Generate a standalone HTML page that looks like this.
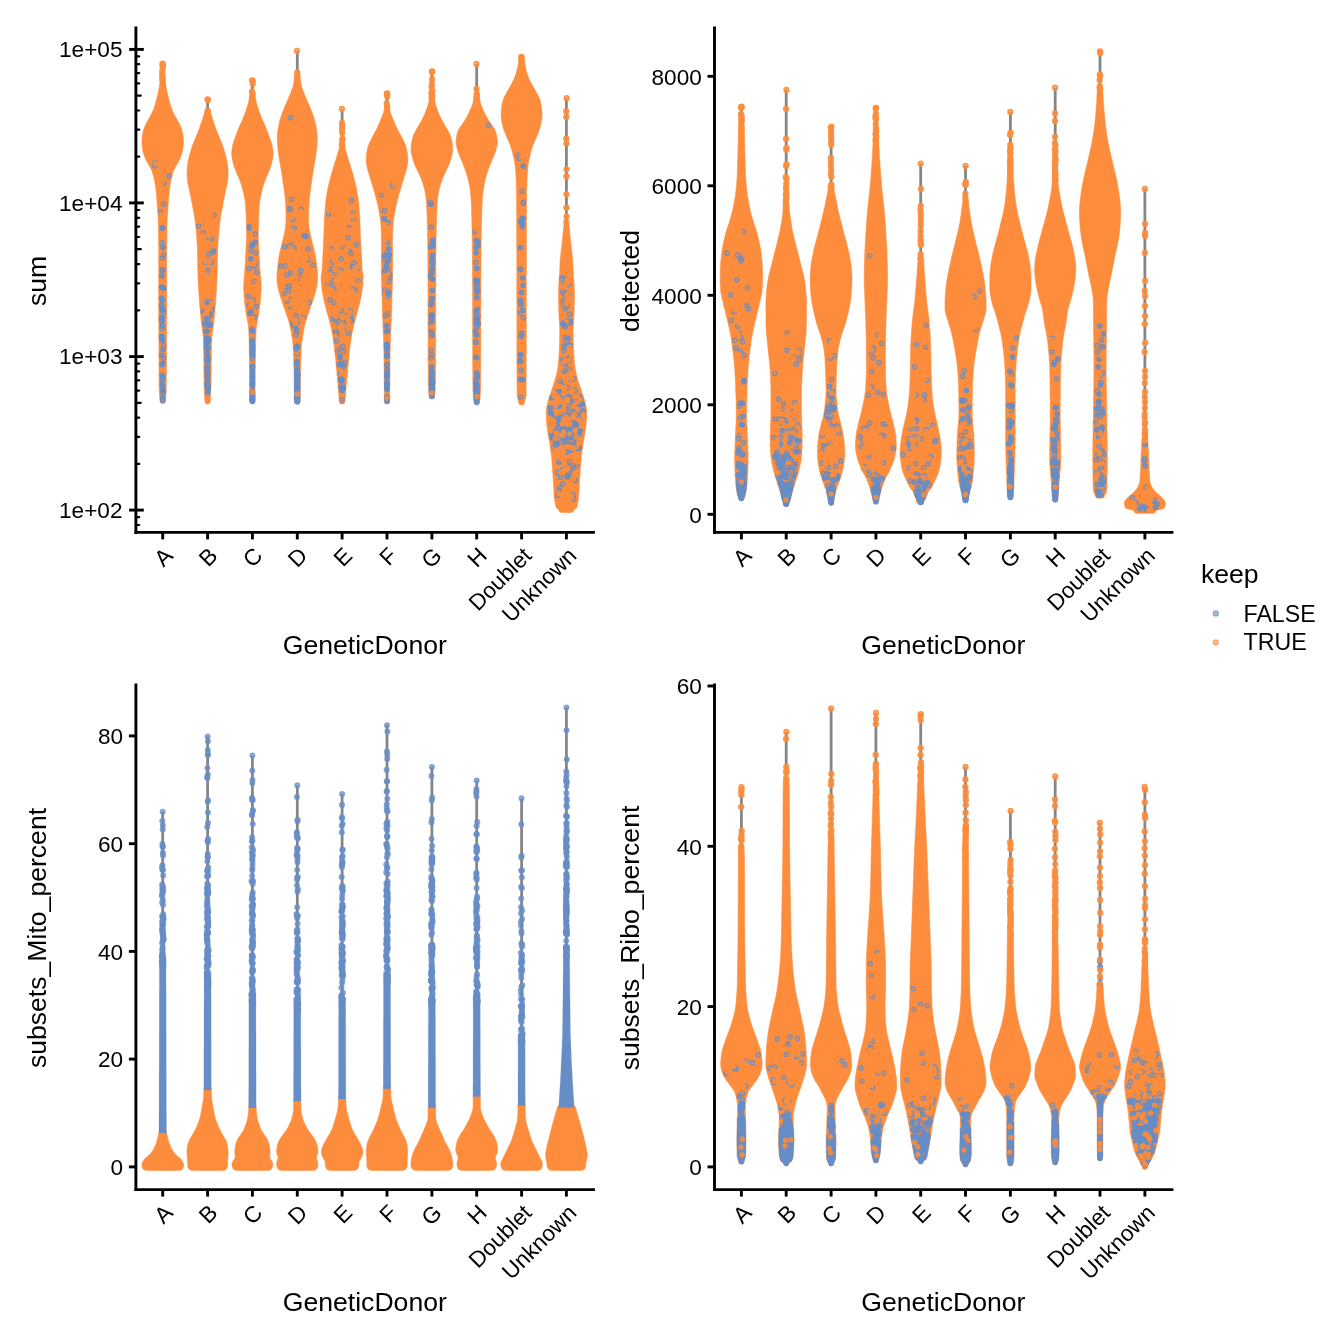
<!DOCTYPE html>
<html><head><meta charset="utf-8"><title>QC violin plots</title>
<style>html,body{margin:0;padding:0;background:#fff;width:1344px;height:1344px;overflow:hidden;font-family:"Liberation Sans",sans-serif}</style>
</head><body>
<svg width="1344" height="1344" viewBox="0 0 1344 1344" style="position:absolute;left:0;top:0;will-change:transform;transform:translateZ(0)">
<rect width="1344" height="1344" fill="#fff"/>
<path d="M162.7 63.9V400.9M207.6 99.3V401.2M252.4 80.5V401.2M297.3 51V401.2M342.1 109V401.2M387 93.4V401.2M431.9 71.4V396.2M476.7 64V402.2M521.6 56.8V402.2M566.4 98.2V509.8M741.4 106.7V498.2M786.2 90V503.9M831.1 126.7V502.6M875.9 108V501.2M920.7 163.6V502.2M965.5 165.8V500.2M1010.4 112V497.2M1055.2 87.7V499.2M1100 51.3V495.6M1144.9 189V510.5M741.4 787.2V1161.5M786.2 732V1163.2M831.1 708.4V1163.2M875.9 712.9V1160.2M920.7 714.2V1161.2M965.5 767V1164.2M1010.4 811V1163.2M1055.2 776.5V1162.2M1100 823V1158.2M1144.9 787V1166.8M162.7 811.8V1131.5M207.6 736.6V1088.4M252.4 755.5V1106.3M297.3 785.4V1099.6M342.1 794V1097.4M387 725.2V1087.3M431.9 767V1106.3M476.7 780.5V1095M521.6 798.4V1104M566.4 707.5V1106" fill="none" stroke="#868686" stroke-width="2.8"/>
<g fill="#FD8D3C" stroke="#FD8D3C" stroke-opacity=".55" stroke-width="1">
<path d="M159.7 83L165.7 83L165.9 85L166.1 87L166.5 89L166.9 91L167.3 93L167.7 95L168.2 97L168.7 99L169.2 101L169.8 103L170.4 105L171 107L171.7 109L172.5 111L173.5 113L174.5 115L175.6 117L176.7 119L177.8 121L178.9 123L179.9 125L180.8 127L181.5 129L182.1 131L182.6 133L182.9 135L183.1 137L183.3 139L183.4 141L183.4 143L183.3 145L183.1 147L182.8 149L182.5 151L182 153L181.4 155L180.6 157L179.7 159L178.7 161L177.7 163L176.5 165L175.3 167L174.3 169L173.5 171L172.8 173L172.2 175L171.7 177L171.2 179L170.8 181L170.4 183L170.1 185L169.8 187L169.5 189L169.3 191L169.1 193L168.9 195L168.7 197L168.6 199L168.4 201L168.3 203L168.2 205L168 207L167.9 209L167.7 211L167.6 213L167.5 215L167.3 217L167.2 219L167.1 221L167.1 223L167 225L167 227L167 229L166.9 231L166.9 233L166.9 235L166.9 237L166.8 239L166.8 241L166.8 243L166.8 245L166.8 247L166.7 249L166.7 251L166.7 253L166.7 255L166.7 257L166.7 259L166.7 261L166.7 263L166.7 265L166.7 267L166.7 269L166.7 271L166.7 273L166.7 275L166.7 277L166.7 279L166.7 281L166.7 283L166.7 285L166.7 287L166.7 289L166.7 291L166.7 293L166.7 295L166.7 297L166.7 299L166.7 301L166.7 303L166.7 305L166.7 307L166.7 309L166.7 311L166.7 313L166.7 315L166.7 317L166.7 319L166.7 321L166.6 323L166.6 325L166.6 327L166.6 329L166.6 331L166.6 333L166.6 335L166.6 337L166.6 339L166.5 341L166.5 343L166.5 345L166.5 347L166.5 349L166.5 351L166.5 353L166.5 355L166.5 357L166.5 359L166.4 361L166.4 363L166.4 365L166.4 367L166.4 369L166.4 371L166.4 373L166.4 375L166.4 377L166.3 379L166.3 381L166.3 383L166.3 385L166.2 387L166.2 389L166.2 391L166.1 393L165.9 395L165.8 397L165.6 399L165.4 401Q165.4 403.7 162.7 403.7L162.7 403.7Q160 403.7 160 401L159.8 399L159.6 397L159.5 395L159.3 393L159.2 391L159.2 389L159.2 387L159.1 385L159.1 383L159.1 381L159.1 379L159 377L159 375L159 373L159 371L159 369L159 367L159 365L159 363L159 361L158.9 359L158.9 357L158.9 355L158.9 353L158.9 351L158.9 349L158.9 347L158.9 345L158.9 343L158.9 341L158.8 339L158.8 337L158.8 335L158.8 333L158.8 331L158.8 329L158.8 327L158.8 325L158.8 323L158.7 321L158.7 319L158.7 317L158.7 315L158.7 313L158.7 311L158.7 309L158.7 307L158.7 305L158.7 303L158.7 301L158.7 299L158.7 297L158.7 295L158.7 293L158.7 291L158.7 289L158.7 287L158.7 285L158.7 283L158.7 281L158.7 279L158.7 277L158.7 275L158.7 273L158.7 271L158.7 269L158.7 267L158.7 265L158.7 263L158.7 261L158.7 259L158.7 257L158.7 255L158.7 253L158.7 251L158.7 249L158.6 247L158.6 245L158.6 243L158.6 241L158.6 239L158.5 237L158.5 235L158.5 233L158.5 231L158.4 229L158.4 227L158.4 225L158.3 223L158.3 221L158.2 219L158.1 217L157.9 215L157.8 213L157.7 211L157.5 209L157.4 207L157.2 205L157.1 203L157 201L156.8 199L156.7 197L156.5 195L156.3 193L156.1 191L155.9 189L155.6 187L155.3 185L155 183L154.6 181L154.2 179L153.7 177L153.2 175L152.6 173L151.9 171L151.1 169L150.1 167L148.9 165L147.7 163L146.7 161L145.7 159L144.8 157L144 155L143.4 153L142.9 151L142.6 149L142.3 147L142.1 145L142 143L142 141L142.1 139L142.3 137L142.5 135L142.8 133L143.3 131L143.9 129L144.6 127L145.5 125L146.5 123L147.6 121L148.7 119L149.8 117L150.9 115L151.9 113L152.9 111L153.7 109L154.4 107L155 105L155.6 103L156.2 101L156.7 99L157.2 97L157.7 95L158.1 93L158.5 91L158.9 89L159.3 87L159.5 85L159.7 83Z"/>
<path d="M204.6 111L210.5 111L210.8 113L211.3 115L212 117L212.6 119L213.2 121L213.8 123L214.5 125L215.2 127L215.9 129L216.7 131L217.5 133L218.4 135L219.2 137L220 139L220.8 141L221.6 143L222.4 145L223.1 147L223.8 149L224.4 151L224.9 153L225.5 155L226 157L226.5 159L227 161.1L227.3 163.1L227.6 165.1L227.8 167.1L227.9 169.1L228 171.1L228.1 173.1L228 175.1L227.9 177.1L227.7 179.1L227.6 181.1L227.3 183.1L226.9 185.1L226.4 187.1L225.9 189.1L225.5 191.1L225.1 193.1L224.7 195.1L224.3 197.1L223.9 199.1L223.5 201.1L223.1 203.1L222.8 205.1L222.4 207.1L222 209.1L221.6 211.1L221.3 213.1L220.9 215.1L220.6 217.1L220.3 219.1L220.1 221.1L219.8 223.1L219.6 225.1L219.3 227.1L219.1 229.1L218.9 231.1L218.7 233.1L218.6 235.1L218.4 237.1L218.3 239.1L218.1 241.1L218 243.1L217.9 245.1L217.8 247.1L217.7 249.1L217.6 251.1L217.6 253.1L217.5 255.1L217.5 257.2L217.5 259.2L217.5 261.2L217.4 263.2L217.4 265.2L217.4 267.2L217.4 269.2L217.3 271.2L217.3 273.2L217.2 275.2L217.1 277.2L217 279.2L216.9 281.2L216.8 283.2L216.7 285.2L216.6 287.2L216.5 289.2L216.4 291.2L216.2 293.2L216.1 295.2L216 297.2L215.8 299.2L215.7 301.2L215.6 303.2L215.4 305.2L215.2 307.2L215 309.2L214.9 311.2L214.7 313.2L214.5 315.2L214.3 317.2L214.1 319.2L213.9 321.2L213.7 323.2L213.4 325.2L213.2 327.2L212.9 329.2L212.6 331.2L212.3 333.2L212 335.2L211.8 337.2L211.7 339.2L211.6 341.2L211.6 343.2L211.5 345.2L211.5 347.2L211.5 349.2L211.4 351.2L211.4 353.3L211.4 355.3L211.4 357.3L211.4 359.3L211.3 361.3L211.3 363.3L211.3 365.3L211.3 367.3L211.3 369.3L211.3 371.3L211.2 373.3L211.2 375.3L211.2 377.3L211.2 379.3L211.1 381.3L211.1 383.3L211.1 385.3L211 387.3L210.9 389.3L210.8 391.3L210.7 393.3L210.6 395.3L210.5 397.3L210.4 399.3L210.3 401.3Q210.3 404 207.6 404L207.6 404Q204.9 404 204.9 401.3L204.7 399.3L204.6 397.3L204.5 395.3L204.4 393.3L204.3 391.3L204.2 389.3L204.1 387.3L204.1 385.3L204 383.3L204 381.3L204 379.3L203.9 377.3L203.9 375.3L203.9 373.3L203.9 371.3L203.8 369.3L203.8 367.3L203.8 365.3L203.8 363.3L203.8 361.3L203.8 359.3L203.7 357.3L203.7 355.3L203.7 353.3L203.7 351.2L203.6 349.2L203.6 347.2L203.6 345.2L203.5 343.2L203.5 341.2L203.4 339.2L203.3 337.2L203.1 335.2L202.9 333.2L202.6 331.2L202.3 329.2L202 327.2L201.7 325.2L201.4 323.2L201.2 321.2L201 319.2L200.8 317.2L200.6 315.2L200.4 313.2L200.3 311.2L200.1 309.2L199.9 307.2L199.7 305.2L199.6 303.2L199.4 301.2L199.3 299.2L199.1 297.2L199 295.2L198.9 293.2L198.8 291.2L198.6 289.2L198.5 287.2L198.4 285.2L198.3 283.2L198.2 281.2L198.1 279.2L198 277.2L197.9 275.2L197.9 273.2L197.8 271.2L197.8 269.2L197.7 267.2L197.7 265.2L197.7 263.2L197.7 261.2L197.6 259.2L197.6 257.2L197.6 255.1L197.6 253.1L197.5 251.1L197.4 249.1L197.4 247.1L197.2 245.1L197.1 243.1L197 241.1L196.9 239.1L196.7 237.1L196.6 235.1L196.4 233.1L196.2 231.1L196 229.1L195.8 227.1L195.6 225.1L195.3 223.1L195.1 221.1L194.8 219.1L194.5 217.1L194.2 215.1L193.9 213.1L193.5 211.1L193.1 209.1L192.7 207.1L192.4 205.1L192 203.1L191.6 201.1L191.2 199.1L190.8 197.1L190.4 195.1L190 193.1L189.6 191.1L189.2 189.1L188.7 187.1L188.2 185.1L187.8 183.1L187.6 181.1L187.4 179.1L187.2 177.1L187.1 175.1L187.1 173.1L187.1 171.1L187.2 169.1L187.4 167.1L187.6 165.1L187.8 163.1L188.1 161.1L188.6 159L189.1 157L189.6 155L190.2 153L190.8 151L191.4 149L192 147L192.7 145L193.5 143L194.3 141L195.1 139L195.9 137L196.8 135L197.6 133L198.4 131L199.2 129L199.9 127L200.6 125L201.3 123L202 121L202.6 119L203.2 117L203.8 115L204.3 113L204.6 111Z"/>
<path d="M249.4 97L255.4 97L255.7 99L256 101L256.4 103L257 105L257.7 107L258.3 109L259 111L259.7 113L260.5 115L261.2 117L262 119L262.9 121L263.8 123L264.7 125L265.6 127L266.4 129L267.2 131L268 133L268.7 135L269.4 137L270.1 139L270.8 141L271.5 143L272 145L272.4 147L272.8 149.1L273 151.1L273.1 153.1L273 155.1L272.8 157.1L272.5 159.1L272.1 161.1L271.6 163.1L271.2 165.1L270.5 167.1L269.8 169.1L269 171.1L268.2 173.1L267.4 175.1L266.5 177.1L265.6 179.1L264.8 181.1L264.1 183.1L263.4 185.1L262.8 187.1L262.3 189.1L261.8 191.1L261.4 193.1L260.9 195.1L260.4 197.1L260.1 199.1L259.7 201.1L259.5 203.1L259.3 205.1L259.2 207.1L259.1 209.1L258.9 211.1L258.8 213.1L258.8 215.1L258.7 217.1L258.6 219.1L258.6 221.1L258.5 223.1L258.5 225.1L258.4 227.1L258.4 229.1L258.3 231.1L258.3 233.1L258.3 235.1L258.3 237.1L258.4 239.1L258.4 241.1L258.5 243.1L258.6 245.1L258.7 247.1L258.8 249.2L258.9 251.2L259 253.2L259.1 255.2L259.2 257.2L259.3 259.2L259.5 261.2L259.6 263.2L259.7 265.2L259.8 267.2L260 269.2L260.1 271.2L260.3 273.2L260.4 275.2L260.6 277.2L260.8 279.2L260.9 281.2L261.1 283.2L261.1 285.2L261.2 287.2L261.1 289.2L261.1 291.2L260.9 293.2L260.8 295.2L260.6 297.2L260.5 299.2L260.3 301.2L260.1 303.2L259.8 305.2L259.6 307.2L259.3 309.2L259 311.2L258.7 313.2L258.4 315.2L258 317.2L257.7 319.2L257.3 321.2L256.9 323.2L256.6 325.2L256.3 327.2L256.1 329.2L256 331.2L256 333.2L255.9 335.2L255.9 337.2L255.8 339.2L255.8 341.2L255.7 343.2L255.7 345.2L255.6 347.2L255.6 349.2L255.5 351.3L255.5 353.3L255.5 355.3L255.4 357.3L255.4 359.3L255.4 361.3L255.4 363.3L255.3 365.3L255.3 367.3L255.3 369.3L255.3 371.3L255.2 373.3L255.2 375.3L255.2 377.3L255.2 379.3L255.2 381.3L255.2 383.3L255.2 385.3L255.1 387.3L255.1 389.3L255.1 391.3L255.1 393.3L255.1 395.3L255.1 397.3L255.1 399.3L255.1 401.3Q255.1 404 252.4 404L252.4 404Q249.7 404 249.7 401.3L249.7 399.3L249.7 397.3L249.7 395.3L249.7 393.3L249.7 391.3L249.7 389.3L249.7 387.3L249.7 385.3L249.7 383.3L249.7 381.3L249.6 379.3L249.6 377.3L249.6 375.3L249.6 373.3L249.6 371.3L249.6 369.3L249.5 367.3L249.5 365.3L249.5 363.3L249.5 361.3L249.4 359.3L249.4 357.3L249.4 355.3L249.3 353.3L249.3 351.3L249.3 349.2L249.2 347.2L249.2 345.2L249.1 343.2L249.1 341.2L249 339.2L249 337.2L248.9 335.2L248.9 333.2L248.8 331.2L248.7 329.2L248.5 327.2L248.3 325.2L247.9 323.2L247.6 321.2L247.2 319.2L246.8 317.2L246.5 315.2L246.2 313.2L245.9 311.2L245.6 309.2L245.3 307.2L245 305.2L244.7 303.2L244.5 301.2L244.4 299.2L244.2 297.2L244 295.2L243.9 293.2L243.8 291.2L243.7 289.2L243.7 287.2L243.7 285.2L243.8 283.2L243.9 281.2L244.1 279.2L244.2 277.2L244.4 275.2L244.6 273.2L244.7 271.2L244.9 269.2L245 267.2L245.1 265.2L245.3 263.2L245.4 261.2L245.5 259.2L245.6 257.2L245.7 255.2L245.8 253.2L245.9 251.2L246 249.2L246.1 247.1L246.2 245.1L246.3 243.1L246.4 241.1L246.5 239.1L246.5 237.1L246.5 235.1L246.5 233.1L246.5 231.1L246.5 229.1L246.4 227.1L246.4 225.1L246.3 223.1L246.3 221.1L246.2 219.1L246.2 217.1L246.1 215.1L246 213.1L245.9 211.1L245.8 209.1L245.7 207.1L245.5 205.1L245.3 203.1L245.1 201.1L244.8 199.1L244.4 197.1L244 195.1L243.5 193.1L243 191.1L242.5 189.1L242 187.1L241.4 185.1L240.8 183.1L240.1 181.1L239.3 179.1L238.4 177.1L237.5 175.1L236.6 173.1L235.9 171.1L235.1 169.1L234.3 167.1L233.7 165.1L233.2 163.1L232.8 161.1L232.4 159.1L232 157.1L231.8 155.1L231.7 153.1L231.8 151.1L232.1 149.1L232.4 147L232.8 145L233.3 143L234 141L234.7 139L235.4 137L236.1 135L236.8 133L237.6 131L238.4 129L239.2 127L240.1 125L241 123L242 121L242.8 119L243.6 117L244.4 115L245.1 113L245.8 111L246.5 109L247.2 107L247.8 105L248.4 103L248.8 101L249.1 99L249.4 97Z"/>
<path d="M294.6 72A2.7 2.7 0 0 1 300 72L300 74L300.1 76L300.3 78L300.5 80L300.7 82L300.9 84L301.4 86.1L302 88.1L302.8 90.1L303.5 92.1L304.3 94.1L305.1 96.1L306 98.1L306.9 100.1L307.8 102.1L308.6 104.1L309.5 106.1L310.3 108.1L311.1 110.1L311.9 112.2L312.7 114.2L313.4 116.2L314 118.2L314.6 120.2L315.1 122.2L315.6 124.2L316 126.2L316.3 128.2L316.6 130.2L316.9 132.2L317.1 134.2L317.3 136.2L317.3 138.3L317.2 140.3L317.1 142.3L317 144.3L316.9 146.3L316.7 148.3L316.5 150.3L316.2 152.3L316 154.3L315.7 156.3L315.4 158.3L315 160.3L314.7 162.3L314.3 164.4L314 166.4L313.6 168.4L313.2 170.4L312.9 172.4L312.6 174.4L312.3 176.4L312.1 178.4L311.8 180.4L311.5 182.4L311.2 184.4L310.9 186.4L310.6 188.4L310.3 190.4L310.1 192.5L309.8 194.5L309.6 196.5L309.4 198.5L309.2 200.5L309.1 202.5L309 204.5L308.9 206.5L308.8 208.5L308.7 210.5L308.6 212.5L308.6 214.5L308.5 216.5L308.5 218.6L308.6 220.6L308.7 222.6L308.8 224.6L308.9 226.6L309.2 228.6L309.5 230.6L310 232.6L310.4 234.6L310.8 236.6L311.3 238.6L311.8 240.6L312.3 242.6L312.8 244.7L313.4 246.7L313.9 248.7L314.4 250.7L314.8 252.7L315.2 254.7L315.5 256.7L315.9 258.7L316.2 260.7L316.4 262.7L316.7 264.7L316.9 266.7L317.1 268.7L317.3 270.8L317.5 272.8L317.6 274.8L317.7 276.8L317.7 278.8L317.5 280.8L317.3 282.8L317 284.8L316.7 286.8L316.3 288.8L315.8 290.8L315.2 292.8L314.6 294.8L314 296.9L313.4 298.9L312.7 300.9L312 302.9L311.3 304.9L310.6 306.9L309.9 308.9L309.2 310.9L308.5 312.9L307.8 314.9L307.2 316.9L306.5 318.9L305.9 320.9L305.3 323L304.8 325L304.3 327L303.9 329L303.5 331L303.2 333L302.9 335L302.6 337L302.3 339L302 341L301.7 343L301.5 345L301.4 347L301.3 349.1L301.2 351.1L301.1 353.1L301 355.1L301 357.1L300.9 359.1L300.8 361.1L300.8 363.1L300.7 365.1L300.7 367.1L300.6 369.1L300.6 371.1L300.5 373.1L300.5 375.2L300.4 377.2L300.4 379.2L300.3 381.2L300.3 383.2L300.3 385.2L300.3 387.2L300.2 389.2L300.2 391.2L300.2 393.2L300.2 395.2L300.2 397.2L300.2 399.2L300.2 401.2Q300.2 404 297.4 404L297.1 404Q294.4 404 294.4 401.2L294.4 399.2L294.4 397.2L294.4 395.2L294.4 393.2L294.3 391.2L294.3 389.2L294.3 387.2L294.3 385.2L294.2 383.2L294.2 381.2L294.2 379.2L294.1 377.2L294.1 375.2L294.1 373.1L294 371.1L294 369.1L293.9 367.1L293.8 365.1L293.8 363.1L293.7 361.1L293.7 359.1L293.6 357.1L293.5 355.1L293.4 353.1L293.4 351.1L293.3 349.1L293.2 347L293 345L292.8 343L292.6 341L292.3 339L292 337L291.7 335L291.4 333L291 331L290.7 329L290.2 327L289.7 325L289.2 323L288.7 320.9L288.1 318.9L287.4 316.9L286.7 314.9L286 312.9L285.4 310.9L284.6 308.9L283.9 306.9L283.2 304.9L282.5 302.9L281.9 300.9L281.2 298.9L280.5 296.9L279.9 294.8L279.3 292.8L278.7 290.8L278.2 288.8L277.9 286.8L277.5 284.8L277.2 282.8L277 280.8L276.9 278.8L276.9 276.8L277 274.8L277.1 272.8L277.3 270.8L277.5 268.7L277.7 266.7L277.9 264.7L278.1 262.7L278.4 260.7L278.7 258.7L279 256.7L279.4 254.7L279.7 252.7L280.2 250.7L280.7 248.7L281.2 246.7L281.7 244.7L282.2 242.6L282.7 240.6L283.2 238.6L283.7 236.6L284.2 234.6L284.6 232.6L285 230.6L285.4 228.6L285.6 226.6L285.8 224.6L285.9 222.6L286 220.6L286 218.6L286 216.5L286 214.5L285.9 212.5L285.9 210.5L285.8 208.5L285.7 206.5L285.6 204.5L285.5 202.5L285.3 200.5L285.1 198.5L284.9 196.5L284.7 194.5L284.5 192.5L284.2 190.4L284 188.4L283.7 186.4L283.3 184.4L283 182.4L282.8 180.4L282.5 178.4L282.3 176.4L282 174.4L281.7 172.4L281.3 170.4L281 168.4L280.6 166.4L280.2 164.4L279.9 162.3L279.5 160.3L279.2 158.3L278.9 156.3L278.6 154.3L278.3 152.3L278.1 150.3L277.9 148.3L277.7 146.3L277.6 144.3L277.4 142.3L277.4 140.3L277.3 138.3L277.3 136.2L277.4 134.2L277.6 132.2L277.9 130.2L278.2 128.2L278.6 126.2L279 124.2L279.4 122.2L280 120.2L280.5 118.2L281.2 116.2L281.9 114.2L282.7 112.2L283.5 110.1L284.3 108.1L285.1 106.1L286 104.1L286.8 102.1L287.7 100.1L288.5 98.1L289.4 96.1L290.3 94.1L291 92.1L291.8 90.1L292.5 88.1L293.2 86.1L293.6 84L293.9 82L294.1 80L294.3 78L294.4 76L294.5 74L294.6 72Z"/>
<path d="M339.3 148L345 148L345.5 150L346.1 152L346.8 154L347.3 156L347.9 158L348.5 160.1L349.2 162.1L349.8 164.1L350.4 166.1L351 168.1L351.6 170.1L352.2 172.1L352.8 174.1L353.3 176.1L353.9 178.1L354.5 180.2L355 182.2L355.5 184.2L355.9 186.2L356.4 188.2L356.8 190.2L357.1 192.2L357.4 194.2L357.8 196.2L358.1 198.2L358.3 200.3L358.6 202.3L358.8 204.3L359 206.3L359.1 208.3L359.3 210.3L359.4 212.3L359.6 214.3L359.7 216.3L359.8 218.3L359.9 220.4L360 222.4L360 224.4L360.1 226.4L360.2 228.4L360.3 230.4L360.3 232.4L360.4 234.4L360.5 236.4L360.6 238.4L360.7 240.5L360.8 242.5L360.9 244.5L361 246.5L361.1 248.5L361.2 250.5L361.3 252.5L361.4 254.5L361.5 256.5L361.6 258.5L361.7 260.6L361.8 262.6L361.9 264.6L362 266.6L362.1 268.6L362.3 270.6L362.6 272.6L362.9 274.6L363.1 276.6L363.1 278.6L363.1 280.7L362.9 282.7L362.8 284.7L362.6 286.7L362.4 288.7L362.1 290.7L361.7 292.7L361.4 294.7L361 296.7L360.6 298.7L360.1 300.8L359.7 302.8L359.2 304.8L358.7 306.8L358.1 308.8L357.6 310.8L357 312.8L356.5 314.8L356 316.8L355.4 318.8L354.9 320.9L354.3 322.9L353.8 324.9L353.3 326.9L352.9 328.9L352.5 330.9L352.1 332.9L351.7 334.9L351.4 336.9L351.1 338.9L350.8 341L350.5 343L350.2 345L350 347L349.7 349L349.5 351L349.3 353L349.1 355L348.9 357L348.7 359L348.5 361.1L348.3 363.1L348.1 365.1L347.9 367.1L347.7 369.1L347.6 371.1L347.4 373.1L347.2 375.1L347 377.1L346.8 379.1L346.7 381.2L346.5 383.2L346.3 385.2L346.2 387.2L346 389.2L345.8 391.2L345.7 393.2L345.5 395.2L345.3 397.2L345.2 399.2L345 401.2Q345 404 342.3 404L342 404Q339.2 404 339.2 401.2L339.1 399.2L338.9 397.2L338.8 395.2L338.6 393.2L338.5 391.2L338.3 389.2L338.1 387.2L338 385.2L337.8 383.2L337.6 381.2L337.4 379.1L337.3 377.1L337.1 375.1L336.9 373.1L336.7 371.1L336.5 369.1L336.3 367.1L336.2 365.1L336 363.1L335.8 361.1L335.6 359L335.4 357L335.2 355L335 353L334.8 351L334.5 349L334.3 347L334 345L333.8 343L333.5 341L333.2 338.9L332.9 336.9L332.5 334.9L332.2 332.9L331.8 330.9L331.4 328.9L331 326.9L330.5 324.9L329.9 322.9L329.4 320.9L328.9 318.8L328.3 316.8L327.8 314.8L327.2 312.8L326.7 310.8L326.1 308.8L325.6 306.8L325.1 304.8L324.6 302.8L324.1 300.8L323.7 298.7L323.3 296.7L322.9 294.7L322.5 292.7L322.2 290.7L321.9 288.7L321.7 286.7L321.5 284.7L321.3 282.7L321.2 280.7L321.1 278.6L321.2 276.6L321.4 274.6L321.7 272.6L322 270.6L322.2 268.6L322.3 266.6L322.4 264.6L322.5 262.6L322.6 260.6L322.7 258.5L322.8 256.5L322.9 254.5L323 252.5L323.1 250.5L323.2 248.5L323.3 246.5L323.4 244.5L323.5 242.5L323.6 240.5L323.7 238.4L323.8 236.4L323.9 234.4L323.9 232.4L324 230.4L324.1 228.4L324.2 226.4L324.2 224.4L324.3 222.4L324.4 220.4L324.5 218.3L324.6 216.3L324.7 214.3L324.9 212.3L325 210.3L325.2 208.3L325.3 206.3L325.5 204.3L325.7 202.3L326 200.3L326.2 198.2L326.5 196.2L326.8 194.2L327.2 192.2L327.5 190.2L327.9 188.2L328.4 186.2L328.8 184.2L329.3 182.2L329.8 180.2L330.4 178.1L330.9 176.1L331.5 174.1L332.1 172.1L332.7 170.1L333.3 168.1L333.9 166.1L334.5 164.1L335.1 162.1L335.8 160.1L336.4 158L337 156L337.5 154L338.2 152L338.8 150L339.3 148Z"/>
<path d="M384 110L390 110L390.2 112L390.9 114L391.7 116L392.6 118L393.4 120L394.2 122.1L395 124.1L395.9 126.1L396.8 128.1L397.8 130.1L398.9 132.1L400 134.1L401.1 136.1L402.1 138.1L403.1 140.1L404.2 142.1L405.1 144.2L405.8 146.2L406.4 148.2L406.8 150.2L407.2 152.2L407.4 154.2L407.6 156.2L407.8 158.2L407.8 160.2L407.7 162.2L407.4 164.2L407.1 166.3L406.7 168.3L406.2 170.3L405.5 172.3L404.9 174.3L404.3 176.3L403.7 178.3L403.1 180.3L402.5 182.3L401.9 184.3L401.3 186.3L400.7 188.3L400.1 190.4L399.5 192.4L398.9 194.4L398.4 196.4L397.8 198.4L397.3 200.4L396.8 202.4L396.4 204.4L395.9 206.4L395.5 208.4L395.1 210.4L394.8 212.5L394.4 214.5L394.1 216.5L393.8 218.5L393.5 220.5L393.3 222.5L393.1 224.5L393 226.5L392.9 228.5L392.8 230.5L392.7 232.5L392.7 234.6L392.6 236.6L392.6 238.6L392.5 240.6L392.5 242.6L392.5 244.6L392.5 246.6L392.5 248.6L392.6 250.6L392.6 252.6L392.6 254.6L392.7 256.7L392.7 258.7L392.7 260.7L392.7 262.7L392.7 264.7L392.7 266.7L392.6 268.7L392.6 270.7L392.6 272.7L392.6 274.7L392.5 276.7L392.5 278.8L392.4 280.8L392.4 282.8L392.3 284.8L392.3 286.8L392.2 288.8L392.2 290.8L392.1 292.8L392.1 294.8L392 296.8L391.9 298.8L391.9 300.9L391.8 302.9L391.8 304.9L391.7 306.9L391.6 308.9L391.6 310.9L391.5 312.9L391.5 314.9L391.4 316.9L391.3 318.9L391.2 320.9L391.2 323L391.1 325L391 327L390.9 329L390.8 331L390.7 333L390.6 335L390.6 337L390.5 339L390.4 341L390.3 343L390.3 345L390.2 347.1L390.2 349.1L390.2 351.1L390.1 353.1L390.1 355.1L390.1 357.1L390 359.1L390 361.1L390 363.1L390 365.1L389.9 367.1L389.9 369.2L389.9 371.2L389.9 373.2L389.8 375.2L389.8 377.2L389.8 379.2L389.8 381.2L389.8 383.2L389.8 385.2L389.7 387.2L389.7 389.2L389.7 391.3L389.7 393.3L389.7 395.3L389.7 397.3L389.7 399.3L389.7 401.3Q389.7 404 387 404L387 404Q384.3 404 384.3 401.3L384.3 399.3L384.3 397.3L384.3 395.3L384.3 393.3L384.3 391.3L384.3 389.2L384.3 387.2L384.2 385.2L384.2 383.2L384.2 381.2L384.2 379.2L384.2 377.2L384.2 375.2L384.1 373.2L384.1 371.2L384.1 369.2L384.1 367.1L384 365.1L384 363.1L384 361.1L384 359.1L383.9 357.1L383.9 355.1L383.9 353.1L383.8 351.1L383.8 349.1L383.8 347.1L383.7 345L383.7 343L383.6 341L383.5 339L383.4 337L383.4 335L383.3 333L383.2 331L383.1 329L383 327L382.9 325L382.8 323L382.8 320.9L382.7 318.9L382.6 316.9L382.5 314.9L382.5 312.9L382.4 310.9L382.4 308.9L382.3 306.9L382.2 304.9L382.2 302.9L382.1 300.9L382.1 298.8L382 296.8L381.9 294.8L381.9 292.8L381.8 290.8L381.8 288.8L381.7 286.8L381.7 284.8L381.6 282.8L381.6 280.8L381.5 278.8L381.5 276.7L381.4 274.7L381.4 272.7L381.4 270.7L381.4 268.7L381.3 266.7L381.3 264.7L381.3 262.7L381.3 260.7L381.3 258.7L381.3 256.7L381.4 254.6L381.4 252.6L381.4 250.6L381.5 248.6L381.5 246.6L381.5 244.6L381.5 242.6L381.5 240.6L381.4 238.6L381.4 236.6L381.3 234.6L381.3 232.5L381.2 230.5L381.1 228.5L381 226.5L380.9 224.5L380.7 222.5L380.5 220.5L380.2 218.5L379.9 216.5L379.6 214.5L379.2 212.5L378.9 210.4L378.5 208.4L378.1 206.4L377.6 204.4L377.2 202.4L376.7 200.4L376.2 198.4L375.6 196.4L375.1 194.4L374.5 192.4L373.9 190.4L373.3 188.3L372.7 186.3L372.1 184.3L371.5 182.3L370.9 180.3L370.3 178.3L369.7 176.3L369.1 174.3L368.5 172.3L367.8 170.3L367.3 168.3L366.9 166.3L366.6 164.2L366.3 162.2L366.2 160.2L366.2 158.2L366.4 156.2L366.6 154.2L366.8 152.2L367.2 150.2L367.6 148.2L368.2 146.2L368.9 144.2L369.8 142.1L370.9 140.1L371.9 138.1L372.9 136.1L374 134.1L375.1 132.1L376.2 130.1L377.2 128.1L378.1 126.1L379 124.1L379.8 122.1L380.6 120L381.4 118L382.3 116L383.1 114L383.8 112L384 110Z"/>
<path d="M428.9 101L434.9 101L435.2 103L435.7 105L436.3 107L437 109L437.7 111L438.5 113.1L439.4 115.1L440.3 117.1L441.3 119.1L442.4 121.1L443.5 123.1L444.7 125.1L445.9 127.1L447 129.1L448.1 131.1L449.2 133.1L450.2 135.2L450.9 137.2L451.5 139.2L451.9 141.2L452.2 143.2L452.4 145.2L452.6 147.2L452.7 149.2L452.6 151.2L452.3 153.2L451.9 155.2L451.4 157.2L450.9 159.3L450.2 161.3L449.5 163.3L448.7 165.3L447.8 167.3L446.8 169.3L445.8 171.3L444.9 173.3L444 175.3L443.1 177.3L442.3 179.3L441.5 181.4L440.8 183.4L440.2 185.4L439.6 187.4L439.1 189.4L438.7 191.4L438.3 193.4L438 195.4L437.7 197.4L437.5 199.4L437.3 201.4L437.2 203.5L437.1 205.5L437 207.5L436.9 209.5L436.8 211.5L436.7 213.5L436.6 215.5L436.6 217.5L436.5 219.5L436.5 221.5L436.4 223.5L436.4 225.5L436.3 227.6L436.3 229.6L436.2 231.6L436.2 233.6L436.2 235.6L436.1 237.6L436.1 239.6L436.1 241.6L436 243.6L436 245.6L436 247.6L436 249.7L435.9 251.7L435.9 253.7L435.9 255.7L435.9 257.7L435.9 259.7L435.8 261.7L435.8 263.7L435.8 265.7L435.8 267.7L435.8 269.7L435.8 271.8L435.8 273.8L435.8 275.8L435.8 277.8L435.8 279.8L435.8 281.8L435.8 283.8L435.7 285.8L435.7 287.8L435.7 289.8L435.7 291.8L435.7 293.8L435.7 295.9L435.7 297.9L435.7 299.9L435.7 301.9L435.7 303.9L435.7 305.9L435.7 307.9L435.7 309.9L435.7 311.9L435.7 313.9L435.7 315.9L435.7 318L435.7 320L435.7 322L435.7 324L435.7 326L435.7 328L435.7 330L435.7 332L435.7 334L435.7 336L435.7 338L435.7 340.1L435.6 342.1L435.6 344.1L435.6 346.1L435.6 348.1L435.6 350.1L435.6 352.1L435.6 354.1L435.6 356.1L435.6 358.1L435.6 360.1L435.6 362.1L435.6 364.2L435.6 366.2L435.5 368.2L435.5 370.2L435.5 372.2L435.5 374.2L435.5 376.2L435.5 378.2L435.5 380.2L435.4 382.2L435.3 384.2L435.2 386.3L435.1 388.3L435 390.3L434.8 392.3L434.7 394.3L434.6 396.3Q434.6 399 431.9 399L431.9 399Q429.2 399 429.2 396.3L429 394.3L428.9 392.3L428.7 390.3L428.6 388.3L428.5 386.3L428.4 384.2L428.3 382.2L428.3 380.2L428.2 378.2L428.2 376.2L428.2 374.2L428.2 372.2L428.2 370.2L428.2 368.2L428.2 366.2L428.2 364.2L428.1 362.1L428.1 360.1L428.1 358.1L428.1 356.1L428.1 354.1L428.1 352.1L428.1 350.1L428.1 348.1L428.1 346.1L428.1 344.1L428.1 342.1L428.1 340.1L428.1 338L428.1 336L428.1 334L428.1 332L428 330L428 328L428 326L428 324L428 322L428 320L428 318L428 315.9L428 313.9L428 311.9L428 309.9L428 307.9L428 305.9L428 303.9L428 301.9L428 299.9L428 297.9L428 295.9L428 293.8L428 291.8L428 289.8L428 287.8L428 285.8L428 283.8L428 281.8L428 279.8L427.9 277.8L427.9 275.8L427.9 273.8L427.9 271.8L427.9 269.7L427.9 267.7L427.9 265.7L427.9 263.7L427.9 261.7L427.9 259.7L427.8 257.7L427.8 255.7L427.8 253.7L427.8 251.7L427.8 249.7L427.7 247.6L427.7 245.6L427.7 243.6L427.7 241.6L427.6 239.6L427.6 237.6L427.6 235.6L427.5 233.6L427.5 231.6L427.4 229.6L427.4 227.6L427.3 225.5L427.3 223.5L427.3 221.5L427.2 219.5L427.1 217.5L427.1 215.5L427 213.5L426.9 211.5L426.8 209.5L426.7 207.5L426.6 205.5L426.5 203.5L426.4 201.4L426.2 199.4L426 197.4L425.7 195.4L425.4 193.4L425 191.4L424.6 189.4L424.1 187.4L423.5 185.4L422.9 183.4L422.2 181.4L421.5 179.3L420.6 177.3L419.7 175.3L418.8 173.3L417.9 171.3L416.9 169.3L415.9 167.3L415 165.3L414.2 163.3L413.5 161.3L412.8 159.3L412.3 157.2L411.9 155.2L411.4 153.2L411.1 151.2L411.1 149.2L411.1 147.2L411.3 145.2L411.5 143.2L411.8 141.2L412.3 139.2L412.8 137.2L413.5 135.2L414.5 133.1L415.6 131.1L416.7 129.1L417.8 127.1L419 125.1L420.2 123.1L421.4 121.1L422.4 119.1L423.4 117.1L424.3 115.1L425.2 113.1L426 111L426.7 109L427.4 107L428 105L428.6 103L428.9 101Z"/>
<path d="M473.7 98L479.7 98L479.9 100L480.2 102L480.7 104L481.5 106L482.4 108L483.2 110L484.1 112L485 114L486.1 116L487.2 118L488.3 120L489.7 122L491.1 124L492.4 126L493.9 128L495 130L495.8 132L496.3 134L496.7 136L497 138L497.3 140L497.4 142L497.3 144L497 146L496.5 148L495.9 150.1L495.3 152.1L494.5 154.1L493.7 156.1L492.9 158.1L492 160.1L491.2 162.1L490.4 164.1L489.6 166.1L488.8 168.1L488.1 170.1L487.4 172.1L486.8 174.1L486.2 176.1L485.7 178.1L485.2 180.1L484.7 182.1L484.3 184.1L483.9 186.1L483.5 188.1L483.2 190.1L483 192.1L482.8 194.1L482.6 196.1L482.4 198.1L482.3 200.1L482.2 202.1L482.1 204.1L482 206.1L481.9 208.1L481.9 210.1L481.8 212.1L481.7 214.1L481.7 216.1L481.6 218.1L481.6 220.1L481.5 222.1L481.5 224.1L481.5 226.1L481.4 228.1L481.4 230.1L481.3 232.1L481.3 234.1L481.3 236.1L481.3 238.1L481.2 240.1L481.2 242.1L481.2 244.1L481.1 246.1L481.1 248.1L481.1 250.2L481.1 252.2L481.1 254.2L481 256.2L481 258.2L481 260.2L481 262.2L481 264.2L481 266.2L481 268.2L481 270.2L480.9 272.2L480.9 274.2L480.9 276.2L480.9 278.2L480.9 280.2L480.9 282.2L480.9 284.2L480.9 286.2L480.9 288.2L480.9 290.2L480.9 292.2L480.9 294.2L480.9 296.2L480.9 298.2L480.9 300.2L480.9 302.2L480.9 304.2L480.8 306.2L480.8 308.2L480.8 310.2L480.8 312.2L480.8 314.2L480.8 316.2L480.8 318.2L480.8 320.2L480.8 322.2L480.8 324.2L480.8 326.2L480.8 328.2L480.8 330.2L480.8 332.2L480.8 334.2L480.8 336.2L480.8 338.2L480.8 340.2L480.8 342.2L480.8 344.2L480.8 346.2L480.8 348.2L480.8 350.2L480.8 352.3L480.7 354.3L480.7 356.3L480.7 358.3L480.7 360.3L480.7 362.3L480.7 364.3L480.7 366.3L480.7 368.3L480.7 370.3L480.7 372.3L480.6 374.3L480.6 376.3L480.6 378.3L480.6 380.3L480.6 382.3L480.6 384.3L480.6 386.3L480.5 388.3L480.5 390.3L480.4 392.3L480.3 394.3L480.1 396.3L479.9 398.3L479.6 400.3L479.4 402.3Q479.4 405 476.7 405L476.7 405Q474 405 474 402.3L473.8 400.3L473.6 398.3L473.4 396.3L473.2 394.3L473 392.3L472.9 390.3L472.9 388.3L472.9 386.3L472.9 384.3L472.9 382.3L472.8 380.3L472.8 378.3L472.8 376.3L472.8 374.3L472.8 372.3L472.8 370.3L472.8 368.3L472.7 366.3L472.7 364.3L472.7 362.3L472.7 360.3L472.7 358.3L472.7 356.3L472.7 354.3L472.7 352.3L472.7 350.2L472.7 348.2L472.7 346.2L472.7 344.2L472.7 342.2L472.7 340.2L472.6 338.2L472.6 336.2L472.6 334.2L472.6 332.2L472.6 330.2L472.6 328.2L472.6 326.2L472.6 324.2L472.6 322.2L472.6 320.2L472.6 318.2L472.6 316.2L472.6 314.2L472.6 312.2L472.6 310.2L472.6 308.2L472.6 306.2L472.6 304.2L472.6 302.2L472.6 300.2L472.6 298.2L472.6 296.2L472.6 294.2L472.6 292.2L472.6 290.2L472.6 288.2L472.5 286.2L472.5 284.2L472.5 282.2L472.5 280.2L472.5 278.2L472.5 276.2L472.5 274.2L472.5 272.2L472.5 270.2L472.5 268.2L472.5 266.2L472.4 264.2L472.4 262.2L472.4 260.2L472.4 258.2L472.4 256.2L472.4 254.2L472.4 252.2L472.3 250.2L472.3 248.1L472.3 246.1L472.3 244.1L472.2 242.1L472.2 240.1L472.2 238.1L472.2 236.1L472.1 234.1L472.1 232.1L472.1 230.1L472 228.1L472 226.1L471.9 224.1L471.9 222.1L471.8 220.1L471.8 218.1L471.7 216.1L471.7 214.1L471.6 212.1L471.6 210.1L471.5 208.1L471.5 206.1L471.4 204.1L471.3 202.1L471.1 200.1L471 198.1L470.8 196.1L470.7 194.1L470.5 192.1L470.3 190.1L470 188.1L469.6 186.1L469.2 184.1L468.7 182.1L468.3 180.1L467.8 178.1L467.2 176.1L466.6 174.1L466 172.1L465.3 170.1L464.6 168.1L463.8 166.1L463 164.1L462.2 162.1L461.4 160.1L460.5 158.1L459.7 156.1L459 154.1L458.2 152.1L457.5 150.1L457 148L456.5 146L456.1 144L456 142L456.2 140L456.4 138L456.7 136L457.1 134L457.7 132L458.4 130L459.5 128L461 126L462.4 124L463.8 122L465.1 120L466.3 118L467.4 116L468.4 114L469.3 112L470.2 110L471.1 108L471.9 106L472.7 104L473.2 102L473.5 100L473.7 98Z"/>
<path d="M518.9 57A2.7 2.7 0 0 1 524.3 57L524.5 59L524.7 61L524.9 63L525.1 65L525.4 67L525.8 69L526.4 71.1L527 73.1L527.6 75.1L528.3 77.1L529.2 79.1L530.1 81.1L531.1 83.1L532.2 85.1L533.3 87.1L534.5 89.1L535.6 91.1L536.7 93.1L537.8 95.1L538.8 97.1L539.7 99.2L540.4 101.2L540.8 103.2L541.2 105.2L541.5 107.2L541.7 109.2L541.9 111.2L542 113.2L542.1 115.2L542 117.2L541.8 119.2L541.4 121.2L541 123.2L540.6 125.2L540 127.3L539.4 129.3L538.8 131.3L538 133.3L537.2 135.3L536.4 137.3L535.5 139.3L534.6 141.3L533.7 143.3L532.8 145.3L532.1 147.3L531.5 149.3L531 151.3L530.5 153.3L530 155.4L529.5 157.4L529.1 159.4L528.7 161.4L528.4 163.4L528.1 165.4L527.9 167.4L527.7 169.4L527.5 171.4L527.3 173.4L527.2 175.4L527.1 177.4L527 179.4L526.9 181.5L526.9 183.5L526.8 185.5L526.8 187.5L526.7 189.5L526.7 191.5L526.7 193.5L526.6 195.5L526.6 197.5L526.6 199.5L526.6 201.5L526.6 203.5L526.5 205.5L526.5 207.5L526.5 209.6L526.5 211.6L526.5 213.6L526.5 215.6L526.5 217.6L526.5 219.6L526.5 221.6L526.5 223.6L526.5 225.6L526.5 227.6L526.5 229.6L526.4 231.6L526.4 233.6L526.4 235.6L526.4 237.7L526.4 239.7L526.4 241.7L526.4 243.7L526.4 245.7L526.4 247.7L526.4 249.7L526.4 251.7L526.4 253.7L526.4 255.7L526.4 257.7L526.4 259.7L526.4 261.7L526.4 263.7L526.4 265.8L526.4 267.8L526.4 269.8L526.4 271.8L526.3 273.8L526.3 275.8L526.3 277.8L526.3 279.8L526.3 281.8L526.3 283.8L526.3 285.8L526.3 287.8L526.3 289.8L526.3 291.9L526.3 293.9L526.3 295.9L526.3 297.9L526.3 299.9L526.3 301.9L526.3 303.9L526.3 305.9L526.3 307.9L526.3 309.9L526.3 311.9L526.3 313.9L526.3 315.9L526.3 317.9L526.3 320L526.3 322L526.3 324L526.3 326L526.3 328L526.3 330L526.3 332L526.3 334L526.3 336L526.3 338L526.3 340L526.3 342L526.3 344L526.3 346L526.3 348.1L526.3 350.1L526.3 352.1L526.2 354.1L526.2 356.1L526.2 358.1L526.2 360.1L526.2 362.1L526.2 364.1L526.2 366.1L526.2 368.1L526.2 370.1L526.2 372.1L526.2 374.1L526.2 376.2L526.2 378.2L526.2 380.2L526.1 382.2L526.1 384.2L526.1 386.2L526.1 388.2L526.1 390.2L526.1 392.2L526.1 394.2L526 396.2L525.6 398.2L525 400.2L524.5 402.2Q524.5 405 521.7 405L521.4 405Q518.7 405 518.7 402.2L518.1 400.2L517.6 398.2L517.2 396.2L517.1 394.2L517.1 392.2L517.1 390.2L517 388.2L517 386.2L517 384.2L517 382.2L517 380.2L517 378.2L517 376.2L517 374.1L517 372.1L517 370.1L517 368.1L516.9 366.1L516.9 364.1L516.9 362.1L516.9 360.1L516.9 358.1L516.9 356.1L516.9 354.1L516.9 352.1L516.9 350.1L516.9 348.1L516.9 346L516.9 344L516.9 342L516.9 340L516.9 338L516.9 336L516.9 334L516.9 332L516.9 330L516.9 328L516.9 326L516.9 324L516.9 322L516.9 320L516.9 317.9L516.9 315.9L516.9 313.9L516.9 311.9L516.9 309.9L516.9 307.9L516.9 305.9L516.8 303.9L516.8 301.9L516.8 299.9L516.8 297.9L516.8 295.9L516.8 293.9L516.8 291.9L516.8 289.8L516.8 287.8L516.8 285.8L516.8 283.8L516.8 281.8L516.8 279.8L516.8 277.8L516.8 275.8L516.8 273.8L516.8 271.8L516.8 269.8L516.8 267.8L516.8 265.8L516.8 263.7L516.8 261.7L516.8 259.7L516.8 257.7L516.8 255.7L516.8 253.7L516.8 251.7L516.8 249.7L516.7 247.7L516.7 245.7L516.7 243.7L516.7 241.7L516.7 239.7L516.7 237.7L516.7 235.6L516.7 233.6L516.7 231.6L516.7 229.6L516.7 227.6L516.7 225.6L516.7 223.6L516.7 221.6L516.7 219.6L516.7 217.6L516.7 215.6L516.7 213.6L516.6 211.6L516.6 209.6L516.6 207.5L516.6 205.5L516.6 203.5L516.6 201.5L516.6 199.5L516.6 197.5L516.5 195.5L516.5 193.5L516.5 191.5L516.4 189.5L516.4 187.5L516.3 185.5L516.3 183.5L516.2 181.5L516.2 179.4L516.1 177.4L516 175.4L515.8 173.4L515.7 171.4L515.5 169.4L515.3 167.4L515 165.4L514.8 163.4L514.5 161.4L514.1 159.4L513.6 157.4L513.2 155.4L512.7 153.3L512.2 151.3L511.6 149.3L511 147.3L510.3 145.3L509.5 143.3L508.6 141.3L507.6 139.3L506.8 137.3L506 135.3L505.2 133.3L504.4 131.3L503.7 129.3L503.1 127.3L502.6 125.2L502.1 123.2L501.7 121.2L501.4 119.2L501.1 117.2L501.1 115.2L501.2 113.2L501.3 111.2L501.5 109.2L501.7 107.2L501.9 105.2L502.3 103.2L502.8 101.2L503.4 99.2L504.3 97.1L505.4 95.1L506.5 93.1L507.5 91.1L508.7 89.1L509.9 87.1L511 85.1L512 83.1L513 81.1L514 79.1L514.8 77.1L515.6 75.1L516.2 73.1L516.8 71.1L517.3 69L517.8 67L518.1 65L518.3 63L518.5 61L518.7 59L518.9 57Z"/>
<path d="M563.7 226A2.7 2.7 0 0 1 569.1 226L569.3 228L569.5 230L569.7 232L569.8 234L570 236.1L570.3 238.1L570.5 240.1L570.7 242.1L571 244.1L571.2 246.1L571.4 248.1L571.7 250.1L571.9 252.2L572.1 254.2L572.3 256.2L572.5 258.2L572.7 260.2L572.8 262.2L572.9 264.2L573 266.2L573.1 268.3L573.2 270.3L573.3 272.3L573.4 274.3L573.6 276.3L573.7 278.3L573.8 280.3L574 282.3L574.1 284.4L574.2 286.4L574.3 288.4L574.3 290.4L574.4 292.4L574.4 294.4L574.4 296.4L574.4 298.4L574.4 300.5L574.4 302.5L574.3 304.5L574.2 306.5L574.2 308.5L574.1 310.5L574 312.5L574 314.5L573.9 316.6L573.8 318.6L573.6 320.6L573.5 322.6L573.4 324.6L573.3 326.6L573.2 328.6L573.1 330.6L573.1 332.7L573.2 334.7L573.2 336.7L573.3 338.7L573.3 340.7L573.4 342.7L573.4 344.7L573.5 346.7L573.6 348.8L573.7 350.8L573.7 352.8L573.8 354.8L574 356.8L574.1 358.8L574.3 360.8L574.4 362.8L574.7 364.9L574.9 366.9L575.2 368.9L575.6 370.9L576 372.9L576.5 374.9L577 376.9L577.5 378.9L578.1 381L578.8 383L579.4 385L580.1 387L580.8 389L581.4 391L582.1 393L582.8 395L583.5 397.1L584.2 399.1L584.8 401.1L585.3 403.1L585.7 405.1L586.1 407.1L586.4 409.1L586.6 411.1L586.6 413.2L586.6 415.2L586.5 417.2L586.5 419.2L586.4 421.2L586.2 423.2L586 425.2L585.7 427.2L585.5 429.3L585.2 431.3L584.9 433.3L584.6 435.3L584.2 437.3L583.9 439.3L583.5 441.3L583.1 443.3L582.8 445.4L582.5 447.4L582.2 449.4L582 451.4L581.7 453.4L581.5 455.4L581.3 457.4L581.1 459.4L580.9 461.5L580.8 463.5L580.6 465.5L580.4 467.5L580.3 469.5L580.2 471.5L580 473.5L579.9 475.5L579.8 477.6L579.7 479.6L579.5 481.6L579.4 483.6L579.3 485.6L579.2 487.6L579.1 489.6L579 491.6L578.9 493.7L578.7 495.7L578.6 497.7L578.4 499.7L578 501.7L577.5 503.7L577.1 505.7L576.8 507.7L573.9 509.8Q573.9 512.5 571.2 512.5L561.7 512.5Q558.9 512.5 558.9 509.8L556.1 507.7L555.8 505.7L555.3 503.7L554.9 501.7L554.5 499.7L554.3 497.7L554.1 495.7L554 493.7L553.9 491.6L553.8 489.6L553.7 487.6L553.6 485.6L553.5 483.6L553.3 481.6L553.2 479.6L553.1 477.6L553 475.5L552.8 473.5L552.7 471.5L552.6 469.5L552.4 467.5L552.3 465.5L552.1 463.5L551.9 461.5L551.8 459.4L551.6 457.4L551.4 455.4L551.2 453.4L550.9 451.4L550.7 449.4L550.4 447.4L550.1 445.4L549.7 443.3L549.4 441.3L549 439.3L548.7 437.3L548.3 435.3L548 433.3L547.7 431.3L547.4 429.3L547.1 427.2L546.9 425.2L546.7 423.2L546.5 421.2L546.4 419.2L546.3 417.2L546.3 415.2L546.2 413.2L546.3 411.1L546.4 409.1L546.8 407.1L547.2 405.1L547.6 403.1L548.1 401.1L548.7 399.1L549.4 397.1L550.1 395L550.8 393L551.4 391L552.1 389L552.8 387L553.4 385L554.1 383L554.7 381L555.3 378.9L555.9 376.9L556.4 374.9L556.9 372.9L557.3 370.9L557.7 368.9L558 366.9L558.2 364.9L558.4 362.8L558.6 360.8L558.8 358.8L558.9 356.8L559 354.8L559.1 352.8L559.2 350.8L559.3 348.8L559.4 346.7L559.4 344.7L559.5 342.7L559.6 340.7L559.6 338.7L559.7 336.7L559.7 334.7L559.7 332.7L559.7 330.6L559.7 328.6L559.6 326.6L559.5 324.6L559.4 322.6L559.2 320.6L559.1 318.6L559 316.6L558.9 314.5L558.9 312.5L558.8 310.5L558.7 308.5L558.6 306.5L558.6 304.5L558.5 302.5L558.5 300.5L558.5 298.4L558.4 296.4L558.4 294.4L558.5 292.4L558.5 290.4L558.6 288.4L558.7 286.4L558.8 284.4L558.9 282.3L559 280.3L559.2 278.3L559.3 276.3L559.4 274.3L559.6 272.3L559.7 270.3L559.8 268.3L559.9 266.2L560 264.2L560.1 262.2L560.2 260.2L560.4 258.2L560.6 256.2L560.8 254.2L561 252.2L561.2 250.1L561.5 248.1L561.7 246.1L561.9 244.1L562.2 242.1L562.4 240.1L562.6 238.1L562.8 236.1L563 234L563.2 232L563.4 230L563.6 228L563.7 226Z"/>
<path d="M738.4 133L744.4 133L744.5 135L744.5 137L744.6 139L744.6 141L744.7 143L744.7 145L744.8 147.1L744.8 149.1L744.9 151.1L744.9 153.1L744.9 155.1L745 157.1L745 159.1L745.1 161.1L745.2 163.1L745.2 165.1L745.3 167.1L745.4 169.1L745.4 171.1L745.5 173.1L745.6 175.2L745.7 177.2L745.9 179.2L746 181.2L746.1 183.2L746.3 185.2L746.5 187.2L746.7 189.2L746.9 191.2L747.1 193.2L747.4 195.2L747.7 197.2L748.1 199.2L748.4 201.2L748.8 203.2L749.2 205.3L749.6 207.3L750 209.3L750.5 211.3L751 213.3L751.5 215.3L752 217.3L752.6 219.3L753.2 221.3L753.8 223.3L754.5 225.3L755.2 227.3L755.9 229.3L756.5 231.3L757.1 233.4L757.6 235.4L758.1 237.4L758.6 239.4L759.1 241.4L759.5 243.4L759.9 245.4L760.2 247.4L760.6 249.4L760.9 251.4L761.1 253.4L761.4 255.4L761.6 257.4L761.8 259.4L762 261.5L762.2 263.5L762.3 265.5L762.4 267.5L762.5 269.5L762.5 271.5L762.6 273.5L762.6 275.5L762.6 277.5L762.6 279.5L762.6 281.5L762.5 283.5L762.4 285.5L762.3 287.6L762.2 289.6L762.1 291.6L761.8 293.6L761.3 295.6L760.9 297.6L760.4 299.6L759.9 301.6L759.4 303.6L759 305.6L758.5 307.6L758 309.6L757.5 311.6L757 313.6L756.6 315.6L756.1 317.7L755.6 319.7L755.1 321.7L754.6 323.7L754.2 325.7L753.7 327.7L753.3 329.7L752.8 331.7L752.4 333.7L752.1 335.7L751.7 337.7L751.4 339.7L751.1 341.7L750.8 343.8L750.6 345.8L750.3 347.8L750.1 349.8L749.8 351.8L749.6 353.8L749.3 355.8L749.1 357.8L748.9 359.8L748.7 361.8L748.5 363.8L748.3 365.8L748.2 367.8L748 369.8L747.9 371.9L747.8 373.9L747.7 375.9L747.6 377.9L747.5 379.9L747.4 381.9L747.3 383.9L747.2 385.9L747.1 387.9L747.1 389.9L747 391.9L746.9 393.9L746.9 395.9L746.8 397.9L746.7 399.9L746.7 402L746.6 404L746.6 406L746.6 408L746.5 410L746.5 412L746.5 414L746.5 416L746.6 418L746.6 420L746.7 422L746.8 424L746.9 426L747 428.1L747.1 430.1L747.2 432.1L747.3 434.1L747.4 436.1L747.5 438.1L747.6 440.1L747.6 442.1L747.7 444.1L747.8 446.1L747.9 448.1L747.9 450.1L748 452.1L748.1 454.1L748.1 456.1L748.1 458.2L748.1 460.2L748.1 462.2L748 464.2L748 466.2L747.9 468.2L747.9 470.2L747.8 472.2L747.7 474.2L747.6 476.2L747.4 478.2L747.3 480.2L747.1 482.2L746.9 484.2L746.7 486.3L746.5 488.3L746.2 490.3L745.8 492.3L745.4 494.3L744.8 496.3L744.1 498.3Q744.1 501 741.4 501L741.4 501Q738.7 501 738.7 498.3L738 496.3L737.4 494.3L737 492.3L736.6 490.3L736.3 488.3L736.1 486.3L735.9 484.2L735.7 482.2L735.5 480.2L735.4 478.2L735.2 476.2L735.1 474.2L735 472.2L734.9 470.2L734.9 468.2L734.8 466.2L734.8 464.2L734.7 462.2L734.7 460.2L734.7 458.2L734.7 456.1L734.7 454.1L734.8 452.1L734.9 450.1L734.9 448.1L735 446.1L735.1 444.1L735.2 442.1L735.2 440.1L735.3 438.1L735.4 436.1L735.5 434.1L735.6 432.1L735.7 430.1L735.8 428.1L735.9 426L736 424L736.1 422L736.2 420L736.2 418L736.3 416L736.3 414L736.3 412L736.3 410L736.2 408L736.2 406L736.2 404L736.1 402L736.1 399.9L736 397.9L735.9 395.9L735.9 393.9L735.8 391.9L735.7 389.9L735.7 387.9L735.6 385.9L735.5 383.9L735.4 381.9L735.3 379.9L735.2 377.9L735.1 375.9L735 373.9L734.9 371.9L734.8 369.8L734.6 367.8L734.5 365.8L734.3 363.8L734.1 361.8L733.9 359.8L733.7 357.8L733.5 355.8L733.2 353.8L733 351.8L732.7 349.8L732.5 347.8L732.2 345.8L732 343.8L731.7 341.7L731.4 339.7L731.1 337.7L730.7 335.7L730.4 333.7L730 331.7L729.5 329.7L729.1 327.7L728.6 325.7L728.2 323.7L727.7 321.7L727.2 319.7L726.7 317.7L726.2 315.6L725.8 313.6L725.3 311.6L724.8 309.6L724.3 307.6L723.8 305.6L723.4 303.6L722.9 301.6L722.4 299.6L721.9 297.6L721.5 295.6L721 293.6L720.7 291.6L720.6 289.6L720.5 287.6L720.4 285.5L720.3 283.5L720.2 281.5L720.2 279.5L720.2 277.5L720.2 275.5L720.2 273.5L720.3 271.5L720.3 269.5L720.4 267.5L720.5 265.5L720.6 263.5L720.8 261.5L721 259.4L721.2 257.4L721.4 255.4L721.7 253.4L721.9 251.4L722.2 249.4L722.6 247.4L722.9 245.4L723.3 243.4L723.7 241.4L724.2 239.4L724.7 237.4L725.2 235.4L725.7 233.4L726.3 231.3L726.9 229.3L727.6 227.3L728.3 225.3L729 223.3L729.6 221.3L730.2 219.3L730.8 217.3L731.3 215.3L731.8 213.3L732.3 211.3L732.8 209.3L733.2 207.3L733.6 205.3L734 203.2L734.4 201.2L734.7 199.2L735.1 197.2L735.4 195.2L735.7 193.2L735.9 191.2L736.1 189.2L736.3 187.2L736.5 185.2L736.7 183.2L736.8 181.2L736.9 179.2L737.1 177.2L737.2 175.2L737.3 173.1L737.4 171.1L737.4 169.1L737.5 167.1L737.6 165.1L737.6 163.1L737.7 161.1L737.8 159.1L737.8 157.1L737.9 155.1L737.9 153.1L737.9 151.1L738 149.1L738 147.1L738.1 145L738.1 143L738.2 141L738.2 139L738.3 137L738.3 135L738.4 133Z"/>
<path d="M783.2 205L789.3 205L789.3 207L789.4 209L789.5 211L789.7 213L789.9 215L790.2 217L790.5 219L790.8 221L791.1 223.1L791.4 225.1L791.8 227.1L792.1 229.1L792.5 231.1L792.9 233.1L793.4 235.1L793.8 237.1L794.3 239.1L794.8 241.1L795.3 243.1L795.8 245.1L796.3 247.1L796.9 249.1L797.4 251.1L797.9 253.1L798.4 255.2L799 257.2L799.5 259.2L800 261.2L800.5 263.2L801 265.2L801.5 267.2L802 269.2L802.5 271.2L803.1 273.2L803.6 275.2L804 277.2L804.3 279.2L804.7 281.2L805 283.2L805.2 285.2L805.5 287.2L805.7 289.3L805.8 291.3L806 293.3L806.2 295.3L806.4 297.3L806.5 299.3L806.5 301.3L806.5 303.3L806.5 305.3L806.5 307.3L806.5 309.3L806.5 311.3L806.5 313.3L806.5 315.3L806.5 317.3L806.5 319.3L806.5 321.4L806.4 323.4L806.4 325.4L806.4 327.4L806.3 329.4L806.1 331.4L806 333.4L805.8 335.4L805.6 337.4L805.4 339.4L805.2 341.4L805 343.4L804.8 345.4L804.6 347.4L804.4 349.4L804.2 351.4L804 353.4L803.7 355.5L803.5 357.5L803.3 359.5L803.1 361.5L802.9 363.5L802.7 365.5L802.5 367.5L802.4 369.5L802.3 371.5L802.2 373.5L802.1 375.5L802 377.5L801.9 379.5L801.8 381.5L801.7 383.5L801.6 385.5L801.6 387.5L801.5 389.6L801.5 391.6L801.5 393.6L801.5 395.6L801.5 397.6L801.5 399.6L801.5 401.6L801.5 403.6L801.5 405.6L801.5 407.6L801.5 409.6L801.5 411.6L801.5 413.6L801.5 415.6L801.6 417.6L801.6 419.6L801.7 421.7L801.8 423.7L801.9 425.7L802 427.7L802.1 429.7L802.2 431.7L802.2 433.7L802.2 435.7L802.2 437.7L802.2 439.7L802.2 441.7L802.2 443.7L802.1 445.7L802.1 447.7L802 449.7L802 451.7L801.8 453.7L801.6 455.8L801.3 457.8L801.1 459.8L800.8 461.8L800.4 463.8L800 465.8L799.5 467.8L799.1 469.8L798.6 471.8L798 473.8L797.4 475.8L796.7 477.8L796.1 479.8L795.5 481.8L794.8 483.8L794.2 485.8L793.5 487.9L792.9 489.9L792.3 491.9L791.7 493.9L791.3 495.9L790.8 497.9L790.3 499.9L789.6 501.9L788.9 503.9Q788.9 506.6 786.2 506.6L786.2 506.6Q783.5 506.6 783.5 503.9L782.8 501.9L782.2 499.9L781.7 497.9L781.2 495.9L780.7 493.9L780.2 491.9L779.6 489.9L779 487.9L778.3 485.8L777.6 483.8L777 481.8L776.4 479.8L775.7 477.8L775.1 475.8L774.5 473.8L773.9 471.8L773.4 469.8L772.9 467.8L772.5 465.8L772.1 463.8L771.7 461.8L771.4 459.8L771.1 457.8L770.9 455.8L770.7 453.7L770.5 451.7L770.4 449.7L770.4 447.7L770.3 445.7L770.3 443.7L770.3 441.7L770.2 439.7L770.2 437.7L770.2 435.7L770.3 433.7L770.3 431.7L770.4 429.7L770.5 427.7L770.5 425.7L770.6 423.7L770.7 421.7L770.8 419.6L770.9 417.6L770.9 415.6L770.9 413.6L770.9 411.6L770.9 409.6L770.9 407.6L770.9 405.6L770.9 403.6L770.9 401.6L770.9 399.6L770.9 397.6L770.9 395.6L770.9 393.6L770.9 391.6L770.9 389.6L770.9 387.5L770.8 385.5L770.8 383.5L770.7 381.5L770.6 379.5L770.5 377.5L770.4 375.5L770.3 373.5L770.2 371.5L770.1 369.5L769.9 367.5L769.8 365.5L769.6 363.5L769.4 361.5L769.2 359.5L769 357.5L768.7 355.5L768.5 353.4L768.3 351.4L768.1 349.4L767.9 347.4L767.7 345.4L767.5 343.4L767.3 341.4L767.1 339.4L766.9 337.4L766.7 335.4L766.5 333.4L766.3 331.4L766.2 329.4L766.1 327.4L766 325.4L766 323.4L766 321.4L766 319.3L766 317.3L766 315.3L766 313.3L765.9 311.3L765.9 309.3L765.9 307.3L765.9 305.3L765.9 303.3L765.9 301.3L766 299.3L766.1 297.3L766.3 295.3L766.4 293.3L766.6 291.3L766.8 289.3L767 287.2L767.2 285.2L767.5 283.2L767.8 281.2L768.1 279.2L768.5 277.2L768.9 275.2L769.4 273.2L769.9 271.2L770.5 269.2L771 267.2L771.5 265.2L772 263.2L772.5 261.2L773 259.2L773.5 257.2L774 255.2L774.5 253.1L775.1 251.1L775.6 249.1L776.1 247.1L776.6 245.1L777.1 243.1L777.6 241.1L778.1 239.1L778.6 237.1L779.1 235.1L779.5 233.1L779.9 231.1L780.3 229.1L780.7 227.1L781 225.1L781.4 223.1L781.7 221L782 219L782.3 217L782.6 215L782.8 213L782.9 211L783 209L783.1 207L783.2 205Z"/>
<path d="M828 189L834.1 189L834.3 191L834.6 193L835 195L835.4 197L835.9 199.1L836.3 201.1L836.7 203.1L837.1 205.1L837.5 207.1L837.9 209.1L838.3 211.1L838.8 213.1L839.3 215.1L839.8 217.2L840.3 219.2L840.9 221.2L841.4 223.2L841.9 225.2L842.4 227.2L842.9 229.2L843.4 231.2L843.9 233.2L844.5 235.3L845 237.3L845.5 239.3L846.1 241.3L846.6 243.3L847.1 245.3L847.6 247.3L848.1 249.3L848.6 251.3L849 253.3L849.4 255.4L849.8 257.4L850.2 259.4L850.5 261.4L850.8 263.4L851.1 265.4L851.3 267.4L851.5 269.4L851.7 271.4L851.8 273.5L851.9 275.5L852 277.5L852 279.5L851.9 281.5L851.9 283.5L851.8 285.5L851.7 287.5L851.6 289.5L851.5 291.6L851.3 293.6L851.1 295.6L850.9 297.6L850.6 299.6L850.3 301.6L850 303.6L849.6 305.6L849.2 307.6L848.8 309.7L848.4 311.7L847.9 313.7L847.4 315.7L846.9 317.7L846.4 319.7L845.9 321.7L845.3 323.7L844.7 325.7L844 327.8L843.3 329.8L842.6 331.8L841.9 333.8L841.3 335.8L840.8 337.8L840.2 339.8L839.7 341.8L839.2 343.8L838.8 345.9L838.4 347.9L838.1 349.9L837.9 351.9L837.6 353.9L837.4 355.9L837.3 357.9L837.1 359.9L837 361.9L836.9 363.9L836.8 366L836.7 368L836.6 370L836.5 372L836.5 374L836.4 376L836.3 378L836.3 380L836.2 382L836.2 384.1L836.1 386.1L836.1 388.1L836.1 390.1L836.1 392.1L836.1 394.1L836.2 396.1L836.4 398.1L836.6 400.1L836.8 402.2L837 404.2L837.2 406.2L837.4 408.2L837.7 410.2L838 412.2L838.3 414.2L838.8 416.2L839.3 418.2L839.8 420.3L840.4 422.3L840.9 424.3L841.4 426.3L841.8 428.3L842.3 430.3L842.7 432.3L843.1 434.3L843.4 436.3L843.7 438.4L844 440.4L844.2 442.4L844.4 444.4L844.5 446.4L844.6 448.4L844.7 450.4L844.7 452.4L844.8 454.4L844.7 456.4L844.5 458.5L844.2 460.5L844 462.5L843.7 464.5L843.4 466.5L843.1 468.5L842.6 470.5L842.1 472.5L841.6 474.5L840.9 476.6L840.3 478.6L839.6 480.6L838.9 482.6L838.1 484.6L837.3 486.6L836.6 488.6L835.9 490.6L835.4 492.6L835 494.7L834.6 496.7L834.2 498.7L834 500.7L833.8 502.7Q833.8 505.4 831.1 505.4L831.1 505.4Q828.4 505.4 828.4 502.7L828.2 500.7L827.9 498.7L827.5 496.7L827.1 494.7L826.7 492.6L826.2 490.6L825.5 488.6L824.8 486.6L824 484.6L823.2 482.6L822.5 480.6L821.9 478.6L821.2 476.6L820.6 474.5L820 472.5L819.5 470.5L819.1 468.5L818.7 466.5L818.4 464.5L818.1 462.5L817.9 460.5L817.6 458.5L817.5 456.4L817.4 454.4L817.4 452.4L817.4 450.4L817.5 448.4L817.6 446.4L817.7 444.4L817.9 442.4L818.1 440.4L818.4 438.4L818.7 436.3L819 434.3L819.4 432.3L819.8 430.3L820.3 428.3L820.8 426.3L821.2 424.3L821.7 422.3L822.3 420.3L822.9 418.2L823.4 416.2L823.8 414.2L824.1 412.2L824.4 410.2L824.7 408.2L824.9 406.2L825.1 404.2L825.3 402.2L825.5 400.1L825.7 398.1L825.9 396.1L826 394.1L826.1 392.1L826.1 390.1L826 388.1L826 386.1L826 384.1L825.9 382L825.9 380L825.8 378L825.7 376L825.6 374L825.6 372L825.5 370L825.4 368L825.3 366L825.2 363.9L825.1 361.9L825 359.9L824.9 357.9L824.7 355.9L824.5 353.9L824.3 351.9L824 349.9L823.7 347.9L823.4 345.9L822.9 343.8L822.5 341.8L821.9 339.8L821.4 337.8L820.8 335.8L820.2 333.8L819.5 331.8L818.8 329.8L818.1 327.8L817.4 325.7L816.8 323.7L816.2 321.7L815.7 319.7L815.2 317.7L814.7 315.7L814.2 313.7L813.8 311.7L813.3 309.7L812.9 307.6L812.5 305.6L812.1 303.6L811.8 301.6L811.5 299.6L811.3 297.6L811 295.6L810.8 293.6L810.7 291.6L810.5 289.5L810.4 287.5L810.3 285.5L810.3 283.5L810.2 281.5L810.2 279.5L810.2 277.5L810.2 275.5L810.3 273.5L810.5 271.4L810.6 269.4L810.8 267.4L811 265.4L811.3 263.4L811.6 261.4L811.9 259.4L812.3 257.4L812.7 255.4L813.1 253.3L813.5 251.3L814 249.3L814.5 247.3L815 245.3L815.5 243.3L816.1 241.3L816.6 239.3L817.1 237.3L817.7 235.3L818.2 233.2L818.7 231.2L819.2 229.2L819.7 227.2L820.3 225.2L820.8 223.2L821.3 221.2L821.8 219.2L822.3 217.2L822.8 215.1L823.3 213.1L823.8 211.1L824.2 209.1L824.7 207.1L825.1 205.1L825.5 203.1L825.9 201.1L826.2 199.1L826.7 197L827.1 195L827.5 193L827.8 191L828 189Z"/>
<path d="M872.9 145.5L878.9 145.5L879 147.5L879.1 149.5L879.2 151.5L879.3 153.5L879.4 155.6L879.5 157.6L879.7 159.6L879.8 161.6L879.9 163.6L880.1 165.6L880.2 167.6L880.4 169.6L880.5 171.6L880.6 173.6L880.8 175.7L881 177.7L881.1 179.7L881.3 181.7L881.5 183.7L881.6 185.7L881.8 187.7L882 189.7L882.2 191.7L882.4 193.7L882.6 195.8L882.9 197.8L883.1 199.8L883.3 201.8L883.6 203.8L883.8 205.8L884 207.8L884.2 209.8L884.4 211.8L884.5 213.8L884.7 215.9L884.9 217.9L885 219.9L885.2 221.9L885.3 223.9L885.4 225.9L885.6 227.9L885.7 229.9L885.8 231.9L885.9 233.9L886.1 236L886.2 238L886.3 240L886.4 242L886.6 244L886.7 246L886.8 248L886.9 250L887 252L887 254L887.1 256.1L887.2 258.1L887.2 260.1L887.3 262.1L887.4 264.1L887.4 266.1L887.5 268.1L887.5 270.1L887.5 272.1L887.6 274.2L887.6 276.2L887.6 278.2L887.6 280.2L887.5 282.2L887.5 284.2L887.4 286.2L887.4 288.2L887.3 290.2L887.2 292.2L887.1 294.3L887 296.3L887 298.3L886.9 300.3L886.8 302.3L886.7 304.3L886.6 306.3L886.5 308.3L886.4 310.3L886.4 312.3L886.3 314.4L886.2 316.4L886.1 318.4L886 320.4L886 322.4L885.9 324.4L885.8 326.4L885.8 328.4L885.8 330.4L885.7 332.4L885.7 334.5L885.6 336.5L885.6 338.5L885.6 340.5L885.5 342.5L885.5 344.5L885.5 346.5L885.5 348.5L885.5 350.5L885.5 352.5L885.4 354.6L885.4 356.6L885.4 358.6L885.4 360.6L885.4 362.6L885.4 364.6L885.4 366.6L885.4 368.6L885.4 370.6L885.4 372.6L885.5 374.7L885.5 376.7L885.6 378.7L885.7 380.7L885.9 382.7L886 384.7L886.1 386.7L886.3 388.7L886.4 390.7L886.6 392.8L886.9 394.8L887.2 396.8L887.6 398.8L888 400.8L888.4 402.8L888.8 404.8L889.2 406.8L889.7 408.8L890.1 410.8L890.6 412.9L891.1 414.9L891.6 416.9L892.2 418.9L892.7 420.9L893.2 422.9L893.7 424.9L894.1 426.9L894.6 428.9L895 430.9L895.4 433L895.7 435L895.9 437L896 439L896.1 441L896.2 443L896.3 445L896.3 447L896.2 449L895.9 451L895.6 453.1L895.1 455.1L894.7 457.1L894.2 459.1L893.6 461.1L892.9 463.1L892 465.1L891.2 467.1L890.3 469.1L889.4 471.1L888.3 473.2L887.2 475.2L886.1 477.2L885.1 479.2L884.2 481.2L883.4 483.2L882.7 485.2L882.1 487.2L881.5 489.2L880.9 491.2L880.4 493.3L879.9 495.3L879.4 497.3L879 499.3L878.6 501.3Q878.6 504 875.9 504L875.9 504Q873.2 504 873.2 501.3L872.8 499.3L872.4 497.3L871.9 495.3L871.4 493.3L870.9 491.2L870.3 489.2L869.7 487.2L869 485.2L868.3 483.2L867.6 481.2L866.7 479.2L865.7 477.2L864.6 475.2L863.5 473.2L862.4 471.1L861.5 469.1L860.6 467.1L859.7 465.1L858.9 463.1L858.2 461.1L857.6 459.1L857.1 457.1L856.6 455.1L856.2 453.1L855.8 451L855.6 449L855.5 447L855.5 445L855.6 443L855.7 441L855.8 439L855.9 437L856.1 435L856.4 433L856.7 430.9L857.2 428.9L857.7 426.9L858.1 424.9L858.6 422.9L859.1 420.9L859.6 418.9L860.2 416.9L860.7 414.9L861.2 412.9L861.7 410.8L862.1 408.8L862.6 406.8L863 404.8L863.4 402.8L863.8 400.8L864.2 398.8L864.6 396.8L864.9 394.8L865.2 392.8L865.4 390.7L865.5 388.7L865.7 386.7L865.8 384.7L865.9 382.7L866 380.7L866.1 378.7L866.2 376.7L866.3 374.7L866.4 372.6L866.4 370.6L866.4 368.6L866.4 366.6L866.4 364.6L866.4 362.6L866.4 360.6L866.4 358.6L866.4 356.6L866.3 354.6L866.3 352.5L866.3 350.5L866.3 348.5L866.3 346.5L866.3 344.5L866.2 342.5L866.2 340.5L866.2 338.5L866.2 336.5L866.1 334.5L866.1 332.4L866 330.4L866 328.4L865.9 326.4L865.9 324.4L865.8 322.4L865.8 320.4L865.7 318.4L865.6 316.4L865.5 314.4L865.4 312.3L865.3 310.3L865.2 308.3L865.1 306.3L865.1 304.3L865 302.3L864.9 300.3L864.8 298.3L864.7 296.3L864.7 294.3L864.6 292.2L864.5 290.2L864.4 288.2L864.3 286.2L864.3 284.2L864.2 282.2L864.2 280.2L864.2 278.2L864.2 276.2L864.2 274.2L864.2 272.1L864.3 270.1L864.3 268.1L864.4 266.1L864.4 264.1L864.5 262.1L864.5 260.1L864.6 258.1L864.7 256.1L864.7 254L864.8 252L864.9 250L865 248L865.1 246L865.2 244L865.3 242L865.5 240L865.6 238L865.7 236L865.8 233.9L866 231.9L866.1 229.9L866.2 227.9L866.3 225.9L866.5 223.9L866.6 221.9L866.8 219.9L866.9 217.9L867.1 215.9L867.2 213.8L867.4 211.8L867.6 209.8L867.8 207.8L868 205.8L868.2 203.8L868.4 201.8L868.7 199.8L868.9 197.8L869.1 195.8L869.4 193.7L869.6 191.7L869.8 189.7L870 187.7L870.2 185.7L870.3 183.7L870.5 181.7L870.7 179.7L870.8 177.7L871 175.7L871.1 173.6L871.3 171.6L871.4 169.6L871.6 167.6L871.7 165.6L871.8 163.6L872 161.6L872.1 159.6L872.3 157.6L872.4 155.6L872.5 153.5L872.6 151.5L872.7 149.5L872.8 147.5L872.9 145.5Z"/>
<path d="M917.7 262L923.8 262L923.9 264L924 266L924.1 268L924.2 270L924.3 272L924.4 274L924.6 276L924.7 278L924.9 280L925 282L925.2 284L925.4 286L925.6 288L925.7 290L925.9 292L926 294L926.2 296L926.4 298L926.5 300L926.7 302.1L927 304.1L927.2 306.1L927.5 308.1L927.8 310.1L928.1 312.1L928.3 314.1L928.6 316.1L928.8 318.1L929 320.1L929.2 322.1L929.4 324.1L929.5 326.1L929.7 328.1L929.8 330.1L930 332.1L930.1 334.1L930.2 336.1L930.3 338.1L930.4 340.1L930.5 342.1L930.6 344.1L930.7 346.1L930.7 348.1L930.8 350.1L930.8 352.1L930.9 354.1L930.9 356.1L930.9 358.1L931 360.1L931 362.1L931 364.1L931.1 366.1L931.1 368.1L931.1 370.1L931.2 372.1L931.2 374.1L931.3 376.1L931.4 378.1L931.4 380.1L931.5 382.1L931.6 384.2L931.7 386.2L931.7 388.2L931.8 390.2L932 392.2L932.1 394.2L932.3 396.2L932.5 398.2L932.8 400.2L933 402.2L933.3 404.2L933.6 406.2L933.9 408.2L934.2 410.2L934.6 412.2L935 414.2L935.4 416.2L935.9 418.2L936.4 420.2L936.9 422.2L937.3 424.2L937.8 426.2L938.2 428.2L938.6 430.2L939 432.2L939.4 434.2L939.8 436.2L940.1 438.2L940.4 440.2L940.7 442.2L940.9 444.2L941 446.2L941.1 448.2L941.2 450.2L941.3 452.2L941.3 454.2L941.2 456.2L941 458.2L940.8 460.2L940.5 462.2L940.2 464.3L939.9 466.3L939.5 468.3L939.1 470.3L938.5 472.3L937.7 474.3L936.9 476.3L936 478.3L935 480.3L934.1 482.3L933.2 484.3L932.1 486.3L930.9 488.3L929.3 490.3L928.1 492.3L927.2 494.3L926.4 496.3L925.6 498.3L924.6 500.3L923.4 502.3Q923.4 505 920.7 505L920.7 505Q918 505 918 502.3L916.9 500.3L915.9 498.3L915 496.3L914.2 494.3L913.4 492.3L912.1 490.3L910.6 488.3L909.3 486.3L908.3 484.3L907.3 482.3L906.4 480.3L905.5 478.3L904.6 476.3L903.7 474.3L903 472.3L902.4 470.3L901.9 468.3L901.6 466.3L901.2 464.3L901 462.2L900.7 460.2L900.4 458.2L900.2 456.2L900.1 454.2L900.1 452.2L900.2 450.2L900.3 448.2L900.4 446.2L900.6 444.2L900.8 442.2L901.1 440.2L901.4 438.2L901.7 436.2L902 434.2L902.4 432.2L902.8 430.2L903.2 428.2L903.7 426.2L904.1 424.2L904.6 422.2L905.1 420.2L905.6 418.2L906.1 416.2L906.5 414.2L906.9 412.2L907.2 410.2L907.6 408.2L907.9 406.2L908.2 404.2L908.4 402.2L908.7 400.2L908.9 398.2L909.1 396.2L909.3 394.2L909.5 392.2L909.6 390.2L909.7 388.2L909.8 386.2L909.9 384.2L909.9 382.1L910 380.1L910.1 378.1L910.1 376.1L910.2 374.1L910.2 372.1L910.3 370.1L910.3 368.1L910.4 366.1L910.4 364.1L910.4 362.1L910.5 360.1L910.5 358.1L910.5 356.1L910.6 354.1L910.6 352.1L910.6 350.1L910.7 348.1L910.7 346.1L910.8 344.1L910.9 342.1L911 340.1L911.1 338.1L911.2 336.1L911.3 334.1L911.5 332.1L911.6 330.1L911.8 328.1L911.9 326.1L912.1 324.1L912.2 322.1L912.4 320.1L912.6 318.1L912.9 316.1L913.1 314.1L913.3 312.1L913.6 310.1L913.9 308.1L914.2 306.1L914.5 304.1L914.7 302.1L914.9 300L915.1 298L915.2 296L915.4 294L915.6 292L915.7 290L915.9 288L916.1 286L916.2 284L916.4 282L916.6 280L916.7 278L916.9 276L917 274L917.1 272L917.3 270L917.4 268L917.5 266L917.6 264L917.7 262Z"/>
<path d="M962.6 203L968.5 203L968.8 205L969 207L969.3 209L969.6 211L969.8 213L970.1 215.1L970.4 217.1L970.7 219.1L971 221.1L971.3 223.1L971.8 225.1L972.2 227.1L972.6 229.1L973.1 231.1L973.6 233.1L974 235.1L974.5 237.1L975 239.2L975.5 241.2L975.9 243.2L976.4 245.2L977 247.2L977.5 249.2L978 251.2L978.5 253.2L979 255.2L979.5 257.2L979.9 259.2L980.4 261.3L980.8 263.3L981.3 265.3L981.7 267.3L982.1 269.3L982.5 271.3L982.9 273.3L983.3 275.3L983.6 277.3L984 279.3L984.3 281.3L984.6 283.4L984.9 285.4L985.1 287.4L985.3 289.4L985.5 291.4L985.7 293.4L985.8 295.4L986 297.4L986 299.4L986.1 301.4L986.1 303.4L986.1 305.4L986.1 307.5L986.1 309.5L985.9 311.5L985.4 313.5L984.8 315.5L984.2 317.5L983.6 319.5L982.9 321.5L982.3 323.5L981.7 325.5L981.1 327.5L980.5 329.6L979.9 331.6L979.4 333.6L978.9 335.6L978.5 337.6L978.1 339.6L977.7 341.6L977.4 343.6L977 345.6L976.6 347.6L976.3 349.6L975.9 351.6L975.5 353.7L975.2 355.7L974.9 357.7L974.6 359.7L974.3 361.7L974.1 363.7L973.9 365.7L973.7 367.7L973.5 369.7L973.3 371.7L973.2 373.7L973.1 375.8L972.9 377.8L972.8 379.8L972.7 381.8L972.6 383.8L972.5 385.8L972.4 387.8L972.4 389.8L972.3 391.8L972.3 393.8L972.3 395.8L972.3 397.9L972.2 399.9L972.2 401.9L972.2 403.9L972.2 405.9L972.2 407.9L972.2 409.9L972.2 411.9L972.2 413.9L972.2 415.9L972.3 417.9L972.4 419.9L972.6 422L972.8 424L973 426L973.2 428L973.4 430L973.6 432L973.8 434L973.9 436L973.9 438L974 440L974.1 442L974.1 444.1L974.2 446.1L974.2 448.1L974.3 450.1L974.3 452.1L974.3 454.1L974.3 456.1L974.3 458.1L974.3 460.1L974.2 462.1L974.1 464.1L973.9 466.2L973.7 468.2L973.5 470.2L973.4 472.2L973.2 474.2L973 476.2L972.8 478.2L972.6 480.2L972.2 482.2L971.8 484.2L971.3 486.2L970.7 488.2L970.2 490.3L969.7 492.3L969.3 494.3L968.9 496.3L968.6 498.3L968.2 500.3Q968.2 503 965.5 503L965.5 503Q962.8 503 962.8 500.3L962.5 498.3L962.2 496.3L961.8 494.3L961.4 492.3L960.9 490.3L960.4 488.2L959.8 486.2L959.3 484.2L958.9 482.2L958.5 480.2L958.3 478.2L958.1 476.2L957.9 474.2L957.7 472.2L957.6 470.2L957.4 468.2L957.2 466.2L957 464.1L956.9 462.1L956.8 460.1L956.8 458.1L956.8 456.1L956.8 454.1L956.8 452.1L956.8 450.1L956.9 448.1L956.9 446.1L957 444.1L957 442L957.1 440L957.2 438L957.2 436L957.3 434L957.5 432L957.7 430L957.9 428L958.1 426L958.3 424L958.5 422L958.7 419.9L958.8 417.9L958.9 415.9L958.9 413.9L958.9 411.9L958.9 409.9L958.9 407.9L958.9 405.9L958.9 403.9L958.9 401.9L958.9 399.9L958.8 397.9L958.8 395.8L958.8 393.8L958.8 391.8L958.7 389.8L958.7 387.8L958.6 385.8L958.5 383.8L958.4 381.8L958.3 379.8L958.2 377.8L958 375.8L957.9 373.7L957.8 371.7L957.6 369.7L957.4 367.7L957.2 365.7L957 363.7L956.8 361.7L956.5 359.7L956.2 357.7L955.9 355.7L955.6 353.7L955.2 351.6L954.8 349.6L954.5 347.6L954.1 345.6L953.7 343.6L953.4 341.6L953 339.6L952.6 337.6L952.2 335.6L951.7 333.6L951.2 331.6L950.6 329.6L950 327.5L949.4 325.5L948.8 323.5L948.2 321.5L947.5 319.5L946.9 317.5L946.3 315.5L945.7 313.5L945.2 311.5L945 309.5L945 307.5L945 305.4L945 303.4L945 301.4L945.1 299.4L945.1 297.4L945.3 295.4L945.4 293.4L945.6 291.4L945.8 289.4L946 287.4L946.2 285.4L946.5 283.4L946.8 281.3L947.1 279.3L947.5 277.3L947.8 275.3L948.2 273.3L948.6 271.3L949 269.3L949.4 267.3L949.8 265.3L950.3 263.3L950.7 261.3L951.2 259.2L951.6 257.2L952.1 255.2L952.6 253.2L953.1 251.2L953.6 249.2L954.1 247.2L954.7 245.2L955.2 243.2L955.6 241.2L956.1 239.2L956.6 237.1L957.1 235.1L957.5 233.1L958 231.1L958.5 229.1L958.9 227.1L959.3 225.1L959.8 223.1L960.1 221.1L960.4 219.1L960.7 217.1L961 215.1L961.3 213L961.5 211L961.8 209L962.1 207L962.3 205L962.6 203Z"/>
<path d="M1007.3 177L1013.4 177L1013.5 179L1013.7 181L1013.8 183L1013.9 185L1014.1 187L1014.2 189L1014.4 191L1014.6 193L1014.8 195L1015 197L1015.3 199L1015.5 201L1015.8 203L1016.1 205L1016.4 207L1016.7 209L1017.1 211L1017.5 213L1017.9 215L1018.4 217L1018.9 219L1019.4 221L1019.9 223L1020.4 225L1020.9 227L1021.4 229L1021.9 231.1L1022.4 233.1L1022.9 235.1L1023.5 237.1L1024 239.1L1024.6 241.1L1025.1 243.1L1025.7 245.1L1026.2 247.1L1026.7 249.1L1027.3 251.1L1027.8 253.1L1028.2 255.1L1028.6 257.1L1029 259.1L1029.3 261.1L1029.7 263.1L1030 265.1L1030.2 267.1L1030.4 269.1L1030.6 271.1L1030.8 273.1L1030.9 275.1L1031 277.1L1031 279.1L1031 281.1L1031 283.1L1031 285.1L1031 287.1L1031 289.1L1030.9 291.1L1030.7 293.1L1030.4 295.1L1030 297.1L1029.5 299.1L1029.1 301.1L1028.6 303.1L1028 305.1L1027.4 307.1L1026.7 309.1L1026 311.1L1025.3 313.1L1024.8 315.1L1024.2 317.1L1023.6 319.1L1023.1 321.1L1022.6 323.1L1022 325.1L1021.5 327.1L1021 329.1L1020.5 331.1L1020.1 333.1L1019.7 335.1L1019.3 337.1L1018.9 339.2L1018.6 341.2L1018.3 343.2L1018 345.2L1017.8 347.2L1017.5 349.2L1017.3 351.2L1017.1 353.2L1016.9 355.2L1016.6 357.2L1016.5 359.2L1016.3 361.2L1016.1 363.2L1016 365.2L1015.9 367.2L1015.8 369.2L1015.7 371.2L1015.6 373.2L1015.5 375.2L1015.5 377.2L1015.4 379.2L1015.3 381.2L1015.3 383.2L1015.2 385.2L1015.2 387.2L1015.2 389.2L1015.2 391.2L1015.2 393.2L1015.2 395.2L1015.2 397.2L1015.2 399.2L1015.2 401.2L1015.2 403.2L1015.2 405.2L1015.2 407.2L1015.2 409.2L1015.2 411.2L1015.2 413.2L1015.2 415.2L1015.2 417.2L1015.2 419.2L1015.2 421.2L1015.2 423.2L1015.2 425.2L1015.2 427.2L1015.2 429.2L1015.2 431.2L1015.2 433.2L1015.2 435.2L1015.2 437.2L1015.2 439.2L1015.2 441.2L1015.1 443.2L1015.1 445.3L1015.1 447.3L1015 449.3L1015 451.3L1014.9 453.3L1014.9 455.3L1014.8 457.3L1014.8 459.3L1014.7 461.3L1014.6 463.3L1014.6 465.3L1014.5 467.3L1014.4 469.3L1014.4 471.3L1014.3 473.3L1014.2 475.3L1014.1 477.3L1014 479.3L1014 481.3L1013.9 483.3L1013.8 485.3L1013.7 487.3L1013.6 489.3L1013.5 491.3L1013.3 493.3L1013.2 495.3L1013.1 497.3Q1013.1 500 1010.4 500L1010.4 500Q1007.7 500 1007.7 497.3L1007.6 495.3L1007.4 493.3L1007.3 491.3L1007.2 489.3L1007.1 487.3L1007 485.3L1006.9 483.3L1006.8 481.3L1006.7 479.3L1006.6 477.3L1006.6 475.3L1006.5 473.3L1006.4 471.3L1006.3 469.3L1006.3 467.3L1006.2 465.3L1006.1 463.3L1006.1 461.3L1006 459.3L1005.9 457.3L1005.9 455.3L1005.8 453.3L1005.8 451.3L1005.7 449.3L1005.7 447.3L1005.7 445.3L1005.6 443.2L1005.6 441.2L1005.6 439.2L1005.6 437.2L1005.6 435.2L1005.6 433.2L1005.6 431.2L1005.6 429.2L1005.6 427.2L1005.6 425.2L1005.6 423.2L1005.6 421.2L1005.6 419.2L1005.6 417.2L1005.6 415.2L1005.6 413.2L1005.6 411.2L1005.6 409.2L1005.6 407.2L1005.6 405.2L1005.6 403.2L1005.6 401.2L1005.6 399.2L1005.6 397.2L1005.6 395.2L1005.6 393.2L1005.6 391.2L1005.6 389.2L1005.5 387.2L1005.5 385.2L1005.5 383.2L1005.4 381.2L1005.4 379.2L1005.3 377.2L1005.2 375.2L1005.1 373.2L1005.1 371.2L1005 369.2L1004.9 367.2L1004.8 365.2L1004.6 363.2L1004.5 361.2L1004.3 359.2L1004.1 357.2L1003.9 355.2L1003.7 353.2L1003.5 351.2L1003.2 349.2L1003 347.2L1002.7 345.2L1002.5 343.2L1002.2 341.2L1001.8 339.2L1001.5 337.1L1001.1 335.1L1000.7 333.1L1000.2 331.1L999.7 329.1L999.2 327.1L998.7 325.1L998.2 323.1L997.7 321.1L997.1 319.1L996.6 317.1L996 315.1L995.4 313.1L994.8 311.1L994.1 309.1L993.4 307.1L992.7 305.1L992.1 303.1L991.7 301.1L991.2 299.1L990.8 297.1L990.4 295.1L990.1 293.1L989.9 291.1L989.8 289.1L989.8 287.1L989.8 285.1L989.8 283.1L989.8 281.1L989.8 279.1L989.8 277.1L989.9 275.1L990 273.1L990.2 271.1L990.4 269.1L990.6 267.1L990.8 265.1L991.1 263.1L991.4 261.1L991.8 259.1L992.2 257.1L992.6 255.1L993 253.1L993.5 251.1L994 249.1L994.6 247.1L995.1 245.1L995.6 243.1L996.2 241.1L996.7 239.1L997.3 237.1L997.8 235.1L998.4 233.1L998.9 231.1L999.4 229L999.9 227L1000.3 225L1000.8 223L1001.3 221L1001.8 219L1002.3 217L1002.8 215L1003.3 213L1003.7 211L1004 209L1004.4 207L1004.7 205L1005 203L1005.2 201L1005.5 199L1005.7 197L1006 195L1006.2 193L1006.4 191L1006.6 189L1006.7 187L1006.8 185L1007 183L1007.1 181L1007.2 179L1007.3 177Z"/>
<path d="M1052.2 183L1058.2 183L1058.4 185L1058.6 187L1058.9 189L1059.1 191L1059.4 193L1059.8 195L1060.1 197L1060.5 199L1060.9 201L1061.3 203L1061.7 205L1062.1 207L1062.6 209L1063 211L1063.5 213L1064 215L1064.6 217L1065.1 219L1065.6 221L1066.2 223L1066.7 225L1067.3 227L1067.8 229L1068.4 231L1068.9 233L1069.5 235L1070 237.1L1070.6 239.1L1071.2 241.1L1071.7 243.1L1072.2 245.1L1072.6 247.1L1073.1 249.1L1073.5 251.1L1074 253.1L1074.3 255.1L1074.7 257.1L1075 259.1L1075.3 261.1L1075.5 263.1L1075.7 265.1L1075.8 267.1L1075.8 269.1L1075.8 271.1L1075.6 273.1L1075.5 275.1L1075.3 277.1L1075.1 279.1L1074.8 281.1L1074.5 283.1L1074.2 285.1L1073.8 287.1L1073.4 289.1L1073 291.1L1072.5 293.1L1072 295.1L1071.5 297.1L1071 299.1L1070.4 301.1L1069.7 303.1L1069.1 305.1L1068.5 307.1L1068 309.1L1067.6 311.1L1067.3 313.1L1067.1 315.1L1066.8 317.1L1066.6 319.1L1066.3 321.1L1066 323.1L1065.7 325.1L1065.3 327.1L1064.9 329.1L1064.4 331.1L1064 333.1L1063.7 335.1L1063.4 337.1L1063.1 339.1L1062.8 341.1L1062.6 343.2L1062.4 345.2L1062.2 347.2L1062 349.2L1061.8 351.2L1061.6 353.2L1061.4 355.2L1061.3 357.2L1061.1 359.2L1061 361.2L1060.8 363.2L1060.7 365.2L1060.7 367.2L1060.6 369.2L1060.6 371.2L1060.5 373.2L1060.5 375.2L1060.5 377.2L1060.5 379.2L1060.4 381.2L1060.4 383.2L1060.4 385.2L1060.4 387.2L1060.3 389.2L1060.3 391.2L1060.3 393.2L1060.3 395.2L1060.3 397.2L1060.3 399.2L1060.2 401.2L1060.2 403.2L1060.2 405.2L1060.2 407.2L1060.2 409.2L1060.2 411.2L1060.2 413.2L1060.2 415.2L1060.2 417.2L1060.2 419.2L1060.3 421.2L1060.3 423.2L1060.3 425.2L1060.3 427.2L1060.4 429.2L1060.4 431.2L1060.4 433.2L1060.5 435.2L1060.5 437.2L1060.6 439.2L1060.6 441.2L1060.6 443.2L1060.7 445.2L1060.7 447.3L1060.7 449.3L1060.8 451.3L1060.8 453.3L1060.8 455.3L1060.8 457.3L1060.8 459.3L1060.8 461.3L1060.7 463.3L1060.6 465.3L1060.5 467.3L1060.3 469.3L1060.1 471.3L1060 473.3L1059.8 475.3L1059.6 477.3L1059.4 479.3L1059.3 481.3L1059.1 483.3L1059 485.3L1058.8 487.3L1058.7 489.3L1058.5 491.3L1058.4 493.3L1058.2 495.3L1058.1 497.3L1057.9 499.3Q1057.9 502 1055.2 502L1055.2 502Q1052.5 502 1052.5 499.3L1052.3 497.3L1052.2 495.3L1052 493.3L1051.9 491.3L1051.7 489.3L1051.6 487.3L1051.4 485.3L1051.3 483.3L1051.1 481.3L1051 479.3L1050.8 477.3L1050.6 475.3L1050.5 473.3L1050.3 471.3L1050.1 469.3L1050 467.3L1049.8 465.3L1049.7 463.3L1049.6 461.3L1049.6 459.3L1049.6 457.3L1049.6 455.3L1049.6 453.3L1049.7 451.3L1049.7 449.3L1049.7 447.3L1049.7 445.2L1049.8 443.2L1049.8 441.2L1049.9 439.2L1049.9 437.2L1049.9 435.2L1050 433.2L1050 431.2L1050 429.2L1050.1 427.2L1050.1 425.2L1050.1 423.2L1050.2 421.2L1050.2 419.2L1050.2 417.2L1050.2 415.2L1050.2 413.2L1050.2 411.2L1050.2 409.2L1050.2 407.2L1050.2 405.2L1050.2 403.2L1050.2 401.2L1050.2 399.2L1050.2 397.2L1050.1 395.2L1050.1 393.2L1050.1 391.2L1050.1 389.2L1050.1 387.2L1050 385.2L1050 383.2L1050 381.2L1050 379.2L1049.9 377.2L1049.9 375.2L1049.9 373.2L1049.8 371.2L1049.8 369.2L1049.8 367.2L1049.7 365.2L1049.6 363.2L1049.5 361.2L1049.3 359.2L1049.2 357.2L1049 355.2L1048.8 353.2L1048.6 351.2L1048.4 349.2L1048.2 347.2L1048 345.2L1047.8 343.2L1047.6 341.1L1047.3 339.1L1047 337.1L1046.7 335.1L1046.4 333.1L1046 331.1L1045.5 329.1L1045.1 327.1L1044.7 325.1L1044.4 323.1L1044.1 321.1L1043.8 319.1L1043.6 317.1L1043.4 315.1L1043.1 313.1L1042.8 311.1L1042.4 309.1L1042 307.1L1041.3 305.1L1040.7 303.1L1040 301.1L1039.5 299.1L1038.9 297.1L1038.4 295.1L1037.9 293.1L1037.5 291.1L1037 289.1L1036.6 287.1L1036.3 285.1L1035.9 283.1L1035.6 281.1L1035.3 279.1L1035.1 277.1L1034.9 275.1L1034.8 273.1L1034.7 271.1L1034.6 269.1L1034.7 267.1L1034.8 265.1L1034.9 263.1L1035.1 261.1L1035.4 259.1L1035.7 257.1L1036.1 255.1L1036.5 253.1L1036.9 251.1L1037.3 249.1L1037.8 247.1L1038.3 245.1L1038.7 243.1L1039.3 241.1L1039.8 239.1L1040.4 237.1L1040.9 235L1041.5 233L1042 231L1042.6 229L1043.1 227L1043.7 225L1044.2 223L1044.8 221L1045.3 219L1045.9 217L1046.4 215L1046.9 213L1047.4 211L1047.9 209L1048.3 207L1048.7 205L1049.1 203L1049.5 201L1049.9 199L1050.3 197L1050.6 195L1051 193L1051.3 191L1051.6 189L1051.8 187L1052 185L1052.2 183Z"/>
<path d="M1097 93.7L1103.1 93.7L1103.1 95.7L1103.2 97.7L1103.3 99.7L1103.4 101.7L1103.5 103.7L1103.7 105.8L1103.9 107.8L1104 109.8L1104.2 111.8L1104.3 113.8L1104.5 115.8L1104.7 117.8L1104.9 119.8L1105.1 121.8L1105.3 123.8L1105.5 125.8L1105.8 127.9L1106.1 129.9L1106.4 131.9L1106.7 133.9L1107 135.9L1107.3 137.9L1107.7 139.9L1108 141.9L1108.4 143.9L1108.8 145.9L1109.3 147.9L1109.7 150L1110.1 152L1110.6 154L1111.1 156L1111.5 158L1112 160L1112.5 162L1113 164L1113.4 166L1113.9 168L1114.4 170.1L1114.9 172.1L1115.4 174.1L1115.8 176.1L1116.3 178.1L1116.7 180.1L1117.1 182.1L1117.5 184.1L1117.8 186.1L1118.2 188.1L1118.5 190.1L1118.8 192.2L1119.1 194.2L1119.4 196.2L1119.6 198.2L1119.9 200.2L1120.1 202.2L1120.3 204.2L1120.4 206.2L1120.6 208.2L1120.6 210.2L1120.6 212.2L1120.6 214.3L1120.6 216.3L1120.5 218.3L1120.4 220.3L1120.3 222.3L1120.2 224.3L1120.1 226.3L1119.9 228.3L1119.6 230.3L1119.4 232.3L1119.2 234.3L1118.9 236.4L1118.6 238.4L1118.2 240.4L1117.8 242.4L1117.5 244.4L1117.1 246.4L1116.6 248.4L1116.2 250.4L1115.7 252.4L1115.3 254.4L1114.8 256.4L1114.5 258.5L1114.1 260.5L1113.7 262.5L1113.3 264.5L1112.9 266.5L1112.5 268.5L1112.1 270.5L1111.7 272.5L1111.3 274.5L1110.9 276.5L1110.5 278.6L1110.1 280.6L1109.6 282.6L1109.2 284.6L1108.8 286.6L1108.4 288.6L1108.1 290.6L1107.7 292.6L1107.4 294.6L1107.1 296.6L1106.9 298.6L1106.8 300.7L1106.8 302.7L1106.7 304.7L1106.7 306.7L1106.7 308.7L1106.7 310.7L1106.6 312.7L1106.6 314.7L1106.6 316.7L1106.6 318.7L1106.6 320.7L1106.6 322.8L1106.5 324.8L1106.5 326.8L1106.5 328.8L1106.5 330.8L1106.5 332.8L1106.4 334.8L1106.4 336.8L1106.4 338.8L1106.4 340.8L1106.3 342.8L1106.3 344.9L1106.3 346.9L1106.3 348.9L1106.2 350.9L1106.2 352.9L1106.2 354.9L1106.2 356.9L1106.2 358.9L1106.2 360.9L1106.2 362.9L1106.1 364.9L1106.1 367L1106.1 369L1106.1 371L1106.1 373L1106.2 375L1106.2 377L1106.2 379L1106.2 381L1106.2 383L1106.3 385L1106.3 387.1L1106.3 389.1L1106.4 391.1L1106.4 393.1L1106.4 395.1L1106.5 397.1L1106.5 399.1L1106.5 401.1L1106.6 403.1L1106.6 405.1L1106.6 407.1L1106.7 409.2L1106.7 411.2L1106.7 413.2L1106.8 415.2L1106.8 417.2L1106.8 419.2L1106.8 421.2L1106.9 423.2L1106.9 425.2L1106.9 427.2L1107 429.2L1107 431.3L1107 433.3L1107.1 435.3L1107.1 437.3L1107.1 439.3L1107.2 441.3L1107.2 443.3L1107.2 445.3L1107.2 447.3L1107.2 449.3L1107.3 451.3L1107.3 453.4L1107.3 455.4L1107.3 457.4L1107.3 459.4L1107.3 461.4L1107.3 463.4L1107.3 465.4L1107.2 467.4L1107.2 469.4L1107.2 471.4L1107.2 473.4L1107.1 475.5L1107.1 477.5L1107.1 479.5L1107 481.5L1107 483.5L1106.9 485.5L1106.9 487.5L1106.7 489.5L1106.6 491.5L1105.9 493.5L1104.5 495.6Q1104.5 498.3 1101.8 498.3L1098.3 498.3Q1095.5 498.3 1095.5 495.6L1094.1 493.5L1093.5 491.5L1093.3 489.5L1093.2 487.5L1093.1 485.5L1093.1 483.5L1093 481.5L1093 479.5L1093 477.5L1092.9 475.5L1092.9 473.4L1092.9 471.4L1092.9 469.4L1092.8 467.4L1092.8 465.4L1092.8 463.4L1092.8 461.4L1092.8 459.4L1092.8 457.4L1092.8 455.4L1092.8 453.4L1092.8 451.3L1092.8 449.3L1092.9 447.3L1092.9 445.3L1092.9 443.3L1092.9 441.3L1092.9 439.3L1093 437.3L1093 435.3L1093 433.3L1093.1 431.3L1093.1 429.2L1093.1 427.2L1093.2 425.2L1093.2 423.2L1093.2 421.2L1093.3 419.2L1093.3 417.2L1093.3 415.2L1093.4 413.2L1093.4 411.2L1093.4 409.2L1093.4 407.1L1093.5 405.1L1093.5 403.1L1093.5 401.1L1093.6 399.1L1093.6 397.1L1093.7 395.1L1093.7 393.1L1093.7 391.1L1093.8 389.1L1093.8 387.1L1093.8 385L1093.8 383L1093.9 381L1093.9 379L1093.9 377L1093.9 375L1093.9 373L1093.9 371L1093.9 369L1093.9 367L1093.9 364.9L1093.9 362.9L1093.9 360.9L1093.9 358.9L1093.9 356.9L1093.9 354.9L1093.9 352.9L1093.8 350.9L1093.8 348.9L1093.8 346.9L1093.8 344.9L1093.7 342.8L1093.7 340.8L1093.7 338.8L1093.7 336.8L1093.6 334.8L1093.6 332.8L1093.6 330.8L1093.6 328.8L1093.6 326.8L1093.5 324.8L1093.5 322.8L1093.5 320.7L1093.5 318.7L1093.5 316.7L1093.5 314.7L1093.4 312.7L1093.4 310.7L1093.4 308.7L1093.4 306.7L1093.3 304.7L1093.3 302.7L1093.3 300.7L1093.2 298.6L1093 296.6L1092.7 294.6L1092.4 292.6L1092 290.6L1091.7 288.6L1091.3 286.6L1090.9 284.6L1090.4 282.6L1090 280.6L1089.6 278.6L1089.1 276.5L1088.7 274.5L1088.3 272.5L1087.9 270.5L1087.5 268.5L1087.1 266.5L1086.8 264.5L1086.4 262.5L1086 260.5L1085.6 258.5L1085.2 256.4L1084.8 254.4L1084.4 252.4L1083.9 250.4L1083.5 248.4L1083 246.4L1082.6 244.4L1082.2 242.4L1081.9 240.4L1081.5 238.4L1081.2 236.4L1080.9 234.3L1080.7 232.3L1080.4 230.3L1080.2 228.3L1080 226.3L1079.9 224.3L1079.8 222.3L1079.7 220.3L1079.6 218.3L1079.5 216.3L1079.5 214.3L1079.4 212.2L1079.4 210.2L1079.5 208.2L1079.6 206.2L1079.8 204.2L1080 202.2L1080.2 200.2L1080.4 198.2L1080.7 196.2L1081 194.2L1081.3 192.2L1081.6 190.1L1081.9 188.1L1082.3 186.1L1082.6 184.1L1083 182.1L1083.4 180.1L1083.8 178.1L1084.2 176.1L1084.7 174.1L1085.2 172.1L1085.7 170.1L1086.1 168L1086.6 166L1087.1 164L1087.6 162L1088.1 160L1088.5 158L1089 156L1089.5 154L1089.9 152L1090.4 150L1090.8 147.9L1091.3 145.9L1091.7 143.9L1092 141.9L1092.4 139.9L1092.8 137.9L1093.1 135.9L1093.4 133.9L1093.7 131.9L1094 129.9L1094.3 127.9L1094.5 125.8L1094.8 123.8L1095 121.8L1095.2 119.8L1095.4 117.8L1095.6 115.8L1095.7 113.8L1095.9 111.8L1096.1 109.8L1096.2 107.8L1096.4 105.8L1096.6 103.7L1096.7 101.7L1096.8 99.7L1096.9 97.7L1096.9 95.7L1097 93.7Z"/>
<path d="M1141.8 441L1147.9 441L1148 443L1148.1 445.1L1148.2 447.1L1148.3 449.2L1148.4 451.2L1148.5 453.3L1148.6 455.3L1148.7 457.4L1148.8 459.4L1148.9 461.5L1149 463.5L1149 465.5L1149.1 467.6L1149.2 469.6L1149.3 471.7L1149.4 473.7L1149.5 475.8L1149.6 477.8L1149.8 479.9L1150 481.9L1150.6 484L1151.4 486L1152.5 488L1153.9 490.1L1155.9 492.1L1158.1 494.2L1160.5 496.2L1162.6 498.3L1164.3 500.3L1165.4 502.4L1165.4 504.4L1165 506.5L1163.7 508.5L1155.9 510.5Q1155.9 513.3 1153.1 513.3L1136.6 513.3Q1133.9 513.3 1133.9 510.5L1126 508.5L1124.8 506.5L1124.4 504.4L1124.3 502.4L1125.4 500.3L1127.1 498.3L1129.2 496.2L1131.7 494.2L1133.9 492.1L1135.8 490.1L1137.3 488L1138.4 486L1139.2 484L1139.7 481.9L1140 479.9L1140.1 477.8L1140.2 475.8L1140.3 473.7L1140.4 471.7L1140.5 469.6L1140.6 467.6L1140.7 465.5L1140.8 463.5L1140.9 461.5L1140.9 459.4L1141 457.4L1141.1 455.3L1141.2 453.3L1141.3 451.2L1141.4 449.2L1141.5 447.1L1141.6 445.1L1141.7 443L1141.8 441Z"/>
<path d="M738.4 855L744.4 855L744.5 857L744.5 859L744.5 861L744.5 863L744.5 865L744.5 867L744.5 869L744.5 871L744.5 873L744.6 875L744.6 877L744.6 879L744.6 881.1L744.6 883.1L744.6 885.1L744.6 887.1L744.6 889.1L744.6 891.1L744.6 893.1L744.6 895.1L744.6 897.1L744.6 899.1L744.6 901.1L744.6 903.1L744.6 905.1L744.6 907.1L744.7 909.1L744.7 911.1L744.7 913.1L744.7 915.1L744.7 917.1L744.7 919.1L744.7 921.1L744.7 923.1L744.7 925.1L744.7 927.1L744.7 929.1L744.7 931.1L744.8 933.2L744.8 935.2L744.8 937.2L744.8 939.2L744.8 941.2L744.8 943.2L744.9 945.2L744.9 947.2L744.9 949.2L745 951.2L745 953.2L745 955.2L745.1 957.2L745.1 959.2L745.2 961.2L745.2 963.2L745.2 965.2L745.3 967.2L745.3 969.2L745.3 971.2L745.4 973.2L745.4 975.2L745.4 977.2L745.4 979.2L745.4 981.2L745.5 983.3L745.5 985.3L745.6 987.3L745.7 989.3L745.8 991.3L746 993.3L746.1 995.3L746.3 997.3L746.4 999.3L746.6 1001.3L746.8 1003.3L747 1005.3L747.2 1007.3L747.6 1009.3L748 1011.3L748.4 1013.3L748.9 1015.3L749.4 1017.3L750 1019.3L750.5 1021.3L751.2 1023.3L751.8 1025.3L752.5 1027.3L753.2 1029.3L753.9 1031.3L754.7 1033.3L755.5 1035.4L756.3 1037.4L757 1039.4L757.7 1041.4L758.4 1043.4L759.1 1045.4L759.7 1047.4L760.3 1049.4L760.8 1051.4L761.2 1053.4L761.5 1055.4L761.7 1057.4L761.9 1059.4L762 1061.4L762.1 1063.4L762.1 1065.4L761.9 1067.4L761.4 1069.4L760.9 1071.4L760.2 1073.4L759.3 1075.4L758.2 1077.4L757 1079.4L755.6 1081.4L754 1083.4L752.6 1085.5L751 1087.5L749.5 1089.5L748.3 1091.5L747.6 1093.5L747 1095.5L746.5 1097.5L746.1 1099.5L745.8 1101.5L745.5 1103.5L745.3 1105.5L745.3 1107.5L745.3 1109.5L745.3 1111.5L745.4 1113.5L745.4 1115.5L745.4 1117.5L745.5 1119.5L745.5 1121.5L745.6 1123.5L745.6 1125.5L745.7 1127.5L745.7 1129.5L745.8 1131.5L745.8 1133.5L745.9 1135.5L745.9 1137.6L745.9 1139.6L745.9 1141.6L745.9 1143.6L745.9 1145.6L745.8 1147.6L745.8 1149.6L745.7 1151.6L745.7 1153.6L745.6 1155.6L745.2 1157.6L744.7 1159.6L744.1 1161.6Q744.1 1164.3 741.4 1164.3L741.4 1164.3Q738.7 1164.3 738.7 1161.6L738.1 1159.6L737.6 1157.6L737.2 1155.6L737.1 1153.6L737.1 1151.6L737 1149.6L737 1147.6L736.9 1145.6L736.9 1143.6L736.9 1141.6L736.9 1139.6L736.9 1137.6L736.9 1135.5L737 1133.5L737 1131.5L737.1 1129.5L737.1 1127.5L737.2 1125.5L737.2 1123.5L737.3 1121.5L737.3 1119.5L737.4 1117.5L737.4 1115.5L737.4 1113.5L737.5 1111.5L737.5 1109.5L737.5 1107.5L737.5 1105.5L737.3 1103.5L737 1101.5L736.7 1099.5L736.3 1097.5L735.8 1095.5L735.2 1093.5L734.5 1091.5L733.3 1089.5L731.8 1087.5L730.2 1085.5L728.8 1083.4L727.2 1081.4L725.8 1079.4L724.6 1077.4L723.5 1075.4L722.6 1073.4L721.9 1071.4L721.4 1069.4L720.9 1067.4L720.7 1065.4L720.7 1063.4L720.8 1061.4L720.9 1059.4L721.1 1057.4L721.3 1055.4L721.6 1053.4L722 1051.4L722.5 1049.4L723.1 1047.4L723.7 1045.4L724.4 1043.4L725.1 1041.4L725.8 1039.4L726.5 1037.4L727.3 1035.4L728.1 1033.3L728.9 1031.3L729.6 1029.3L730.3 1027.3L731 1025.3L731.6 1023.3L732.3 1021.3L732.8 1019.3L733.4 1017.3L733.9 1015.3L734.4 1013.3L734.8 1011.3L735.2 1009.3L735.6 1007.3L735.8 1005.3L736 1003.3L736.2 1001.3L736.4 999.3L736.5 997.3L736.7 995.3L736.8 993.3L737 991.3L737.1 989.3L737.2 987.3L737.3 985.3L737.3 983.3L737.4 981.2L737.4 979.2L737.4 977.2L737.4 975.2L737.4 973.2L737.5 971.2L737.5 969.2L737.5 967.2L737.6 965.2L737.6 963.2L737.6 961.2L737.7 959.2L737.7 957.2L737.8 955.2L737.8 953.2L737.8 951.2L737.9 949.2L737.9 947.2L737.9 945.2L738 943.2L738 941.2L738 939.2L738 937.2L738 935.2L738 933.2L738.1 931.1L738.1 929.1L738.1 927.1L738.1 925.1L738.1 923.1L738.1 921.1L738.1 919.1L738.1 917.1L738.1 915.1L738.1 913.1L738.1 911.1L738.1 909.1L738.2 907.1L738.2 905.1L738.2 903.1L738.2 901.1L738.2 899.1L738.2 897.1L738.2 895.1L738.2 893.1L738.2 891.1L738.2 889.1L738.2 887.1L738.2 885.1L738.2 883.1L738.2 881.1L738.2 879L738.2 877L738.2 875L738.3 873L738.3 871L738.3 869L738.3 867L738.3 865L738.3 863L738.3 861L738.3 859L738.3 857L738.4 855Z"/>
<path d="M783.2 785L789.3 785L789.3 787L789.3 789L789.3 791L789.3 793L789.4 795L789.4 797L789.4 799L789.4 801L789.4 803L789.4 805L789.4 807L789.4 809L789.4 811L789.5 813L789.5 815L789.5 817L789.5 819L789.5 821L789.5 823L789.5 825L789.5 827L789.5 829L789.5 831L789.5 833L789.5 835L789.5 837L789.6 839L789.6 841L789.6 843L789.6 845L789.6 847L789.6 849.1L789.7 851.1L789.7 853.1L789.7 855.1L789.7 857.1L789.7 859.1L789.8 861.1L789.8 863.1L789.8 865.1L789.9 867.1L789.9 869.1L789.9 871.1L789.9 873.1L790 875.1L790 877.1L790 879.1L790.1 881.1L790.1 883.1L790.2 885.1L790.2 887.1L790.2 889.1L790.3 891.1L790.3 893.1L790.3 895.1L790.4 897.1L790.4 899.1L790.5 901.1L790.5 903.1L790.5 905.1L790.6 907.1L790.6 909.1L790.6 911.1L790.7 913.1L790.7 915.1L790.8 917.1L790.8 919.1L790.8 921.1L790.9 923.1L790.9 925.1L790.9 927.1L791 929.1L791 931.1L791.1 933.1L791.1 935.1L791.2 937.1L791.2 939.1L791.3 941.1L791.3 943.1L791.4 945.1L791.5 947.1L791.6 949.1L791.7 951.1L791.8 953.1L791.9 955.1L792 957.1L792.1 959.1L792.3 961.1L792.4 963.1L792.6 965.1L792.7 967.1L792.9 969.1L793.1 971.1L793.3 973.1L793.5 975.2L793.7 977.2L794 979.2L794.2 981.2L794.4 983.2L794.7 985.2L795 987.2L795.3 989.2L795.6 991.2L796 993.2L796.4 995.2L796.8 997.2L797.2 999.2L797.7 1001.2L798.1 1003.2L798.6 1005.2L799.1 1007.2L799.5 1009.2L800 1011.2L800.4 1013.2L800.8 1015.2L801.3 1017.2L801.7 1019.2L802.1 1021.2L802.6 1023.2L803 1025.2L803.4 1027.2L803.8 1029.2L804.1 1031.2L804.4 1033.2L804.7 1035.2L804.9 1037.2L805.1 1039.2L805.4 1041.2L805.6 1043.2L805.8 1045.2L805.9 1047.2L806.1 1049.2L806.2 1051.2L806.3 1053.2L806.4 1055.2L806.5 1057.2L806.5 1059.2L806.6 1061.2L806.6 1063.2L806.6 1065.2L806.5 1067.2L806.1 1069.2L805.7 1071.2L805.2 1073.2L804.7 1075.2L804.1 1077.2L803.5 1079.2L802.8 1081.2L802.1 1083.2L801.5 1085.2L800.8 1087.2L800.1 1089.2L799.3 1091.2L798.6 1093.2L798 1095.2L797.3 1097.2L796.7 1099.2L796.1 1101.3L795.5 1103.3L795 1105.3L794.6 1107.3L794.2 1109.3L793.9 1111.3L793.6 1113.3L793.4 1115.3L793.3 1117.3L793.2 1119.3L793.3 1121.3L793.3 1123.3L793.4 1125.3L793.4 1127.3L793.5 1129.3L793.6 1131.3L793.7 1133.3L793.7 1135.3L793.8 1137.3L793.8 1139.3L793.8 1141.3L793.8 1143.3L793.8 1145.3L793.7 1147.3L793.6 1149.3L793.5 1151.3L793.4 1153.3L793.2 1155.3L792.9 1157.3L792.4 1159.3L791.5 1161.3L788.9 1163.3Q788.9 1166 786.2 1166L786.2 1166Q783.5 1166 783.5 1163.3L780.9 1161.3L780.1 1159.3L779.5 1157.3L779.3 1155.3L779.1 1153.3L779 1151.3L778.9 1149.3L778.8 1147.3L778.7 1145.3L778.6 1143.3L778.6 1141.3L778.6 1139.3L778.7 1137.3L778.7 1135.3L778.8 1133.3L778.9 1131.3L779 1129.3L779 1127.3L779.1 1125.3L779.2 1123.3L779.2 1121.3L779.2 1119.3L779.2 1117.3L779.1 1115.3L778.8 1113.3L778.5 1111.3L778.2 1109.3L777.9 1107.3L777.5 1105.3L777 1103.3L776.4 1101.3L775.8 1099.2L775.1 1097.2L774.5 1095.2L773.8 1093.2L773.1 1091.2L772.4 1089.2L771.7 1087.2L771 1085.2L770.3 1083.2L769.6 1081.2L769 1079.2L768.3 1077.2L767.8 1075.2L767.3 1073.2L766.8 1071.2L766.3 1069.2L766 1067.2L765.8 1065.2L765.8 1063.2L765.9 1061.2L765.9 1059.2L766 1057.2L766.1 1055.2L766.2 1053.2L766.2 1051.2L766.4 1049.2L766.5 1047.2L766.7 1045.2L766.9 1043.2L767.1 1041.2L767.3 1039.2L767.5 1037.2L767.8 1035.2L768.1 1033.2L768.4 1031.2L768.7 1029.2L769.1 1027.2L769.5 1025.2L769.9 1023.2L770.3 1021.2L770.8 1019.2L771.2 1017.2L771.6 1015.2L772.1 1013.2L772.5 1011.2L772.9 1009.2L773.4 1007.2L773.8 1005.2L774.3 1003.2L774.8 1001.2L775.3 999.2L775.7 997.2L776.1 995.2L776.5 993.2L776.8 991.2L777.2 989.2L777.5 987.2L777.8 985.2L778 983.2L778.3 981.2L778.5 979.2L778.7 977.2L779 975.2L779.2 973.1L779.4 971.1L779.6 969.1L779.7 967.1L779.9 965.1L780.1 963.1L780.2 961.1L780.3 959.1L780.4 957.1L780.6 955.1L780.7 953.1L780.8 951.1L780.9 949.1L781 947.1L781.1 945.1L781.1 943.1L781.2 941.1L781.3 939.1L781.3 937.1L781.4 935.1L781.4 933.1L781.4 931.1L781.5 929.1L781.5 927.1L781.6 925.1L781.6 923.1L781.6 921.1L781.7 919.1L781.7 917.1L781.7 915.1L781.8 913.1L781.8 911.1L781.9 909.1L781.9 907.1L781.9 905.1L782 903.1L782 901.1L782 899.1L782.1 897.1L782.1 895.1L782.2 893.1L782.2 891.1L782.2 889.1L782.3 887.1L782.3 885.1L782.3 883.1L782.4 881.1L782.4 879.1L782.4 877.1L782.5 875.1L782.5 873.1L782.5 871.1L782.6 869.1L782.6 867.1L782.6 865.1L782.7 863.1L782.7 861.1L782.7 859.1L782.7 857.1L782.8 855.1L782.8 853.1L782.8 851.1L782.8 849.1L782.8 847L782.9 845L782.9 843L782.9 841L782.9 839L782.9 837L782.9 835L782.9 833L782.9 831L782.9 829L783 827L783 825L783 823L783 821L783 819L783 817L783 815L783 813L783 811L783 809L783 807L783 805L783.1 803L783.1 801L783.1 799L783.1 797L783.1 795L783.1 793L783.1 791L783.1 789L783.2 787L783.2 785Z"/>
<path d="M828 844L834.1 844L834.1 846L834.2 848L834.2 850L834.2 852L834.2 854L834.3 856L834.3 858.1L834.3 860.1L834.3 862.1L834.4 864.1L834.4 866.1L834.4 868.1L834.5 870.1L834.5 872.1L834.5 874.1L834.6 876.1L834.6 878.1L834.6 880.1L834.7 882.2L834.7 884.2L834.7 886.2L834.8 888.2L834.8 890.2L834.8 892.2L834.9 894.2L834.9 896.2L834.9 898.2L835 900.2L835 902.2L835 904.2L835.1 906.3L835.1 908.3L835.1 910.3L835.2 912.3L835.2 914.3L835.2 916.3L835.3 918.3L835.3 920.3L835.3 922.3L835.4 924.3L835.4 926.3L835.4 928.3L835.4 930.4L835.5 932.4L835.5 934.4L835.5 936.4L835.5 938.4L835.6 940.4L835.6 942.4L835.6 944.4L835.6 946.4L835.7 948.4L835.7 950.4L835.7 952.4L835.7 954.4L835.7 956.5L835.7 958.5L835.8 960.5L835.8 962.5L835.8 964.5L835.8 966.5L835.9 968.5L835.9 970.5L835.9 972.5L835.9 974.5L835.9 976.5L836 978.5L836 980.6L836 982.6L836.1 984.6L836.1 986.6L836.2 988.6L836.4 990.6L836.6 992.6L836.7 994.6L836.9 996.6L837.1 998.6L837.4 1000.6L837.6 1002.6L837.9 1004.7L838.3 1006.7L838.6 1008.7L839 1010.7L839.5 1012.7L840 1014.7L840.5 1016.7L841 1018.7L841.6 1020.7L842.1 1022.7L842.6 1024.7L843.2 1026.7L843.8 1028.8L844.4 1030.8L845 1032.8L845.7 1034.8L846.4 1036.8L847 1038.8L847.6 1040.8L848.2 1042.8L848.9 1044.8L849.4 1046.8L850 1048.8L850.4 1050.8L850.8 1052.9L851 1054.9L851.3 1056.9L851.4 1058.9L851.5 1060.9L851.6 1062.9L851.7 1064.9L851.5 1066.9L851.2 1068.9L850.8 1070.9L850.3 1072.9L849.6 1074.9L848.8 1076.9L847.9 1079L846.8 1081L845.5 1083L844.3 1085L843.1 1087L842 1089L840.9 1091L839.8 1093L838.8 1095L837.8 1097L836.8 1099L836 1101L835.5 1103.1L835.1 1105.1L835 1107.1L835 1109.1L835 1111.1L835 1113.1L835.1 1115.1L835.2 1117.1L835.2 1119.1L835.3 1121.1L835.4 1123.1L835.5 1125.1L835.5 1127.2L835.6 1129.2L835.7 1131.2L835.7 1133.2L835.8 1135.2L835.8 1137.2L835.9 1139.2L835.9 1141.2L835.9 1143.2L835.8 1145.2L835.8 1147.2L835.8 1149.2L835.8 1151.3L835.7 1153.3L835.7 1155.3L835.6 1157.3L835.4 1159.3L834.6 1161.3L833.8 1163.3Q833.8 1166 831.1 1166L831.1 1166Q828.4 1166 828.4 1163.3L827.5 1161.3L826.8 1159.3L826.5 1157.3L826.5 1155.3L826.4 1153.3L826.4 1151.3L826.3 1149.2L826.3 1147.2L826.3 1145.2L826.3 1143.2L826.3 1141.2L826.3 1139.2L826.3 1137.2L826.3 1135.2L826.4 1133.2L826.4 1131.2L826.5 1129.2L826.6 1127.2L826.7 1125.1L826.7 1123.1L826.8 1121.1L826.9 1119.1L827 1117.1L827 1115.1L827.1 1113.1L827.1 1111.1L827.2 1109.1L827.2 1107.1L827 1105.1L826.6 1103.1L826.1 1101L825.3 1099L824.3 1097L823.3 1095L822.3 1093L821.3 1091L820.2 1089L819.1 1087L817.9 1085L816.6 1083L815.3 1081L814.2 1079L813.3 1076.9L812.5 1074.9L811.8 1072.9L811.3 1070.9L810.9 1068.9L810.6 1066.9L810.5 1064.9L810.5 1062.9L810.6 1060.9L810.7 1058.9L810.8 1056.9L811.1 1054.9L811.4 1052.9L811.7 1050.8L812.1 1048.8L812.7 1046.8L813.3 1044.8L813.9 1042.8L814.5 1040.8L815.1 1038.8L815.8 1036.8L816.4 1034.8L817.1 1032.8L817.7 1030.8L818.3 1028.8L818.9 1026.7L819.5 1024.7L820 1022.7L820.6 1020.7L821.1 1018.7L821.6 1016.7L822.1 1014.7L822.6 1012.7L823.1 1010.7L823.5 1008.7L823.9 1006.7L824.2 1004.7L824.5 1002.6L824.8 1000.6L825 998.6L825.2 996.6L825.4 994.6L825.6 992.6L825.7 990.6L825.9 988.6L826 986.6L826.1 984.6L826.1 982.6L826.1 980.6L826.2 978.5L826.2 976.5L826.2 974.5L826.2 972.5L826.2 970.5L826.3 968.5L826.3 966.5L826.3 964.5L826.3 962.5L826.4 960.5L826.4 958.5L826.4 956.5L826.4 954.4L826.4 952.4L826.4 950.4L826.5 948.4L826.5 946.4L826.5 944.4L826.5 942.4L826.6 940.4L826.6 938.4L826.6 936.4L826.6 934.4L826.7 932.4L826.7 930.4L826.7 928.3L826.7 926.3L826.8 924.3L826.8 922.3L826.8 920.3L826.9 918.3L826.9 916.3L826.9 914.3L827 912.3L827 910.3L827 908.3L827.1 906.3L827.1 904.2L827.1 902.2L827.2 900.2L827.2 898.2L827.2 896.2L827.3 894.2L827.3 892.2L827.3 890.2L827.4 888.2L827.4 886.2L827.4 884.2L827.5 882.2L827.5 880.1L827.5 878.1L827.6 876.1L827.6 874.1L827.6 872.1L827.7 870.1L827.7 868.1L827.7 866.1L827.7 864.1L827.8 862.1L827.8 860.1L827.8 858.1L827.9 856L827.9 854L827.9 852L827.9 850L828 848L828 846L828 844Z"/>
<path d="M872.9 798L878.9 798L879 800L879 802L879.1 804L879.1 806L879.2 808L879.2 810L879.3 812L879.3 814L879.4 816L879.5 818L879.5 820L879.6 822L879.7 824L879.7 826L879.8 828L879.8 830L879.9 832L880 834L880 836L880.1 838L880.2 840L880.2 842L880.3 844L880.3 846L880.4 848L880.4 850L880.5 852L880.5 854L880.6 856L880.6 858L880.7 860.1L880.7 862.1L880.7 864.1L880.8 866.1L880.8 868.1L880.9 870.1L880.9 872.1L881 874.1L881 876.1L881 878.1L881.1 880.1L881.2 882.1L881.2 884.1L881.3 886.1L881.3 888.1L881.4 890.1L881.5 892.1L881.5 894.1L881.6 896.1L881.7 898.1L881.8 900.1L881.9 902.1L882 904.1L882.1 906.1L882.3 908.1L882.4 910.1L882.5 912.1L882.6 914.1L882.8 916.1L882.9 918.1L883 920.1L883.2 922.1L883.3 924.1L883.5 926.1L883.6 928.1L883.8 930.1L883.9 932.1L884.1 934.1L884.2 936.1L884.3 938.1L884.4 940.1L884.5 942.1L884.6 944.1L884.7 946.1L884.9 948.1L885 950.1L885.1 952.1L885.2 954.1L885.3 956.1L885.4 958.1L885.4 960.1L885.5 962.1L885.5 964.1L885.6 966.1L885.6 968.1L885.6 970.1L885.6 972.1L885.6 974.1L885.6 976.1L885.6 978.1L885.6 980.2L885.6 982.2L885.6 984.2L885.6 986.2L885.6 988.2L885.5 990.2L885.5 992.2L885.4 994.2L885.3 996.2L885.3 998.2L885.2 1000.2L885.1 1002.2L885.1 1004.2L885.1 1006.2L885.1 1008.2L885.1 1010.2L885.2 1012.2L885.2 1014.2L885.3 1016.2L885.4 1018.2L885.5 1020.2L885.6 1022.2L885.8 1024.2L886 1026.2L886.2 1028.2L886.4 1030.2L886.8 1032.2L887.1 1034.2L887.6 1036.2L888 1038.2L888.4 1040.2L888.9 1042.2L889.4 1044.2L889.9 1046.2L890.4 1048.2L890.9 1050.2L891.4 1052.2L891.9 1054.2L892.4 1056.2L892.9 1058.2L893.3 1060.2L893.7 1062.2L894.1 1064.2L894.5 1066.2L894.9 1068.2L895.3 1070.2L895.6 1072.2L895.9 1074.2L896.2 1076.2L896.4 1078.2L896.5 1080.2L896.7 1082.2L896.7 1084.2L896.8 1086.2L896.7 1088.2L896.4 1090.2L895.9 1092.2L895.4 1094.2L894.8 1096.2L894.3 1098.2L893.7 1100.3L893 1102.3L892.3 1104.3L891.6 1106.3L890.8 1108.3L889.9 1110.3L889 1112.3L888.1 1114.3L887.2 1116.3L886.4 1118.3L885.7 1120.3L885 1122.3L884.3 1124.3L883.6 1126.3L883.1 1128.3L882.7 1130.3L882.3 1132.3L882 1134.3L881.7 1136.3L881.5 1138.3L881.3 1140.3L881.1 1142.3L880.9 1144.3L880.8 1146.3L880.7 1148.3L880.6 1150.3L880.4 1152.3L880 1154.3L879.6 1156.3L879.1 1158.3L878.6 1160.3Q878.6 1163 875.9 1163L875.9 1163Q873.2 1163 873.2 1160.3L872.6 1158.3L872.2 1156.3L871.7 1154.3L871.4 1152.3L871.2 1150.3L871.1 1148.3L871 1146.3L870.8 1144.3L870.7 1142.3L870.5 1140.3L870.3 1138.3L870.1 1136.3L869.8 1134.3L869.5 1132.3L869.1 1130.3L868.7 1128.3L868.1 1126.3L867.5 1124.3L866.8 1122.3L866.1 1120.3L865.4 1118.3L864.6 1116.3L863.7 1114.3L862.8 1112.3L861.8 1110.3L861 1108.3L860.2 1106.3L859.5 1104.3L858.8 1102.3L858.1 1100.3L857.5 1098.2L857 1096.2L856.4 1094.2L855.8 1092.2L855.4 1090.2L855.1 1088.2L855 1086.2L855 1084.2L855.1 1082.2L855.2 1080.2L855.4 1078.2L855.6 1076.2L855.9 1074.2L856.1 1072.2L856.5 1070.2L856.8 1068.2L857.2 1066.2L857.6 1064.2L858.1 1062.2L858.5 1060.2L858.9 1058.2L859.4 1056.2L859.9 1054.2L860.3 1052.2L860.8 1050.2L861.3 1048.2L861.9 1046.2L862.4 1044.2L862.9 1042.2L863.3 1040.2L863.8 1038.2L864.2 1036.2L864.6 1034.2L865 1032.2L865.3 1030.2L865.6 1028.2L865.8 1026.2L866 1024.2L866.1 1022.2L866.3 1020.2L866.4 1018.2L866.5 1016.2L866.5 1014.2L866.6 1012.2L866.7 1010.2L866.7 1008.2L866.7 1006.2L866.7 1004.2L866.6 1002.2L866.6 1000.2L866.5 998.2L866.5 996.2L866.4 994.2L866.3 992.2L866.3 990.2L866.2 988.2L866.2 986.2L866.2 984.2L866.2 982.2L866.2 980.2L866.2 978.1L866.2 976.1L866.2 974.1L866.2 972.1L866.2 970.1L866.2 968.1L866.2 966.1L866.2 964.1L866.3 962.1L866.4 960.1L866.4 958.1L866.5 956.1L866.6 954.1L866.7 952.1L866.8 950.1L866.9 948.1L867 946.1L867.1 944.1L867.3 942.1L867.4 940.1L867.5 938.1L867.6 936.1L867.7 934.1L867.9 932.1L868 930.1L868.1 928.1L868.3 926.1L868.4 924.1L868.6 922.1L868.7 920.1L868.9 918.1L869 916.1L869.1 914.1L869.3 912.1L869.4 910.1L869.5 908.1L869.6 906.1L869.8 904.1L869.9 902.1L870 900.1L870.1 898.1L870.2 896.1L870.2 894.1L870.3 892.1L870.4 890.1L870.5 888.1L870.5 886.1L870.6 884.1L870.6 882.1L870.7 880.1L870.7 878.1L870.8 876.1L870.8 874.1L870.9 872.1L870.9 870.1L871 868.1L871 866.1L871 864.1L871.1 862.1L871.1 860.1L871.2 858L871.2 856L871.3 854L871.3 852L871.4 850L871.4 848L871.5 846L871.5 844L871.6 842L871.6 840L871.7 838L871.7 836L871.8 834L871.9 832L871.9 830L872 828L872.1 826L872.1 824L872.2 822L872.2 820L872.3 818L872.4 816L872.4 814L872.5 812L872.6 810L872.6 808L872.7 806L872.7 804L872.8 802L872.8 800L872.9 798Z"/>
<path d="M917.7 782L923.8 782L923.8 784L923.9 786L924 788L924 790L924.1 792L924.2 794L924.3 796L924.4 798.1L924.5 800.1L924.5 802.1L924.6 804.1L924.7 806.1L924.8 808.1L924.9 810.1L925 812.1L925.1 814.1L925.2 816.1L925.3 818.1L925.4 820.1L925.5 822.1L925.6 824.1L925.7 826.2L925.8 828.2L925.9 830.2L926 832.2L926.1 834.2L926.2 836.2L926.3 838.2L926.4 840.2L926.5 842.2L926.6 844.2L926.7 846.2L926.8 848.2L926.9 850.2L927 852.2L927.1 854.2L927.1 856.3L927.2 858.3L927.3 860.3L927.4 862.3L927.5 864.3L927.5 866.3L927.6 868.3L927.7 870.3L927.8 872.3L927.8 874.3L927.9 876.3L928 878.3L928 880.3L928.1 882.3L928.2 884.4L928.3 886.4L928.3 888.4L928.4 890.4L928.5 892.4L928.6 894.4L928.6 896.4L928.7 898.4L928.8 900.4L928.9 902.4L929 904.4L929 906.4L929.1 908.4L929.2 910.4L929.3 912.4L929.3 914.5L929.4 916.5L929.5 918.5L929.6 920.5L929.6 922.5L929.7 924.5L929.8 926.5L929.9 928.5L929.9 930.5L930 932.5L930.1 934.5L930.2 936.5L930.2 938.5L930.3 940.5L930.4 942.6L930.5 944.6L930.6 946.6L930.7 948.6L930.7 950.6L930.8 952.6L930.9 954.6L931 956.6L931.1 958.6L931.1 960.6L931.2 962.6L931.2 964.6L931.3 966.6L931.3 968.6L931.3 970.6L931.3 972.7L931.4 974.7L931.4 976.7L931.4 978.7L931.4 980.7L931.4 982.7L931.4 984.7L931.4 986.7L931.5 988.7L931.5 990.7L931.6 992.7L931.6 994.7L931.7 996.7L931.8 998.7L931.8 1000.7L931.9 1002.8L932 1004.8L932.1 1006.8L932.2 1008.8L932.4 1010.8L932.6 1012.8L932.8 1014.8L933.1 1016.8L933.3 1018.8L933.6 1020.8L933.9 1022.8L934.2 1024.8L934.5 1026.8L934.9 1028.8L935.3 1030.9L935.7 1032.9L936.1 1034.9L936.5 1036.9L936.9 1038.9L937.3 1040.9L937.7 1042.9L938.1 1044.9L938.5 1046.9L938.9 1048.9L939.2 1050.9L939.5 1052.9L939.7 1054.9L940 1056.9L940.2 1058.9L940.4 1061L940.5 1063L940.7 1065L940.8 1067L940.9 1069L941.1 1071L941.1 1073L941.1 1075L941.1 1077L941.1 1079L941.1 1081L941.1 1083L941 1085L940.9 1087L940.6 1089.1L940.2 1091.1L939.7 1093.1L939.2 1095.1L938.8 1097.1L938.3 1099.1L937.8 1101.1L937.3 1103.1L936.8 1105.1L936.3 1107.1L935.8 1109.1L935.4 1111.1L934.9 1113.1L934.4 1115.1L934 1117.1L933.6 1119.2L933.2 1121.2L932.9 1123.2L932.5 1125.2L932.1 1127.2L931.8 1129.2L931.5 1131.2L931.2 1133.2L930.8 1135.2L930.5 1137.2L930.2 1139.2L929.9 1141.2L929.5 1143.2L929.2 1145.2L928.8 1147.3L928.4 1149.3L928 1151.3L927.6 1153.3L927.3 1155.3L926.8 1157.3L926 1159.3L923.4 1161.3Q923.4 1164 920.7 1164L920.7 1164Q918 1164 918 1161.3L915.4 1159.3L914.6 1157.3L914.2 1155.3L913.9 1153.3L913.5 1151.3L913.1 1149.3L912.7 1147.3L912.3 1145.2L911.9 1143.2L911.6 1141.2L911.2 1139.2L910.9 1137.2L910.6 1135.2L910.3 1133.2L910 1131.2L909.6 1129.2L909.3 1127.2L908.9 1125.2L908.6 1123.2L908.2 1121.2L907.8 1119.2L907.4 1117.1L907 1115.1L906.5 1113.1L906.1 1111.1L905.6 1109.1L905.1 1107.1L904.7 1105.1L904.1 1103.1L903.6 1101.1L903.1 1099.1L902.7 1097.1L902.2 1095.1L901.7 1093.1L901.3 1091.1L900.9 1089.1L900.6 1087L900.4 1085L900.4 1083L900.4 1081L900.3 1079L900.3 1077L900.3 1075L900.3 1073L900.4 1071L900.5 1069L900.6 1067L900.8 1065L900.9 1063L901.1 1061L901.3 1058.9L901.5 1056.9L901.7 1054.9L901.9 1052.9L902.2 1050.9L902.5 1048.9L902.9 1046.9L903.3 1044.9L903.7 1042.9L904.1 1040.9L904.5 1038.9L905 1036.9L905.4 1034.9L905.8 1032.9L906.2 1030.9L906.5 1028.8L906.9 1026.8L907.2 1024.8L907.5 1022.8L907.8 1020.8L908.1 1018.8L908.4 1016.8L908.6 1014.8L908.8 1012.8L909 1010.8L909.2 1008.8L909.3 1006.8L909.4 1004.8L909.5 1002.8L909.6 1000.7L909.7 998.7L909.8 996.7L909.8 994.7L909.9 992.7L909.9 990.7L910 988.7L910 986.7L910 984.7L910 982.7L910.1 980.7L910.1 978.7L910.1 976.7L910.1 974.7L910.1 972.7L910.1 970.6L910.1 968.6L910.2 966.6L910.2 964.6L910.2 962.6L910.3 960.6L910.4 958.6L910.4 956.6L910.5 954.6L910.6 952.6L910.7 950.6L910.8 948.6L910.9 946.6L911 944.6L911 942.6L911.1 940.5L911.2 938.5L911.3 936.5L911.3 934.5L911.4 932.5L911.5 930.5L911.6 928.5L911.6 926.5L911.7 924.5L911.8 922.5L911.9 920.5L911.9 918.5L912 916.5L912.1 914.5L912.2 912.4L912.3 910.4L912.3 908.4L912.4 906.4L912.5 904.4L912.6 902.4L912.6 900.4L912.7 898.4L912.8 896.4L912.9 894.4L912.9 892.4L913 890.4L913.1 888.4L913.2 886.4L913.2 884.4L913.3 882.3L913.4 880.3L913.5 878.3L913.5 876.3L913.6 874.3L913.7 872.3L913.8 870.3L913.8 868.3L913.9 866.3L914 864.3L914.1 862.3L914.1 860.3L914.2 858.3L914.3 856.3L914.4 854.2L914.5 852.2L914.6 850.2L914.6 848.2L914.7 846.2L914.8 844.2L914.9 842.2L915 840.2L915.1 838.2L915.2 836.2L915.3 834.2L915.4 832.2L915.5 830.2L915.6 828.2L915.8 826.2L915.9 824.1L916 822.1L916.1 820.1L916.2 818.1L916.3 816.1L916.4 814.1L916.5 812.1L916.6 810.1L916.7 808.1L916.7 806.1L916.8 804.1L916.9 802.1L917 800.1L917.1 798.1L917.1 796L917.2 794L917.3 792L917.4 790L917.5 788L917.5 786L917.6 784L917.7 782Z"/>
<path d="M962.5 857L968.6 857L968.6 859L968.6 861L968.6 863L968.7 865L968.7 867L968.7 869.1L968.7 871.1L968.7 873.1L968.7 875.1L968.7 877.1L968.8 879.1L968.8 881.1L968.8 883.1L968.8 885.1L968.8 887.1L968.8 889.1L968.8 891.1L968.9 893.2L968.9 895.2L968.9 897.2L968.9 899.2L968.9 901.2L968.9 903.2L968.9 905.2L969 907.2L969 909.2L969 911.2L969 913.2L969 915.2L969 917.3L969.1 919.3L969.1 921.3L969.1 923.3L969.1 925.3L969.1 927.3L969.2 929.3L969.2 931.3L969.2 933.3L969.2 935.3L969.2 937.3L969.2 939.3L969.3 941.4L969.3 943.4L969.3 945.4L969.3 947.4L969.3 949.4L969.3 951.4L969.4 953.4L969.4 955.4L969.4 957.4L969.4 959.4L969.4 961.4L969.5 963.5L969.5 965.5L969.5 967.5L969.5 969.5L969.5 971.5L969.6 973.5L969.6 975.5L969.6 977.5L969.7 979.5L969.7 981.5L969.7 983.5L969.8 985.5L969.8 987.6L969.9 989.6L969.9 991.6L970 993.6L970.1 995.6L970.2 997.6L970.3 999.6L970.4 1001.6L970.5 1003.6L970.7 1005.6L970.8 1007.6L971 1009.6L971.2 1011.7L971.5 1013.7L971.8 1015.7L972.1 1017.7L972.4 1019.7L972.8 1021.7L973.1 1023.7L973.5 1025.7L974 1027.7L974.4 1029.7L974.9 1031.7L975.5 1033.7L976.1 1035.8L976.7 1037.8L977.3 1039.8L977.9 1041.8L978.5 1043.8L979.2 1045.8L979.8 1047.8L980.4 1049.8L981 1051.8L981.6 1053.8L982.1 1055.8L982.7 1057.8L983.2 1059.9L983.6 1061.9L984 1063.9L984.4 1065.9L984.8 1067.9L985.1 1069.9L985.3 1071.9L985.5 1073.9L985.7 1075.9L985.9 1077.9L986 1079.9L986 1082L986 1084L985.6 1086L985 1088L984.4 1090L983.5 1092L982.5 1094L981.3 1096L980.2 1098L978.9 1100L977.8 1102L976.8 1104L975.8 1106.1L974.6 1108.1L973.3 1110.1L972.3 1112.1L971.6 1114.1L971.1 1116.1L970.8 1118.1L970.8 1120.1L970.8 1122.1L970.8 1124.1L970.8 1126.1L970.9 1128.1L970.9 1130.2L971 1132.2L971 1134.2L971 1136.2L971.1 1138.2L971.1 1140.2L971.2 1142.2L971.2 1144.2L971.3 1146.2L971.3 1148.2L971.3 1150.2L971.3 1152.2L971.3 1154.3L971.1 1156.3L970.8 1158.3L970.5 1160.3L969.6 1162.3L968.2 1164.3Q968.2 1167 965.5 1167L965.5 1167Q962.8 1167 962.8 1164.3L961.5 1162.3L960.6 1160.3L960.3 1158.3L960 1156.3L959.8 1154.3L959.8 1152.2L959.8 1150.2L959.8 1148.2L959.8 1146.2L959.9 1144.2L959.9 1142.2L960 1140.2L960 1138.2L960.1 1136.2L960.1 1134.2L960.1 1132.2L960.2 1130.2L960.2 1128.1L960.3 1126.1L960.3 1124.1L960.3 1122.1L960.3 1120.1L960.3 1118.1L960 1116.1L959.5 1114.1L958.8 1112.1L957.8 1110.1L956.5 1108.1L955.3 1106.1L954.3 1104L953.3 1102L952.2 1100L950.9 1098L949.8 1096L948.6 1094L947.6 1092L946.7 1090L946.1 1088L945.5 1086L945.1 1084L945.1 1082L945.1 1079.9L945.2 1077.9L945.4 1075.9L945.6 1073.9L945.8 1071.9L946 1069.9L946.3 1067.9L946.7 1065.9L947.1 1063.9L947.5 1061.9L947.9 1059.9L948.4 1057.8L949 1055.8L949.5 1053.8L950.1 1051.8L950.7 1049.8L951.3 1047.8L951.9 1045.8L952.6 1043.8L953.2 1041.8L953.8 1039.8L954.4 1037.8L955 1035.8L955.6 1033.7L956.2 1031.7L956.7 1029.7L957.1 1027.7L957.6 1025.7L958 1023.7L958.3 1021.7L958.7 1019.7L959 1017.7L959.3 1015.7L959.6 1013.7L959.9 1011.7L960.1 1009.6L960.3 1007.6L960.4 1005.6L960.6 1003.6L960.7 1001.6L960.8 999.6L960.9 997.6L961 995.6L961.1 993.6L961.2 991.6L961.2 989.6L961.3 987.6L961.3 985.5L961.4 983.5L961.4 981.5L961.4 979.5L961.5 977.5L961.5 975.5L961.5 973.5L961.6 971.5L961.6 969.5L961.6 967.5L961.6 965.5L961.6 963.5L961.7 961.4L961.7 959.4L961.7 957.4L961.7 955.4L961.7 953.4L961.8 951.4L961.8 949.4L961.8 947.4L961.8 945.4L961.8 943.4L961.8 941.4L961.9 939.3L961.9 937.3L961.9 935.3L961.9 933.3L961.9 931.3L961.9 929.3L962 927.3L962 925.3L962 923.3L962 921.3L962 919.3L962.1 917.3L962.1 915.2L962.1 913.2L962.1 911.2L962.1 909.2L962.1 907.2L962.2 905.2L962.2 903.2L962.2 901.2L962.2 899.2L962.2 897.2L962.2 895.2L962.2 893.2L962.3 891.1L962.3 889.1L962.3 887.1L962.3 885.1L962.3 883.1L962.3 881.1L962.3 879.1L962.4 877.1L962.4 875.1L962.4 873.1L962.4 871.1L962.4 869.1L962.4 867L962.4 865L962.5 863L962.5 861L962.5 859L962.5 857Z"/>
<path d="M1007.3 934L1013.4 934L1013.4 936L1013.5 938L1013.5 940L1013.5 942L1013.5 944.1L1013.5 946.1L1013.6 948.1L1013.6 950.1L1013.6 952.1L1013.6 954.1L1013.6 956.1L1013.7 958.1L1013.7 960.1L1013.7 962.2L1013.8 964.2L1013.8 966.2L1013.8 968.2L1013.9 970.2L1013.9 972.2L1013.9 974.2L1014 976.2L1014 978.3L1014.1 980.3L1014.1 982.3L1014.2 984.3L1014.2 986.3L1014.3 988.3L1014.4 990.3L1014.5 992.3L1014.7 994.3L1014.8 996.4L1015 998.4L1015.1 1000.4L1015.3 1002.4L1015.5 1004.4L1015.7 1006.4L1015.9 1008.4L1016.2 1010.4L1016.6 1012.4L1017 1014.5L1017.4 1016.5L1017.8 1018.5L1018.2 1020.5L1018.7 1022.5L1019.2 1024.5L1019.7 1026.5L1020.2 1028.5L1020.8 1030.5L1021.5 1032.6L1022.2 1034.6L1022.9 1036.6L1023.7 1038.6L1024.4 1040.6L1025.1 1042.6L1025.9 1044.6L1026.7 1046.6L1027.4 1048.7L1028 1050.7L1028.5 1052.7L1029 1054.7L1029.4 1056.7L1029.8 1058.7L1030.1 1060.7L1030.4 1062.7L1030.7 1064.7L1030.8 1066.8L1030.7 1068.8L1030.4 1070.8L1030 1072.8L1029.5 1074.8L1029 1076.8L1028.4 1078.8L1027.7 1080.8L1026.9 1082.8L1026 1084.9L1025 1086.9L1023.7 1088.9L1022.3 1090.9L1020.9 1092.9L1019.6 1094.9L1018.1 1096.9L1016.8 1098.9L1015.9 1100.9L1015.3 1103L1014.9 1105L1014.6 1107L1014.4 1109L1014.3 1111L1014.1 1113L1014 1115L1014 1117L1014 1119L1014 1121.1L1014 1123.1L1014 1125.1L1014 1127.1L1014 1129.1L1014 1131.1L1014 1133.1L1014 1135.1L1014 1137.2L1014 1139.2L1014 1141.2L1014 1143.2L1014 1145.2L1014 1147.2L1014 1149.2L1014 1151.2L1014 1153.2L1014 1155.3L1013.9 1157.3L1013.6 1159.3L1013.4 1161.3L1013.1 1163.3Q1013.1 1166 1010.4 1166L1010.4 1166Q1007.7 1166 1007.7 1163.3L1007.4 1161.3L1007.1 1159.3L1006.9 1157.3L1006.8 1155.3L1006.8 1153.2L1006.8 1151.2L1006.8 1149.2L1006.8 1147.2L1006.8 1145.2L1006.8 1143.2L1006.8 1141.2L1006.8 1139.2L1006.8 1137.2L1006.8 1135.1L1006.8 1133.1L1006.8 1131.1L1006.8 1129.1L1006.8 1127.1L1006.8 1125.1L1006.8 1123.1L1006.8 1121.1L1006.8 1119L1006.8 1117L1006.7 1115L1006.6 1113L1006.5 1111L1006.3 1109L1006.2 1107L1005.9 1105L1005.4 1103L1004.9 1100.9L1004 1098.9L1002.7 1096.9L1001.2 1094.9L999.8 1092.9L998.5 1090.9L997.1 1088.9L995.8 1086.9L994.7 1084.9L993.8 1082.8L993.1 1080.8L992.4 1078.8L991.8 1076.8L991.3 1074.8L990.8 1072.8L990.4 1070.8L990.1 1068.8L990 1066.8L990.1 1064.7L990.4 1062.7L990.7 1060.7L991 1058.7L991.3 1056.7L991.8 1054.7L992.2 1052.7L992.7 1050.7L993.4 1048.7L994.1 1046.6L994.8 1044.6L995.6 1042.6L996.4 1040.6L997.1 1038.6L997.8 1036.6L998.5 1034.6L999.2 1032.6L999.9 1030.5L1000.5 1028.5L1001.1 1026.5L1001.6 1024.5L1002.1 1022.5L1002.6 1020.5L1003 1018.5L1003.4 1016.5L1003.8 1014.5L1004.2 1012.4L1004.5 1010.4L1004.8 1008.4L1005 1006.4L1005.2 1004.4L1005.4 1002.4L1005.6 1000.4L1005.8 998.4L1006 996.4L1006.1 994.3L1006.2 992.3L1006.3 990.3L1006.4 988.3L1006.5 986.3L1006.6 984.3L1006.6 982.3L1006.7 980.3L1006.7 978.3L1006.8 976.2L1006.8 974.2L1006.9 972.2L1006.9 970.2L1006.9 968.2L1007 966.2L1007 964.2L1007 962.2L1007.1 960.1L1007.1 958.1L1007.1 956.1L1007.1 954.1L1007.2 952.1L1007.2 950.1L1007.2 948.1L1007.2 946.1L1007.2 944.1L1007.3 942L1007.3 940L1007.3 938L1007.3 936L1007.3 934Z"/>
<path d="M1052.2 948L1058.3 948L1058.3 950L1058.3 952L1058.3 954L1058.3 956L1058.3 958L1058.4 960L1058.4 962L1058.4 964L1058.4 966L1058.4 968L1058.5 970L1058.5 972L1058.5 974L1058.6 976L1058.6 978L1058.6 980L1058.7 982L1058.7 984.1L1058.7 986.1L1058.8 988.1L1058.8 990.1L1058.9 992.1L1058.9 994.1L1059 996.1L1059 998.1L1059.1 1000.1L1059.2 1002.1L1059.2 1004.1L1059.3 1006.1L1059.4 1008.1L1059.5 1010.1L1059.7 1012.1L1059.9 1014.1L1060.2 1016.1L1060.4 1018.1L1060.7 1020.1L1061 1022.1L1061.3 1024.1L1061.6 1026.1L1062 1028.1L1062.5 1030.1L1063 1032.1L1063.7 1034.1L1064.4 1036.1L1065.1 1038.1L1065.8 1040.1L1066.4 1042.1L1067.1 1044.1L1067.7 1046.1L1068.4 1048.1L1069.2 1050.1L1069.9 1052.1L1070.8 1054.1L1071.6 1056.2L1072.5 1058.2L1073.3 1060.2L1074.2 1062.2L1074.8 1064.2L1075.1 1066.2L1075.3 1068.2L1075.5 1070.2L1075.5 1072.2L1075.6 1074.2L1075.6 1076.2L1075.3 1078.2L1074.7 1080.2L1073.9 1082.2L1073.1 1084.2L1072.4 1086.2L1071.5 1088.2L1070.6 1090.2L1069.6 1092.2L1068.4 1094.2L1067.1 1096.2L1065.8 1098.2L1064.6 1100.2L1063.3 1102.2L1062.1 1104.2L1061.1 1106.2L1060.4 1108.2L1059.9 1110.2L1059.5 1112.2L1059.2 1114.2L1059 1116.2L1058.8 1118.2L1058.8 1120.2L1058.8 1122.2L1058.9 1124.2L1058.9 1126.2L1058.9 1128.3L1059 1130.3L1059 1132.3L1059 1134.3L1059.1 1136.3L1059.1 1138.3L1059.1 1140.3L1059.1 1142.3L1059.1 1144.3L1059.1 1146.3L1059.1 1148.3L1059.1 1150.3L1059 1152.3L1059 1154.3L1058.9 1156.3L1058.7 1158.3L1058.3 1160.3L1057.9 1162.3Q1057.9 1165 1055.2 1165L1055.2 1165Q1052.5 1165 1052.5 1162.3L1052.1 1160.3L1051.7 1158.3L1051.5 1156.3L1051.4 1154.3L1051.4 1152.3L1051.4 1150.3L1051.3 1148.3L1051.3 1146.3L1051.3 1144.3L1051.3 1142.3L1051.3 1140.3L1051.3 1138.3L1051.3 1136.3L1051.4 1134.3L1051.4 1132.3L1051.5 1130.3L1051.5 1128.3L1051.5 1126.2L1051.6 1124.2L1051.6 1122.2L1051.6 1120.2L1051.6 1118.2L1051.5 1116.2L1051.2 1114.2L1050.9 1112.2L1050.5 1110.2L1050 1108.2L1049.3 1106.2L1048.3 1104.2L1047.1 1102.2L1045.8 1100.2L1044.6 1098.2L1043.3 1096.2L1042 1094.2L1040.8 1092.2L1039.8 1090.2L1038.9 1088.2L1038 1086.2L1037.3 1084.2L1036.5 1082.2L1035.7 1080.2L1035.1 1078.2L1034.8 1076.2L1034.8 1074.2L1034.9 1072.2L1034.9 1070.2L1035.1 1068.2L1035.3 1066.2L1035.6 1064.2L1036.3 1062.2L1037.1 1060.2L1037.9 1058.2L1038.8 1056.2L1039.7 1054.1L1040.5 1052.1L1041.3 1050.1L1042 1048.1L1042.7 1046.1L1043.3 1044.1L1044 1042.1L1044.7 1040.1L1045.3 1038.1L1046.1 1036.1L1046.7 1034.1L1047.4 1032.1L1047.9 1030.1L1048.4 1028.1L1048.8 1026.1L1049.1 1024.1L1049.5 1022.1L1049.7 1020.1L1050 1018.1L1050.2 1016.1L1050.5 1014.1L1050.7 1012.1L1050.9 1010.1L1051.1 1008.1L1051.1 1006.1L1051.2 1004.1L1051.3 1002.1L1051.3 1000.1L1051.4 998.1L1051.4 996.1L1051.5 994.1L1051.5 992.1L1051.6 990.1L1051.6 988.1L1051.7 986.1L1051.7 984.1L1051.8 982L1051.8 980L1051.8 978L1051.9 976L1051.9 974L1051.9 972L1051.9 970L1052 968L1052 966L1052 964L1052 962L1052.1 960L1052.1 958L1052.1 956L1052.1 954L1052.1 952L1052.1 950L1052.2 948Z"/>
<path d="M1096.9 984.6A3.1 2.8 0 0 1 1103.1 984.6L1103.2 986.6L1103.2 988.6L1103.3 990.7L1103.4 992.7L1103.5 994.7L1103.6 996.7L1103.8 998.8L1104 1000.8L1104.1 1002.8L1104.3 1004.8L1104.5 1006.8L1104.8 1008.9L1105.1 1010.9L1105.5 1012.9L1105.9 1014.9L1106.3 1017L1106.8 1019L1107.2 1021L1107.7 1023L1108.2 1025L1108.8 1027.1L1109.4 1029.1L1110 1031.1L1110.7 1033.1L1111.5 1035.2L1112.2 1037.2L1113 1039.2L1113.7 1041.2L1114.4 1043.2L1115.2 1045.3L1115.9 1047.3L1116.6 1049.3L1117.3 1051.3L1117.9 1053.4L1118.4 1055.4L1119 1057.4L1119.4 1059.4L1119.8 1061.4L1120.3 1063.5L1120.6 1065.5L1120.6 1067.5L1120.4 1069.5L1119.9 1071.5L1119.3 1073.6L1118.7 1075.6L1118 1077.6L1117.2 1079.6L1116.4 1081.7L1115.4 1083.7L1114.4 1085.7L1113.1 1087.7L1111.7 1089.7L1110.3 1091.8L1109 1093.8L1107.6 1095.8L1106.3 1097.8L1105.2 1099.9L1104.5 1101.9L1103.9 1103.9L1103.5 1105.9L1103.3 1107.9L1103.1 1110L1103 1112L1102.8 1114L1102.8 1116L1102.7 1118.1L1102.7 1120.1L1102.7 1122.1L1102.7 1124.1L1102.7 1126.1L1102.7 1128.2L1102.7 1130.2L1102.7 1132.2L1102.7 1134.2L1102.7 1136.3L1102.7 1138.3L1102.7 1140.3L1102.7 1142.3L1102.7 1144.3L1102.7 1146.4L1102.7 1148.4L1102.7 1150.4L1102.7 1152.4L1102.7 1154.5L1102.6 1156.5L1102.5 1158.5Q1102.5 1161 1100 1161L1100 1161Q1097.5 1161 1097.5 1158.5L1097.5 1156.5L1097.4 1154.5L1097.4 1152.4L1097.3 1150.4L1097.3 1148.4L1097.3 1146.4L1097.3 1144.3L1097.3 1142.3L1097.3 1140.3L1097.3 1138.3L1097.3 1136.3L1097.3 1134.2L1097.3 1132.2L1097.3 1130.2L1097.3 1128.2L1097.3 1126.1L1097.3 1124.1L1097.3 1122.1L1097.3 1120.1L1097.3 1118.1L1097.3 1116L1097.2 1114L1097.1 1112L1097 1110L1096.8 1107.9L1096.6 1105.9L1096.2 1103.9L1095.6 1101.9L1094.9 1099.9L1093.8 1097.8L1092.5 1095.8L1091.1 1093.8L1089.7 1091.8L1088.3 1089.7L1087 1087.7L1085.7 1085.7L1084.7 1083.7L1083.7 1081.7L1082.8 1079.6L1082.1 1077.6L1081.4 1075.6L1080.8 1073.6L1080.2 1071.5L1079.7 1069.5L1079.5 1067.5L1079.5 1065.5L1079.8 1063.5L1080.2 1061.4L1080.7 1059.4L1081.1 1057.4L1081.6 1055.4L1082.2 1053.4L1082.8 1051.3L1083.5 1049.3L1084.2 1047.3L1084.9 1045.3L1085.7 1043.2L1086.4 1041.2L1087.1 1039.2L1087.9 1037.2L1088.6 1035.2L1089.4 1033.1L1090.1 1031.1L1090.7 1029.1L1091.3 1027.1L1091.9 1025L1092.4 1023L1092.9 1021L1093.3 1019L1093.8 1017L1094.2 1014.9L1094.6 1012.9L1095 1010.9L1095.3 1008.9L1095.6 1006.8L1095.8 1004.8L1095.9 1002.8L1096.1 1000.8L1096.3 998.8L1096.4 996.7L1096.6 994.7L1096.7 992.7L1096.8 990.7L1096.9 988.6L1096.9 986.6L1096.9 984.6Z"/>
<path d="M1141.8 967L1147.9 967L1148 969L1148 971L1148.1 973.1L1148.2 975.1L1148.3 977.1L1148.3 979.1L1148.4 981.1L1148.5 983.1L1148.6 985.2L1148.7 987.2L1148.8 989.2L1148.9 991.2L1149 993.2L1149.1 995.3L1149.2 997.3L1149.4 999.3L1149.5 1001.3L1149.7 1003.3L1149.9 1005.3L1150.1 1007.4L1150.4 1009.4L1150.7 1011.4L1151.1 1013.4L1151.5 1015.4L1152 1017.5L1152.4 1019.5L1152.8 1021.5L1153.3 1023.5L1153.7 1025.5L1154.2 1027.5L1154.7 1029.6L1155.2 1031.6L1155.7 1033.6L1156.2 1035.6L1156.7 1037.6L1157.2 1039.7L1157.7 1041.7L1158.1 1043.7L1158.6 1045.7L1159 1047.7L1159.5 1049.7L1159.9 1051.8L1160.4 1053.8L1160.8 1055.8L1161.3 1057.8L1161.7 1059.8L1162.1 1061.9L1162.5 1063.9L1163 1065.9L1163.4 1067.9L1163.8 1069.9L1164.1 1071.9L1164.4 1074L1164.6 1076L1164.8 1078L1165 1080L1165.1 1082L1165.2 1084.1L1165.2 1086.1L1165 1088.1L1164.8 1090.1L1164.6 1092.1L1164.3 1094.1L1164 1096.2L1163.7 1098.2L1163.4 1100.2L1163 1102.2L1162.6 1104.2L1162.3 1106.3L1162 1108.3L1161.8 1110.3L1161.5 1112.3L1161.3 1114.3L1161.1 1116.3L1160.9 1118.4L1160.7 1120.4L1160.5 1122.4L1160.4 1124.4L1160.2 1126.4L1160 1128.5L1159.8 1130.5L1159.5 1132.5L1159.1 1134.5L1158.7 1136.5L1158.2 1138.5L1157.8 1140.6L1157.3 1142.6L1156.9 1144.6L1156.4 1146.6L1155.9 1148.6L1155.3 1150.7L1154.6 1152.7L1153.8 1154.7L1152.8 1156.7L1151.8 1158.7L1150.6 1160.7L1149.5 1162.8L1148.5 1164.8L1147.6 1166.8Q1147.6 1169.5 1144.9 1169.5L1144.9 1169.5Q1142.2 1169.5 1142.2 1166.8L1141.2 1164.8L1140.2 1162.8L1139.1 1160.7L1138 1158.7L1136.9 1156.7L1136 1154.7L1135.1 1152.7L1134.4 1150.7L1133.9 1148.6L1133.3 1146.6L1132.9 1144.6L1132.4 1142.6L1132 1140.6L1131.5 1138.5L1131.1 1136.5L1130.7 1134.5L1130.3 1132.5L1130 1130.5L1129.7 1128.5L1129.5 1126.4L1129.4 1124.4L1129.2 1122.4L1129 1120.4L1128.8 1118.4L1128.6 1116.3L1128.4 1114.3L1128.2 1112.3L1128 1110.3L1127.7 1108.3L1127.5 1106.3L1127.1 1104.2L1126.7 1102.2L1126.4 1100.2L1126 1098.2L1125.7 1096.2L1125.4 1094.1L1125.2 1092.1L1124.9 1090.1L1124.7 1088.1L1124.6 1086.1L1124.6 1084.1L1124.7 1082L1124.8 1080L1125 1078L1125.2 1076L1125.4 1074L1125.6 1071.9L1126 1069.9L1126.4 1067.9L1126.8 1065.9L1127.2 1063.9L1127.6 1061.9L1128 1059.8L1128.5 1057.8L1128.9 1055.8L1129.4 1053.8L1129.8 1051.8L1130.3 1049.7L1130.7 1047.7L1131.2 1045.7L1131.6 1043.7L1132.1 1041.7L1132.6 1039.7L1133 1037.6L1133.5 1035.6L1134 1033.6L1134.5 1031.6L1135 1029.6L1135.5 1027.5L1136 1025.5L1136.5 1023.5L1136.9 1021.5L1137.4 1019.5L1137.8 1017.5L1138.2 1015.4L1138.6 1013.4L1139 1011.4L1139.4 1009.4L1139.6 1007.4L1139.8 1005.3L1140 1003.3L1140.2 1001.3L1140.4 999.3L1140.5 997.3L1140.6 995.3L1140.8 993.2L1140.9 991.2L1141 989.2L1141.1 987.2L1141.1 985.2L1141.2 983.1L1141.3 981.1L1141.4 979.1L1141.5 977.1L1141.5 975.1L1141.6 973.1L1141.7 971L1141.8 969L1141.8 967Z"/>
<path d="M159 1131.5L166.4 1131.5L166.8 1133.6L167.2 1135.7L167.7 1137.8L168.3 1139.8L168.9 1141.9L169.5 1144L170.3 1146.1L171.3 1148.2L172.5 1150.3L174 1152.4L175.7 1154.5L177.8 1156.6L180.5 1158.6L182 1160.7L183.2 1162.8L183.6 1164.9Q183.6 1170.4 178.1 1170.4L147.3 1170.4Q141.8 1170.4 141.8 1164.9L142.2 1162.8L143.4 1160.7L144.9 1158.6L147.6 1156.6L149.7 1154.5L151.4 1152.4L152.9 1150.3L154.1 1148.2L155.1 1146.1L155.9 1144L156.5 1141.9L157.1 1139.8L157.7 1137.8L158.2 1135.7L158.6 1133.6L159 1131.5Z"/>
<path d="M203.9 1088.4L211.3 1088.4L211.3 1090.4L211.3 1092.4L211.4 1094.4L211.5 1096.5L211.7 1098.5L211.9 1100.5L212.3 1102.5L212.6 1104.5L213 1106.5L213.3 1108.5L213.7 1110.5L214 1112.6L214.4 1114.6L214.9 1116.6L215.4 1118.6L216 1120.6L216.8 1122.6L217.6 1124.6L218.5 1126.7L219.4 1128.7L220.4 1130.7L221.5 1132.7L222.6 1134.7L223.8 1136.7L225 1138.7L226.1 1140.7L226.8 1142.8L227.3 1144.8L227.7 1146.8L227.9 1148.8L228.1 1150.8L228.2 1152.8L228.1 1154.8L227.9 1156.8L227.8 1158.9L227.6 1160.9L227.6 1162.9L227.6 1164.9Q227.6 1170.4 222.1 1170.4L193.1 1170.4Q187.6 1170.4 187.6 1164.9L187.6 1162.9L187.5 1160.9L187.4 1158.9L187.2 1156.8L187.1 1154.8L187 1152.8L187 1150.8L187.2 1148.8L187.4 1146.8L187.8 1144.8L188.3 1142.8L189.1 1140.7L190.1 1138.7L191.3 1136.7L192.5 1134.7L193.7 1132.7L194.8 1130.7L195.8 1128.7L196.7 1126.7L197.5 1124.6L198.3 1122.6L199.1 1120.6L199.8 1118.6L200.3 1116.6L200.7 1114.6L201.1 1112.6L201.5 1110.5L201.8 1108.5L202.1 1106.5L202.5 1104.5L202.9 1102.5L203.2 1100.5L203.5 1098.5L203.6 1096.5L203.7 1094.4L203.8 1092.4L203.8 1090.4L203.9 1088.4Z"/>
<path d="M248.7 1106.3L256.1 1106.3L256.2 1108.3L256.3 1110.3L256.4 1112.4L256.6 1114.4L256.9 1116.4L257.2 1118.4L257.7 1120.4L258.4 1122.5L259.1 1124.5L259.8 1126.5L260.5 1128.5L261.5 1130.5L262.8 1132.6L264.2 1134.6L265.5 1136.6L266.8 1138.6L267.9 1140.7L268.6 1142.7L269.2 1144.7L269.5 1146.7L269.9 1148.7L270.1 1150.8L270.1 1152.8L269.8 1154.8L269.6 1156.8L270.2 1158.8L271.8 1160.9L272.8 1162.9L272.8 1164.9Q272.8 1170.4 267.3 1170.4L237.5 1170.4Q232 1170.4 232 1164.9L232 1162.9L233 1160.9L234.6 1158.8L235.3 1156.8L235 1154.8L234.8 1152.8L234.8 1150.8L235 1148.7L235.3 1146.7L235.7 1144.7L236.2 1142.7L237 1140.7L238 1138.6L239.4 1136.6L240.7 1134.6L242.1 1132.6L243.4 1130.5L244.3 1128.5L245.1 1126.5L245.8 1124.5L246.5 1122.5L247.2 1120.4L247.6 1118.4L247.9 1116.4L248.2 1114.4L248.4 1112.4L248.6 1110.3L248.7 1108.3L248.7 1106.3Z"/>
<path d="M293.7 1099.6L300.9 1099.6L300.9 1101.6L300.9 1103.7L300.9 1105.7L300.9 1107.8L301 1109.8L301.3 1111.8L301.6 1113.9L302.1 1115.9L302.5 1118L303.1 1120L304 1122L304.9 1124.1L305.9 1126.1L307 1128.2L308.2 1130.2L309.7 1132.2L311.3 1134.3L312.7 1136.3L314.2 1138.4L315.4 1140.4L316.3 1142.5L316.9 1144.5L317.4 1146.5L317.8 1148.6L317.9 1150.6L317.7 1152.7L317.4 1154.7L316.4 1156.7L316.6 1158.8L317.4 1160.8L317.9 1162.9L317.9 1164.9Q317.9 1170.4 312.4 1170.4L282.2 1170.4Q276.7 1170.4 276.7 1164.9L276.7 1162.9L277.2 1160.8L278 1158.8L278.1 1156.7L277.2 1154.7L276.8 1152.7L276.7 1150.6L276.8 1148.6L277.2 1146.5L277.6 1144.5L278.3 1142.5L279.2 1140.4L280.4 1138.4L281.8 1136.3L283.3 1134.3L284.9 1132.2L286.4 1130.2L287.6 1128.2L288.7 1126.1L289.6 1124.1L290.6 1122L291.5 1120L292 1118L292.5 1115.9L292.9 1113.9L293.3 1111.8L293.5 1109.8L293.7 1107.8L293.7 1105.7L293.7 1103.7L293.7 1101.6L293.7 1099.6Z"/>
<path d="M338.4 1097.4L345.8 1097.4L345.9 1099.4L345.9 1101.5L346 1103.5L346.1 1105.6L346.3 1107.6L346.6 1109.7L347 1111.7L347.5 1113.8L348.1 1115.8L348.6 1117.9L349.2 1119.9L349.8 1121.9L350.4 1124L351.1 1126L351.8 1128.1L352.6 1130.1L353.7 1132.2L354.9 1134.2L356.1 1136.3L357.3 1138.3L358.5 1140.4L359.6 1142.4L360.8 1144.4L361.6 1146.5L362.3 1148.5L362.8 1150.6L362.9 1152.6L362.4 1154.7L361.7 1156.7L360.8 1158.8L359.5 1160.8L358.8 1162.9L358.8 1164.9Q358.8 1170.4 353.3 1170.4L330.9 1170.4Q325.4 1170.4 325.4 1164.9L325.4 1162.9L324.8 1160.8L323.5 1158.8L322.5 1156.7L321.9 1154.7L321.4 1152.6L321.5 1150.6L322 1148.5L322.7 1146.5L323.5 1144.4L324.6 1142.4L325.8 1140.4L327 1138.3L328.2 1136.3L329.4 1134.2L330.6 1132.2L331.6 1130.1L332.5 1128.1L333.2 1126L333.8 1124L334.5 1121.9L335.1 1119.9L335.6 1117.9L336.2 1115.8L336.8 1113.8L337.3 1111.7L337.7 1109.7L338 1107.6L338.1 1105.6L338.3 1103.5L338.4 1101.5L338.4 1099.4L338.4 1097.4Z"/>
<path d="M383.3 1087.3L390.7 1087.3L390.7 1089.3L390.8 1091.4L390.8 1093.4L390.9 1095.5L391 1097.5L391.3 1099.6L391.7 1101.6L392.2 1103.6L392.7 1105.7L393.2 1107.7L393.6 1109.8L394.1 1111.8L394.6 1113.8L395.2 1115.9L395.8 1117.9L396.5 1120L397.2 1122L398 1124.1L398.9 1126.1L399.8 1128.1L400.7 1130.2L401.8 1132.2L402.8 1134.3L403.9 1136.3L405 1138.4L405.9 1140.4L406.5 1142.4L407 1144.5L407.3 1146.5L407.4 1148.6L407.6 1150.6L407.6 1152.6L407.5 1154.7L407.4 1156.7L407.3 1158.8L407.2 1160.8L407.2 1162.9L407.2 1164.9Q407.2 1170.4 401.7 1170.4L372.3 1170.4Q366.8 1170.4 366.8 1164.9L366.8 1162.9L366.8 1160.8L366.7 1158.8L366.6 1156.7L366.5 1154.7L366.4 1152.6L366.4 1150.6L366.6 1148.6L366.7 1146.5L367 1144.5L367.5 1142.4L368.1 1140.4L369 1138.4L370.1 1136.3L371.2 1134.3L372.2 1132.2L373.3 1130.2L374.2 1128.1L375.1 1126.1L376 1124.1L376.8 1122L377.5 1120L378.2 1117.9L378.8 1115.9L379.4 1113.8L379.9 1111.8L380.4 1109.8L380.8 1107.7L381.3 1105.7L381.8 1103.6L382.3 1101.6L382.7 1099.6L383 1097.5L383.1 1095.5L383.2 1093.4L383.2 1091.4L383.3 1089.3L383.3 1087.3Z"/>
<path d="M428.2 1106.3L435.6 1106.3L435.6 1108.3L435.6 1110.3L435.6 1112.4L435.6 1114.4L435.7 1116.4L435.8 1118.4L436.1 1120.4L436.8 1122.5L437.5 1124.5L438.3 1126.5L439.2 1128.5L440 1130.5L441 1132.6L441.9 1134.6L442.8 1136.6L443.6 1138.6L444.5 1140.7L445.5 1142.7L446.7 1144.7L447.7 1146.7L448.8 1148.7L449.8 1150.8L450.5 1152.8L451.2 1154.8L451.8 1156.8L452.2 1158.8L452.6 1160.9L452.8 1162.9L452.8 1164.9Q452.8 1170.4 447.3 1170.4L416.5 1170.4Q411 1170.4 411 1164.9L411 1162.9L411.1 1160.9L411.5 1158.8L411.9 1156.8L412.5 1154.8L413.2 1152.8L414 1150.8L414.9 1148.7L416 1146.7L417.1 1144.7L418.2 1142.7L419.2 1140.7L420.1 1138.6L421 1136.6L421.8 1134.6L422.8 1132.6L423.7 1130.5L424.6 1128.5L425.4 1126.5L426.2 1124.5L426.9 1122.5L427.6 1120.4L428 1118.4L428 1116.4L428.1 1114.4L428.1 1112.4L428.1 1110.3L428.2 1108.3L428.2 1106.3Z"/>
<path d="M473.1 1095L480.3 1095L480.3 1097.1L480.3 1099.1L480.3 1101.2L480.3 1103.2L480.3 1105.3L480.3 1107.3L480.6 1109.4L481.2 1111.4L481.9 1113.5L482.5 1115.6L483.3 1117.6L484.2 1119.7L485.3 1121.7L486.4 1123.8L487.5 1125.8L488.7 1127.9L489.9 1130L491.3 1132L492.7 1134.1L493.9 1136.1L495 1138.2L496 1140.2L496.6 1142.3L497 1144.3L497.4 1146.4L497.6 1148.5L497.7 1150.5L497.2 1152.6L496.5 1154.6L495.3 1156.7L495.3 1158.7L496 1160.8L496.5 1162.8L496.5 1164.9Q496.5 1170.4 491 1170.4L462.5 1170.4Q457 1170.4 457 1164.9L457 1162.8L457.5 1160.8L458.1 1158.7L458.1 1156.7L457 1154.6L456.2 1152.6L455.7 1150.5L455.8 1148.5L456.1 1146.4L456.4 1144.3L456.9 1142.3L457.5 1140.2L458.4 1138.2L459.6 1136.1L460.8 1134.1L462.2 1132L463.6 1130L464.8 1127.9L465.9 1125.8L467 1123.8L468.2 1121.7L469.2 1119.7L470.1 1117.6L470.9 1115.6L471.6 1113.5L472.2 1111.4L472.8 1109.4L473.1 1107.3L473.1 1105.3L473.1 1103.2L473.1 1101.2L473.1 1099.1L473.1 1097.1L473.1 1095Z"/>
<path d="M518 1104L525.2 1104L525.2 1106L525.2 1108.1L525.3 1110.1L525.3 1112.1L525.4 1114.2L525.5 1116.2L525.7 1118.2L525.9 1120.2L526.2 1122.3L526.7 1124.3L527.3 1126.3L527.9 1128.4L528.5 1130.4L529.1 1132.4L529.7 1134.5L530.3 1136.5L531 1138.5L531.7 1140.5L532.6 1142.6L533.6 1144.6L534.6 1146.6L535.6 1148.7L536.5 1150.7L537.5 1152.7L538.5 1154.8L539.5 1156.8L540.5 1158.8L541.7 1160.8L542.3 1162.9L542.3 1164.9Q542.3 1170.4 536.8 1170.4L506.3 1170.4Q500.8 1170.4 500.8 1164.9L500.8 1162.9L501.5 1160.8L502.7 1158.8L503.7 1156.8L504.6 1154.8L505.6 1152.7L506.6 1150.7L507.6 1148.7L508.6 1146.6L509.6 1144.6L510.6 1142.6L511.5 1140.5L512.2 1138.5L512.8 1136.5L513.5 1134.5L514.1 1132.4L514.7 1130.4L515.3 1128.4L515.8 1126.3L516.4 1124.3L516.9 1122.3L517.3 1120.2L517.5 1118.2L517.6 1116.2L517.7 1114.2L517.8 1112.1L517.9 1110.1L517.9 1108.1L518 1106L518 1104Z"/>
<path d="M557.9 1106L574.9 1106L575.6 1108L576.2 1110.1L576.8 1112.1L577.4 1114.1L578 1116.2L578.6 1118.2L579.2 1120.2L579.8 1122.2L580.3 1124.3L580.8 1126.3L581.4 1128.3L581.9 1130.4L582.5 1132.4L583 1134.4L583.5 1136.5L584 1138.5L584.5 1140.5L585 1142.6L585.5 1144.6L586 1146.6L586.4 1148.7L586.8 1150.7L587.1 1152.7L587.2 1154.7L587.1 1156.8L586.9 1158.8L586.5 1160.8L585.8 1162.9L585.8 1164.9Q585.8 1170.4 580.3 1170.4L552.5 1170.4Q547 1170.4 547 1164.9L547 1162.9L546.4 1160.8L546 1158.8L545.8 1156.8L545.7 1154.7L545.8 1152.7L546.1 1150.7L546.5 1148.7L546.9 1146.6L547.4 1144.6L547.9 1142.6L548.4 1140.5L548.9 1138.5L549.4 1136.5L549.9 1134.4L550.4 1132.4L551 1130.4L551.5 1128.3L552 1126.3L552.6 1124.3L553.1 1122.2L553.7 1120.2L554.3 1118.2L554.8 1116.2L555.4 1114.1L556 1112.1L556.7 1110.1L557.3 1108L557.9 1106Z"/>
</g>
<g fill="#668DC6" fill-opacity=".3" stroke="#668DC6" stroke-opacity=".8" stroke-width="1.1">
<circle cx="168.9" cy="175.9" r="2.25"/>
<circle cx="154.6" cy="165.8" r="2.25"/>
<circle cx="164.1" cy="183.3" r="2.25"/>
<circle cx="155.3" cy="162.4" r="2.25"/>
<circle cx="162.2" cy="242.8" r="2.25"/>
<circle cx="162.1" cy="269.9" r="2.25"/>
<circle cx="163.6" cy="203.9" r="2.25"/>
<circle cx="162.2" cy="287.5" r="2.25"/>
<circle cx="162.6" cy="258" r="2.25"/>
<circle cx="163.1" cy="270.1" r="2.25"/>
<circle cx="162.4" cy="228.5" r="2.25"/>
<circle cx="160.7" cy="211.7" r="2.25"/>
<circle cx="163.7" cy="254.9" r="2.25"/>
<circle cx="163.6" cy="357.8" r="2.25"/>
<circle cx="163.1" cy="391.8" r="2.25"/>
<circle cx="163.6" cy="312.5" r="2.25"/>
<circle cx="162.7" cy="399.8" r="2.25"/>
<circle cx="162.8" cy="378.7" r="2.25"/>
<circle cx="162.7" cy="400.5" r="2.25"/>
<circle cx="162.1" cy="328.5" r="2.25"/>
<circle cx="163.6" cy="345.6" r="2.25"/>
<circle cx="162" cy="320.1" r="2.25"/>
<circle cx="162.7" cy="385.7" r="2.25"/>
<circle cx="163.1" cy="308.6" r="2.25"/>
<circle cx="162.4" cy="380.5" r="2.25"/>
<circle cx="162.5" cy="340.4" r="2.25"/>
<circle cx="198.7" cy="226.1" r="2.25"/>
<circle cx="207.9" cy="270.2" r="2.25"/>
<circle cx="213" cy="251.9" r="2.25"/>
<circle cx="203.4" cy="232.9" r="2.25"/>
<circle cx="206.2" cy="237" r="2.25"/>
<circle cx="208.8" cy="253.9" r="2.25"/>
<circle cx="213.7" cy="250.8" r="2.25"/>
<circle cx="207.9" cy="260.2" r="2.25"/>
<circle cx="213.9" cy="215.3" r="2.25"/>
<circle cx="205.1" cy="262.3" r="2.25"/>
<circle cx="211.6" cy="262.2" r="2.25"/>
<circle cx="211.9" cy="238.5" r="2.25"/>
<circle cx="209.2" cy="325.3" r="2.25"/>
<circle cx="207.4" cy="324" r="2.25"/>
<circle cx="210.3" cy="325.2" r="2.25"/>
<circle cx="204.8" cy="303.3" r="2.25"/>
<circle cx="206.6" cy="340.4" r="2.25"/>
<circle cx="211.4" cy="306.4" r="2.25"/>
<circle cx="211.8" cy="309.9" r="2.25"/>
<circle cx="209.5" cy="314.3" r="2.25"/>
<circle cx="205.7" cy="300.8" r="2.25"/>
<circle cx="204.6" cy="323.1" r="2.25"/>
<circle cx="210.5" cy="301.8" r="2.25"/>
<circle cx="211.7" cy="306.7" r="2.25"/>
<circle cx="207.9" cy="342.2" r="2.25"/>
<circle cx="207.8" cy="305.8" r="2.25"/>
<circle cx="204.4" cy="302.3" r="2.25"/>
<circle cx="207.6" cy="313" r="2.25"/>
<circle cx="203.2" cy="311.3" r="2.25"/>
<circle cx="206.5" cy="342.1" r="2.25"/>
<circle cx="207.6" cy="317.7" r="2.25"/>
<circle cx="210.3" cy="315.4" r="2.25"/>
<circle cx="203.2" cy="305.8" r="2.25"/>
<circle cx="204.5" cy="311.5" r="2.25"/>
<circle cx="207.1" cy="370.4" r="2.25"/>
<circle cx="207.1" cy="376.2" r="2.25"/>
<circle cx="207.8" cy="387.8" r="2.25"/>
<circle cx="207.2" cy="367.2" r="2.25"/>
<circle cx="208.4" cy="347.5" r="2.25"/>
<circle cx="207.6" cy="374.9" r="2.25"/>
<circle cx="207.6" cy="392.1" r="2.25"/>
<circle cx="207.6" cy="392.6" r="2.25"/>
<circle cx="207.5" cy="366.8" r="2.25"/>
<circle cx="207" cy="353.4" r="2.25"/>
<circle cx="207" cy="348.5" r="2.25"/>
<circle cx="249" cy="268.6" r="2.25"/>
<circle cx="248.4" cy="296.5" r="2.25"/>
<circle cx="255.8" cy="263.2" r="2.25"/>
<circle cx="251" cy="250.8" r="2.25"/>
<circle cx="255.1" cy="234" r="2.25"/>
<circle cx="253.4" cy="299.9" r="2.25"/>
<circle cx="249.9" cy="228.6" r="2.25"/>
<circle cx="255.9" cy="253" r="2.25"/>
<circle cx="256.6" cy="272.3" r="2.25"/>
<circle cx="254.4" cy="266.2" r="2.25"/>
<circle cx="254.1" cy="281.5" r="2.25"/>
<circle cx="252.1" cy="303.8" r="2.25"/>
<circle cx="252" cy="329.3" r="2.25"/>
<circle cx="249.2" cy="305" r="2.25"/>
<circle cx="256.1" cy="306.6" r="2.25"/>
<circle cx="250.8" cy="302.7" r="2.25"/>
<circle cx="254.7" cy="317.1" r="2.25"/>
<circle cx="252.5" cy="366.2" r="2.25"/>
<circle cx="252.4" cy="358.8" r="2.25"/>
<circle cx="252.4" cy="396.7" r="2.25"/>
<circle cx="252.5" cy="367.6" r="2.25"/>
<circle cx="252.3" cy="369.7" r="2.25"/>
<circle cx="252.5" cy="335.1" r="2.25"/>
<circle cx="252.4" cy="399" r="2.25"/>
<circle cx="252.4" cy="331.6" r="2.25"/>
<circle cx="252.4" cy="354.3" r="2.25"/>
<circle cx="252.3" cy="366.4" r="2.25"/>
<circle cx="252.3" cy="346.1" r="2.25"/>
<circle cx="252.3" cy="334.3" r="2.25"/>
<circle cx="252.4" cy="382.8" r="2.25"/>
<circle cx="252.4" cy="383.7" r="2.25"/>
<circle cx="290.5" cy="117.8" r="2.25"/>
<circle cx="293.2" cy="244.4" r="2.25"/>
<circle cx="301.1" cy="209.4" r="2.25"/>
<circle cx="306.3" cy="236.6" r="2.25"/>
<circle cx="284.5" cy="246.9" r="2.25"/>
<circle cx="294.2" cy="247.5" r="2.25"/>
<circle cx="288.9" cy="246" r="2.25"/>
<circle cx="304.1" cy="235.6" r="2.25"/>
<circle cx="294.1" cy="228.4" r="2.25"/>
<circle cx="291.6" cy="199.3" r="2.25"/>
<circle cx="289.7" cy="208.6" r="2.25"/>
<circle cx="308" cy="248.9" r="2.25"/>
<circle cx="290" cy="209.6" r="2.25"/>
<circle cx="292.7" cy="219.6" r="2.25"/>
<circle cx="304.7" cy="236.1" r="2.25"/>
<circle cx="308.2" cy="259.7" r="2.25"/>
<circle cx="291.4" cy="309" r="2.25"/>
<circle cx="298.2" cy="320.7" r="2.25"/>
<circle cx="288.8" cy="290.6" r="2.25"/>
<circle cx="309.3" cy="302.3" r="2.25"/>
<circle cx="303.1" cy="317.2" r="2.25"/>
<circle cx="313" cy="265.2" r="2.25"/>
<circle cx="296" cy="324.4" r="2.25"/>
<circle cx="289.2" cy="285.9" r="2.25"/>
<circle cx="293.6" cy="325.7" r="2.25"/>
<circle cx="289.9" cy="299.6" r="2.25"/>
<circle cx="300.7" cy="270.4" r="2.25"/>
<circle cx="280.9" cy="266.3" r="2.25"/>
<circle cx="286.9" cy="275" r="2.25"/>
<circle cx="284.3" cy="293.8" r="2.25"/>
<circle cx="287" cy="301.1" r="2.25"/>
<circle cx="290.6" cy="272.7" r="2.25"/>
<circle cx="299.6" cy="275" r="2.25"/>
<circle cx="291.3" cy="308.2" r="2.25"/>
<circle cx="295.9" cy="315.6" r="2.25"/>
<circle cx="286" cy="286.9" r="2.25"/>
<circle cx="292.9" cy="322.8" r="2.25"/>
<circle cx="297.4" cy="279.7" r="2.25"/>
<circle cx="293.4" cy="324" r="2.25"/>
<circle cx="284.8" cy="265.8" r="2.25"/>
<circle cx="297.1" cy="367" r="2.25"/>
<circle cx="296.8" cy="363" r="2.25"/>
<circle cx="295.8" cy="334.9" r="2.25"/>
<circle cx="297.7" cy="331.6" r="2.25"/>
<circle cx="297.4" cy="354" r="2.25"/>
<circle cx="296" cy="347.5" r="2.25"/>
<circle cx="297.1" cy="386.3" r="2.25"/>
<circle cx="297.4" cy="397.4" r="2.25"/>
<circle cx="297.2" cy="398.7" r="2.25"/>
<circle cx="297.7" cy="375.2" r="2.25"/>
<circle cx="297.3" cy="397.9" r="2.25"/>
<circle cx="297.7" cy="373.3" r="2.25"/>
<circle cx="297.1" cy="393.8" r="2.25"/>
<circle cx="297.3" cy="377.2" r="2.25"/>
<circle cx="331.6" cy="248.8" r="2.25"/>
<circle cx="351.5" cy="253.4" r="2.25"/>
<circle cx="351.4" cy="200.4" r="2.25"/>
<circle cx="349.5" cy="227.9" r="2.25"/>
<circle cx="328.6" cy="213.9" r="2.25"/>
<circle cx="349.1" cy="250.7" r="2.25"/>
<circle cx="342.9" cy="247.3" r="2.25"/>
<circle cx="353.2" cy="213" r="2.25"/>
<circle cx="356.4" cy="244.6" r="2.25"/>
<circle cx="353.5" cy="219.6" r="2.25"/>
<circle cx="348.2" cy="237.8" r="2.25"/>
<circle cx="341.1" cy="258.7" r="2.25"/>
<circle cx="350.3" cy="315.8" r="2.25"/>
<circle cx="331.8" cy="284.6" r="2.25"/>
<circle cx="356.2" cy="266.2" r="2.25"/>
<circle cx="340" cy="334.3" r="2.25"/>
<circle cx="345.2" cy="315.4" r="2.25"/>
<circle cx="333" cy="318.9" r="2.25"/>
<circle cx="353.2" cy="289.1" r="2.25"/>
<circle cx="335.6" cy="331.3" r="2.25"/>
<circle cx="348.5" cy="333.2" r="2.25"/>
<circle cx="353.9" cy="262.8" r="2.25"/>
<circle cx="350.4" cy="310.7" r="2.25"/>
<circle cx="327.7" cy="283" r="2.25"/>
<circle cx="339.4" cy="285.5" r="2.25"/>
<circle cx="339.2" cy="317.3" r="2.25"/>
<circle cx="344.1" cy="328.1" r="2.25"/>
<circle cx="339.2" cy="321.8" r="2.25"/>
<circle cx="333.8" cy="303" r="2.25"/>
<circle cx="353.1" cy="267.3" r="2.25"/>
<circle cx="351.6" cy="321" r="2.25"/>
<circle cx="336.3" cy="323.7" r="2.25"/>
<circle cx="358.3" cy="280.8" r="2.25"/>
<circle cx="330.1" cy="299.9" r="2.25"/>
<circle cx="352" cy="266.5" r="2.25"/>
<circle cx="344.6" cy="323" r="2.25"/>
<circle cx="335.9" cy="331.2" r="2.25"/>
<circle cx="332.2" cy="262" r="2.25"/>
<circle cx="355.4" cy="290.3" r="2.25"/>
<circle cx="347.3" cy="320.4" r="2.25"/>
<circle cx="336.1" cy="287.9" r="2.25"/>
<circle cx="335.3" cy="319.4" r="2.25"/>
<circle cx="340.8" cy="270.1" r="2.25"/>
<circle cx="330.9" cy="279" r="2.25"/>
<circle cx="330" cy="272.4" r="2.25"/>
<circle cx="336" cy="272.9" r="2.25"/>
<circle cx="358" cy="268.1" r="2.25"/>
<circle cx="346.5" cy="323.6" r="2.25"/>
<circle cx="332" cy="268.5" r="2.25"/>
<circle cx="345.8" cy="323.3" r="2.25"/>
<circle cx="341.2" cy="310.6" r="2.25"/>
<circle cx="350.6" cy="319.3" r="2.25"/>
<circle cx="340.4" cy="366.1" r="2.25"/>
<circle cx="342.6" cy="388" r="2.25"/>
<circle cx="342.6" cy="388.5" r="2.25"/>
<circle cx="341.8" cy="378.5" r="2.25"/>
<circle cx="343.6" cy="351.3" r="2.25"/>
<circle cx="342.1" cy="364.1" r="2.25"/>
<circle cx="342.9" cy="346.3" r="2.25"/>
<circle cx="342.2" cy="384.5" r="2.25"/>
<circle cx="341.7" cy="372.3" r="2.25"/>
<circle cx="341.2" cy="387.3" r="2.25"/>
<circle cx="339.9" cy="356.4" r="2.25"/>
<circle cx="340.7" cy="372.7" r="2.25"/>
<circle cx="342.9" cy="388.1" r="2.25"/>
<circle cx="342.1" cy="399.8" r="2.25"/>
<circle cx="340.3" cy="374" r="2.25"/>
<circle cx="337.6" cy="351.5" r="2.25"/>
<circle cx="341.7" cy="369.7" r="2.25"/>
<circle cx="345.1" cy="362.5" r="2.25"/>
<circle cx="341.3" cy="388.6" r="2.25"/>
<circle cx="336.4" cy="340.9" r="2.25"/>
<circle cx="339.5" cy="348.8" r="2.25"/>
<circle cx="381.6" cy="195.2" r="2.25"/>
<circle cx="392.6" cy="185.9" r="2.25"/>
<circle cx="384.2" cy="210.6" r="2.25"/>
<circle cx="387.3" cy="219.9" r="2.25"/>
<circle cx="388.2" cy="222.5" r="2.25"/>
<circle cx="387.8" cy="242.3" r="2.25"/>
<circle cx="386" cy="267.9" r="2.25"/>
<circle cx="386.6" cy="253.1" r="2.25"/>
<circle cx="387.9" cy="269.2" r="2.25"/>
<circle cx="387.8" cy="257.6" r="2.25"/>
<circle cx="385.3" cy="240.2" r="2.25"/>
<circle cx="388.7" cy="259.7" r="2.25"/>
<circle cx="387.7" cy="258.5" r="2.25"/>
<circle cx="385.3" cy="260.4" r="2.25"/>
<circle cx="384.8" cy="293.9" r="2.25"/>
<circle cx="386.9" cy="356.6" r="2.25"/>
<circle cx="387" cy="377" r="2.25"/>
<circle cx="387.4" cy="348.1" r="2.25"/>
<circle cx="384.2" cy="272" r="2.25"/>
<circle cx="386.9" cy="365" r="2.25"/>
<circle cx="387.2" cy="364.2" r="2.25"/>
<circle cx="387.9" cy="271.9" r="2.25"/>
<circle cx="386.3" cy="277.9" r="2.25"/>
<circle cx="387" cy="375.3" r="2.25"/>
<circle cx="386.7" cy="325.2" r="2.25"/>
<circle cx="389.6" cy="278" r="2.25"/>
<circle cx="387.4" cy="313.8" r="2.25"/>
<circle cx="387" cy="387.2" r="2.25"/>
<circle cx="387.3" cy="347.4" r="2.25"/>
<circle cx="387" cy="382.4" r="2.25"/>
<circle cx="385.6" cy="315.8" r="2.25"/>
<circle cx="388.1" cy="296.5" r="2.25"/>
<circle cx="388.6" cy="281.6" r="2.25"/>
<circle cx="384.8" cy="289.7" r="2.25"/>
<circle cx="386.9" cy="373.9" r="2.25"/>
<circle cx="389.8" cy="274.4" r="2.25"/>
<circle cx="387" cy="372.9" r="2.25"/>
<circle cx="430" cy="202.2" r="2.25"/>
<circle cx="431.2" cy="227.1" r="2.25"/>
<circle cx="431" cy="277.4" r="2.25"/>
<circle cx="432.3" cy="386.6" r="2.25"/>
<circle cx="432.3" cy="385.8" r="2.25"/>
<circle cx="430.8" cy="274.8" r="2.25"/>
<circle cx="431.5" cy="317.1" r="2.25"/>
<circle cx="431.5" cy="271.7" r="2.25"/>
<circle cx="431.1" cy="380.7" r="2.25"/>
<circle cx="431.7" cy="269.2" r="2.25"/>
<circle cx="432.5" cy="268.3" r="2.25"/>
<circle cx="432.1" cy="272.3" r="2.25"/>
<circle cx="431.7" cy="355" r="2.25"/>
<circle cx="432.4" cy="259" r="2.25"/>
<circle cx="431" cy="358" r="2.25"/>
<circle cx="430.8" cy="324.4" r="2.25"/>
<circle cx="432.1" cy="242.8" r="2.25"/>
<circle cx="431.1" cy="350.3" r="2.25"/>
<circle cx="431.1" cy="303.7" r="2.25"/>
<circle cx="432" cy="263.1" r="2.25"/>
<circle cx="431.7" cy="301" r="2.25"/>
<circle cx="488.4" cy="125.3" r="2.25"/>
<circle cx="477" cy="392.1" r="2.25"/>
<circle cx="475.7" cy="383" r="2.25"/>
<circle cx="477.9" cy="323.8" r="2.25"/>
<circle cx="475.7" cy="342" r="2.25"/>
<circle cx="477.6" cy="324.5" r="2.25"/>
<circle cx="475.9" cy="342.5" r="2.25"/>
<circle cx="476.1" cy="379.1" r="2.25"/>
<circle cx="476.3" cy="288.3" r="2.25"/>
<circle cx="477.3" cy="357.8" r="2.25"/>
<circle cx="475.9" cy="388.2" r="2.25"/>
<circle cx="478" cy="316.1" r="2.25"/>
<circle cx="477.5" cy="285.7" r="2.25"/>
<circle cx="475.7" cy="282.6" r="2.25"/>
<circle cx="477.5" cy="375.9" r="2.25"/>
<circle cx="475" cy="231.8" r="2.25"/>
<circle cx="476.9" cy="327.1" r="2.25"/>
<circle cx="476.6" cy="314.2" r="2.25"/>
<circle cx="476.8" cy="289.4" r="2.25"/>
<circle cx="477.1" cy="384.8" r="2.25"/>
<circle cx="475.7" cy="262.5" r="2.25"/>
<circle cx="478.1" cy="291.1" r="2.25"/>
<circle cx="517.8" cy="155" r="2.25"/>
<circle cx="522.1" cy="191.2" r="2.25"/>
<circle cx="519.3" cy="158.5" r="2.25"/>
<circle cx="523.3" cy="203.3" r="2.25"/>
<circle cx="523.5" cy="202.6" r="2.25"/>
<circle cx="522" cy="218.2" r="2.25"/>
<circle cx="520.2" cy="221.5" r="2.25"/>
<circle cx="520.1" cy="269.4" r="2.25"/>
<circle cx="520.7" cy="397.1" r="2.25"/>
<circle cx="520.7" cy="361" r="2.25"/>
<circle cx="520.6" cy="312.6" r="2.25"/>
<circle cx="521.1" cy="370.4" r="2.25"/>
<circle cx="520.1" cy="354.8" r="2.25"/>
<circle cx="523.2" cy="317.7" r="2.25"/>
<circle cx="564.5" cy="371.6" r="2.25"/>
<circle cx="562.4" cy="291.8" r="2.25"/>
<circle cx="568.5" cy="358.1" r="2.25"/>
<circle cx="564.4" cy="293.8" r="2.25"/>
<circle cx="563.7" cy="346.6" r="2.25"/>
<circle cx="568" cy="322.2" r="2.25"/>
<circle cx="564.2" cy="363.2" r="2.25"/>
<circle cx="564.2" cy="275.7" r="2.25"/>
<circle cx="570.7" cy="379.7" r="2.25"/>
<circle cx="569.7" cy="359.7" r="2.25"/>
<circle cx="570.2" cy="320.9" r="2.25"/>
<circle cx="569.7" cy="358.6" r="2.25"/>
<circle cx="562.7" cy="324.3" r="2.25"/>
<circle cx="569" cy="285.3" r="2.25"/>
<circle cx="566.9" cy="301.3" r="2.25"/>
<circle cx="566.8" cy="346.5" r="2.25"/>
<circle cx="563.7" cy="319.4" r="2.25"/>
<circle cx="564.1" cy="350.4" r="2.25"/>
<circle cx="563.7" cy="382.3" r="2.25"/>
<circle cx="565.1" cy="337.6" r="2.25"/>
<circle cx="563.1" cy="361.3" r="2.25"/>
<circle cx="566.1" cy="341.8" r="2.25"/>
<circle cx="564.4" cy="283.7" r="2.25"/>
<circle cx="563.3" cy="303.7" r="2.25"/>
<circle cx="562" cy="278.6" r="2.25"/>
<circle cx="562.3" cy="360.1" r="2.25"/>
<circle cx="567.9" cy="387.6" r="2.25"/>
<circle cx="566.9" cy="292.8" r="2.25"/>
<circle cx="570.1" cy="345.3" r="2.25"/>
<circle cx="563.8" cy="300.2" r="2.25"/>
<circle cx="563.8" cy="370.7" r="2.25"/>
<circle cx="560.4" cy="381.2" r="2.25"/>
<circle cx="569.4" cy="369.6" r="2.25"/>
<circle cx="565.1" cy="308.4" r="2.25"/>
<circle cx="569.6" cy="314.3" r="2.25"/>
<circle cx="569.2" cy="345.4" r="2.25"/>
<circle cx="573.8" cy="378.6" r="2.25"/>
<circle cx="567.3" cy="305.9" r="2.25"/>
<circle cx="570.5" cy="323.2" r="2.25"/>
<circle cx="568.8" cy="292.9" r="2.25"/>
<circle cx="565.6" cy="364.4" r="2.25"/>
<circle cx="565" cy="320.5" r="2.25"/>
<circle cx="557.2" cy="444.2" r="2.25"/>
<circle cx="555.8" cy="410.9" r="2.25"/>
<circle cx="577.2" cy="448.3" r="2.25"/>
<circle cx="578.6" cy="448.5" r="2.25"/>
<circle cx="553.4" cy="438.7" r="2.25"/>
<circle cx="559.7" cy="426.5" r="2.25"/>
<circle cx="565.9" cy="447.2" r="2.25"/>
<circle cx="561.1" cy="408" r="2.25"/>
<circle cx="558.7" cy="391.7" r="2.25"/>
<circle cx="552" cy="416.8" r="2.25"/>
<circle cx="569.3" cy="412.3" r="2.25"/>
<circle cx="553" cy="413.8" r="2.25"/>
<circle cx="576.7" cy="396.7" r="2.25"/>
<circle cx="566.1" cy="405.1" r="2.25"/>
<circle cx="568.8" cy="403.6" r="2.25"/>
<circle cx="564" cy="394.8" r="2.25"/>
<circle cx="573.8" cy="423" r="2.25"/>
<circle cx="580.4" cy="396.9" r="2.25"/>
<circle cx="575.7" cy="396.1" r="2.25"/>
<circle cx="575.8" cy="423.8" r="2.25"/>
<circle cx="562.3" cy="404.2" r="2.25"/>
<circle cx="573.5" cy="408" r="2.25"/>
<circle cx="568.2" cy="442.3" r="2.25"/>
<circle cx="557" cy="442.2" r="2.25"/>
<circle cx="575.6" cy="410.5" r="2.25"/>
<circle cx="555.4" cy="439.5" r="2.25"/>
<circle cx="552.1" cy="433.3" r="2.25"/>
<circle cx="567.8" cy="396" r="2.25"/>
<circle cx="578.5" cy="396.8" r="2.25"/>
<circle cx="556.3" cy="405.3" r="2.25"/>
<circle cx="552.8" cy="396.8" r="2.25"/>
<circle cx="559.3" cy="423.3" r="2.25"/>
<circle cx="554" cy="412.8" r="2.25"/>
<circle cx="572.9" cy="422.3" r="2.25"/>
<circle cx="553.5" cy="446.9" r="2.25"/>
<circle cx="574.9" cy="442.4" r="2.25"/>
<circle cx="563" cy="430.8" r="2.25"/>
<circle cx="579.5" cy="413.6" r="2.25"/>
<circle cx="561.9" cy="394.6" r="2.25"/>
<circle cx="558" cy="392.6" r="2.25"/>
<circle cx="561.3" cy="413.3" r="2.25"/>
<circle cx="565.4" cy="391.2" r="2.25"/>
<circle cx="557.4" cy="392.7" r="2.25"/>
<circle cx="558.8" cy="406.4" r="2.25"/>
<circle cx="568.7" cy="405.7" r="2.25"/>
<circle cx="579.5" cy="447.4" r="2.25"/>
<circle cx="574.2" cy="442.3" r="2.25"/>
<circle cx="561.9" cy="428.1" r="2.25"/>
<circle cx="571.3" cy="446.3" r="2.25"/>
<circle cx="571.1" cy="420.5" r="2.25"/>
<circle cx="562.2" cy="393.6" r="2.25"/>
<circle cx="557.5" cy="412" r="2.25"/>
<circle cx="575.4" cy="390.4" r="2.25"/>
<circle cx="555.1" cy="408.1" r="2.25"/>
<circle cx="568" cy="433.6" r="2.25"/>
<circle cx="581.1" cy="410.4" r="2.25"/>
<circle cx="557.8" cy="394.8" r="2.25"/>
<circle cx="562.7" cy="449.2" r="2.25"/>
<circle cx="579.3" cy="415.7" r="2.25"/>
<circle cx="558.3" cy="406.6" r="2.25"/>
<circle cx="557.5" cy="432.3" r="2.25"/>
<circle cx="570.7" cy="441.8" r="2.25"/>
<circle cx="552.4" cy="426.1" r="2.25"/>
<circle cx="562" cy="442.5" r="2.25"/>
<circle cx="570.4" cy="442.5" r="2.25"/>
<circle cx="560.9" cy="402.7" r="2.25"/>
<circle cx="563.3" cy="428.9" r="2.25"/>
<circle cx="551.1" cy="410.3" r="2.25"/>
<circle cx="566.2" cy="410.1" r="2.25"/>
<circle cx="565.2" cy="405.4" r="2.25"/>
<circle cx="554.9" cy="449.3" r="2.25"/>
<circle cx="561.1" cy="433.4" r="2.25"/>
<circle cx="553.9" cy="436" r="2.25"/>
<circle cx="567.8" cy="415.4" r="2.25"/>
<circle cx="571.8" cy="423.3" r="2.25"/>
<circle cx="574.8" cy="409.9" r="2.25"/>
<circle cx="560.7" cy="436.6" r="2.25"/>
<circle cx="565.2" cy="448.6" r="2.25"/>
<circle cx="552.1" cy="397.9" r="2.25"/>
<circle cx="583.5" cy="411.7" r="2.25"/>
<circle cx="557.3" cy="391.7" r="2.25"/>
<circle cx="580.1" cy="400.9" r="2.25"/>
<circle cx="579.5" cy="434.3" r="2.25"/>
<circle cx="582.2" cy="404.6" r="2.25"/>
<circle cx="565.3" cy="438" r="2.25"/>
<circle cx="552.9" cy="434" r="2.25"/>
<circle cx="579.1" cy="414.1" r="2.25"/>
<circle cx="578.6" cy="445.1" r="2.25"/>
<circle cx="558.4" cy="403.4" r="2.25"/>
<circle cx="574.7" cy="402.2" r="2.25"/>
<circle cx="583.3" cy="407.9" r="2.25"/>
<circle cx="577" cy="441.8" r="2.25"/>
<circle cx="560.8" cy="407" r="2.25"/>
<circle cx="569.6" cy="431" r="2.25"/>
<circle cx="578.7" cy="402.6" r="2.25"/>
<circle cx="577.8" cy="400.9" r="2.25"/>
<circle cx="550.2" cy="407.9" r="2.25"/>
<circle cx="556.9" cy="444.7" r="2.25"/>
<circle cx="557.3" cy="395.9" r="2.25"/>
<circle cx="562" cy="395.4" r="2.25"/>
<circle cx="578.5" cy="433" r="2.25"/>
<circle cx="559.8" cy="392" r="2.25"/>
<circle cx="551.6" cy="431.4" r="2.25"/>
<circle cx="564.2" cy="403.9" r="2.25"/>
<circle cx="579.5" cy="409" r="2.25"/>
<circle cx="555.3" cy="415.7" r="2.25"/>
<circle cx="573.5" cy="398.9" r="2.25"/>
<circle cx="562.3" cy="396.7" r="2.25"/>
<circle cx="581.4" cy="402.9" r="2.25"/>
<circle cx="559.4" cy="433.9" r="2.25"/>
<circle cx="566.7" cy="452.2" r="2.25"/>
<circle cx="571.3" cy="450.5" r="2.25"/>
<circle cx="567.5" cy="477.2" r="2.25"/>
<circle cx="573.4" cy="499.1" r="2.25"/>
<circle cx="562.4" cy="470" r="2.25"/>
<circle cx="564.4" cy="469.3" r="2.25"/>
<circle cx="575.3" cy="480.4" r="2.25"/>
<circle cx="559.4" cy="462" r="2.25"/>
<circle cx="557.8" cy="495.4" r="2.25"/>
<circle cx="569.8" cy="466.2" r="2.25"/>
<circle cx="577.2" cy="465.8" r="2.25"/>
<circle cx="568.4" cy="475.5" r="2.25"/>
<circle cx="569.5" cy="461.7" r="2.25"/>
<circle cx="571.2" cy="468.9" r="2.25"/>
<circle cx="562.8" cy="483.9" r="2.25"/>
<circle cx="560.6" cy="477.2" r="2.25"/>
<circle cx="575.9" cy="463.2" r="2.25"/>
<circle cx="560.4" cy="473.8" r="2.25"/>
<circle cx="567" cy="476.2" r="2.25"/>
<circle cx="558.8" cy="461.9" r="2.25"/>
<circle cx="569.5" cy="473" r="2.25"/>
<circle cx="573.5" cy="494.7" r="2.25"/>
<circle cx="559" cy="490.9" r="2.25"/>
<circle cx="573.3" cy="467.8" r="2.25"/>
<circle cx="557.5" cy="472.6" r="2.25"/>
<circle cx="566" cy="472.5" r="2.25"/>
<circle cx="559.5" cy="487.9" r="2.25"/>
<circle cx="566.9" cy="468.3" r="2.25"/>
<circle cx="737.5" cy="254.7" r="2.25"/>
<circle cx="730.7" cy="294.7" r="2.25"/>
<circle cx="736.7" cy="279.8" r="2.25"/>
<circle cx="726.9" cy="253.1" r="2.25"/>
<circle cx="742.3" cy="256.6" r="2.25"/>
<circle cx="743.7" cy="231.8" r="2.25"/>
<circle cx="740.5" cy="259" r="2.25"/>
<circle cx="741.1" cy="260.8" r="2.25"/>
<circle cx="747.6" cy="287.7" r="2.25"/>
<circle cx="734.8" cy="340.2" r="2.25"/>
<circle cx="744.2" cy="355.4" r="2.25"/>
<circle cx="734" cy="311.8" r="2.25"/>
<circle cx="748.5" cy="308.8" r="2.25"/>
<circle cx="746.8" cy="305.5" r="2.25"/>
<circle cx="736" cy="348.3" r="2.25"/>
<circle cx="742.6" cy="341.8" r="2.25"/>
<circle cx="741.7" cy="333.4" r="2.25"/>
<circle cx="737.7" cy="326.2" r="2.25"/>
<circle cx="740.5" cy="351.1" r="2.25"/>
<circle cx="731.3" cy="320.2" r="2.25"/>
<circle cx="740.9" cy="337.4" r="2.25"/>
<circle cx="739.2" cy="448.1" r="2.25"/>
<circle cx="743.5" cy="442.6" r="2.25"/>
<circle cx="738.4" cy="438.4" r="2.25"/>
<circle cx="741.9" cy="455.3" r="2.25"/>
<circle cx="740" cy="417.7" r="2.25"/>
<circle cx="739.4" cy="406.1" r="2.25"/>
<circle cx="740.2" cy="434.9" r="2.25"/>
<circle cx="738.7" cy="450.5" r="2.25"/>
<circle cx="741.1" cy="463.7" r="2.25"/>
<circle cx="740.1" cy="492.3" r="2.25"/>
<circle cx="740.7" cy="496.1" r="2.25"/>
<circle cx="744.6" cy="473.4" r="2.25"/>
<circle cx="739" cy="481.8" r="2.25"/>
<circle cx="738.9" cy="480" r="2.25"/>
<circle cx="738.3" cy="465.8" r="2.25"/>
<circle cx="739.4" cy="465" r="2.25"/>
<circle cx="740.3" cy="494.7" r="2.25"/>
<circle cx="740.1" cy="486.9" r="2.25"/>
<circle cx="740.5" cy="494.7" r="2.25"/>
<circle cx="742.5" cy="484.1" r="2.25"/>
<circle cx="740.7" cy="495.9" r="2.25"/>
<circle cx="743.2" cy="469.5" r="2.25"/>
<circle cx="741.4" cy="498.1" r="2.25"/>
<circle cx="741.9" cy="495.4" r="2.25"/>
<circle cx="739.8" cy="490.7" r="2.25"/>
<circle cx="742.9" cy="492.3" r="2.25"/>
<circle cx="742.4" cy="492.5" r="2.25"/>
<circle cx="740.9" cy="494" r="2.25"/>
<circle cx="741.1" cy="496.9" r="2.25"/>
<circle cx="744" cy="479.2" r="2.25"/>
<circle cx="799.2" cy="360" r="2.25"/>
<circle cx="778.4" cy="399.1" r="2.25"/>
<circle cx="787.2" cy="333" r="2.25"/>
<circle cx="795.3" cy="356.4" r="2.25"/>
<circle cx="796.2" cy="364.2" r="2.25"/>
<circle cx="799.4" cy="350.1" r="2.25"/>
<circle cx="775" cy="373.3" r="2.25"/>
<circle cx="799.7" cy="355.5" r="2.25"/>
<circle cx="786.9" cy="350.1" r="2.25"/>
<circle cx="786.2" cy="463.5" r="2.25"/>
<circle cx="790.7" cy="458.4" r="2.25"/>
<circle cx="792.8" cy="431.3" r="2.25"/>
<circle cx="792.7" cy="451" r="2.25"/>
<circle cx="794.7" cy="466.7" r="2.25"/>
<circle cx="783.5" cy="403.3" r="2.25"/>
<circle cx="780.5" cy="444.9" r="2.25"/>
<circle cx="787.4" cy="420.4" r="2.25"/>
<circle cx="790.7" cy="456.3" r="2.25"/>
<circle cx="780.4" cy="448.4" r="2.25"/>
<circle cx="782.4" cy="455.6" r="2.25"/>
<circle cx="792.2" cy="411.4" r="2.25"/>
<circle cx="783.3" cy="420.8" r="2.25"/>
<circle cx="779.6" cy="467.3" r="2.25"/>
<circle cx="784.7" cy="422.5" r="2.25"/>
<circle cx="798.3" cy="427" r="2.25"/>
<circle cx="795.1" cy="431.5" r="2.25"/>
<circle cx="781.5" cy="454.5" r="2.25"/>
<circle cx="790.7" cy="439.1" r="2.25"/>
<circle cx="782.8" cy="419.3" r="2.25"/>
<circle cx="780.6" cy="437.1" r="2.25"/>
<circle cx="793.1" cy="418.2" r="2.25"/>
<circle cx="797.6" cy="424.8" r="2.25"/>
<circle cx="793" cy="438.4" r="2.25"/>
<circle cx="794.3" cy="428.9" r="2.25"/>
<circle cx="789.1" cy="467.7" r="2.25"/>
<circle cx="783.5" cy="454.2" r="2.25"/>
<circle cx="782.1" cy="452" r="2.25"/>
<circle cx="795.6" cy="413" r="2.25"/>
<circle cx="790.7" cy="436.5" r="2.25"/>
<circle cx="782.2" cy="409.3" r="2.25"/>
<circle cx="790.3" cy="459.6" r="2.25"/>
<circle cx="788.2" cy="428.3" r="2.25"/>
<circle cx="777.7" cy="458.7" r="2.25"/>
<circle cx="786.2" cy="452.8" r="2.25"/>
<circle cx="791.9" cy="462.9" r="2.25"/>
<circle cx="796.2" cy="445.4" r="2.25"/>
<circle cx="780.3" cy="442.9" r="2.25"/>
<circle cx="779" cy="419.1" r="2.25"/>
<circle cx="792.5" cy="468.2" r="2.25"/>
<circle cx="782" cy="458.7" r="2.25"/>
<circle cx="775.1" cy="419.3" r="2.25"/>
<circle cx="794.4" cy="402.8" r="2.25"/>
<circle cx="781.9" cy="423.8" r="2.25"/>
<circle cx="793.6" cy="415.3" r="2.25"/>
<circle cx="773.8" cy="437.6" r="2.25"/>
<circle cx="786.3" cy="471" r="2.25"/>
<circle cx="787.1" cy="487.4" r="2.25"/>
<circle cx="785.4" cy="474.5" r="2.25"/>
<circle cx="784.6" cy="476.5" r="2.25"/>
<circle cx="785.7" cy="487.6" r="2.25"/>
<circle cx="787.1" cy="479" r="2.25"/>
<circle cx="786.3" cy="503.1" r="2.25"/>
<circle cx="778.4" cy="477" r="2.25"/>
<circle cx="781.9" cy="482.1" r="2.25"/>
<circle cx="783.8" cy="476" r="2.25"/>
<circle cx="779.9" cy="473.6" r="2.25"/>
<circle cx="791.2" cy="486" r="2.25"/>
<circle cx="786.1" cy="497" r="2.25"/>
<circle cx="783.5" cy="487.3" r="2.25"/>
<circle cx="788.6" cy="494.1" r="2.25"/>
<circle cx="780.5" cy="470.4" r="2.25"/>
<circle cx="780.2" cy="482.9" r="2.25"/>
<circle cx="787.9" cy="481" r="2.25"/>
<circle cx="787.6" cy="486.5" r="2.25"/>
<circle cx="781.4" cy="483" r="2.25"/>
<circle cx="780.9" cy="474.3" r="2.25"/>
<circle cx="788.3" cy="483.6" r="2.25"/>
<circle cx="788.5" cy="478.2" r="2.25"/>
<circle cx="782.6" cy="486" r="2.25"/>
<circle cx="787.6" cy="496.8" r="2.25"/>
<circle cx="778.3" cy="471.3" r="2.25"/>
<circle cx="792.8" cy="478.2" r="2.25"/>
<circle cx="778" cy="475.2" r="2.25"/>
<circle cx="794.8" cy="473.5" r="2.25"/>
<circle cx="791.3" cy="476.4" r="2.25"/>
<circle cx="787.9" cy="496.8" r="2.25"/>
<circle cx="786.2" cy="497.9" r="2.25"/>
<circle cx="784.4" cy="488.5" r="2.25"/>
<circle cx="792.7" cy="470.8" r="2.25"/>
<circle cx="782.3" cy="485.6" r="2.25"/>
<circle cx="785.1" cy="477" r="2.25"/>
<circle cx="781" cy="482" r="2.25"/>
<circle cx="783.8" cy="482.5" r="2.25"/>
<circle cx="788.1" cy="475" r="2.25"/>
<circle cx="789.7" cy="473.9" r="2.25"/>
<circle cx="785.8" cy="487.7" r="2.25"/>
<circle cx="786.6" cy="501.2" r="2.25"/>
<circle cx="785.4" cy="499.9" r="2.25"/>
<circle cx="784.1" cy="480.2" r="2.25"/>
<circle cx="786.3" cy="503.3" r="2.25"/>
<circle cx="787.9" cy="498.5" r="2.25"/>
<circle cx="780.9" cy="470.7" r="2.25"/>
<circle cx="785.9" cy="501.3" r="2.25"/>
<circle cx="834.5" cy="355.6" r="2.25"/>
<circle cx="831.5" cy="379.4" r="2.25"/>
<circle cx="829.4" cy="340.9" r="2.25"/>
<circle cx="830.4" cy="358.2" r="2.25"/>
<circle cx="830.3" cy="395.9" r="2.25"/>
<circle cx="832.4" cy="391.3" r="2.25"/>
<circle cx="829.5" cy="394.3" r="2.25"/>
<circle cx="824.2" cy="446.3" r="2.25"/>
<circle cx="833.4" cy="426.8" r="2.25"/>
<circle cx="826.9" cy="415.6" r="2.25"/>
<circle cx="828.5" cy="467.4" r="2.25"/>
<circle cx="831.4" cy="425.6" r="2.25"/>
<circle cx="829.6" cy="420" r="2.25"/>
<circle cx="828.1" cy="415.7" r="2.25"/>
<circle cx="830.5" cy="444.9" r="2.25"/>
<circle cx="832.1" cy="403.5" r="2.25"/>
<circle cx="830.8" cy="408.1" r="2.25"/>
<circle cx="838.9" cy="432.8" r="2.25"/>
<circle cx="829.3" cy="405" r="2.25"/>
<circle cx="840.7" cy="460.9" r="2.25"/>
<circle cx="827.7" cy="416.8" r="2.25"/>
<circle cx="827.2" cy="414.9" r="2.25"/>
<circle cx="821.8" cy="451.2" r="2.25"/>
<circle cx="828.1" cy="446.4" r="2.25"/>
<circle cx="826.9" cy="412.6" r="2.25"/>
<circle cx="822" cy="436" r="2.25"/>
<circle cx="831" cy="416.4" r="2.25"/>
<circle cx="823.5" cy="445.6" r="2.25"/>
<circle cx="835.7" cy="466.2" r="2.25"/>
<circle cx="837" cy="425.7" r="2.25"/>
<circle cx="822.6" cy="463.1" r="2.25"/>
<circle cx="826.3" cy="474.6" r="2.25"/>
<circle cx="829.4" cy="492.4" r="2.25"/>
<circle cx="831.1" cy="501.3" r="2.25"/>
<circle cx="835.7" cy="477.1" r="2.25"/>
<circle cx="837.4" cy="477.5" r="2.25"/>
<circle cx="836" cy="475.3" r="2.25"/>
<circle cx="831.6" cy="485" r="2.25"/>
<circle cx="831.6" cy="487.2" r="2.25"/>
<circle cx="831.2" cy="499.3" r="2.25"/>
<circle cx="836.7" cy="478.9" r="2.25"/>
<circle cx="823.3" cy="473.4" r="2.25"/>
<circle cx="831.4" cy="498" r="2.25"/>
<circle cx="827" cy="473.8" r="2.25"/>
<circle cx="832.6" cy="489.3" r="2.25"/>
<circle cx="825" cy="476.4" r="2.25"/>
<circle cx="829.3" cy="488.8" r="2.25"/>
<circle cx="832.4" cy="485.7" r="2.25"/>
<circle cx="837.8" cy="475.9" r="2.25"/>
<circle cx="830.1" cy="477.7" r="2.25"/>
<circle cx="829.8" cy="476.8" r="2.25"/>
<circle cx="830.9" cy="499.7" r="2.25"/>
<circle cx="826.7" cy="474.2" r="2.25"/>
<circle cx="829.6" cy="474.5" r="2.25"/>
<circle cx="827.4" cy="485.9" r="2.25"/>
<circle cx="831.8" cy="495.3" r="2.25"/>
<circle cx="831.2" cy="497.1" r="2.25"/>
<circle cx="869.8" cy="255.7" r="2.25"/>
<circle cx="872" cy="387.1" r="2.25"/>
<circle cx="868.1" cy="395.2" r="2.25"/>
<circle cx="873" cy="349.9" r="2.25"/>
<circle cx="877.7" cy="392.2" r="2.25"/>
<circle cx="873.3" cy="348.4" r="2.25"/>
<circle cx="871.2" cy="353.5" r="2.25"/>
<circle cx="883.4" cy="394.5" r="2.25"/>
<circle cx="873.4" cy="357.9" r="2.25"/>
<circle cx="877.4" cy="335" r="2.25"/>
<circle cx="881.8" cy="343.6" r="2.25"/>
<circle cx="871.8" cy="371.6" r="2.25"/>
<circle cx="878.8" cy="362.7" r="2.25"/>
<circle cx="865.8" cy="466.5" r="2.25"/>
<circle cx="881.6" cy="435.2" r="2.25"/>
<circle cx="883.6" cy="462.7" r="2.25"/>
<circle cx="877.8" cy="476" r="2.25"/>
<circle cx="860" cy="436.7" r="2.25"/>
<circle cx="869.3" cy="474.6" r="2.25"/>
<circle cx="883.3" cy="424.1" r="2.25"/>
<circle cx="861.3" cy="446.2" r="2.25"/>
<circle cx="869.7" cy="423.1" r="2.25"/>
<circle cx="863.5" cy="428.1" r="2.25"/>
<circle cx="868.4" cy="470" r="2.25"/>
<circle cx="862.8" cy="440.3" r="2.25"/>
<circle cx="884.1" cy="435.6" r="2.25"/>
<circle cx="875.4" cy="474.3" r="2.25"/>
<circle cx="869" cy="456.2" r="2.25"/>
<circle cx="866.3" cy="427.8" r="2.25"/>
<circle cx="885.5" cy="426.4" r="2.25"/>
<circle cx="893.2" cy="448.2" r="2.25"/>
<circle cx="878.1" cy="483.8" r="2.25"/>
<circle cx="876.3" cy="498.1" r="2.25"/>
<circle cx="875.9" cy="500" r="2.25"/>
<circle cx="875.4" cy="496.6" r="2.25"/>
<circle cx="875.9" cy="501.8" r="2.25"/>
<circle cx="876.2" cy="498.6" r="2.25"/>
<circle cx="877.8" cy="487.5" r="2.25"/>
<circle cx="874.5" cy="484.7" r="2.25"/>
<circle cx="879.3" cy="480.6" r="2.25"/>
<circle cx="877.7" cy="488.8" r="2.25"/>
<circle cx="877.9" cy="490.4" r="2.25"/>
<circle cx="876.8" cy="482.3" r="2.25"/>
<circle cx="875" cy="488" r="2.25"/>
<circle cx="880" cy="482.7" r="2.25"/>
<circle cx="877.3" cy="491.5" r="2.25"/>
<circle cx="875.5" cy="497.6" r="2.25"/>
<circle cx="875.2" cy="489.5" r="2.25"/>
<circle cx="914.5" cy="366.8" r="2.25"/>
<circle cx="916.1" cy="394.8" r="2.25"/>
<circle cx="927.2" cy="380.3" r="2.25"/>
<circle cx="924.4" cy="394.9" r="2.25"/>
<circle cx="925.6" cy="347.3" r="2.25"/>
<circle cx="926" cy="325.3" r="2.25"/>
<circle cx="924" cy="399.7" r="2.25"/>
<circle cx="916.5" cy="419.8" r="2.25"/>
<circle cx="916.4" cy="344.5" r="2.25"/>
<circle cx="909.5" cy="438.2" r="2.25"/>
<circle cx="920.9" cy="438.9" r="2.25"/>
<circle cx="920.4" cy="478.4" r="2.25"/>
<circle cx="910.1" cy="448.3" r="2.25"/>
<circle cx="910.9" cy="428.7" r="2.25"/>
<circle cx="915.6" cy="444.2" r="2.25"/>
<circle cx="908.7" cy="443.5" r="2.25"/>
<circle cx="903.1" cy="454.4" r="2.25"/>
<circle cx="915.8" cy="463.7" r="2.25"/>
<circle cx="918" cy="475.2" r="2.25"/>
<circle cx="928.9" cy="459.8" r="2.25"/>
<circle cx="916.7" cy="428.7" r="2.25"/>
<circle cx="923.6" cy="467.5" r="2.25"/>
<circle cx="935.8" cy="440.4" r="2.25"/>
<circle cx="909.7" cy="444.2" r="2.25"/>
<circle cx="916" cy="421.6" r="2.25"/>
<circle cx="916.4" cy="473.7" r="2.25"/>
<circle cx="924.5" cy="475.8" r="2.25"/>
<circle cx="930.9" cy="456.5" r="2.25"/>
<circle cx="934.9" cy="441.8" r="2.25"/>
<circle cx="915.2" cy="436.5" r="2.25"/>
<circle cx="926.4" cy="429.6" r="2.25"/>
<circle cx="909.4" cy="468.3" r="2.25"/>
<circle cx="928.1" cy="464" r="2.25"/>
<circle cx="922.1" cy="476.8" r="2.25"/>
<circle cx="932.7" cy="425.4" r="2.25"/>
<circle cx="921.3" cy="500.1" r="2.25"/>
<circle cx="910.7" cy="480.9" r="2.25"/>
<circle cx="922.9" cy="484.2" r="2.25"/>
<circle cx="920.7" cy="502.3" r="2.25"/>
<circle cx="929.4" cy="485.4" r="2.25"/>
<circle cx="917.7" cy="483.5" r="2.25"/>
<circle cx="921.4" cy="481.4" r="2.25"/>
<circle cx="919.3" cy="480.8" r="2.25"/>
<circle cx="920.3" cy="493.2" r="2.25"/>
<circle cx="919.1" cy="487.8" r="2.25"/>
<circle cx="921.9" cy="499.8" r="2.25"/>
<circle cx="917.6" cy="495.9" r="2.25"/>
<circle cx="915.9" cy="491.8" r="2.25"/>
<circle cx="922.9" cy="489.5" r="2.25"/>
<circle cx="920.2" cy="496.8" r="2.25"/>
<circle cx="917.4" cy="488.7" r="2.25"/>
<circle cx="922" cy="498.2" r="2.25"/>
<circle cx="919.6" cy="495.8" r="2.25"/>
<circle cx="920.2" cy="501.2" r="2.25"/>
<circle cx="926" cy="483.4" r="2.25"/>
<circle cx="920.4" cy="501.5" r="2.25"/>
<circle cx="920.6" cy="500" r="2.25"/>
<circle cx="920.6" cy="482.2" r="2.25"/>
<circle cx="923.6" cy="484.9" r="2.25"/>
<circle cx="923.3" cy="493.2" r="2.25"/>
<circle cx="918.9" cy="497.2" r="2.25"/>
<circle cx="918.7" cy="497" r="2.25"/>
<circle cx="920.2" cy="480.8" r="2.25"/>
<circle cx="979.8" cy="291" r="2.25"/>
<circle cx="974.2" cy="296.8" r="2.25"/>
<circle cx="975.8" cy="329.6" r="2.25"/>
<circle cx="962.4" cy="376.2" r="2.25"/>
<circle cx="964.2" cy="370.7" r="2.25"/>
<circle cx="964" cy="462" r="2.25"/>
<circle cx="961.7" cy="468.7" r="2.25"/>
<circle cx="964.3" cy="467.7" r="2.25"/>
<circle cx="961.5" cy="422" r="2.25"/>
<circle cx="966.3" cy="444.1" r="2.25"/>
<circle cx="963.9" cy="448" r="2.25"/>
<circle cx="966.1" cy="444.4" r="2.25"/>
<circle cx="963.9" cy="446.9" r="2.25"/>
<circle cx="960.8" cy="468.1" r="2.25"/>
<circle cx="961.3" cy="435.5" r="2.25"/>
<circle cx="967.7" cy="446.8" r="2.25"/>
<circle cx="967.4" cy="469.4" r="2.25"/>
<circle cx="963.5" cy="467.8" r="2.25"/>
<circle cx="964.9" cy="400.6" r="2.25"/>
<circle cx="959.7" cy="457.7" r="2.25"/>
<circle cx="965.7" cy="461.6" r="2.25"/>
<circle cx="960.4" cy="448.8" r="2.25"/>
<circle cx="961.4" cy="468.7" r="2.25"/>
<circle cx="970.9" cy="446.3" r="2.25"/>
<circle cx="966.9" cy="469.6" r="2.25"/>
<circle cx="967.3" cy="411.3" r="2.25"/>
<circle cx="969" cy="441.2" r="2.25"/>
<circle cx="964.6" cy="439.2" r="2.25"/>
<circle cx="962.4" cy="457.7" r="2.25"/>
<circle cx="967.9" cy="423.5" r="2.25"/>
<circle cx="965.6" cy="431.7" r="2.25"/>
<circle cx="961.9" cy="442.3" r="2.25"/>
<circle cx="967" cy="472.8" r="2.25"/>
<circle cx="964" cy="479.5" r="2.25"/>
<circle cx="961.7" cy="471.4" r="2.25"/>
<circle cx="964.2" cy="490.1" r="2.25"/>
<circle cx="968" cy="473.2" r="2.25"/>
<circle cx="963.5" cy="485.8" r="2.25"/>
<circle cx="967.1" cy="478.3" r="2.25"/>
<circle cx="968.3" cy="486.8" r="2.25"/>
<circle cx="967.2" cy="476" r="2.25"/>
<circle cx="965.4" cy="474.4" r="2.25"/>
<circle cx="961.7" cy="480" r="2.25"/>
<circle cx="965.1" cy="492.4" r="2.25"/>
<circle cx="967.8" cy="472.8" r="2.25"/>
<circle cx="964.2" cy="489.7" r="2.25"/>
<circle cx="964.4" cy="473.6" r="2.25"/>
<circle cx="960.8" cy="470.1" r="2.25"/>
<circle cx="969.1" cy="479.9" r="2.25"/>
<circle cx="965.6" cy="496.8" r="2.25"/>
<circle cx="965.6" cy="481.6" r="2.25"/>
<circle cx="965" cy="485.6" r="2.25"/>
<circle cx="966" cy="493.9" r="2.25"/>
<circle cx="969.4" cy="477.7" r="2.25"/>
<circle cx="968.2" cy="477.2" r="2.25"/>
<circle cx="966" cy="491" r="2.25"/>
<circle cx="970.3" cy="471" r="2.25"/>
<circle cx="967.2" cy="490.8" r="2.25"/>
<circle cx="966.7" cy="492.1" r="2.25"/>
<circle cx="1016.2" cy="338.1" r="2.25"/>
<circle cx="1010.3" cy="384.3" r="2.25"/>
<circle cx="1011.7" cy="373.7" r="2.25"/>
<circle cx="1012.7" cy="348.2" r="2.25"/>
<circle cx="1010.4" cy="442.1" r="2.25"/>
<circle cx="1009.7" cy="419.7" r="2.25"/>
<circle cx="1009.3" cy="424.4" r="2.25"/>
<circle cx="1011" cy="457.6" r="2.25"/>
<circle cx="1011" cy="410.4" r="2.25"/>
<circle cx="1010.8" cy="483.4" r="2.25"/>
<circle cx="1011.3" cy="477" r="2.25"/>
<circle cx="1010.4" cy="495.5" r="2.25"/>
<circle cx="1010.4" cy="493.8" r="2.25"/>
<circle cx="1009.8" cy="471.1" r="2.25"/>
<circle cx="1010.2" cy="490.2" r="2.25"/>
<circle cx="1010.4" cy="495.2" r="2.25"/>
<circle cx="1010.4" cy="496.3" r="2.25"/>
<circle cx="1009.6" cy="468.5" r="2.25"/>
<circle cx="1011.2" cy="461" r="2.25"/>
<circle cx="1009.8" cy="479.9" r="2.25"/>
<circle cx="1054.5" cy="362.3" r="2.25"/>
<circle cx="1052.3" cy="338" r="2.25"/>
<circle cx="1056.6" cy="378.8" r="2.25"/>
<circle cx="1052" cy="351.9" r="2.25"/>
<circle cx="1054.9" cy="426.4" r="2.25"/>
<circle cx="1054.7" cy="453.5" r="2.25"/>
<circle cx="1057" cy="422.1" r="2.25"/>
<circle cx="1056.2" cy="418" r="2.25"/>
<circle cx="1053.1" cy="448.5" r="2.25"/>
<circle cx="1054.9" cy="461.7" r="2.25"/>
<circle cx="1056.7" cy="477" r="2.25"/>
<circle cx="1054.9" cy="461.4" r="2.25"/>
<circle cx="1054.2" cy="480.7" r="2.25"/>
<circle cx="1054.8" cy="493.6" r="2.25"/>
<circle cx="1056.3" cy="462.6" r="2.25"/>
<circle cx="1054.5" cy="477.5" r="2.25"/>
<circle cx="1055.2" cy="499.2" r="2.25"/>
<circle cx="1056.6" cy="470.3" r="2.25"/>
<circle cx="1054.6" cy="488.5" r="2.25"/>
<circle cx="1055.9" cy="475" r="2.25"/>
<circle cx="1057.4" cy="467.5" r="2.25"/>
<circle cx="1055.2" cy="499.7" r="2.25"/>
<circle cx="1055.3" cy="497.5" r="2.25"/>
<circle cx="1054.7" cy="472.5" r="2.25"/>
<circle cx="1097.4" cy="390.9" r="2.25"/>
<circle cx="1100.4" cy="375.6" r="2.25"/>
<circle cx="1097.9" cy="351.9" r="2.25"/>
<circle cx="1100.9" cy="382.3" r="2.25"/>
<circle cx="1101.5" cy="346.7" r="2.25"/>
<circle cx="1103" cy="373" r="2.25"/>
<circle cx="1097.3" cy="345.4" r="2.25"/>
<circle cx="1101.4" cy="339.9" r="2.25"/>
<circle cx="1103.2" cy="346.7" r="2.25"/>
<circle cx="1099.4" cy="358.5" r="2.25"/>
<circle cx="1099.3" cy="359.3" r="2.25"/>
<circle cx="1100.9" cy="431" r="2.25"/>
<circle cx="1101.7" cy="480.3" r="2.25"/>
<circle cx="1100.8" cy="480.3" r="2.25"/>
<circle cx="1096.1" cy="459.6" r="2.25"/>
<circle cx="1100" cy="436.1" r="2.25"/>
<circle cx="1100.9" cy="476.8" r="2.25"/>
<circle cx="1102.7" cy="488.3" r="2.25"/>
<circle cx="1102.2" cy="428.4" r="2.25"/>
<circle cx="1103.8" cy="454.4" r="2.25"/>
<circle cx="1102.1" cy="453" r="2.25"/>
<circle cx="1099.8" cy="459.8" r="2.25"/>
<circle cx="1101.9" cy="451.2" r="2.25"/>
<circle cx="1098.7" cy="401.3" r="2.25"/>
<circle cx="1102.7" cy="462.2" r="2.25"/>
<circle cx="1100.3" cy="467.7" r="2.25"/>
<circle cx="1100.8" cy="431.2" r="2.25"/>
<circle cx="1098.7" cy="437" r="2.25"/>
<circle cx="1100.5" cy="416.8" r="2.25"/>
<circle cx="1097.4" cy="489.9" r="2.25"/>
<circle cx="1098.5" cy="412.8" r="2.25"/>
<circle cx="1102.6" cy="413.7" r="2.25"/>
<circle cx="1096" cy="422" r="2.25"/>
<circle cx="1102.1" cy="409.4" r="2.25"/>
<circle cx="1104.2" cy="479.9" r="2.25"/>
<circle cx="1101.6" cy="430.1" r="2.25"/>
<circle cx="1098" cy="454.4" r="2.25"/>
<circle cx="1101.6" cy="466.9" r="2.25"/>
<circle cx="1099.7" cy="474.1" r="2.25"/>
<circle cx="1096.4" cy="472.3" r="2.25"/>
<circle cx="1098.1" cy="408" r="2.25"/>
<circle cx="1099.6" cy="439.3" r="2.25"/>
<circle cx="1101.9" cy="475.7" r="2.25"/>
<circle cx="1101.8" cy="451" r="2.25"/>
<circle cx="1098.2" cy="431.2" r="2.25"/>
<circle cx="1099" cy="446.1" r="2.25"/>
<circle cx="1099.6" cy="490.2" r="2.25"/>
<circle cx="1144.1" cy="460.6" r="2.25"/>
<circle cx="1144.7" cy="458.8" r="2.25"/>
<circle cx="1146" cy="487.3" r="2.25"/>
<circle cx="1142.8" cy="509.8" r="2.25"/>
<circle cx="1147.4" cy="509.2" r="2.25"/>
<circle cx="1136" cy="502.5" r="2.25"/>
<circle cx="1146.4" cy="509.7" r="2.25"/>
<circle cx="1154.7" cy="501.5" r="2.25"/>
<circle cx="1154.1" cy="500.1" r="2.25"/>
<circle cx="1132.4" cy="497.6" r="2.25"/>
<circle cx="1140.7" cy="506" r="2.25"/>
<circle cx="1138.2" cy="507.7" r="2.25"/>
<circle cx="746.4" cy="1061.3" r="2.25"/>
<circle cx="725.9" cy="1073.7" r="2.25"/>
<circle cx="734.5" cy="1068.8" r="2.25"/>
<circle cx="736.2" cy="1068.9" r="2.25"/>
<circle cx="752.7" cy="1062.9" r="2.25"/>
<circle cx="758.2" cy="1055.1" r="2.25"/>
<circle cx="741.1" cy="1103" r="2.25"/>
<circle cx="745.7" cy="1086.2" r="2.25"/>
<circle cx="742.5" cy="1093.5" r="2.25"/>
<circle cx="742.3" cy="1099.6" r="2.25"/>
<circle cx="740.5" cy="1109.1" r="2.25"/>
<circle cx="786.2" cy="1054.5" r="2.25"/>
<circle cx="790.4" cy="1043.5" r="2.25"/>
<circle cx="773.1" cy="1079.8" r="2.25"/>
<circle cx="774.8" cy="1067" r="2.25"/>
<circle cx="790.1" cy="1036.7" r="2.25"/>
<circle cx="777.1" cy="1038.9" r="2.25"/>
<circle cx="801.5" cy="1062.9" r="2.25"/>
<circle cx="802.4" cy="1054.1" r="2.25"/>
<circle cx="787.8" cy="1044" r="2.25"/>
<circle cx="797.4" cy="1038.2" r="2.25"/>
<circle cx="788.9" cy="1082.5" r="2.25"/>
<circle cx="791.9" cy="1084.8" r="2.25"/>
<circle cx="774" cy="1082.6" r="2.25"/>
<circle cx="796.8" cy="1056.9" r="2.25"/>
<circle cx="769.7" cy="1068.2" r="2.25"/>
<circle cx="784" cy="1077.4" r="2.25"/>
<circle cx="790.3" cy="1126.5" r="2.25"/>
<circle cx="782.1" cy="1117" r="2.25"/>
<circle cx="787.1" cy="1112.3" r="2.25"/>
<circle cx="781" cy="1107.7" r="2.25"/>
<circle cx="781.1" cy="1107.6" r="2.25"/>
<circle cx="782.1" cy="1105.9" r="2.25"/>
<circle cx="786.9" cy="1118.6" r="2.25"/>
<circle cx="785" cy="1100.1" r="2.25"/>
<circle cx="789.3" cy="1126.7" r="2.25"/>
<circle cx="789" cy="1101.2" r="2.25"/>
<circle cx="789" cy="1114.3" r="2.25"/>
<circle cx="783.3" cy="1107.5" r="2.25"/>
<circle cx="786.3" cy="1124.9" r="2.25"/>
<circle cx="783.7" cy="1127.7" r="2.25"/>
<circle cx="785.2" cy="1103.5" r="2.25"/>
<circle cx="788" cy="1124.6" r="2.25"/>
<circle cx="842" cy="1060.7" r="2.25"/>
<circle cx="845" cy="1064.7" r="2.25"/>
<circle cx="829.9" cy="1119.7" r="2.25"/>
<circle cx="830.5" cy="1123.8" r="2.25"/>
<circle cx="831.4" cy="1111.4" r="2.25"/>
<circle cx="870.2" cy="963.6" r="2.25"/>
<circle cx="877.3" cy="952.2" r="2.25"/>
<circle cx="872.5" cy="996.5" r="2.25"/>
<circle cx="871.4" cy="975.5" r="2.25"/>
<circle cx="868.5" cy="1046.7" r="2.25"/>
<circle cx="883.7" cy="1073.2" r="2.25"/>
<circle cx="861" cy="1068.1" r="2.25"/>
<circle cx="872.3" cy="1041.1" r="2.25"/>
<circle cx="871.1" cy="1047.7" r="2.25"/>
<circle cx="861.8" cy="1081.3" r="2.25"/>
<circle cx="872.6" cy="1087.6" r="2.25"/>
<circle cx="868" cy="1048" r="2.25"/>
<circle cx="877.7" cy="1073.1" r="2.25"/>
<circle cx="884.5" cy="1113.2" r="2.25"/>
<circle cx="866.8" cy="1110.2" r="2.25"/>
<circle cx="874" cy="1112.9" r="2.25"/>
<circle cx="881.5" cy="1104" r="2.25"/>
<circle cx="882.7" cy="1105.8" r="2.25"/>
<circle cx="873" cy="1114.9" r="2.25"/>
<circle cx="879.3" cy="1120.5" r="2.25"/>
<circle cx="879.6" cy="1114.1" r="2.25"/>
<circle cx="874.1" cy="1122.2" r="2.25"/>
<circle cx="867.2" cy="1112.2" r="2.25"/>
<circle cx="876.1" cy="1132.4" r="2.25"/>
<circle cx="876.9" cy="1116.4" r="2.25"/>
<circle cx="880.4" cy="1105.6" r="2.25"/>
<circle cx="877.3" cy="1132.3" r="2.25"/>
<circle cx="872.6" cy="1119.2" r="2.25"/>
<circle cx="913.4" cy="988.6" r="2.25"/>
<circle cx="927.2" cy="1005.8" r="2.25"/>
<circle cx="920.5" cy="1004.5" r="2.25"/>
<circle cx="913.9" cy="1009.5" r="2.25"/>
<circle cx="907.1" cy="1079.9" r="2.25"/>
<circle cx="934.9" cy="1066.9" r="2.25"/>
<circle cx="923.4" cy="1098.3" r="2.25"/>
<circle cx="922.1" cy="1053.2" r="2.25"/>
<circle cx="933.7" cy="1099.2" r="2.25"/>
<circle cx="936.8" cy="1076.7" r="2.25"/>
<circle cx="922.8" cy="1063.2" r="2.25"/>
<circle cx="932.2" cy="1097.3" r="2.25"/>
<circle cx="936.3" cy="1070.8" r="2.25"/>
<circle cx="926" cy="1108.3" r="2.25"/>
<circle cx="932.3" cy="1103.3" r="2.25"/>
<circle cx="909.5" cy="1105" r="2.25"/>
<circle cx="920" cy="1128" r="2.25"/>
<circle cx="927.2" cy="1133.9" r="2.25"/>
<circle cx="921.2" cy="1109.6" r="2.25"/>
<circle cx="923.8" cy="1125.6" r="2.25"/>
<circle cx="922" cy="1114.3" r="2.25"/>
<circle cx="929.9" cy="1107" r="2.25"/>
<circle cx="932" cy="1105.1" r="2.25"/>
<circle cx="919.3" cy="1120.7" r="2.25"/>
<circle cx="914.1" cy="1104.6" r="2.25"/>
<circle cx="927" cy="1130.2" r="2.25"/>
<circle cx="918.1" cy="1121" r="2.25"/>
<circle cx="930.2" cy="1120.6" r="2.25"/>
<circle cx="913.2" cy="1103.8" r="2.25"/>
<circle cx="920.1" cy="1111.1" r="2.25"/>
<circle cx="927.7" cy="1111.3" r="2.25"/>
<circle cx="929.8" cy="1115.9" r="2.25"/>
<circle cx="912.2" cy="1113" r="2.25"/>
<circle cx="920.2" cy="1126.5" r="2.25"/>
<circle cx="913.8" cy="1114.8" r="2.25"/>
<circle cx="921.6" cy="1134.8" r="2.25"/>
<circle cx="916.2" cy="1125.8" r="2.25"/>
<circle cx="919.1" cy="1135" r="2.25"/>
<circle cx="924.1" cy="1115.3" r="2.25"/>
<circle cx="916.8" cy="1107.1" r="2.25"/>
<circle cx="915.3" cy="1102.3" r="2.25"/>
<circle cx="923.4" cy="1132.5" r="2.25"/>
<circle cx="910.3" cy="1115.1" r="2.25"/>
<circle cx="915" cy="1122.1" r="2.25"/>
<circle cx="931" cy="1114.5" r="2.25"/>
<circle cx="927.6" cy="1109.2" r="2.25"/>
<circle cx="920.7" cy="1130.9" r="2.25"/>
<circle cx="914.1" cy="1128.3" r="2.25"/>
<circle cx="921.3" cy="1113.7" r="2.25"/>
<circle cx="965.4" cy="1115.1" r="2.25"/>
<circle cx="966" cy="1117.9" r="2.25"/>
<circle cx="967.9" cy="1106.2" r="2.25"/>
<circle cx="960.5" cy="1100.2" r="2.25"/>
<circle cx="962.1" cy="1107.3" r="2.25"/>
<circle cx="960.1" cy="1109.1" r="2.25"/>
<circle cx="1011.9" cy="1085.7" r="2.25"/>
<circle cx="1008.6" cy="1095.4" r="2.25"/>
<circle cx="1052.6" cy="1105.4" r="2.25"/>
<circle cx="1054.5" cy="1121.7" r="2.25"/>
<circle cx="1100.3" cy="979" r="2.25"/>
<circle cx="1100" cy="961.4" r="2.25"/>
<circle cx="1099.8" cy="961.8" r="2.25"/>
<circle cx="1100.2" cy="966.6" r="2.25"/>
<circle cx="1106" cy="1088.7" r="2.25"/>
<circle cx="1087.6" cy="1070.5" r="2.25"/>
<circle cx="1092.9" cy="1092.3" r="2.25"/>
<circle cx="1108.1" cy="1087.1" r="2.25"/>
<circle cx="1087.7" cy="1069.9" r="2.25"/>
<circle cx="1107.8" cy="1088.8" r="2.25"/>
<circle cx="1111.4" cy="1054.5" r="2.25"/>
<circle cx="1095.3" cy="1092.2" r="2.25"/>
<circle cx="1110.7" cy="1082.4" r="2.25"/>
<circle cx="1099.5" cy="1092.6" r="2.25"/>
<circle cx="1088.1" cy="1063.7" r="2.25"/>
<circle cx="1116.9" cy="1066.3" r="2.25"/>
<circle cx="1099.6" cy="1055.1" r="2.25"/>
<circle cx="1096.2" cy="1096.6" r="2.25"/>
<circle cx="1099.7" cy="1087.3" r="2.25"/>
<circle cx="1149.3" cy="1090.3" r="2.25"/>
<circle cx="1140.4" cy="1058.9" r="2.25"/>
<circle cx="1159.7" cy="1064.5" r="2.25"/>
<circle cx="1156.4" cy="1053.9" r="2.25"/>
<circle cx="1149.3" cy="1076.6" r="2.25"/>
<circle cx="1145.6" cy="1063.9" r="2.25"/>
<circle cx="1155" cy="1075.3" r="2.25"/>
<circle cx="1155.2" cy="1056.9" r="2.25"/>
<circle cx="1142.6" cy="1063" r="2.25"/>
<circle cx="1142.2" cy="1071.8" r="2.25"/>
<circle cx="1134.8" cy="1097.7" r="2.25"/>
<circle cx="1128.7" cy="1086.1" r="2.25"/>
<circle cx="1158.4" cy="1068.2" r="2.25"/>
<circle cx="1137.4" cy="1076.7" r="2.25"/>
<circle cx="1151.6" cy="1070.6" r="2.25"/>
<circle cx="1150.2" cy="1085.9" r="2.25"/>
<circle cx="1136.3" cy="1057.3" r="2.25"/>
<circle cx="1136.1" cy="1095.4" r="2.25"/>
<circle cx="1147.6" cy="1084.1" r="2.25"/>
<circle cx="1148.4" cy="1071.4" r="2.25"/>
<circle cx="1131.4" cy="1072" r="2.25"/>
<circle cx="1130.5" cy="1081.9" r="2.25"/>
<circle cx="1140.6" cy="1093.2" r="2.25"/>
<circle cx="1134.3" cy="1060.5" r="2.25"/>
<circle cx="1160.3" cy="1075.5" r="2.25"/>
<circle cx="1159.8" cy="1093.7" r="2.25"/>
<circle cx="1135.9" cy="1051.2" r="2.25"/>
<circle cx="1148.8" cy="1093.7" r="2.25"/>
<circle cx="1139.6" cy="1103.3" r="2.25"/>
<circle cx="1136.1" cy="1131.6" r="2.25"/>
<circle cx="1143.2" cy="1097.9" r="2.25"/>
<circle cx="1150.4" cy="1143.7" r="2.25"/>
<circle cx="1142.3" cy="1135.1" r="2.25"/>
<circle cx="1157.6" cy="1111.9" r="2.25"/>
<circle cx="1153.2" cy="1137.4" r="2.25"/>
<circle cx="1159.2" cy="1106.8" r="2.25"/>
<circle cx="1153.6" cy="1127.9" r="2.25"/>
<circle cx="1148" cy="1145.5" r="2.25"/>
<circle cx="1142.5" cy="1134.5" r="2.25"/>
<circle cx="1141.8" cy="1152.9" r="2.25"/>
<circle cx="1151.4" cy="1150.2" r="2.25"/>
<circle cx="1152.1" cy="1151.2" r="2.25"/>
<circle cx="1133" cy="1114.7" r="2.25"/>
<circle cx="1144.1" cy="1111.5" r="2.25"/>
<circle cx="1133.7" cy="1105" r="2.25"/>
<circle cx="1154.1" cy="1101.7" r="2.25"/>
<circle cx="1154.7" cy="1097.8" r="2.25"/>
<circle cx="1140.5" cy="1137.3" r="2.25"/>
<circle cx="1130.6" cy="1100.3" r="2.25"/>
<circle cx="1156.7" cy="1109.4" r="2.25"/>
<circle cx="1131.8" cy="1098" r="2.25"/>
<circle cx="1149.8" cy="1104.5" r="2.25"/>
<circle cx="1144.2" cy="1110" r="2.25"/>
<circle cx="1147.4" cy="1139.9" r="2.25"/>
<circle cx="1147.1" cy="1128.5" r="2.25"/>
<circle cx="1145.3" cy="1113.1" r="2.25"/>
<circle cx="1148.1" cy="1151.6" r="2.25"/>
<circle cx="1143.9" cy="1132.7" r="2.25"/>
</g>
<g fill="#FD8D3C" fill-opacity=".85" stroke="#FD8D3C" stroke-opacity=".9" stroke-width="1.2">
<circle cx="155.7" cy="163.4" r="2.2"/>
<circle cx="161.8" cy="182.6" r="2.2"/>
<circle cx="160.8" cy="214.7" r="2.2"/>
<circle cx="203.6" cy="236.3" r="2.2"/>
<circle cx="208.7" cy="235.5" r="2.2"/>
<circle cx="205.5" cy="261.1" r="2.2"/>
<circle cx="210.3" cy="215.9" r="2.2"/>
<circle cx="209.1" cy="261.2" r="2.2"/>
<circle cx="206.7" cy="323.2" r="2.2"/>
<circle cx="203" cy="300" r="2.2"/>
<circle cx="207.6" cy="310.2" r="2.2"/>
<circle cx="206.5" cy="313.3" r="2.2"/>
<circle cx="212.6" cy="304" r="2.2"/>
<circle cx="209.8" cy="307.4" r="2.2"/>
<circle cx="203.1" cy="305.8" r="2.2"/>
<circle cx="206.3" cy="314.9" r="2.2"/>
<circle cx="206.6" cy="308.2" r="2.2"/>
<circle cx="251.1" cy="246.9" r="2.2"/>
<circle cx="250.9" cy="301.1" r="2.2"/>
<circle cx="252.3" cy="227.6" r="2.2"/>
<circle cx="254.1" cy="263.1" r="2.2"/>
<circle cx="258" cy="282.7" r="2.2"/>
<circle cx="251.1" cy="307.3" r="2.2"/>
<circle cx="251.9" cy="303.2" r="2.2"/>
<circle cx="251" cy="305.4" r="2.2"/>
<circle cx="251.9" cy="318.8" r="2.2"/>
<circle cx="252.3" cy="335.1" r="2.2"/>
<circle cx="296.5" cy="243.5" r="2.2"/>
<circle cx="300.7" cy="211.6" r="2.2"/>
<circle cx="291.3" cy="248.8" r="2.2"/>
<circle cx="291.7" cy="231.3" r="2.2"/>
<circle cx="290.2" cy="217.1" r="2.2"/>
<circle cx="305.5" cy="258.5" r="2.2"/>
<circle cx="291.4" cy="311.6" r="2.2"/>
<circle cx="294.9" cy="323.3" r="2.2"/>
<circle cx="305.5" cy="302.9" r="2.2"/>
<circle cx="302.4" cy="319.6" r="2.2"/>
<circle cx="291.5" cy="301.6" r="2.2"/>
<circle cx="286" cy="298.3" r="2.2"/>
<circle cx="296.2" cy="277" r="2.2"/>
<circle cx="293.8" cy="306.5" r="2.2"/>
<circle cx="282.7" cy="285.8" r="2.2"/>
<circle cx="296.8" cy="282.8" r="2.2"/>
<circle cx="294.8" cy="320.1" r="2.2"/>
<circle cx="299" cy="329.6" r="2.2"/>
<circle cx="296.4" cy="351.2" r="2.2"/>
<circle cx="330.9" cy="251" r="2.2"/>
<circle cx="349.9" cy="230.3" r="2.2"/>
<circle cx="328.6" cy="210.3" r="2.2"/>
<circle cx="346.2" cy="249.7" r="2.2"/>
<circle cx="340.3" cy="244.1" r="2.2"/>
<circle cx="353.1" cy="215.7" r="2.2"/>
<circle cx="353.8" cy="223.6" r="2.2"/>
<circle cx="349.7" cy="312.5" r="2.2"/>
<circle cx="358.5" cy="266.6" r="2.2"/>
<circle cx="342.2" cy="334.7" r="2.2"/>
<circle cx="327.8" cy="280.4" r="2.2"/>
<circle cx="339.3" cy="288.3" r="2.2"/>
<circle cx="342.4" cy="316.5" r="2.2"/>
<circle cx="341.4" cy="329.7" r="2.2"/>
<circle cx="355.7" cy="267.3" r="2.2"/>
<circle cx="348.5" cy="321.2" r="2.2"/>
<circle cx="334.1" cy="326.9" r="2.2"/>
<circle cx="359.1" cy="284.4" r="2.2"/>
<circle cx="342.1" cy="324.7" r="2.2"/>
<circle cx="334.8" cy="260.2" r="2.2"/>
<circle cx="352.2" cy="291.1" r="2.2"/>
<circle cx="338" cy="284.9" r="2.2"/>
<circle cx="335.8" cy="316" r="2.2"/>
<circle cx="329.8" cy="275.3" r="2.2"/>
<circle cx="328.5" cy="275.2" r="2.2"/>
<circle cx="339.7" cy="272.3" r="2.2"/>
<circle cx="354.9" cy="270.9" r="2.2"/>
<circle cx="347.6" cy="326.9" r="2.2"/>
<circle cx="335" cy="269.2" r="2.2"/>
<circle cx="338.8" cy="308.8" r="2.2"/>
<circle cx="347.3" cy="317.6" r="2.2"/>
<circle cx="339.6" cy="363.4" r="2.2"/>
<circle cx="340.5" cy="369.6" r="2.2"/>
<circle cx="341.3" cy="375.1" r="2.2"/>
<circle cx="342" cy="371.8" r="2.2"/>
<circle cx="395.1" cy="183.7" r="2.2"/>
<circle cx="389" cy="217.3" r="2.2"/>
<circle cx="384.6" cy="224.5" r="2.2"/>
<circle cx="385" cy="240" r="2.2"/>
<circle cx="386.7" cy="271.8" r="2.2"/>
<circle cx="387.1" cy="253.7" r="2.2"/>
<circle cx="385.5" cy="258" r="2.2"/>
<circle cx="386.5" cy="271.6" r="2.2"/>
<circle cx="386.5" cy="275.3" r="2.2"/>
<circle cx="385.2" cy="275.7" r="2.2"/>
<circle cx="385.3" cy="294.2" r="2.2"/>
<circle cx="385.1" cy="279.7" r="2.2"/>
<circle cx="387.5" cy="291.8" r="2.2"/>
<circle cx="387.3" cy="273.3" r="2.2"/>
<circle cx="431.8" cy="326.6" r="2.2"/>
<circle cx="476.3" cy="384.9" r="2.2"/>
<circle cx="478.3" cy="230.1" r="2.2"/>
<circle cx="522" cy="156.6" r="2.2"/>
<circle cx="520.1" cy="271.9" r="2.2"/>
<circle cx="522.3" cy="310.9" r="2.2"/>
<circle cx="570.9" cy="358.7" r="2.2"/>
<circle cx="567.1" cy="294.5" r="2.2"/>
<circle cx="566.3" cy="360.5" r="2.2"/>
<circle cx="564.9" cy="273.1" r="2.2"/>
<circle cx="569.7" cy="376.9" r="2.2"/>
<circle cx="567.9" cy="281.7" r="2.2"/>
<circle cx="569.5" cy="347.6" r="2.2"/>
<circle cx="566.1" cy="322.1" r="2.2"/>
<circle cx="565.5" cy="380.7" r="2.2"/>
<circle cx="565" cy="286" r="2.2"/>
<circle cx="564.8" cy="387.8" r="2.2"/>
<circle cx="569.9" cy="291.1" r="2.2"/>
<circle cx="567.5" cy="300.8" r="2.2"/>
<circle cx="561.3" cy="367.8" r="2.2"/>
<circle cx="571" cy="373.2" r="2.2"/>
<circle cx="571.3" cy="378.6" r="2.2"/>
<circle cx="566.3" cy="303.6" r="2.2"/>
<circle cx="570.9" cy="289.6" r="2.2"/>
<circle cx="563.9" cy="361.7" r="2.2"/>
<circle cx="563.1" cy="317.2" r="2.2"/>
<circle cx="554.1" cy="445.4" r="2.2"/>
<circle cx="554.4" cy="413.7" r="2.2"/>
<circle cx="566" cy="411.7" r="2.2"/>
<circle cx="555.5" cy="411.7" r="2.2"/>
<circle cx="579.4" cy="398.6" r="2.2"/>
<circle cx="565.4" cy="403.3" r="2.2"/>
<circle cx="560.3" cy="396.3" r="2.2"/>
<circle cx="577.6" cy="399.8" r="2.2"/>
<circle cx="576.1" cy="421.5" r="2.2"/>
<circle cx="560.1" cy="402.7" r="2.2"/>
<circle cx="576.2" cy="405.8" r="2.2"/>
<circle cx="555.1" cy="435.5" r="2.2"/>
<circle cx="558.1" cy="402.4" r="2.2"/>
<circle cx="553.6" cy="394.4" r="2.2"/>
<circle cx="555.3" cy="449.5" r="2.2"/>
<circle cx="576.5" cy="445.9" r="2.2"/>
<circle cx="565.1" cy="434" r="2.2"/>
<circle cx="564.5" cy="392.5" r="2.2"/>
<circle cx="554.7" cy="393.3" r="2.2"/>
<circle cx="558.8" cy="411.9" r="2.2"/>
<circle cx="576" cy="446" r="2.2"/>
<circle cx="563" cy="424.3" r="2.2"/>
<circle cx="571.6" cy="442.7" r="2.2"/>
<circle cx="568.2" cy="419.6" r="2.2"/>
<circle cx="565.3" cy="393.4" r="2.2"/>
<circle cx="556" cy="414" r="2.2"/>
<circle cx="572.2" cy="391.6" r="2.2"/>
<circle cx="554.2" cy="410.8" r="2.2"/>
<circle cx="575.3" cy="416.1" r="2.2"/>
<circle cx="559.7" cy="408.9" r="2.2"/>
<circle cx="558.5" cy="435.5" r="2.2"/>
<circle cx="570.2" cy="437.7" r="2.2"/>
<circle cx="563.2" cy="445.6" r="2.2"/>
<circle cx="554.4" cy="411.2" r="2.2"/>
<circle cx="568.2" cy="403.9" r="2.2"/>
<circle cx="562.5" cy="435.5" r="2.2"/>
<circle cx="573.9" cy="406.2" r="2.2"/>
<circle cx="561.2" cy="448" r="2.2"/>
<circle cx="583.6" cy="409.4" r="2.2"/>
<circle cx="581.6" cy="403" r="2.2"/>
<circle cx="580.3" cy="402.4" r="2.2"/>
<circle cx="567.2" cy="436.7" r="2.2"/>
<circle cx="576.4" cy="412.9" r="2.2"/>
<circle cx="556" cy="404.5" r="2.2"/>
<circle cx="581" cy="406.8" r="2.2"/>
<circle cx="577" cy="437.9" r="2.2"/>
<circle cx="562.7" cy="405.4" r="2.2"/>
<circle cx="566.1" cy="429.1" r="2.2"/>
<circle cx="579.4" cy="398.7" r="2.2"/>
<circle cx="552.4" cy="407.5" r="2.2"/>
<circle cx="568.3" cy="404.4" r="2.2"/>
<circle cx="577" cy="409.2" r="2.2"/>
<circle cx="564.8" cy="395.3" r="2.2"/>
<circle cx="559.1" cy="436.2" r="2.2"/>
<circle cx="563.9" cy="451.1" r="2.2"/>
<circle cx="565.3" cy="469.5" r="2.2"/>
<circle cx="566.6" cy="469.2" r="2.2"/>
<circle cx="573.1" cy="478.5" r="2.2"/>
<circle cx="561.5" cy="458.9" r="2.2"/>
<circle cx="577.1" cy="461.9" r="2.2"/>
<circle cx="567.8" cy="468.4" r="2.2"/>
<circle cx="575.3" cy="460.1" r="2.2"/>
<circle cx="563.3" cy="472.4" r="2.2"/>
<circle cx="570.7" cy="497.3" r="2.2"/>
<circle cx="559" cy="493.3" r="2.2"/>
<circle cx="561" cy="472.6" r="2.2"/>
<circle cx="564.9" cy="470.4" r="2.2"/>
<circle cx="745.3" cy="254.4" r="2.2"/>
<circle cx="739.9" cy="232.7" r="2.2"/>
<circle cx="734.9" cy="309.6" r="2.2"/>
<circle cx="744.4" cy="333.2" r="2.2"/>
<circle cx="739.8" cy="323.7" r="2.2"/>
<circle cx="739.2" cy="354.8" r="2.2"/>
<circle cx="738.3" cy="335.9" r="2.2"/>
<circle cx="740.2" cy="452.2" r="2.2"/>
<circle cx="742.3" cy="416.4" r="2.2"/>
<circle cx="742.7" cy="433.4" r="2.2"/>
<circle cx="740.1" cy="461.5" r="2.2"/>
<circle cx="743.1" cy="476.1" r="2.2"/>
<circle cx="741.2" cy="491.5" r="2.2"/>
<circle cx="739.9" cy="489.1" r="2.2"/>
<circle cx="743.6" cy="481.2" r="2.2"/>
<circle cx="741.8" cy="471.6" r="2.2"/>
<circle cx="742" cy="494.2" r="2.2"/>
<circle cx="789" cy="336.6" r="2.2"/>
<circle cx="793.9" cy="358.3" r="2.2"/>
<circle cx="797.9" cy="352.6" r="2.2"/>
<circle cx="788.5" cy="463.2" r="2.2"/>
<circle cx="791.6" cy="453.2" r="2.2"/>
<circle cx="791.8" cy="465" r="2.2"/>
<circle cx="790.8" cy="419.9" r="2.2"/>
<circle cx="794.2" cy="455.5" r="2.2"/>
<circle cx="777" cy="446.6" r="2.2"/>
<circle cx="778.4" cy="455.2" r="2.2"/>
<circle cx="791.3" cy="413.5" r="2.2"/>
<circle cx="782" cy="466.5" r="2.2"/>
<circle cx="784.5" cy="425.4" r="2.2"/>
<circle cx="781.7" cy="451.4" r="2.2"/>
<circle cx="794.6" cy="415.2" r="2.2"/>
<circle cx="797.7" cy="427.1" r="2.2"/>
<circle cx="793.1" cy="432.2" r="2.2"/>
<circle cx="783.1" cy="449.2" r="2.2"/>
<circle cx="779.4" cy="411" r="2.2"/>
<circle cx="790.3" cy="425.1" r="2.2"/>
<circle cx="795.2" cy="442" r="2.2"/>
<circle cx="777.2" cy="440.5" r="2.2"/>
<circle cx="781.9" cy="421.1" r="2.2"/>
<circle cx="791.8" cy="466" r="2.2"/>
<circle cx="780.2" cy="456.9" r="2.2"/>
<circle cx="795" cy="406.2" r="2.2"/>
<circle cx="795.6" cy="412" r="2.2"/>
<circle cx="789.5" cy="472.3" r="2.2"/>
<circle cx="789.9" cy="484.3" r="2.2"/>
<circle cx="785.9" cy="479.9" r="2.2"/>
<circle cx="784.9" cy="485.1" r="2.2"/>
<circle cx="787.5" cy="487.8" r="2.2"/>
<circle cx="788.3" cy="491.2" r="2.2"/>
<circle cx="787.8" cy="490.5" r="2.2"/>
<circle cx="777.9" cy="472.5" r="2.2"/>
<circle cx="790.9" cy="474.6" r="2.2"/>
<circle cx="788.9" cy="476.2" r="2.2"/>
<circle cx="788.1" cy="488.7" r="2.2"/>
<circle cx="788.3" cy="476.6" r="2.2"/>
<circle cx="783.1" cy="485.4" r="2.2"/>
<circle cx="786.7" cy="481.9" r="2.2"/>
<circle cx="831.8" cy="342.9" r="2.2"/>
<circle cx="830.1" cy="355.8" r="2.2"/>
<circle cx="831.6" cy="393.6" r="2.2"/>
<circle cx="827.6" cy="448.7" r="2.2"/>
<circle cx="828.3" cy="413.7" r="2.2"/>
<circle cx="831.4" cy="429.4" r="2.2"/>
<circle cx="833.1" cy="410.2" r="2.2"/>
<circle cx="829.9" cy="413.4" r="2.2"/>
<circle cx="820.7" cy="453.6" r="2.2"/>
<circle cx="831.2" cy="446.1" r="2.2"/>
<circle cx="821.8" cy="432.8" r="2.2"/>
<circle cx="837.5" cy="429.1" r="2.2"/>
<circle cx="825.6" cy="463.8" r="2.2"/>
<circle cx="834.9" cy="479.1" r="2.2"/>
<circle cx="833.9" cy="473.7" r="2.2"/>
<circle cx="831.7" cy="487.4" r="2.2"/>
<circle cx="831.8" cy="489.8" r="2.2"/>
<circle cx="829.6" cy="491.7" r="2.2"/>
<circle cx="826.5" cy="476.5" r="2.2"/>
<circle cx="832.6" cy="476.1" r="2.2"/>
<circle cx="869.1" cy="388.6" r="2.2"/>
<circle cx="871.7" cy="349.7" r="2.2"/>
<circle cx="880.5" cy="336" r="2.2"/>
<circle cx="863.4" cy="468.6" r="2.2"/>
<circle cx="880.3" cy="438" r="2.2"/>
<circle cx="879.8" cy="464.1" r="2.2"/>
<circle cx="874.5" cy="477" r="2.2"/>
<circle cx="864.7" cy="448.5" r="2.2"/>
<circle cx="865.2" cy="430.9" r="2.2"/>
<circle cx="868.7" cy="466.9" r="2.2"/>
<circle cx="865.1" cy="439.9" r="2.2"/>
<circle cx="868.3" cy="452.7" r="2.2"/>
<circle cx="885.6" cy="429.1" r="2.2"/>
<circle cx="879.3" cy="486.6" r="2.2"/>
<circle cx="876.8" cy="486.4" r="2.2"/>
<circle cx="881.5" cy="481.6" r="2.2"/>
<circle cx="875" cy="485.9" r="2.2"/>
<circle cx="877.4" cy="481.1" r="2.2"/>
<circle cx="913.6" cy="394.6" r="2.2"/>
<circle cx="924" cy="378.4" r="2.2"/>
<circle cx="920.6" cy="400.6" r="2.2"/>
<circle cx="911.7" cy="439.5" r="2.2"/>
<circle cx="917.8" cy="439.3" r="2.2"/>
<circle cx="909.7" cy="424.7" r="2.2"/>
<circle cx="913.5" cy="447.1" r="2.2"/>
<circle cx="917" cy="478.4" r="2.2"/>
<circle cx="912.7" cy="441.9" r="2.2"/>
<circle cx="913.1" cy="421.7" r="2.2"/>
<circle cx="923" cy="478.3" r="2.2"/>
<circle cx="928.8" cy="458.7" r="2.2"/>
<circle cx="927.2" cy="431.8" r="2.2"/>
<circle cx="912" cy="469.3" r="2.2"/>
<circle cx="934" cy="428.8" r="2.2"/>
<circle cx="914.3" cy="481.4" r="2.2"/>
<circle cx="920.1" cy="496.6" r="2.2"/>
<circle cx="920.8" cy="487.9" r="2.2"/>
<circle cx="922.2" cy="497" r="2.2"/>
<circle cx="918.8" cy="500.9" r="2.2"/>
<circle cx="922.6" cy="477.6" r="2.2"/>
<circle cx="970.4" cy="297.7" r="2.2"/>
<circle cx="974.5" cy="326.6" r="2.2"/>
<circle cx="963.5" cy="423.9" r="2.2"/>
<circle cx="961.3" cy="461.2" r="2.2"/>
<circle cx="968.7" cy="461" r="2.2"/>
<circle cx="965.6" cy="441.1" r="2.2"/>
<circle cx="966" cy="420.1" r="2.2"/>
<circle cx="964.4" cy="443.7" r="2.2"/>
<circle cx="965.9" cy="475.8" r="2.2"/>
<circle cx="964.2" cy="480.3" r="2.2"/>
<circle cx="965.1" cy="486.8" r="2.2"/>
<circle cx="968.2" cy="473.4" r="2.2"/>
<circle cx="964" cy="471.1" r="2.2"/>
<circle cx="964.5" cy="489.7" r="2.2"/>
<circle cx="963.7" cy="467.1" r="2.2"/>
<circle cx="965.1" cy="484.7" r="2.2"/>
<circle cx="965.9" cy="492.8" r="2.2"/>
<circle cx="1010.7" cy="421.8" r="2.2"/>
<circle cx="1009.5" cy="408.4" r="2.2"/>
<circle cx="1051.1" cy="340.1" r="2.2"/>
<circle cx="1054.5" cy="419.7" r="2.2"/>
<circle cx="1054" cy="415.3" r="2.2"/>
<circle cx="1055.2" cy="447.6" r="2.2"/>
<circle cx="1053.9" cy="475.9" r="2.2"/>
<circle cx="1054.2" cy="483.4" r="2.2"/>
<circle cx="1054" cy="480.9" r="2.2"/>
<circle cx="1097.7" cy="375" r="2.2"/>
<circle cx="1099.4" cy="373.9" r="2.2"/>
<circle cx="1101.6" cy="355.4" r="2.2"/>
<circle cx="1099.8" cy="432.9" r="2.2"/>
<circle cx="1102.9" cy="438.2" r="2.2"/>
<circle cx="1097.7" cy="474.5" r="2.2"/>
<circle cx="1100" cy="487" r="2.2"/>
<circle cx="1098.3" cy="427.3" r="2.2"/>
<circle cx="1099.3" cy="399.1" r="2.2"/>
<circle cx="1100.8" cy="464" r="2.2"/>
<circle cx="1102.2" cy="463.3" r="2.2"/>
<circle cx="1098.2" cy="441.5" r="2.2"/>
<circle cx="1099.7" cy="452.9" r="2.2"/>
<circle cx="1147.9" cy="488.7" r="2.2"/>
<circle cx="1140.6" cy="511" r="2.2"/>
<circle cx="1132.9" cy="502.7" r="2.2"/>
<circle cx="1148.7" cy="510.6" r="2.2"/>
<circle cx="1150.9" cy="499.3" r="2.2"/>
<circle cx="1134.9" cy="506.5" r="2.2"/>
<circle cx="745" cy="1063.6" r="2.2"/>
<circle cx="728.4" cy="1071" r="2.2"/>
<circle cx="733.7" cy="1066.1" r="2.2"/>
<circle cx="742.1" cy="1106.6" r="2.2"/>
<circle cx="743.5" cy="1086.6" r="2.2"/>
<circle cx="793" cy="1043.2" r="2.2"/>
<circle cx="774.9" cy="1081.5" r="2.2"/>
<circle cx="798.2" cy="1065.4" r="2.2"/>
<circle cx="791.3" cy="1081.8" r="2.2"/>
<circle cx="790.6" cy="1082.1" r="2.2"/>
<circle cx="797.9" cy="1054.3" r="2.2"/>
<circle cx="773.2" cy="1070" r="2.2"/>
<circle cx="789.2" cy="1123" r="2.2"/>
<circle cx="784.8" cy="1107.5" r="2.2"/>
<circle cx="783.4" cy="1120.7" r="2.2"/>
<circle cx="787.4" cy="1100.1" r="2.2"/>
<circle cx="786.5" cy="1101.3" r="2.2"/>
<circle cx="781.3" cy="1104.8" r="2.2"/>
<circle cx="782.3" cy="1130.2" r="2.2"/>
<circle cx="788" cy="1102" r="2.2"/>
<circle cx="829.9" cy="1123.7" r="2.2"/>
<circle cx="878.5" cy="955" r="2.2"/>
<circle cx="870.1" cy="994" r="2.2"/>
<circle cx="865.3" cy="1046.4" r="2.2"/>
<circle cx="869.2" cy="1038.9" r="2.2"/>
<circle cx="871" cy="1085.3" r="2.2"/>
<circle cx="870.1" cy="1050.2" r="2.2"/>
<circle cx="878.4" cy="1070.8" r="2.2"/>
<circle cx="874.5" cy="1112.1" r="2.2"/>
<circle cx="882" cy="1111.3" r="2.2"/>
<circle cx="877" cy="1119.7" r="2.2"/>
<circle cx="869.5" cy="1111.7" r="2.2"/>
<circle cx="879" cy="1115.2" r="2.2"/>
<circle cx="920" cy="1008.1" r="2.2"/>
<circle cx="934" cy="1069.3" r="2.2"/>
<circle cx="930.7" cy="1102.2" r="2.2"/>
<circle cx="919.2" cy="1061.3" r="2.2"/>
<circle cx="933.2" cy="1095.3" r="2.2"/>
<circle cx="934.1" cy="1073.3" r="2.2"/>
<circle cx="931.3" cy="1100.6" r="2.2"/>
<circle cx="926.7" cy="1106.2" r="2.2"/>
<circle cx="933.2" cy="1107.9" r="2.2"/>
<circle cx="922.4" cy="1122.7" r="2.2"/>
<circle cx="915.6" cy="1122.1" r="2.2"/>
<circle cx="916" cy="1103.5" r="2.2"/>
<circle cx="917.2" cy="1113.1" r="2.2"/>
<circle cx="930.5" cy="1113.4" r="2.2"/>
<circle cx="929.7" cy="1112.3" r="2.2"/>
<circle cx="918.9" cy="1123.4" r="2.2"/>
<circle cx="910" cy="1113.6" r="2.2"/>
<circle cx="922.2" cy="1138.2" r="2.2"/>
<circle cx="915.2" cy="1098.8" r="2.2"/>
<circle cx="925.4" cy="1133.5" r="2.2"/>
<circle cx="928.6" cy="1112.2" r="2.2"/>
<circle cx="927.6" cy="1112" r="2.2"/>
<circle cx="919.7" cy="1134.1" r="2.2"/>
<circle cx="917.4" cy="1115.2" r="2.2"/>
<circle cx="971" cy="1106.6" r="2.2"/>
<circle cx="961.1" cy="1102.3" r="2.2"/>
<circle cx="959.6" cy="1108.8" r="2.2"/>
<circle cx="1008.4" cy="1092.2" r="2.2"/>
<circle cx="1102.3" cy="1089.6" r="2.2"/>
<circle cx="1105.9" cy="1085.9" r="2.2"/>
<circle cx="1091.1" cy="1070.9" r="2.2"/>
<circle cx="1109.1" cy="1085.5" r="2.2"/>
<circle cx="1096.3" cy="1094.3" r="2.2"/>
<circle cx="1086.8" cy="1061.8" r="2.2"/>
<circle cx="1117.2" cy="1063.5" r="2.2"/>
<circle cx="1142.8" cy="1056" r="2.2"/>
<circle cx="1153.4" cy="1056.4" r="2.2"/>
<circle cx="1145.3" cy="1077.7" r="2.2"/>
<circle cx="1147.2" cy="1065.8" r="2.2"/>
<circle cx="1158.8" cy="1076.8" r="2.2"/>
<circle cx="1153.7" cy="1054.9" r="2.2"/>
<circle cx="1139.4" cy="1071.4" r="2.2"/>
<circle cx="1132.1" cy="1096.8" r="2.2"/>
<circle cx="1155.8" cy="1069.4" r="2.2"/>
<circle cx="1148.4" cy="1071.5" r="2.2"/>
<circle cx="1152.3" cy="1087.2" r="2.2"/>
<circle cx="1134.8" cy="1054.9" r="2.2"/>
<circle cx="1137.1" cy="1097.7" r="2.2"/>
<circle cx="1148.9" cy="1080.8" r="2.2"/>
<circle cx="1134.2" cy="1071.1" r="2.2"/>
<circle cx="1137.9" cy="1093" r="2.2"/>
<circle cx="1133.9" cy="1131.9" r="2.2"/>
<circle cx="1145.1" cy="1096.3" r="2.2"/>
<circle cx="1146.4" cy="1142.6" r="2.2"/>
<circle cx="1155.1" cy="1113.2" r="2.2"/>
<circle cx="1150.5" cy="1125.7" r="2.2"/>
<circle cx="1145.3" cy="1145.8" r="2.2"/>
<circle cx="1139.2" cy="1133.7" r="2.2"/>
<circle cx="1142.8" cy="1155.1" r="2.2"/>
<circle cx="1148.9" cy="1153.3" r="2.2"/>
<circle cx="1135.7" cy="1106.4" r="2.2"/>
<circle cx="1146.6" cy="1107.5" r="2.2"/>
<circle cx="1150.2" cy="1137.5" r="2.2"/>
<circle cx="1147.2" cy="1125.2" r="2.2"/>
<circle cx="1148.6" cy="1113.2" r="2.2"/>
<circle cx="1144.7" cy="1151.4" r="2.2"/>
</g>
<g fill="#668DC6" stroke="#668DC6" stroke-opacity=".4" stroke-width=".6">
<path d="M249.7 392L255.1 392L255.1 394.3L255.1 396.6L255.1 399L255.1 401.3Q255.1 404 252.4 404L252.4 404Q249.7 404 249.7 401.3L249.7 399L249.7 396.6L249.7 394.3L249.7 392Z"/>
<path d="M294.2 383L300.3 383L300.3 385L300.3 387.1L300.2 389.1L300.2 391.1L300.2 393.1L300.2 395.2L300.2 397.2L300.2 399.2L300.2 401.2Q300.2 404 297.4 404L297.1 404Q294.4 404 294.4 401.2L294.4 399.2L294.4 397.2L294.4 395.2L294.4 393.1L294.3 391.1L294.3 389.1L294.3 387.1L294.3 385L294.2 383Z"/>
<path d="M384.3 397L389.7 397L389.7 399.1L389.7 401.3Q389.7 404 387 404L387 404Q384.3 404 384.3 401.3L384.3 399.1L384.3 397Z"/>
<path d="M428.7 389L435.1 389L434.9 391.4L434.7 393.9L434.6 396.3Q434.6 399 431.9 399L431.9 399Q429.2 399 429.2 396.3L429 393.9L428.8 391.4L428.7 389Z"/>
<path d="M473.3 396L480.1 396L479.9 398.1L479.6 400.2L479.4 402.3Q479.4 405 476.7 405L476.7 405Q474 405 474 402.3L473.8 400.2L473.6 398.1L473.3 396Z"/>
<path d="M735.7 482L747.1 482L746.9 484L746.7 486.1L746.5 488.1L746.2 490.1L745.9 492.2L745.4 494.2L744.8 496.3L744.1 498.3Q744.1 501 741.4 501L741.4 501Q738.7 501 738.7 498.3L738 496.3L737.4 494.2L736.9 492.2L736.6 490.1L736.3 488.1L736.1 486.1L735.9 484L735.7 482Z"/>
<path d="M779.3 489L793.1 489L792.5 491.1L791.9 493.3L791.4 495.4L790.9 497.5L790.3 499.6L789.7 501.8L788.9 503.9Q788.9 506.6 786.2 506.6L786.2 506.6Q783.5 506.6 783.5 503.9L782.8 501.8L782.1 499.6L781.6 497.5L781.1 495.4L780.6 493.3L780 491.1L779.3 489Z"/>
<path d="M826.3 491L835.8 491L835.3 493.3L834.8 495.7L834.3 498L834 500.4L833.8 502.7Q833.8 505.4 831.1 505.4L831.1 505.4Q828.4 505.4 828.4 502.7L828.1 500.4L827.8 498L827.3 495.7L826.9 493.3L826.3 491Z"/>
<path d="M870.5 490L881.2 490L880.6 492.3L880 494.5L879.5 496.8L879 499L878.6 501.3Q878.6 504 875.9 504L875.9 504Q873.2 504 873.2 501.3L872.8 499L872.3 496.8L871.7 494.5L871.2 492.3L870.5 490Z"/>
<path d="M914.1 494L927.3 494L926.5 496.1L925.6 498.1L924.6 500.2L923.4 502.3Q923.4 505 920.7 505L920.7 505Q918 505 918 502.3L916.8 500.2L915.8 498.1L914.9 496.1L914.1 494Z"/>
<path d="M959.8 486L971.3 486L970.8 488L970.2 490.1L969.7 492.1L969.3 494.2L968.9 496.2L968.6 498.3L968.2 500.3Q968.2 503 965.5 503L965.5 503Q962.8 503 962.8 500.3L962.5 498.3L962.2 496.2L961.8 494.2L961.4 492.1L960.9 490.1L960.3 488L959.8 486Z"/>
<path d="M1007 485L1013.8 485L1013.7 487.1L1013.6 489.1L1013.5 491.1L1013.3 493.2L1013.2 495.2L1013.1 497.3Q1013.1 500 1010.4 500L1010.4 500Q1007.7 500 1007.7 497.3L1007.6 495.2L1007.4 493.2L1007.3 491.1L1007.2 489.1L1007.1 487.1L1007 485Z"/>
<path d="M1051.5 487L1058.9 487L1058.7 489.1L1058.6 491.1L1058.4 493.1L1058.2 495.2L1058.1 497.2L1057.9 499.3Q1057.9 502 1055.2 502L1055.2 502Q1052.5 502 1052.5 499.3L1052.3 497.2L1052.2 495.2L1052 493.1L1051.9 491.1L1051.7 489.1L1051.5 487Z"/>
<path d="M737.4 1118L745.4 1118L745.5 1120.1L745.6 1122.2L745.6 1124.2L745.7 1126.3L745.7 1128.4L745.8 1130.5L745.8 1132.5L745.8 1134.6L745.9 1136.7L745.9 1138.8L745.9 1140.8L745.9 1142.9L745.9 1145L745.8 1147.1L745.8 1149.1L745.7 1151.2L745.7 1153.3L745.6 1155.4L745.3 1157.4L744.7 1159.5L744.1 1161.6Q744.1 1164.3 741.4 1164.3L741.4 1164.3Q738.7 1164.3 738.7 1161.6L738.1 1159.5L737.5 1157.4L737.2 1155.4L737.1 1153.3L737.1 1151.2L737 1149.1L737 1147.1L736.9 1145L736.9 1142.9L736.9 1140.8L736.9 1138.8L736.9 1136.7L737 1134.6L737 1132.5L737 1130.5L737.1 1128.4L737.1 1126.3L737.2 1124.2L737.2 1122.2L737.3 1120.1L737.4 1118Z"/>
<path d="M779 1128L793.5 1128L793.5 1130.1L793.6 1132.2L793.7 1134.2L793.8 1136.3L793.8 1138.4L793.8 1140.5L793.8 1142.5L793.8 1144.6L793.7 1146.7L793.6 1148.8L793.5 1150.8L793.4 1152.9L793.2 1155L793 1157.1L792.4 1159.1L791.6 1161.2L788.9 1163.3Q788.9 1166 786.2 1166L786.2 1166Q783.5 1166 783.5 1163.3L780.9 1161.2L780 1159.1L779.5 1157.1L779.2 1155L779.1 1152.9L778.9 1150.8L778.8 1148.8L778.7 1146.7L778.7 1144.6L778.6 1142.5L778.6 1140.5L778.7 1138.4L778.7 1136.3L778.8 1134.2L778.8 1132.2L778.9 1130.1L779 1128Z"/>
<path d="M826.3 1135L835.8 1135L835.8 1137L835.9 1139L835.9 1141.1L835.9 1143.1L835.8 1145.1L835.8 1147.1L835.8 1149.2L835.8 1151.2L835.7 1153.2L835.7 1155.2L835.6 1157.2L835.4 1159.3L834.6 1161.3L833.8 1163.3Q833.8 1166 831.1 1166L831.1 1166Q828.4 1166 828.4 1163.3L827.5 1161.3L826.8 1159.3L826.5 1157.2L826.5 1155.2L826.4 1153.2L826.4 1151.2L826.3 1149.2L826.3 1147.1L826.3 1145.1L826.3 1143.1L826.3 1141.1L826.3 1139L826.3 1137L826.3 1135Z"/>
<path d="M870.5 1140L881.3 1140L881.1 1142L881 1144.1L880.8 1146.1L880.7 1148.1L880.6 1150.2L880.4 1152.2L880.1 1154.2L879.6 1156.2L879.1 1158.3L878.6 1160.3Q878.6 1163 875.9 1163L875.9 1163Q873.2 1163 873.2 1160.3L872.6 1158.3L872.1 1156.2L871.7 1154.2L871.4 1152.2L871.2 1150.2L871.1 1148.1L870.9 1146.1L870.8 1144.1L870.7 1142L870.5 1140Z"/>
<path d="M910.6 1135L930.9 1135L930.6 1137L930.2 1139L929.9 1141.1L929.6 1143.1L929.2 1145.1L928.8 1147.1L928.4 1149.2L928 1151.2L927.6 1153.2L927.3 1155.2L926.8 1157.3L926.1 1159.3L923.4 1161.3Q923.4 1164 920.7 1164L920.7 1164Q918 1164 918 1161.3L915.4 1159.3L914.6 1157.3L914.2 1155.2L913.8 1153.2L913.5 1151.2L913 1149.2L912.6 1147.1L912.3 1145.1L911.9 1143.1L911.5 1141.1L911.2 1139L910.9 1137L910.6 1135Z"/>
<path d="M960.2 1128L970.9 1128L970.9 1130L971 1132L971 1134L971 1136.1L971.1 1138.1L971.1 1140.1L971.2 1142.1L971.2 1144.1L971.3 1146.2L971.3 1148.2L971.3 1150.2L971.3 1152.2L971.3 1154.2L971.1 1156.2L970.8 1158.2L970.5 1160.3L969.6 1162.3L968.2 1164.3Q968.2 1167 965.5 1167L965.5 1167Q962.8 1167 962.8 1164.3L961.5 1162.3L960.6 1160.3L960.3 1158.2L960 1156.2L959.8 1154.2L959.8 1152.2L959.8 1150.2L959.8 1148.2L959.8 1146.2L959.9 1144.1L959.9 1142.1L960 1140.1L960 1138.1L960.1 1136.1L960.1 1134L960.1 1132L960.2 1130L960.2 1128Z"/>
<path d="M1006.8 1122L1014 1122L1014 1124.1L1014 1126.1L1014 1128.2L1014 1130.3L1014 1132.3L1014 1134.4L1014 1136.5L1014 1138.5L1014 1140.6L1014 1142.7L1014 1144.7L1014 1146.8L1014 1148.8L1014 1150.9L1014 1153L1014 1155L1013.9 1157.1L1013.7 1159.2L1013.4 1161.2L1013.1 1163.3Q1013.1 1166 1010.4 1166L1010.4 1166Q1007.7 1166 1007.7 1163.3L1007.4 1161.2L1007.1 1159.2L1006.9 1157.1L1006.8 1155L1006.8 1153L1006.8 1150.9L1006.8 1148.8L1006.8 1146.8L1006.8 1144.7L1006.8 1142.7L1006.8 1140.6L1006.8 1138.5L1006.8 1136.5L1006.8 1134.4L1006.8 1132.3L1006.8 1130.3L1006.8 1128.2L1006.8 1126.1L1006.8 1124.1L1006.8 1122Z"/>
<path d="M1051.6 1125L1058.9 1125L1058.9 1127.1L1058.9 1129.1L1059 1131.2L1059 1133.3L1059.1 1135.4L1059.1 1137.4L1059.1 1139.5L1059.1 1141.6L1059.1 1143.7L1059.1 1145.7L1059.1 1147.8L1059.1 1149.9L1059.1 1151.9L1059 1154L1059 1156.1L1058.7 1158.2L1058.3 1160.2L1057.9 1162.3Q1057.9 1165 1055.2 1165L1055.2 1165Q1052.5 1165 1052.5 1162.3L1052.1 1160.2L1051.7 1158.2L1051.5 1156.1L1051.4 1154L1051.4 1151.9L1051.3 1149.9L1051.3 1147.8L1051.3 1145.7L1051.3 1143.7L1051.3 1141.6L1051.3 1139.5L1051.3 1137.4L1051.4 1135.4L1051.4 1133.3L1051.4 1131.2L1051.5 1129.1L1051.5 1127.1L1051.6 1125Z"/>
<path d="M1097 1110L1103.1 1110L1103 1112L1102.8 1114L1102.8 1116.1L1102.7 1118.1L1102.7 1120.1L1102.7 1122.1L1102.7 1124.1L1102.7 1126.2L1102.7 1128.2L1102.7 1130.2L1102.7 1132.2L1102.7 1134.2L1102.7 1136.3L1102.7 1138.3L1102.7 1140.3L1102.7 1142.3L1102.7 1144.4L1102.7 1146.4L1102.7 1148.4L1102.7 1150.4L1102.7 1152.4L1102.7 1154.5L1102.6 1156.5L1102.5 1158.5Q1102.5 1161 1100 1161L1100 1161Q1097.5 1161 1097.5 1158.5L1097.5 1156.5L1097.4 1154.5L1097.4 1152.4L1097.3 1150.4L1097.3 1148.4L1097.3 1146.4L1097.3 1144.4L1097.3 1142.3L1097.3 1140.3L1097.3 1138.3L1097.3 1136.3L1097.3 1134.2L1097.3 1132.2L1097.3 1130.2L1097.3 1128.2L1097.3 1126.2L1097.3 1124.1L1097.3 1122.1L1097.3 1120.1L1097.3 1118.1L1097.3 1116.1L1097.2 1114L1097.1 1112L1097 1110Z"/>
<path d="M166 955.7L166 960.2L166 964.8L166 969.3L166 973.9L166 978.4L166 982.9L166 987.5L166.1 992L166.1 996.6L166.1 1001.1L166.1 1005.7L166.1 1010.2L166.1 1014.8L166.1 1019.3L166.1 1023.9L166.1 1028.4L166.2 1033L166.2 1037.5L166.2 1042.1L166.2 1046.6L166.2 1051.2L166.2 1055.7L166.2 1060.2L166.2 1064.8L166.2 1069.3L166.3 1073.9L166.3 1078.4L166.3 1083L166.3 1087.5L166.3 1092.1L166.3 1096.6L166.3 1101.2L166.3 1105.7L166.3 1110.3L166.4 1114.8L166.4 1119.4L166.4 1123.9L166.4 1128.5L166.4 1133L159 1133L159 1128.5L159 1123.9L159 1119.4L159 1114.8L159.1 1110.3L159.1 1105.7L159.1 1101.2L159.1 1096.6L159.1 1092.1L159.1 1087.5L159.1 1083L159.1 1078.4L159.1 1073.9L159.2 1069.3L159.2 1064.8L159.2 1060.2L159.2 1055.7L159.2 1051.2L159.2 1046.6L159.2 1042.1L159.2 1037.5L159.2 1033L159.3 1028.4L159.3 1023.9L159.3 1019.3L159.3 1014.8L159.3 1010.2L159.3 1005.7L159.3 1001.1L159.3 996.6L159.3 992L159.4 987.5L159.4 982.9L159.4 978.4L159.4 973.9L159.4 969.3L159.4 964.8L159.4 960.2L159.4 955.7Z"/>
<path d="M211 975.8L211 978.7L211 981.7L211 984.6L211 987.5L211 990.4L211 993.4L211.1 996.3L211.1 999.2L211.1 1002.1L211.1 1005.1L211.1 1008L211.1 1010.9L211.1 1013.8L211.1 1016.8L211.1 1019.7L211.1 1022.6L211.1 1025.5L211.1 1028.5L211.1 1031.4L211.1 1034.3L211.1 1037.2L211.2 1040.2L211.2 1043.1L211.2 1046L211.2 1048.9L211.2 1051.9L211.2 1054.8L211.2 1057.7L211.2 1060.6L211.2 1063.6L211.2 1066.5L211.2 1069.4L211.2 1072.3L211.2 1075.3L211.2 1078.2L211.2 1081.1L211.3 1084L211.3 1087L211.3 1089.9L203.9 1089.9L203.9 1087L203.9 1084L203.9 1081.1L203.9 1078.2L203.9 1075.3L203.9 1072.3L203.9 1069.4L203.9 1066.5L203.9 1063.6L203.9 1060.6L203.9 1057.7L203.9 1054.8L203.9 1051.9L203.9 1048.9L204 1046L204 1043.1L204 1040.2L204 1037.2L204 1034.3L204 1031.4L204 1028.5L204 1025.5L204 1022.6L204 1019.7L204 1016.8L204 1013.8L204 1010.9L204 1008L204 1005.1L204.1 1002.1L204.1 999.2L204.1 996.3L204.1 993.4L204.1 990.4L204.1 987.5L204.1 984.6L204.1 981.7L204.1 978.7L204.1 975.8Z"/>
<path d="M255.9 994L255.9 997L255.9 999.9L255.9 1002.8L255.9 1005.7L255.9 1008.6L255.9 1011.5L255.9 1014.5L255.9 1017.4L255.9 1020.3L255.9 1023.2L255.9 1026.1L255.9 1029L256 1032L256 1034.9L256 1037.8L256 1040.7L256 1043.6L256 1046.5L256 1049.5L256 1052.4L256 1055.3L256 1058.2L256 1061.1L256 1064L256 1067L256 1069.9L256 1072.8L256.1 1075.7L256.1 1078.6L256.1 1081.5L256.1 1084.5L256.1 1087.4L256.1 1090.3L256.1 1093.2L256.1 1096.1L256.1 1099L256.1 1102L256.1 1104.9L256.1 1107.8L248.7 1107.8L248.7 1104.9L248.7 1102L248.7 1099L248.7 1096.1L248.7 1093.2L248.8 1090.3L248.8 1087.4L248.8 1084.5L248.8 1081.5L248.8 1078.6L248.8 1075.7L248.8 1072.8L248.8 1069.9L248.8 1067L248.8 1064L248.8 1061.1L248.8 1058.2L248.8 1055.3L248.8 1052.4L248.8 1049.5L248.9 1046.5L248.9 1043.6L248.9 1040.7L248.9 1037.8L248.9 1034.9L248.9 1032L248.9 1029L248.9 1026.1L248.9 1023.2L248.9 1020.3L248.9 1017.4L248.9 1014.5L248.9 1011.5L248.9 1008.6L248.9 1005.7L249 1002.8L249 999.9L249 997L249 994Z"/>
<path d="M300.7 999.1L300.7 1001.7L300.7 1004.3L300.7 1006.9L300.8 1009.5L300.8 1012.1L300.8 1014.8L300.8 1017.4L300.8 1020L300.8 1022.6L300.8 1025.2L300.8 1027.8L300.8 1030.5L300.8 1033.1L300.8 1035.7L300.8 1038.3L300.8 1040.9L300.8 1043.5L300.8 1046.2L300.9 1048.8L300.9 1051.4L300.9 1054L300.9 1056.6L300.9 1059.2L300.9 1061.9L300.9 1064.5L300.9 1067.1L300.9 1069.7L300.9 1072.3L300.9 1074.9L300.9 1077.6L300.9 1080.2L300.9 1082.8L300.9 1085.4L301 1088L301 1090.6L301 1093.3L301 1095.9L301 1098.5L301 1101.1L293.6 1101.1L293.6 1098.5L293.6 1095.9L293.6 1093.3L293.6 1090.6L293.6 1088L293.6 1085.4L293.6 1082.8L293.6 1080.2L293.6 1077.6L293.6 1074.9L293.6 1072.3L293.7 1069.7L293.7 1067.1L293.7 1064.5L293.7 1061.9L293.7 1059.2L293.7 1056.6L293.7 1054L293.7 1051.4L293.7 1048.8L293.7 1046.2L293.7 1043.5L293.7 1040.9L293.7 1038.3L293.7 1035.7L293.7 1033.1L293.8 1030.5L293.8 1027.8L293.8 1025.2L293.8 1022.6L293.8 1020L293.8 1017.4L293.8 1014.8L293.8 1012.1L293.8 1009.5L293.8 1006.9L293.8 1004.3L293.8 1001.7L293.8 999.1Z"/>
<path d="M345.6 1000.3L345.6 1002.8L345.6 1005.4L345.6 1007.9L345.6 1010.4L345.6 1013L345.6 1015.5L345.6 1018L345.6 1020.5L345.6 1023.1L345.7 1025.6L345.7 1028.1L345.7 1030.6L345.7 1033.2L345.7 1035.7L345.7 1038.2L345.7 1040.8L345.7 1043.3L345.7 1045.8L345.7 1048.3L345.7 1050.9L345.7 1053.4L345.7 1055.9L345.7 1058.5L345.7 1061L345.8 1063.5L345.8 1066L345.8 1068.6L345.8 1071.1L345.8 1073.6L345.8 1076.1L345.8 1078.7L345.8 1081.2L345.8 1083.7L345.8 1086.3L345.8 1088.8L345.8 1091.3L345.8 1093.8L345.8 1096.4L345.8 1098.9L338.4 1098.9L338.4 1096.4L338.4 1093.8L338.5 1091.3L338.5 1088.8L338.5 1086.3L338.5 1083.7L338.5 1081.2L338.5 1078.7L338.5 1076.1L338.5 1073.6L338.5 1071.1L338.5 1068.6L338.5 1066L338.5 1063.5L338.5 1061L338.5 1058.5L338.5 1055.9L338.6 1053.4L338.6 1050.9L338.6 1048.3L338.6 1045.8L338.6 1043.3L338.6 1040.8L338.6 1038.2L338.6 1035.7L338.6 1033.2L338.6 1030.6L338.6 1028.1L338.6 1025.6L338.6 1023.1L338.6 1020.5L338.6 1018L338.7 1015.5L338.7 1013L338.7 1010.4L338.7 1007.9L338.7 1005.4L338.7 1002.8L338.7 1000.3Z"/>
<path d="M390.4 971.4L390.5 974.4L390.5 977.4L390.5 980.5L390.5 983.5L390.5 986.5L390.5 989.5L390.5 992.5L390.5 995.5L390.5 998.5L390.5 1001.5L390.5 1004.5L390.5 1007.5L390.5 1010.6L390.5 1013.6L390.5 1016.6L390.6 1019.6L390.6 1022.6L390.6 1025.6L390.6 1028.6L390.6 1031.6L390.6 1034.6L390.6 1037.6L390.6 1040.6L390.6 1043.7L390.6 1046.7L390.6 1049.7L390.6 1052.7L390.6 1055.7L390.6 1058.7L390.6 1061.7L390.7 1064.7L390.7 1067.7L390.7 1070.7L390.7 1073.8L390.7 1076.8L390.7 1079.8L390.7 1082.8L390.7 1085.8L390.7 1088.8L383.3 1088.8L383.3 1085.8L383.3 1082.8L383.3 1079.8L383.3 1076.8L383.3 1073.8L383.3 1070.7L383.3 1067.7L383.3 1064.7L383.4 1061.7L383.4 1058.7L383.4 1055.7L383.4 1052.7L383.4 1049.7L383.4 1046.7L383.4 1043.7L383.4 1040.6L383.4 1037.6L383.4 1034.6L383.4 1031.6L383.4 1028.6L383.4 1025.6L383.4 1022.6L383.4 1019.6L383.5 1016.6L383.5 1013.6L383.5 1010.6L383.5 1007.5L383.5 1004.5L383.5 1001.5L383.5 998.5L383.5 995.5L383.5 992.5L383.5 989.5L383.5 986.5L383.5 983.5L383.5 980.5L383.5 977.4L383.5 974.4L383.6 971.4Z"/>
<path d="M435.3 997.7L435.3 1000.5L435.3 1003.4L435.3 1006.2L435.3 1009L435.3 1011.8L435.3 1014.7L435.4 1017.5L435.4 1020.3L435.4 1023.1L435.4 1025.9L435.4 1028.8L435.4 1031.6L435.4 1034.4L435.4 1037.2L435.4 1040.1L435.4 1042.9L435.4 1045.7L435.4 1048.5L435.4 1051.4L435.4 1054.2L435.4 1057L435.5 1059.8L435.5 1062.6L435.5 1065.5L435.5 1068.3L435.5 1071.1L435.5 1073.9L435.5 1076.8L435.5 1079.6L435.5 1082.4L435.5 1085.2L435.5 1088L435.5 1090.9L435.5 1093.7L435.5 1096.5L435.5 1099.3L435.6 1102.2L435.6 1105L435.6 1107.8L428.2 1107.8L428.2 1105L428.2 1102.2L428.2 1099.3L428.2 1096.5L428.2 1093.7L428.2 1090.9L428.2 1088L428.2 1085.2L428.2 1082.4L428.2 1079.6L428.2 1076.8L428.2 1073.9L428.2 1071.1L428.2 1068.3L428.3 1065.5L428.3 1062.6L428.3 1059.8L428.3 1057L428.3 1054.2L428.3 1051.4L428.3 1048.5L428.3 1045.7L428.3 1042.9L428.3 1040.1L428.3 1037.2L428.3 1034.4L428.3 1031.6L428.3 1028.8L428.3 1025.9L428.4 1023.1L428.4 1020.3L428.4 1017.5L428.4 1014.7L428.4 1011.8L428.4 1009L428.4 1006.2L428.4 1003.4L428.4 1000.5L428.4 997.7Z"/>
<path d="M480.2 994.4L480.2 997L480.2 999.6L480.2 1002.2L480.2 1004.8L480.2 1007.5L480.2 1010.1L480.2 1012.7L480.2 1015.3L480.2 1017.9L480.2 1020.5L480.2 1023.2L480.2 1025.8L480.3 1028.4L480.3 1031L480.3 1033.6L480.3 1036.3L480.3 1038.9L480.3 1041.5L480.3 1044.1L480.3 1046.7L480.3 1049.4L480.3 1052L480.3 1054.6L480.3 1057.2L480.3 1059.8L480.3 1062.5L480.3 1065.1L480.4 1067.7L480.4 1070.3L480.4 1072.9L480.4 1075.5L480.4 1078.2L480.4 1080.8L480.4 1083.4L480.4 1086L480.4 1088.6L480.4 1091.3L480.4 1093.9L480.4 1096.5L473 1096.5L473 1093.9L473 1091.3L473 1088.6L473 1086L473 1083.4L473.1 1080.8L473.1 1078.2L473.1 1075.5L473.1 1072.9L473.1 1070.3L473.1 1067.7L473.1 1065.1L473.1 1062.5L473.1 1059.8L473.1 1057.2L473.1 1054.6L473.1 1052L473.1 1049.4L473.1 1046.7L473.1 1044.1L473.2 1041.5L473.2 1038.9L473.2 1036.3L473.2 1033.6L473.2 1031L473.2 1028.4L473.2 1025.8L473.2 1023.2L473.2 1020.5L473.2 1017.9L473.2 1015.3L473.2 1012.7L473.2 1010.1L473.2 1007.5L473.2 1004.8L473.3 1002.2L473.3 999.6L473.3 997L473.3 994.4Z"/>
<path d="M525 1033.7L525 1035.6L525 1037.4L525 1039.2L525 1041.1L525 1042.9L525 1044.8L525 1046.6L525.1 1048.4L525.1 1050.3L525.1 1052.1L525.1 1054L525.1 1055.8L525.1 1057.6L525.1 1059.5L525.1 1061.3L525.1 1063.2L525.1 1065L525.1 1066.8L525.1 1068.7L525.1 1070.5L525.1 1072.4L525.1 1074.2L525.1 1076L525.1 1077.9L525.1 1079.7L525.1 1081.6L525.1 1083.4L525.1 1085.3L525.1 1087.1L525.1 1088.9L525.1 1090.8L525.2 1092.6L525.2 1094.5L525.2 1096.3L525.2 1098.1L525.2 1100L525.2 1101.8L525.2 1103.7L525.2 1105.5L518 1105.5L518 1103.7L518 1101.8L518 1100L518 1098.1L518 1096.3L518 1094.5L518 1092.6L518 1090.8L518 1088.9L518 1087.1L518 1085.3L518 1083.4L518 1081.6L518 1079.7L518 1077.9L518 1076L518 1074.2L518.1 1072.4L518.1 1070.5L518.1 1068.7L518.1 1066.8L518.1 1065L518.1 1063.2L518.1 1061.3L518.1 1059.5L518.1 1057.6L518.1 1055.8L518.1 1054L518.1 1052.1L518.1 1050.3L518.1 1048.4L518.1 1046.6L518.1 1044.8L518.1 1042.9L518.1 1041.1L518.1 1039.2L518.1 1037.4L518.1 1035.6L518.1 1033.7Z"/>
<path d="M569.6 946.6L569.6 950.7L569.6 954.9L569.6 959L569.6 963.1L569.7 967.2L569.7 971.4L569.7 975.5L569.8 979.6L569.8 983.7L569.8 987.9L569.9 992L569.9 996.1L570 1000.2L570 1004.4L570.1 1008.5L570.1 1012.6L570.2 1016.7L570.2 1020.9L570.3 1025L570.3 1029.1L570.4 1033.2L570.5 1037.4L570.7 1041.5L570.8 1045.6L571 1049.7L571.2 1053.9L571.3 1058L571.5 1062.1L571.7 1066.2L572 1070.4L572.2 1074.5L572.4 1078.6L572.6 1082.7L572.9 1086.9L573.1 1091L573.4 1095.1L573.7 1099.2L574 1103.4L574.1 1107.5L558.7 1107.5L558.9 1103.4L559.2 1099.2L559.5 1095.1L559.7 1091L560 1086.9L560.3 1082.7L560.5 1078.6L560.7 1074.5L560.9 1070.4L561.1 1066.2L561.3 1062.1L561.5 1058L561.7 1053.9L561.9 1049.7L562.1 1045.6L562.2 1041.5L562.4 1037.4L562.5 1033.2L562.5 1029.1L562.6 1025L562.7 1020.9L562.7 1016.7L562.8 1012.6L562.8 1008.5L562.9 1004.4L562.9 1000.2L563 996.1L563 992L563 987.9L563.1 983.7L563.1 979.6L563.1 975.5L563.2 971.4L563.2 967.2L563.2 963.1L563.3 959L563.3 954.9L563.3 950.7L563.3 946.6Z"/>
</g>
<g fill="#668DC6" fill-opacity=".75" stroke="#668DC6" stroke-opacity=".9" stroke-width="1.2">
<circle cx="163.3" cy="287.5" r="2.2"/>
<circle cx="161.7" cy="298" r="2.2"/>
<circle cx="161.8" cy="275.7" r="2.2"/>
<circle cx="163.1" cy="247.4" r="2.2"/>
<circle cx="161.7" cy="287.1" r="2.2"/>
<circle cx="162.4" cy="227.8" r="2.2"/>
<circle cx="163.8" cy="288.4" r="2.2"/>
<circle cx="162" cy="318" r="2.2"/>
<circle cx="162.9" cy="349.5" r="2.2"/>
<circle cx="162.5" cy="300.4" r="2.2"/>
<circle cx="163" cy="363" r="2.2"/>
<circle cx="162.5" cy="340" r="2.2"/>
<circle cx="161.8" cy="364.7" r="2.2"/>
<circle cx="161.9" cy="321.3" r="2.2"/>
<circle cx="161.5" cy="305.4" r="2.2"/>
<circle cx="162.4" cy="310.3" r="2.2"/>
<circle cx="162.9" cy="389.2" r="2.2"/>
<circle cx="162.3" cy="325.7" r="2.2"/>
<circle cx="162.3" cy="310.4" r="2.2"/>
<circle cx="162.1" cy="384.5" r="2.2"/>
<circle cx="162.7" cy="397" r="2.2"/>
<circle cx="161.7" cy="355.4" r="2.2"/>
<circle cx="162.2" cy="375.5" r="2.2"/>
<circle cx="161.6" cy="336.3" r="2.2"/>
<circle cx="162.1" cy="337.2" r="2.2"/>
<circle cx="162.7" cy="376.5" r="2.2"/>
<circle cx="161.8" cy="317.3" r="2.2"/>
<circle cx="163.1" cy="392.3" r="2.2"/>
<circle cx="208.9" cy="323" r="2.2"/>
<circle cx="208.8" cy="339.4" r="2.2"/>
<circle cx="206.6" cy="337.5" r="2.2"/>
<circle cx="206.5" cy="323.2" r="2.2"/>
<circle cx="206.6" cy="343.7" r="2.2"/>
<circle cx="208.4" cy="341" r="2.2"/>
<circle cx="205.8" cy="331.5" r="2.2"/>
<circle cx="207.2" cy="331" r="2.2"/>
<circle cx="207.4" cy="338.8" r="2.2"/>
<circle cx="210.3" cy="324.9" r="2.2"/>
<circle cx="205.6" cy="324.8" r="2.2"/>
<circle cx="206.4" cy="318.2" r="2.2"/>
<circle cx="207.2" cy="383.2" r="2.2"/>
<circle cx="207.5" cy="361.7" r="2.2"/>
<circle cx="207.5" cy="366.8" r="2.2"/>
<circle cx="207.6" cy="356.5" r="2.2"/>
<circle cx="206.7" cy="360.1" r="2.2"/>
<circle cx="206.4" cy="347.4" r="2.2"/>
<circle cx="207.7" cy="358.3" r="2.2"/>
<circle cx="208" cy="386.8" r="2.2"/>
<circle cx="207.1" cy="384.5" r="2.2"/>
<circle cx="207.2" cy="352.6" r="2.2"/>
<circle cx="207.5" cy="383.8" r="2.2"/>
<circle cx="207.8" cy="390.5" r="2.2"/>
<circle cx="207.9" cy="375.5" r="2.2"/>
<circle cx="207.2" cy="387" r="2.2"/>
<circle cx="208" cy="360.1" r="2.2"/>
<circle cx="208.2" cy="387.2" r="2.2"/>
<circle cx="207.8" cy="380.2" r="2.2"/>
<circle cx="207.2" cy="383.5" r="2.2"/>
<circle cx="207.5" cy="371.5" r="2.2"/>
<circle cx="255.1" cy="242.4" r="2.2"/>
<circle cx="249.2" cy="226.9" r="2.2"/>
<circle cx="250.8" cy="258.8" r="2.2"/>
<circle cx="251.5" cy="246.7" r="2.2"/>
<circle cx="252.5" cy="244.9" r="2.2"/>
<circle cx="249.9" cy="313.5" r="2.2"/>
<circle cx="251.2" cy="311.3" r="2.2"/>
<circle cx="252.8" cy="350" r="2.2"/>
<circle cx="252.4" cy="392.8" r="2.2"/>
<circle cx="252.4" cy="381.1" r="2.2"/>
<circle cx="252.3" cy="372.3" r="2.2"/>
<circle cx="252.1" cy="347.9" r="2.2"/>
<circle cx="252.4" cy="376.6" r="2.2"/>
<circle cx="252.1" cy="351.9" r="2.2"/>
<circle cx="252.4" cy="375.8" r="2.2"/>
<circle cx="252.1" cy="330.8" r="2.2"/>
<circle cx="252.4" cy="399.2" r="2.2"/>
<circle cx="252.4" cy="396.6" r="2.2"/>
<circle cx="252.7" cy="345.9" r="2.2"/>
<circle cx="252.4" cy="398.5" r="2.2"/>
<circle cx="252.3" cy="340.5" r="2.2"/>
<circle cx="252.4" cy="400.1" r="2.2"/>
<circle cx="251.9" cy="342.2" r="2.2"/>
<circle cx="252.7" cy="355.3" r="2.2"/>
<circle cx="252.4" cy="399.4" r="2.2"/>
<circle cx="252.4" cy="391.1" r="2.2"/>
<circle cx="252.4" cy="384.9" r="2.2"/>
<circle cx="252.4" cy="385.6" r="2.2"/>
<circle cx="252.4" cy="392.7" r="2.2"/>
<circle cx="252.4" cy="383.8" r="2.2"/>
<circle cx="252.4" cy="378.5" r="2.2"/>
<circle cx="252.4" cy="391" r="2.2"/>
<circle cx="296.3" cy="329.7" r="2.2"/>
<circle cx="297.3" cy="369" r="2.2"/>
<circle cx="296.8" cy="363.2" r="2.2"/>
<circle cx="297.3" cy="346" r="2.2"/>
<circle cx="297.7" cy="347" r="2.2"/>
<circle cx="297.2" cy="361.2" r="2.2"/>
<circle cx="296.3" cy="348.9" r="2.2"/>
<circle cx="297.1" cy="383.8" r="2.2"/>
<circle cx="297.1" cy="386.4" r="2.2"/>
<circle cx="297.6" cy="382.1" r="2.2"/>
<circle cx="297.7" cy="376.2" r="2.2"/>
<circle cx="297.4" cy="400.6" r="2.2"/>
<circle cx="297.4" cy="395.2" r="2.2"/>
<circle cx="297.4" cy="381.2" r="2.2"/>
<circle cx="297.1" cy="376.7" r="2.2"/>
<circle cx="297" cy="380.2" r="2.2"/>
<circle cx="297.5" cy="375.4" r="2.2"/>
<circle cx="297.3" cy="387" r="2.2"/>
<circle cx="297.3" cy="401.7" r="2.2"/>
<circle cx="297.3" cy="394.5" r="2.2"/>
<circle cx="297.4" cy="388.7" r="2.2"/>
<circle cx="296.8" cy="370.1" r="2.2"/>
<circle cx="297.3" cy="389.7" r="2.2"/>
<circle cx="297.2" cy="398.7" r="2.2"/>
<circle cx="297.1" cy="390.9" r="2.2"/>
<circle cx="297" cy="381.4" r="2.2"/>
<circle cx="297.7" cy="374.3" r="2.2"/>
<circle cx="296.9" cy="371.4" r="2.2"/>
<circle cx="297.5" cy="379.2" r="2.2"/>
<circle cx="297.2" cy="381.5" r="2.2"/>
<circle cx="296.8" cy="373.2" r="2.2"/>
<circle cx="297.3" cy="379.3" r="2.2"/>
<circle cx="297.4" cy="374.6" r="2.2"/>
<circle cx="297.6" cy="376.1" r="2.2"/>
<circle cx="342" cy="379.8" r="2.2"/>
<circle cx="340.6" cy="379" r="2.2"/>
<circle cx="343.2" cy="388.5" r="2.2"/>
<circle cx="339" cy="364.8" r="2.2"/>
<circle cx="343.4" cy="366.1" r="2.2"/>
<circle cx="342.1" cy="390.6" r="2.2"/>
<circle cx="340.5" cy="363.3" r="2.2"/>
<circle cx="340.1" cy="357.4" r="2.2"/>
<circle cx="341.2" cy="380.7" r="2.2"/>
<circle cx="384.1" cy="218.7" r="2.2"/>
<circle cx="389.3" cy="254.5" r="2.2"/>
<circle cx="387.7" cy="261.5" r="2.2"/>
<circle cx="386.2" cy="265.9" r="2.2"/>
<circle cx="388.6" cy="255.8" r="2.2"/>
<circle cx="388.8" cy="248.8" r="2.2"/>
<circle cx="385.7" cy="255.1" r="2.2"/>
<circle cx="384.4" cy="256.4" r="2.2"/>
<circle cx="386.7" cy="344.2" r="2.2"/>
<circle cx="386.5" cy="325.7" r="2.2"/>
<circle cx="387.3" cy="354.7" r="2.2"/>
<circle cx="386.5" cy="344.9" r="2.2"/>
<circle cx="386.8" cy="355.1" r="2.2"/>
<circle cx="387" cy="384.8" r="2.2"/>
<circle cx="387.9" cy="330.8" r="2.2"/>
<circle cx="387" cy="397.3" r="2.2"/>
<circle cx="388.7" cy="291.9" r="2.2"/>
<circle cx="387" cy="373.6" r="2.2"/>
<circle cx="386.8" cy="349.4" r="2.2"/>
<circle cx="387" cy="388.3" r="2.2"/>
<circle cx="385.6" cy="270.2" r="2.2"/>
<circle cx="387" cy="384.5" r="2.2"/>
<circle cx="386.4" cy="331.4" r="2.2"/>
<circle cx="387.1" cy="369.1" r="2.2"/>
<circle cx="387" cy="386.8" r="2.2"/>
<circle cx="386.7" cy="347.8" r="2.2"/>
<circle cx="387.9" cy="293.9" r="2.2"/>
<circle cx="386.9" cy="344.5" r="2.2"/>
<circle cx="387.1" cy="378.1" r="2.2"/>
<circle cx="387" cy="383.6" r="2.2"/>
<circle cx="387" cy="385.9" r="2.2"/>
<circle cx="387" cy="383.8" r="2.2"/>
<circle cx="387" cy="396.9" r="2.2"/>
<circle cx="387" cy="398.2" r="2.2"/>
<circle cx="387" cy="384" r="2.2"/>
<circle cx="387" cy="389.4" r="2.2"/>
<circle cx="431" cy="204.2" r="2.2"/>
<circle cx="431.8" cy="259.5" r="2.2"/>
<circle cx="433.1" cy="245.7" r="2.2"/>
<circle cx="432.1" cy="315" r="2.2"/>
<circle cx="432.8" cy="262.7" r="2.2"/>
<circle cx="431.1" cy="304.6" r="2.2"/>
<circle cx="431.6" cy="371.8" r="2.2"/>
<circle cx="432.1" cy="380.5" r="2.2"/>
<circle cx="431.4" cy="315" r="2.2"/>
<circle cx="431.3" cy="385.2" r="2.2"/>
<circle cx="431.6" cy="366.7" r="2.2"/>
<circle cx="432.8" cy="240.3" r="2.2"/>
<circle cx="431.9" cy="335.5" r="2.2"/>
<circle cx="431.2" cy="331.5" r="2.2"/>
<circle cx="432.5" cy="372.2" r="2.2"/>
<circle cx="433" cy="242.4" r="2.2"/>
<circle cx="431.5" cy="376.9" r="2.2"/>
<circle cx="431.6" cy="370.6" r="2.2"/>
<circle cx="432.1" cy="298.3" r="2.2"/>
<circle cx="431.7" cy="321.6" r="2.2"/>
<circle cx="432.3" cy="290.4" r="2.2"/>
<circle cx="431.9" cy="317.7" r="2.2"/>
<circle cx="432.6" cy="279.3" r="2.2"/>
<circle cx="432.4" cy="255.1" r="2.2"/>
<circle cx="430.8" cy="247.1" r="2.2"/>
<circle cx="431.4" cy="318.6" r="2.2"/>
<circle cx="432.6" cy="381.3" r="2.2"/>
<circle cx="431.7" cy="387.4" r="2.2"/>
<circle cx="431.6" cy="378.8" r="2.2"/>
<circle cx="432.6" cy="382" r="2.2"/>
<circle cx="432.3" cy="387.9" r="2.2"/>
<circle cx="432.2" cy="388" r="2.2"/>
<circle cx="431.9" cy="375.9" r="2.2"/>
<circle cx="476.4" cy="394.5" r="2.2"/>
<circle cx="476.1" cy="318.9" r="2.2"/>
<circle cx="475.8" cy="322.4" r="2.2"/>
<circle cx="476.1" cy="252.7" r="2.2"/>
<circle cx="476" cy="279.9" r="2.2"/>
<circle cx="476.2" cy="311.1" r="2.2"/>
<circle cx="476.8" cy="268.3" r="2.2"/>
<circle cx="475.4" cy="331.3" r="2.2"/>
<circle cx="477.5" cy="281.1" r="2.2"/>
<circle cx="478" cy="241.6" r="2.2"/>
<circle cx="476.3" cy="240.7" r="2.2"/>
<circle cx="475.7" cy="357.2" r="2.2"/>
<circle cx="477" cy="396" r="2.2"/>
<circle cx="477.5" cy="377" r="2.2"/>
<circle cx="476.4" cy="335.1" r="2.2"/>
<circle cx="477.3" cy="309.2" r="2.2"/>
<circle cx="476.9" cy="297.6" r="2.2"/>
<circle cx="478.1" cy="245.2" r="2.2"/>
<circle cx="478.1" cy="323.2" r="2.2"/>
<circle cx="477.2" cy="319.5" r="2.2"/>
<circle cx="477" cy="291.9" r="2.2"/>
<circle cx="477" cy="394" r="2.2"/>
<circle cx="476.3" cy="247.1" r="2.2"/>
<circle cx="476.7" cy="372.9" r="2.2"/>
<circle cx="476.5" cy="383.6" r="2.2"/>
<circle cx="476.8" cy="280.2" r="2.2"/>
<circle cx="477.3" cy="283.1" r="2.2"/>
<circle cx="477.5" cy="386.9" r="2.2"/>
<circle cx="477.1" cy="391.4" r="2.2"/>
<circle cx="476.7" cy="385.1" r="2.2"/>
<circle cx="476.2" cy="390.9" r="2.2"/>
<circle cx="476.8" cy="392.3" r="2.2"/>
<circle cx="476.8" cy="398" r="2.2"/>
<circle cx="475.9" cy="388.6" r="2.2"/>
<circle cx="523.2" cy="166.1" r="2.2"/>
<circle cx="521.4" cy="220.9" r="2.2"/>
<circle cx="522.1" cy="226.4" r="2.2"/>
<circle cx="522.5" cy="223.4" r="2.2"/>
<circle cx="523.2" cy="218.5" r="2.2"/>
<circle cx="520.5" cy="247.6" r="2.2"/>
<circle cx="521.1" cy="336.3" r="2.2"/>
<circle cx="520.5" cy="300.6" r="2.2"/>
<circle cx="521" cy="355" r="2.2"/>
<circle cx="520" cy="360.9" r="2.2"/>
<circle cx="520.2" cy="379.4" r="2.2"/>
<circle cx="522.7" cy="379.6" r="2.2"/>
<circle cx="522.5" cy="310.5" r="2.2"/>
<circle cx="521.4" cy="292.5" r="2.2"/>
<circle cx="521.7" cy="333.4" r="2.2"/>
<circle cx="521.1" cy="304.4" r="2.2"/>
<circle cx="523" cy="285.3" r="2.2"/>
<circle cx="520.8" cy="269.4" r="2.2"/>
<circle cx="522.5" cy="278" r="2.2"/>
<circle cx="568.2" cy="338.4" r="2.2"/>
<circle cx="563.2" cy="323.8" r="2.2"/>
<circle cx="565.3" cy="326.2" r="2.2"/>
<circle cx="743.8" cy="381.7" r="2.2"/>
<circle cx="743.8" cy="380.2" r="2.2"/>
<circle cx="740.5" cy="403.1" r="2.2"/>
<circle cx="741.7" cy="424.5" r="2.2"/>
<circle cx="742.8" cy="416.4" r="2.2"/>
<circle cx="738" cy="452.7" r="2.2"/>
<circle cx="742.3" cy="424.9" r="2.2"/>
<circle cx="742.9" cy="454.4" r="2.2"/>
<circle cx="742.4" cy="403.4" r="2.2"/>
<circle cx="739.8" cy="450.2" r="2.2"/>
<circle cx="738.1" cy="475.3" r="2.2"/>
<circle cx="739.9" cy="485" r="2.2"/>
<circle cx="741.4" cy="496.6" r="2.2"/>
<circle cx="743.2" cy="473.6" r="2.2"/>
<circle cx="740.9" cy="496.3" r="2.2"/>
<circle cx="741.7" cy="493.7" r="2.2"/>
<circle cx="738.6" cy="463.4" r="2.2"/>
<circle cx="742.1" cy="494.8" r="2.2"/>
<circle cx="743.2" cy="469.6" r="2.2"/>
<circle cx="740.6" cy="490.7" r="2.2"/>
<circle cx="741.2" cy="483.2" r="2.2"/>
<circle cx="742.6" cy="474.6" r="2.2"/>
<circle cx="744.8" cy="466.6" r="2.2"/>
<circle cx="742.6" cy="492.8" r="2.2"/>
<circle cx="741.1" cy="464.6" r="2.2"/>
<circle cx="741.4" cy="480.9" r="2.2"/>
<circle cx="740.7" cy="467.7" r="2.2"/>
<circle cx="741.5" cy="475.3" r="2.2"/>
<circle cx="739.3" cy="487.7" r="2.2"/>
<circle cx="744.1" cy="483.4" r="2.2"/>
<circle cx="739.3" cy="467.7" r="2.2"/>
<circle cx="742.7" cy="486.2" r="2.2"/>
<circle cx="743.9" cy="469.8" r="2.2"/>
<circle cx="741.1" cy="467.7" r="2.2"/>
<circle cx="743.4" cy="474.3" r="2.2"/>
<circle cx="742.5" cy="480.7" r="2.2"/>
<circle cx="743.3" cy="483.1" r="2.2"/>
<circle cx="738.5" cy="474.5" r="2.2"/>
<circle cx="743.6" cy="478.4" r="2.2"/>
<circle cx="742.1" cy="473.4" r="2.2"/>
<circle cx="743.2" cy="481.4" r="2.2"/>
<circle cx="786.7" cy="494.6" r="2.2"/>
<circle cx="788" cy="497.3" r="2.2"/>
<circle cx="786.2" cy="503.5" r="2.2"/>
<circle cx="786" cy="494.1" r="2.2"/>
<circle cx="787.4" cy="494.6" r="2.2"/>
<circle cx="786.9" cy="494.5" r="2.2"/>
<circle cx="786.2" cy="503.7" r="2.2"/>
<circle cx="786.1" cy="497.4" r="2.2"/>
<circle cx="787.5" cy="497.6" r="2.2"/>
<circle cx="786.1" cy="496.7" r="2.2"/>
<circle cx="786.3" cy="500.2" r="2.2"/>
<circle cx="785.9" cy="494" r="2.2"/>
<circle cx="783.9" cy="494.6" r="2.2"/>
<circle cx="783" cy="490.4" r="2.2"/>
<circle cx="786.2" cy="503.6" r="2.2"/>
<circle cx="784.4" cy="497.3" r="2.2"/>
<circle cx="789" cy="491.7" r="2.2"/>
<circle cx="784.6" cy="497.2" r="2.2"/>
<circle cx="787.3" cy="498.9" r="2.2"/>
<circle cx="784" cy="496.1" r="2.2"/>
<circle cx="787" cy="498.5" r="2.2"/>
<circle cx="788.3" cy="493.1" r="2.2"/>
<circle cx="788.6" cy="489.2" r="2.2"/>
<circle cx="781.5" cy="483.5" r="2.2"/>
<circle cx="784.6" cy="488.2" r="2.2"/>
<circle cx="784.8" cy="485" r="2.2"/>
<circle cx="791.7" cy="483.6" r="2.2"/>
<circle cx="786.7" cy="477.6" r="2.2"/>
<circle cx="786.6" cy="485.4" r="2.2"/>
<circle cx="832" cy="398.2" r="2.2"/>
<circle cx="829.6" cy="386.2" r="2.2"/>
<circle cx="833.3" cy="409.7" r="2.2"/>
<circle cx="828.8" cy="412.2" r="2.2"/>
<circle cx="827.9" cy="408.3" r="2.2"/>
<circle cx="834.2" cy="407.7" r="2.2"/>
<circle cx="833.3" cy="489.2" r="2.2"/>
<circle cx="829.4" cy="492.1" r="2.2"/>
<circle cx="831" cy="501.7" r="2.2"/>
<circle cx="830.8" cy="489.3" r="2.2"/>
<circle cx="831" cy="498.7" r="2.2"/>
<circle cx="832.2" cy="487.3" r="2.2"/>
<circle cx="831.4" cy="494.5" r="2.2"/>
<circle cx="832.1" cy="492.2" r="2.2"/>
<circle cx="831.1" cy="501.1" r="2.2"/>
<circle cx="830.9" cy="493.2" r="2.2"/>
<circle cx="832.4" cy="493.3" r="2.2"/>
<circle cx="830.6" cy="495.3" r="2.2"/>
<circle cx="829.6" cy="489.4" r="2.2"/>
<circle cx="832.5" cy="487.7" r="2.2"/>
<circle cx="824.5" cy="478.1" r="2.2"/>
<circle cx="833.4" cy="479.8" r="2.2"/>
<circle cx="827.3" cy="477.1" r="2.2"/>
<circle cx="833.4" cy="481.2" r="2.2"/>
<circle cx="829.6" cy="492.8" r="2.2"/>
<circle cx="836.6" cy="478.8" r="2.2"/>
<circle cx="829.9" cy="492.5" r="2.2"/>
<circle cx="876.1" cy="499.8" r="2.2"/>
<circle cx="876.2" cy="498.7" r="2.2"/>
<circle cx="875.1" cy="488" r="2.2"/>
<circle cx="873.5" cy="488.3" r="2.2"/>
<circle cx="877.1" cy="485.6" r="2.2"/>
<circle cx="875.5" cy="498.5" r="2.2"/>
<circle cx="878.1" cy="487.4" r="2.2"/>
<circle cx="876.3" cy="494.9" r="2.2"/>
<circle cx="875.9" cy="499.1" r="2.2"/>
<circle cx="875.3" cy="496.3" r="2.2"/>
<circle cx="875.8" cy="491.4" r="2.2"/>
<circle cx="876" cy="499.4" r="2.2"/>
<circle cx="875.7" cy="495.8" r="2.2"/>
<circle cx="873.3" cy="479.2" r="2.2"/>
<circle cx="878.5" cy="481.3" r="2.2"/>
<circle cx="876.5" cy="479" r="2.2"/>
<circle cx="877.4" cy="484" r="2.2"/>
<circle cx="882.2" cy="478.3" r="2.2"/>
<circle cx="876.1" cy="492" r="2.2"/>
<circle cx="874" cy="488.7" r="2.2"/>
<circle cx="920.4" cy="499.7" r="2.2"/>
<circle cx="917.9" cy="494.5" r="2.2"/>
<circle cx="918.8" cy="496.2" r="2.2"/>
<circle cx="920.8" cy="501.4" r="2.2"/>
<circle cx="920.7" cy="499.7" r="2.2"/>
<circle cx="920.9" cy="500.9" r="2.2"/>
<circle cx="921" cy="501.7" r="2.2"/>
<circle cx="920.7" cy="501.9" r="2.2"/>
<circle cx="919.9" cy="480.6" r="2.2"/>
<circle cx="924.2" cy="487.5" r="2.2"/>
<circle cx="919.2" cy="491.7" r="2.2"/>
<circle cx="918.5" cy="494.9" r="2.2"/>
<circle cx="927.5" cy="482.2" r="2.2"/>
<circle cx="913.9" cy="481.9" r="2.2"/>
<circle cx="918.2" cy="488" r="2.2"/>
<circle cx="966.3" cy="390.5" r="2.2"/>
<circle cx="969.5" cy="421" r="2.2"/>
<circle cx="962" cy="400.1" r="2.2"/>
<circle cx="968.9" cy="407.1" r="2.2"/>
<circle cx="962.7" cy="418.9" r="2.2"/>
<circle cx="962.9" cy="409.9" r="2.2"/>
<circle cx="962.1" cy="401.1" r="2.2"/>
<circle cx="967.6" cy="416.6" r="2.2"/>
<circle cx="965.5" cy="499" r="2.2"/>
<circle cx="965.3" cy="491.9" r="2.2"/>
<circle cx="965.2" cy="498" r="2.2"/>
<circle cx="963.2" cy="482.3" r="2.2"/>
<circle cx="967.1" cy="491.3" r="2.2"/>
<circle cx="963" cy="483.4" r="2.2"/>
<circle cx="965.7" cy="499" r="2.2"/>
<circle cx="967.9" cy="487.9" r="2.2"/>
<circle cx="966.4" cy="492.2" r="2.2"/>
<circle cx="965.5" cy="500.3" r="2.2"/>
<circle cx="965.6" cy="499.4" r="2.2"/>
<circle cx="965.4" cy="486.1" r="2.2"/>
<circle cx="963.9" cy="481.6" r="2.2"/>
<circle cx="966.5" cy="492" r="2.2"/>
<circle cx="964.8" cy="492.7" r="2.2"/>
<circle cx="963.9" cy="481.1" r="2.2"/>
<circle cx="966.1" cy="493.4" r="2.2"/>
<circle cx="966" cy="494.7" r="2.2"/>
<circle cx="963.7" cy="481.4" r="2.2"/>
<circle cx="964.9" cy="479" r="2.2"/>
<circle cx="969.9" cy="477" r="2.2"/>
<circle cx="962.2" cy="474.9" r="2.2"/>
<circle cx="969.5" cy="476.5" r="2.2"/>
<circle cx="964.5" cy="485.6" r="2.2"/>
<circle cx="968" cy="485.6" r="2.2"/>
<circle cx="962.8" cy="478.8" r="2.2"/>
<circle cx="1009.8" cy="371.1" r="2.2"/>
<circle cx="1011.7" cy="385.7" r="2.2"/>
<circle cx="1012.5" cy="357.1" r="2.2"/>
<circle cx="1009.2" cy="427.7" r="2.2"/>
<circle cx="1008.7" cy="405.6" r="2.2"/>
<circle cx="1010.4" cy="426" r="2.2"/>
<circle cx="1011.9" cy="422.3" r="2.2"/>
<circle cx="1009.9" cy="452.7" r="2.2"/>
<circle cx="1010.6" cy="436.9" r="2.2"/>
<circle cx="1012.2" cy="405.1" r="2.2"/>
<circle cx="1011" cy="406.9" r="2.2"/>
<circle cx="1010" cy="421.7" r="2.2"/>
<circle cx="1011.1" cy="439.7" r="2.2"/>
<circle cx="1008.5" cy="444" r="2.2"/>
<circle cx="1009.9" cy="483.3" r="2.2"/>
<circle cx="1010.5" cy="471.9" r="2.2"/>
<circle cx="1010.6" cy="478.4" r="2.2"/>
<circle cx="1010.8" cy="471.7" r="2.2"/>
<circle cx="1010.8" cy="481.5" r="2.2"/>
<circle cx="1010.7" cy="464" r="2.2"/>
<circle cx="1010.4" cy="491.5" r="2.2"/>
<circle cx="1011" cy="480.2" r="2.2"/>
<circle cx="1010.3" cy="494.1" r="2.2"/>
<circle cx="1009.4" cy="472.8" r="2.2"/>
<circle cx="1009.8" cy="483.7" r="2.2"/>
<circle cx="1010.6" cy="493.1" r="2.2"/>
<circle cx="1010.1" cy="487.8" r="2.2"/>
<circle cx="1011" cy="465.5" r="2.2"/>
<circle cx="1010.3" cy="489.9" r="2.2"/>
<circle cx="1010.9" cy="469.4" r="2.2"/>
<circle cx="1009.7" cy="473.6" r="2.2"/>
<circle cx="1010.5" cy="487.8" r="2.2"/>
<circle cx="1011" cy="467.5" r="2.2"/>
<circle cx="1010.1" cy="490.9" r="2.2"/>
<circle cx="1010.4" cy="484.2" r="2.2"/>
<circle cx="1009.9" cy="482" r="2.2"/>
<circle cx="1011.3" cy="460.1" r="2.2"/>
<circle cx="1010.5" cy="484.3" r="2.2"/>
<circle cx="1010.6" cy="480.6" r="2.2"/>
<circle cx="1011" cy="473" r="2.2"/>
<circle cx="1011.1" cy="475.7" r="2.2"/>
<circle cx="1010.6" cy="483.6" r="2.2"/>
<circle cx="1010.3" cy="484" r="2.2"/>
<circle cx="1011.1" cy="481.8" r="2.2"/>
<circle cx="1053.8" cy="364.3" r="2.2"/>
<circle cx="1057.9" cy="358.8" r="2.2"/>
<circle cx="1053.7" cy="428.6" r="2.2"/>
<circle cx="1055.6" cy="427.7" r="2.2"/>
<circle cx="1057" cy="433.4" r="2.2"/>
<circle cx="1055" cy="450.6" r="2.2"/>
<circle cx="1052.7" cy="439.5" r="2.2"/>
<circle cx="1055.7" cy="419.5" r="2.2"/>
<circle cx="1056" cy="407.7" r="2.2"/>
<circle cx="1054.1" cy="447.4" r="2.2"/>
<circle cx="1054.5" cy="443.4" r="2.2"/>
<circle cx="1055.2" cy="423.7" r="2.2"/>
<circle cx="1055.3" cy="407.3" r="2.2"/>
<circle cx="1054.5" cy="458" r="2.2"/>
<circle cx="1057.3" cy="413.7" r="2.2"/>
<circle cx="1056.9" cy="438.8" r="2.2"/>
<circle cx="1054" cy="445.3" r="2.2"/>
<circle cx="1053.7" cy="471" r="2.2"/>
<circle cx="1057.6" cy="462.5" r="2.2"/>
<circle cx="1056.1" cy="472.1" r="2.2"/>
<circle cx="1053.8" cy="475" r="2.2"/>
<circle cx="1053.2" cy="460.6" r="2.2"/>
<circle cx="1053" cy="463.3" r="2.2"/>
<circle cx="1056" cy="483.9" r="2.2"/>
<circle cx="1055.2" cy="471.1" r="2.2"/>
<circle cx="1056.9" cy="463.4" r="2.2"/>
<circle cx="1053.4" cy="469.2" r="2.2"/>
<circle cx="1055.8" cy="480.2" r="2.2"/>
<circle cx="1056.6" cy="476.5" r="2.2"/>
<circle cx="1055.3" cy="492.4" r="2.2"/>
<circle cx="1055" cy="494.5" r="2.2"/>
<circle cx="1054.5" cy="484.6" r="2.2"/>
<circle cx="1054.4" cy="487.5" r="2.2"/>
<circle cx="1055.2" cy="498.4" r="2.2"/>
<circle cx="1055.5" cy="476.1" r="2.2"/>
<circle cx="1055.3" cy="493.8" r="2.2"/>
<circle cx="1055.5" cy="475.5" r="2.2"/>
<circle cx="1054.6" cy="476.4" r="2.2"/>
<circle cx="1053.9" cy="474.6" r="2.2"/>
<circle cx="1054.6" cy="484.5" r="2.2"/>
<circle cx="1054.9" cy="486.6" r="2.2"/>
<circle cx="1054.8" cy="486.6" r="2.2"/>
<circle cx="1054.9" cy="477.3" r="2.2"/>
<circle cx="1100.5" cy="385" r="2.2"/>
<circle cx="1099.1" cy="394.2" r="2.2"/>
<circle cx="1103.5" cy="333.9" r="2.2"/>
<circle cx="1099.7" cy="326.1" r="2.2"/>
<circle cx="1098.3" cy="366.9" r="2.2"/>
<circle cx="1096.6" cy="409" r="2.2"/>
<circle cx="1099.2" cy="401.2" r="2.2"/>
<circle cx="1101.3" cy="494.7" r="2.2"/>
<circle cx="1101.4" cy="484.3" r="2.2"/>
<circle cx="1098.2" cy="495.3" r="2.2"/>
<circle cx="1098.1" cy="491.4" r="2.2"/>
<circle cx="1098.3" cy="401.8" r="2.2"/>
<circle cx="1098.7" cy="406.2" r="2.2"/>
<circle cx="1102.4" cy="411.7" r="2.2"/>
<circle cx="1103.3" cy="482.5" r="2.2"/>
<circle cx="1096.7" cy="429.4" r="2.2"/>
<circle cx="1096.9" cy="415.3" r="2.2"/>
<circle cx="1097.2" cy="484.5" r="2.2"/>
<circle cx="1102" cy="427.1" r="2.2"/>
<circle cx="1145.3" cy="444.5" r="2.2"/>
<circle cx="1145.1" cy="465.9" r="2.2"/>
<circle cx="742.1" cy="1103.2" r="2.2"/>
<circle cx="740.7" cy="1109" r="2.2"/>
<circle cx="739.3" cy="1096.3" r="2.2"/>
<circle cx="741.6" cy="1109.1" r="2.2"/>
<circle cx="740.9" cy="1112.2" r="2.2"/>
<circle cx="742.5" cy="1118.1" r="2.2"/>
<circle cx="742" cy="1108.5" r="2.2"/>
<circle cx="741.6" cy="1115.1" r="2.2"/>
<circle cx="742.4" cy="1108.1" r="2.2"/>
<circle cx="740.1" cy="1119.3" r="2.2"/>
<circle cx="741" cy="1109.3" r="2.2"/>
<circle cx="741.2" cy="1107.2" r="2.2"/>
<circle cx="740.2" cy="1118.4" r="2.2"/>
<circle cx="740.9" cy="1117.4" r="2.2"/>
<circle cx="742.4" cy="1104.2" r="2.2"/>
<circle cx="740.7" cy="1108.4" r="2.2"/>
<circle cx="741.1" cy="1105.9" r="2.2"/>
<circle cx="740.6" cy="1105.9" r="2.2"/>
<circle cx="741.6" cy="1108" r="2.2"/>
<circle cx="740.9" cy="1111.1" r="2.2"/>
<circle cx="784.5" cy="1126.1" r="2.2"/>
<circle cx="783.6" cy="1125.7" r="2.2"/>
<circle cx="787.1" cy="1122.9" r="2.2"/>
<circle cx="783.3" cy="1126.4" r="2.2"/>
<circle cx="789" cy="1119.5" r="2.2"/>
<circle cx="790.5" cy="1126.9" r="2.2"/>
<circle cx="783.7" cy="1115.9" r="2.2"/>
<circle cx="788.2" cy="1115.7" r="2.2"/>
<circle cx="787.5" cy="1125.9" r="2.2"/>
<circle cx="786.4" cy="1126.5" r="2.2"/>
<circle cx="789.9" cy="1123" r="2.2"/>
<circle cx="787.6" cy="1124.4" r="2.2"/>
<circle cx="786.2" cy="1123.4" r="2.2"/>
<circle cx="786.9" cy="1126.1" r="2.2"/>
<circle cx="785.6" cy="1116.1" r="2.2"/>
<circle cx="785.7" cy="1120.7" r="2.2"/>
<circle cx="829.8" cy="1124.2" r="2.2"/>
<circle cx="831.2" cy="1108.7" r="2.2"/>
<circle cx="831.8" cy="1112.6" r="2.2"/>
<circle cx="831.3" cy="1108.1" r="2.2"/>
<circle cx="830.2" cy="1117.4" r="2.2"/>
<circle cx="832.2" cy="1119.7" r="2.2"/>
<circle cx="831.3" cy="1105.2" r="2.2"/>
<circle cx="829.9" cy="1126.3" r="2.2"/>
<circle cx="832.5" cy="1128" r="2.2"/>
<circle cx="830.1" cy="1123.6" r="2.2"/>
<circle cx="830.2" cy="1123.1" r="2.2"/>
<circle cx="830.7" cy="1126.3" r="2.2"/>
<circle cx="830.7" cy="1133.2" r="2.2"/>
<circle cx="830.7" cy="1128.6" r="2.2"/>
<circle cx="832.6" cy="1133.4" r="2.2"/>
<circle cx="832.5" cy="1127.8" r="2.2"/>
<circle cx="832.6" cy="1125" r="2.2"/>
<circle cx="831.7" cy="1129.4" r="2.2"/>
<circle cx="830.3" cy="1127.1" r="2.2"/>
<circle cx="832.3" cy="1123.2" r="2.2"/>
<circle cx="831.7" cy="1126.8" r="2.2"/>
<circle cx="831.2" cy="1128.4" r="2.2"/>
<circle cx="830" cy="1124.3" r="2.2"/>
<circle cx="831.7" cy="1126.4" r="2.2"/>
<circle cx="877.5" cy="1136.8" r="2.2"/>
<circle cx="876.4" cy="1131.5" r="2.2"/>
<circle cx="878.8" cy="1131.8" r="2.2"/>
<circle cx="874.7" cy="1132.5" r="2.2"/>
<circle cx="873.2" cy="1131.2" r="2.2"/>
<circle cx="873.2" cy="1130.8" r="2.2"/>
<circle cx="877.4" cy="1136" r="2.2"/>
<circle cx="876.9" cy="1138.5" r="2.2"/>
<circle cx="877.7" cy="1130.9" r="2.2"/>
<circle cx="877.9" cy="1133.8" r="2.2"/>
<circle cx="878.8" cy="1131.8" r="2.2"/>
<circle cx="875.6" cy="1137" r="2.2"/>
<circle cx="877.9" cy="1135" r="2.2"/>
<circle cx="879" cy="1134.5" r="2.2"/>
<circle cx="879.9" cy="1126.1" r="2.2"/>
<circle cx="875.8" cy="1137.4" r="2.2"/>
<circle cx="874" cy="1139.6" r="2.2"/>
<circle cx="877.5" cy="1131.4" r="2.2"/>
<circle cx="875.2" cy="1139.2" r="2.2"/>
<circle cx="876.6" cy="1141.9" r="2.2"/>
<circle cx="872.2" cy="1126.7" r="2.2"/>
<circle cx="876.6" cy="1127.2" r="2.2"/>
<circle cx="874" cy="1131.2" r="2.2"/>
<circle cx="926.8" cy="1135.7" r="2.2"/>
<circle cx="923.8" cy="1132.8" r="2.2"/>
<circle cx="912" cy="1123.3" r="2.2"/>
<circle cx="923.3" cy="1134.3" r="2.2"/>
<circle cx="917.7" cy="1131.1" r="2.2"/>
<circle cx="928.3" cy="1125.3" r="2.2"/>
<circle cx="912.8" cy="1129.5" r="2.2"/>
<circle cx="918.1" cy="1126.4" r="2.2"/>
<circle cx="929.9" cy="1122.1" r="2.2"/>
<circle cx="925.3" cy="1135.4" r="2.2"/>
<circle cx="919.1" cy="1121.1" r="2.2"/>
<circle cx="925" cy="1122.8" r="2.2"/>
<circle cx="925.1" cy="1134" r="2.2"/>
<circle cx="914.9" cy="1133.7" r="2.2"/>
<circle cx="912.8" cy="1121.2" r="2.2"/>
<circle cx="925.7" cy="1134.5" r="2.2"/>
<circle cx="963.9" cy="1126.1" r="2.2"/>
<circle cx="962.7" cy="1114.3" r="2.2"/>
<circle cx="963.7" cy="1122.2" r="2.2"/>
<circle cx="965.5" cy="1125.8" r="2.2"/>
<circle cx="963.8" cy="1114" r="2.2"/>
<circle cx="965.3" cy="1128.4" r="2.2"/>
<circle cx="967.2" cy="1117.3" r="2.2"/>
<circle cx="963.6" cy="1128.3" r="2.2"/>
<circle cx="965.9" cy="1122" r="2.2"/>
<circle cx="964.5" cy="1115.9" r="2.2"/>
<circle cx="966.4" cy="1123.9" r="2.2"/>
<circle cx="966.1" cy="1124.1" r="2.2"/>
<circle cx="963.4" cy="1120" r="2.2"/>
<circle cx="967.8" cy="1114.3" r="2.2"/>
<circle cx="967.6" cy="1127.8" r="2.2"/>
<circle cx="967.2" cy="1115.2" r="2.2"/>
<circle cx="964.7" cy="1116.7" r="2.2"/>
<circle cx="967.4" cy="1117.2" r="2.2"/>
<circle cx="967.2" cy="1127.1" r="2.2"/>
<circle cx="1006.5" cy="1098.2" r="2.2"/>
<circle cx="1009.7" cy="1104.7" r="2.2"/>
<circle cx="1008.5" cy="1102.9" r="2.2"/>
<circle cx="1009.6" cy="1101.4" r="2.2"/>
<circle cx="1010" cy="1104.6" r="2.2"/>
<circle cx="1009.5" cy="1120.7" r="2.2"/>
<circle cx="1009.7" cy="1110.1" r="2.2"/>
<circle cx="1010.2" cy="1113.9" r="2.2"/>
<circle cx="1011.3" cy="1114.2" r="2.2"/>
<circle cx="1010.5" cy="1115" r="2.2"/>
<circle cx="1010.6" cy="1123.4" r="2.2"/>
<circle cx="1010.9" cy="1117.5" r="2.2"/>
<circle cx="1009.5" cy="1113.4" r="2.2"/>
<circle cx="1010.4" cy="1123.3" r="2.2"/>
<circle cx="1009.6" cy="1117.3" r="2.2"/>
<circle cx="1010.2" cy="1119.9" r="2.2"/>
<circle cx="1010" cy="1118.3" r="2.2"/>
<circle cx="1010.2" cy="1122.7" r="2.2"/>
<circle cx="1011.2" cy="1112.4" r="2.2"/>
<circle cx="1009.9" cy="1111.6" r="2.2"/>
<circle cx="1011.2" cy="1115.8" r="2.2"/>
<circle cx="1055.9" cy="1124.2" r="2.2"/>
<circle cx="1055.7" cy="1119.8" r="2.2"/>
<circle cx="1055.4" cy="1124.9" r="2.2"/>
<circle cx="1054.4" cy="1121.4" r="2.2"/>
<circle cx="1054.8" cy="1124.3" r="2.2"/>
<circle cx="1055.4" cy="1120" r="2.2"/>
<circle cx="1055.6" cy="1111.1" r="2.2"/>
<circle cx="1055.7" cy="1120.8" r="2.2"/>
<circle cx="1054.6" cy="1119.3" r="2.2"/>
<circle cx="1055.6" cy="1114.6" r="2.2"/>
<circle cx="1054" cy="1112.3" r="2.2"/>
<circle cx="1055.9" cy="1115" r="2.2"/>
<circle cx="1055" cy="1119.7" r="2.2"/>
<circle cx="1055.4" cy="1126.4" r="2.2"/>
<circle cx="1055.4" cy="1114.8" r="2.2"/>
<circle cx="1055" cy="1124.7" r="2.2"/>
<circle cx="1055.3" cy="1118" r="2.2"/>
<circle cx="1055.5" cy="1126.8" r="2.2"/>
<circle cx="1055.4" cy="1113.9" r="2.2"/>
<circle cx="1055.2" cy="1116.1" r="2.2"/>
<circle cx="1054.4" cy="1122.4" r="2.2"/>
<circle cx="1100.1" cy="967.9" r="2.2"/>
<circle cx="1100.1" cy="983.9" r="2.2"/>
<circle cx="1100" cy="1106.2" r="2.2"/>
<circle cx="1099.4" cy="1104.3" r="2.2"/>
<circle cx="1099.6" cy="1107.1" r="2.2"/>
<circle cx="1101.4" cy="1101" r="2.2"/>
<circle cx="1100.1" cy="1105.1" r="2.2"/>
<circle cx="1100" cy="1107.4" r="2.2"/>
<circle cx="1100.2" cy="1102.1" r="2.2"/>
<circle cx="1098.7" cy="1096.4" r="2.2"/>
<circle cx="1104.3" cy="1096.6" r="2.2"/>
<circle cx="1100.1" cy="1110.5" r="2.2"/>
<circle cx="1102.2" cy="1098.5" r="2.2"/>
<circle cx="1101.3" cy="1100.5" r="2.2"/>
<circle cx="1100.2" cy="1106.4" r="2.2"/>
<circle cx="1099.8" cy="1107.9" r="2.2"/>
<circle cx="1100.1" cy="1109.3" r="2.2"/>
<circle cx="1100.3" cy="1108.1" r="2.2"/>
<circle cx="1099.6" cy="1100.1" r="2.2"/>
<circle cx="1143" cy="1128.8" r="2.2"/>
<circle cx="1146.2" cy="1109.6" r="2.2"/>
<circle cx="1134.8" cy="1118.1" r="2.2"/>
<circle cx="1145.6" cy="1157.4" r="2.2"/>
<circle cx="1143" cy="1157.8" r="2.2"/>
<circle cx="1140.1" cy="1138.1" r="2.2"/>
<circle cx="1141.3" cy="1154.8" r="2.2"/>
<circle cx="1145.9" cy="1142.7" r="2.2"/>
<circle cx="1134" cy="1121.5" r="2.2"/>
<circle cx="1145.4" cy="1132.1" r="2.2"/>
<circle cx="1141" cy="1154" r="2.2"/>
<circle cx="1139.5" cy="1112.2" r="2.2"/>
<circle cx="1141.2" cy="1153" r="2.2"/>
<circle cx="1135.6" cy="1141.8" r="2.2"/>
<circle cx="1151" cy="1105.4" r="2.2"/>
<circle cx="1135.7" cy="1132.8" r="2.2"/>
<circle cx="1155.5" cy="1131.2" r="2.2"/>
<circle cx="1146.3" cy="1125.8" r="2.2"/>
<circle cx="1145" cy="1127.7" r="2.2"/>
<circle cx="1156.5" cy="1102.9" r="2.2"/>
<circle cx="1141.6" cy="1138.3" r="2.2"/>
<circle cx="1136.6" cy="1118.8" r="2.2"/>
<circle cx="1146.6" cy="1161.6" r="2.2"/>
<circle cx="1147.5" cy="1125" r="2.2"/>
<circle cx="1138.2" cy="1136.5" r="2.2"/>
<circle cx="1152.1" cy="1102.2" r="2.2"/>
<circle cx="1146.7" cy="1110.7" r="2.2"/>
<circle cx="1130" cy="1101.1" r="2.2"/>
<circle cx="1149.2" cy="1110.8" r="2.2"/>
<circle cx="1154.9" cy="1140.4" r="2.2"/>
<circle cx="1145.3" cy="1143.6" r="2.2"/>
<circle cx="1159.2" cy="1100.9" r="2.2"/>
<circle cx="1153.4" cy="1132.3" r="2.2"/>
<circle cx="1155.1" cy="1102.8" r="2.2"/>
<circle cx="1138.1" cy="1131.4" r="2.2"/>
<circle cx="1134.2" cy="1126.8" r="2.2"/>
<circle cx="1138.9" cy="1138.3" r="2.2"/>
<circle cx="1139.1" cy="1146.3" r="2.2"/>
<circle cx="1147" cy="1145.5" r="2.2"/>
<circle cx="1152.7" cy="1147" r="2.2"/>
<circle cx="1149.7" cy="1119.5" r="2.2"/>
<circle cx="1154.8" cy="1126.2" r="2.2"/>
<circle cx="1148.2" cy="1154.5" r="2.2"/>
<circle cx="1139.9" cy="1139.6" r="2.2"/>
<circle cx="1148.1" cy="1159.9" r="2.2"/>
<circle cx="1144.3" cy="1162.7" r="2.2"/>
<circle cx="1147.1" cy="1154.2" r="2.2"/>
<circle cx="1148.4" cy="1155.4" r="2.2"/>
<circle cx="1142.3" cy="1130" r="2.2"/>
<circle cx="1147.1" cy="1152.5" r="2.2"/>
<circle cx="1153.3" cy="1135.6" r="2.2"/>
<circle cx="1129.9" cy="1102.1" r="2.2"/>
<circle cx="1135.1" cy="1130.7" r="2.2"/>
<circle cx="1140.1" cy="1155.6" r="2.2"/>
<circle cx="1142.4" cy="1158.2" r="2.2"/>
<circle cx="1152.1" cy="1108.8" r="2.2"/>
<circle cx="1143.2" cy="1144.7" r="2.2"/>
<circle cx="1146" cy="1139.3" r="2.2"/>
<circle cx="1144.9" cy="1162.6" r="2.2"/>
<circle cx="1144" cy="1135.6" r="2.2"/>
<circle cx="1149.6" cy="1127.2" r="2.2"/>
<circle cx="1150.4" cy="1107.4" r="2.2"/>
<circle cx="1146.3" cy="1161.3" r="2.2"/>
<circle cx="1141.6" cy="1135.8" r="2.2"/>
<circle cx="1132.9" cy="1106.4" r="2.2"/>
<circle cx="1153.4" cy="1135.6" r="2.2"/>
<circle cx="1141.7" cy="1157.2" r="2.2"/>
<circle cx="1149.8" cy="1149.4" r="2.2"/>
<circle cx="1153.4" cy="1131.7" r="2.2"/>
<circle cx="1140.3" cy="1112.3" r="2.2"/>
<circle cx="1150.1" cy="1133.9" r="2.2"/>
<circle cx="1140" cy="1129.6" r="2.2"/>
<circle cx="1143.8" cy="1157.2" r="2.2"/>
<circle cx="1138" cy="1127.7" r="2.2"/>
<circle cx="1149.8" cy="1131.9" r="2.2"/>
<circle cx="1149" cy="1123.9" r="2.2"/>
<circle cx="1133.3" cy="1132.6" r="2.2"/>
<circle cx="1144.2" cy="1163.5" r="2.2"/>
<circle cx="1155.1" cy="1136" r="2.2"/>
<circle cx="1132.9" cy="1113.6" r="2.2"/>
<circle cx="1135.3" cy="1113.6" r="2.2"/>
<circle cx="1145.1" cy="1156.2" r="2.2"/>
<circle cx="1137.9" cy="1102.8" r="2.2"/>
<circle cx="1137.3" cy="1133.7" r="2.2"/>
<circle cx="1155.5" cy="1120.2" r="2.2"/>
<circle cx="1138.3" cy="1129.3" r="2.2"/>
<circle cx="1136.8" cy="1139.4" r="2.2"/>
<circle cx="1148.3" cy="1134.3" r="2.2"/>
<circle cx="1146.3" cy="1105.9" r="2.2"/>
<circle cx="1151.3" cy="1120.4" r="2.2"/>
<circle cx="1153.2" cy="1140.6" r="2.2"/>
<circle cx="1138.4" cy="1140.1" r="2.2"/>
<circle cx="1150.5" cy="1112.2" r="2.2"/>
<circle cx="1139" cy="1153.5" r="2.2"/>
<circle cx="1139.4" cy="1127.5" r="2.2"/>
<circle cx="1153.9" cy="1130.8" r="2.2"/>
<circle cx="1150.2" cy="1136.9" r="2.2"/>
<circle cx="1141.4" cy="1150.5" r="2.2"/>
<circle cx="1142.4" cy="1140.8" r="2.2"/>
<circle cx="1145.6" cy="1131.3" r="2.2"/>
<circle cx="1138.6" cy="1144" r="2.2"/>
<circle cx="1140.9" cy="1155.3" r="2.2"/>
<circle cx="1154" cy="1120.7" r="2.2"/>
<circle cx="1144.7" cy="1165" r="2.2"/>
<circle cx="1143.2" cy="1162.8" r="2.2"/>
<circle cx="1143.8" cy="1163" r="2.2"/>
<circle cx="1152.9" cy="1102.3" r="2.2"/>
<circle cx="1152" cy="1110.7" r="2.2"/>
<circle cx="1133.1" cy="1100.5" r="2.2"/>
<circle cx="1134.2" cy="1123.6" r="2.2"/>
<circle cx="1141.2" cy="1131.1" r="2.2"/>
<circle cx="1144.8" cy="1148.7" r="2.2"/>
<circle cx="1145.8" cy="1163.7" r="2.2"/>
<circle cx="1156.6" cy="1111.3" r="2.2"/>
<circle cx="1145.4" cy="1159.1" r="2.2"/>
<circle cx="1137.3" cy="1134.8" r="2.2"/>
<circle cx="1137.6" cy="1121.2" r="2.2"/>
<circle cx="1148" cy="1112.9" r="2.2"/>
<circle cx="1151.8" cy="1121.4" r="2.2"/>
<circle cx="1151.9" cy="1137.8" r="2.2"/>
<circle cx="1155.1" cy="1105.8" r="2.2"/>
<circle cx="1147.9" cy="1133.5" r="2.2"/>
<circle cx="1150.2" cy="1115.7" r="2.2"/>
<circle cx="1150.4" cy="1126.8" r="2.2"/>
<circle cx="1137.2" cy="1138.6" r="2.2"/>
<circle cx="1151.5" cy="1119.8" r="2.2"/>
<circle cx="1149" cy="1101.1" r="2.2"/>
<circle cx="1149.7" cy="1136" r="2.2"/>
<circle cx="1144.3" cy="1121.7" r="2.2"/>
<circle cx="1150.9" cy="1131.5" r="2.2"/>
<circle cx="1145.2" cy="1104.8" r="2.2"/>
<circle cx="1147.3" cy="1117.1" r="2.2"/>
<circle cx="1137" cy="1117.1" r="2.2"/>
<circle cx="1155.6" cy="1115.3" r="2.2"/>
<circle cx="1154.6" cy="1124" r="2.2"/>
<circle cx="1141" cy="1148.5" r="2.2"/>
<circle cx="1134" cy="1136.6" r="2.2"/>
<circle cx="1145.5" cy="1161.6" r="2.2"/>
<circle cx="1145.4" cy="1107.4" r="2.2"/>
<circle cx="1148.9" cy="1132.7" r="2.2"/>
<circle cx="1155.7" cy="1119.1" r="2.2"/>
<circle cx="1136.3" cy="1141.1" r="2.2"/>
<circle cx="1149.8" cy="1154" r="2.2"/>
<circle cx="1150.4" cy="1120.1" r="2.2"/>
<circle cx="1148.8" cy="1156.8" r="2.2"/>
<circle cx="1154.9" cy="1104.6" r="2.2"/>
<circle cx="1153" cy="1116.4" r="2.2"/>
<circle cx="1144.2" cy="1145.3" r="2.2"/>
<circle cx="1147.1" cy="1159.5" r="2.2"/>
<circle cx="1145.3" cy="1165.6" r="2.2"/>
<circle cx="1100" cy="1143.1" r="2.2"/>
<circle cx="1100" cy="1134.3" r="2.2"/>
<circle cx="1100" cy="1142.7" r="2.2"/>
<circle cx="1100" cy="1121.2" r="2.2"/>
<circle cx="1100" cy="1126.1" r="2.2"/>
<circle cx="1100" cy="1123" r="2.2"/>
<circle cx="1100" cy="1145.4" r="2.2"/>
<circle cx="1100" cy="1143.7" r="2.2"/>
<circle cx="1100" cy="1116.1" r="2.2"/>
<circle cx="1100" cy="1156.9" r="2.2"/>
<circle cx="1100" cy="1152.7" r="2.2"/>
<circle cx="1100" cy="1124.3" r="2.2"/>
<circle cx="1100" cy="1149.1" r="2.2"/>
<circle cx="1100" cy="1125.9" r="2.2"/>
<circle cx="1100" cy="1145.1" r="2.2"/>
<circle cx="1100" cy="1154.7" r="2.2"/>
<circle cx="1100" cy="1117" r="2.2"/>
<circle cx="1099.8" cy="1108.4" r="2.2"/>
<circle cx="1100" cy="1125.4" r="2.2"/>
<circle cx="1100" cy="1132.3" r="2.2"/>
<circle cx="1100" cy="1141.3" r="2.2"/>
<circle cx="1100" cy="1120.6" r="2.2"/>
<circle cx="581.4" cy="403.1" r="2.2"/>
<circle cx="568" cy="430.9" r="2.2"/>
<circle cx="560.1" cy="397.8" r="2.2"/>
<circle cx="583.1" cy="418.3" r="2.2"/>
<circle cx="569.4" cy="403" r="2.2"/>
<circle cx="580.6" cy="399.3" r="2.2"/>
<circle cx="576" cy="436.1" r="2.2"/>
<circle cx="556.7" cy="436.2" r="2.2"/>
<circle cx="550.7" cy="408.3" r="2.2"/>
<circle cx="552.4" cy="425.3" r="2.2"/>
<circle cx="555.6" cy="405.4" r="2.2"/>
<circle cx="574.3" cy="445.6" r="2.2"/>
<circle cx="582.8" cy="410.7" r="2.2"/>
<circle cx="554.8" cy="403.8" r="2.2"/>
<circle cx="577.1" cy="416" r="2.2"/>
<circle cx="575.3" cy="400.4" r="2.2"/>
<circle cx="576.5" cy="424.9" r="2.2"/>
<circle cx="550.5" cy="413.5" r="2.2"/>
<circle cx="573.3" cy="400.4" r="2.2"/>
<circle cx="575.4" cy="422.9" r="2.2"/>
<circle cx="559.1" cy="405.9" r="2.2"/>
<circle cx="578.2" cy="406.6" r="2.2"/>
<circle cx="555.6" cy="433.7" r="2.2"/>
<circle cx="552.2" cy="434.9" r="2.2"/>
<circle cx="558.1" cy="420.7" r="2.2"/>
<circle cx="573" cy="437.1" r="2.2"/>
<circle cx="556.9" cy="432.6" r="2.2"/>
<circle cx="570.5" cy="397.4" r="2.2"/>
<circle cx="551" cy="433.2" r="2.2"/>
<circle cx="577.8" cy="441.1" r="2.2"/>
<circle cx="567.1" cy="414.9" r="2.2"/>
<circle cx="580.1" cy="430.8" r="2.2"/>
<circle cx="566.9" cy="430.7" r="2.2"/>
<circle cx="566.1" cy="437.3" r="2.2"/>
<circle cx="567.8" cy="396.8" r="2.2"/>
<circle cx="560.7" cy="417.8" r="2.2"/>
<circle cx="556.8" cy="416.7" r="2.2"/>
<circle cx="575.1" cy="412.2" r="2.2"/>
<circle cx="565.2" cy="443.7" r="2.2"/>
<circle cx="555.7" cy="441.5" r="2.2"/>
<circle cx="574.8" cy="423.4" r="2.2"/>
<circle cx="563.1" cy="438" r="2.2"/>
<circle cx="581.5" cy="404.2" r="2.2"/>
<circle cx="571.5" cy="428.5" r="2.2"/>
<circle cx="552.9" cy="414" r="2.2"/>
<circle cx="563.3" cy="426.4" r="2.2"/>
<circle cx="571" cy="444" r="2.2"/>
<circle cx="568.6" cy="436.6" r="2.2"/>
<circle cx="555.3" cy="436.4" r="2.2"/>
<circle cx="568.5" cy="449.8" r="2.2"/>
<circle cx="556.2" cy="427.9" r="2.2"/>
<circle cx="572.7" cy="400" r="2.2"/>
<circle cx="571.6" cy="434.9" r="2.2"/>
<circle cx="566" cy="409" r="2.2"/>
<circle cx="570.7" cy="437.2" r="2.2"/>
<circle cx="555.2" cy="445" r="2.2"/>
<circle cx="551.9" cy="437.6" r="2.2"/>
<circle cx="567.6" cy="429.4" r="2.2"/>
<circle cx="564" cy="399.1" r="2.2"/>
<circle cx="578.2" cy="431.7" r="2.2"/>
<circle cx="796.8" cy="440.4" r="2.2"/>
<circle cx="796" cy="451.7" r="2.2"/>
<circle cx="795.3" cy="463.8" r="2.2"/>
<circle cx="788.7" cy="483.8" r="2.2"/>
<circle cx="779.8" cy="456.9" r="2.2"/>
<circle cx="781.9" cy="463.9" r="2.2"/>
<circle cx="779.7" cy="479.7" r="2.2"/>
<circle cx="782.9" cy="468.2" r="2.2"/>
<circle cx="787.3" cy="455.2" r="2.2"/>
<circle cx="790.3" cy="488.9" r="2.2"/>
<circle cx="798.1" cy="451.4" r="2.2"/>
<circle cx="786.5" cy="487.3" r="2.2"/>
<circle cx="779.3" cy="463.8" r="2.2"/>
<circle cx="786" cy="477.4" r="2.2"/>
<circle cx="793.3" cy="475.7" r="2.2"/>
<circle cx="790.4" cy="467.4" r="2.2"/>
<circle cx="777.7" cy="462.9" r="2.2"/>
<circle cx="775.4" cy="457.5" r="2.2"/>
<circle cx="798.9" cy="440.8" r="2.2"/>
<circle cx="776.8" cy="452.8" r="2.2"/>
<circle cx="775.2" cy="456.1" r="2.2"/>
<circle cx="780.3" cy="466.4" r="2.2"/>
<circle cx="789.8" cy="443" r="2.2"/>
<circle cx="781.1" cy="485.5" r="2.2"/>
<circle cx="787.8" cy="472.9" r="2.2"/>
<circle cx="784.3" cy="459.2" r="2.2"/>
<circle cx="782.3" cy="430.7" r="2.2"/>
<circle cx="782.3" cy="461.4" r="2.2"/>
<circle cx="1140.1" cy="508.9" r="2.2"/>
<circle cx="1155.4" cy="507.5" r="2.2"/>
<circle cx="1144.6" cy="506.9" r="2.2"/>
<circle cx="1157.1" cy="504" r="2.2"/>
</g>
<g fill="#FD8D3C" fill-opacity=".8" stroke="#FD8D3C" stroke-opacity=".9" stroke-width="1.1">
<circle cx="252.4" cy="392.2" r="2.1"/>
<circle cx="297.2" cy="394" r="2.1"/>
<circle cx="387" cy="398" r="2.1"/>
<circle cx="432" cy="392.8" r="2.1"/>
<circle cx="477" cy="396.5" r="2.1"/>
<circle cx="741.3" cy="482.1" r="2.1"/>
<circle cx="786" cy="499.9" r="2.1"/>
<circle cx="831.1" cy="493.8" r="2.1"/>
<circle cx="876" cy="497.3" r="2.1"/>
<circle cx="923.8" cy="494.8" r="2.1"/>
<circle cx="965.3" cy="494.5" r="2.1"/>
<circle cx="1009.9" cy="486.7" r="2.1"/>
<circle cx="1055.1" cy="487.1" r="2.1"/>
<circle cx="742.4" cy="1139.2" r="2.1"/>
<circle cx="740.9" cy="1147.2" r="2.1"/>
<circle cx="742.2" cy="1155" r="2.1"/>
<circle cx="784.9" cy="1146" r="2.1"/>
<circle cx="785.5" cy="1140.5" r="2.1"/>
<circle cx="790.8" cy="1139.9" r="2.1"/>
<circle cx="829.1" cy="1148.6" r="2.1"/>
<circle cx="830.8" cy="1152.8" r="2.1"/>
<circle cx="830.1" cy="1136.7" r="2.1"/>
<circle cx="874.1" cy="1147.6" r="2.1"/>
<circle cx="876.7" cy="1155.5" r="2.1"/>
<circle cx="875.7" cy="1149.5" r="2.1"/>
<circle cx="917.9" cy="1146.9" r="2.1"/>
<circle cx="917.8" cy="1154.7" r="2.1"/>
<circle cx="914.6" cy="1142.5" r="2.1"/>
<circle cx="968" cy="1140.6" r="2.1"/>
<circle cx="966" cy="1136.6" r="2.1"/>
<circle cx="963.9" cy="1150.2" r="2.1"/>
<circle cx="1009.9" cy="1126.4" r="2.1"/>
<circle cx="1009.7" cy="1152.2" r="2.1"/>
<circle cx="1010.9" cy="1137.7" r="2.1"/>
<circle cx="1054.8" cy="1142.3" r="2.1"/>
<circle cx="1055.9" cy="1145.4" r="2.1"/>
<circle cx="1055.5" cy="1140.9" r="2.1"/>
<circle cx="1100" cy="1126.3" r="2.1"/>
<circle cx="1100" cy="1149.4" r="2.1"/>
<circle cx="1100" cy="1132" r="2.1"/>
<circle cx="1149.8" cy="1139" r="2.1"/>
<circle cx="1143.1" cy="1145.6" r="2.1"/>
<circle cx="1145.1" cy="1133.9" r="2.1"/>
<circle cx="1138.3" cy="1114.7" r="2.1"/>
<circle cx="1148.2" cy="1157.4" r="2.1"/>
<circle cx="1148.1" cy="1147.4" r="2.1"/>
<circle cx="1146.5" cy="1134.7" r="2.1"/>
<circle cx="1135.9" cy="1145.3" r="2.1"/>
<circle cx="1156.3" cy="1130.2" r="2.1"/>
<circle cx="1144" cy="1114" r="2.1"/>
<circle cx="1137.6" cy="1105.3" r="2.1"/>
<circle cx="1139.7" cy="1156" r="2.1"/>
<circle cx="1148.6" cy="1154.3" r="2.1"/>
<circle cx="1142.9" cy="1159" r="2.1"/>
<circle cx="1144.5" cy="1163.3" r="2.1"/>
<circle cx="1155.8" cy="1130.6" r="2.1"/>
<circle cx="1148.8" cy="1137" r="2.1"/>
<circle cx="1130.5" cy="1107.5" r="2.1"/>
<circle cx="1134.4" cy="1118" r="2.1"/>
<circle cx="1142.1" cy="1156" r="2.1"/>
<circle cx="1145.1" cy="1165.1" r="2.1"/>
<circle cx="1150.7" cy="1113" r="2.1"/>
<circle cx="1145.6" cy="1121.6" r="2.1"/>
<circle cx="1154.7" cy="1105.2" r="2.1"/>
<circle cx="1145.9" cy="1153.5" r="2.1"/>
<circle cx="1142.1" cy="1147" r="2.1"/>
<circle cx="1100" cy="1121.8" r="2.1"/>
<circle cx="1100" cy="1143.2" r="2.1"/>
<circle cx="1100" cy="1144.9" r="2.1"/>
<circle cx="1100" cy="1119.1" r="2.1"/>
<circle cx="566.7" cy="399.2" r="2.1"/>
<circle cx="555.1" cy="438.7" r="2.1"/>
<circle cx="578.6" cy="444.1" r="2.1"/>
<circle cx="556.3" cy="413.8" r="2.1"/>
<circle cx="557.4" cy="403" r="2.1"/>
<circle cx="573.6" cy="418" r="2.1"/>
<circle cx="568" cy="446.5" r="2.1"/>
<circle cx="564.5" cy="447.4" r="2.1"/>
<circle cx="550.4" cy="431.2" r="2.1"/>
<circle cx="549.9" cy="418" r="2.1"/>
<circle cx="576.2" cy="402.3" r="2.1"/>
<circle cx="560.2" cy="401.3" r="2.1"/>
<circle cx="567.3" cy="423.9" r="2.1"/>
<circle cx="555.4" cy="396.7" r="2.1"/>
<circle cx="563.4" cy="432.2" r="2.1"/>
<circle cx="565.8" cy="400.1" r="2.1"/>
<circle cx="583.8" cy="415.5" r="2.1"/>
<circle cx="557.2" cy="397.6" r="2.1"/>
<circle cx="568" cy="399.1" r="2.1"/>
<circle cx="573.8" cy="447.8" r="2.1"/>
<circle cx="567.7" cy="401.2" r="2.1"/>
<circle cx="583.1" cy="414.7" r="2.1"/>
<circle cx="569.7" cy="433.9" r="2.1"/>
<circle cx="564.3" cy="409.1" r="2.1"/>
<circle cx="562.3" cy="424" r="2.1"/>
<circle cx="552.7" cy="426" r="2.1"/>
<circle cx="583.3" cy="418.1" r="2.1"/>
<circle cx="566.6" cy="417" r="2.1"/>
<circle cx="575.9" cy="436.4" r="2.1"/>
<circle cx="562.8" cy="435.5" r="2.1"/>
<circle cx="557.1" cy="434.1" r="2.1"/>
<circle cx="550.6" cy="428.9" r="2.1"/>
<circle cx="555.6" cy="405.6" r="2.1"/>
<circle cx="574.7" cy="414.4" r="2.1"/>
<circle cx="577" cy="396.1" r="2.1"/>
<circle cx="580.2" cy="400" r="2.1"/>
<circle cx="569.5" cy="447.2" r="2.1"/>
<circle cx="579.1" cy="441.2" r="2.1"/>
<circle cx="578.7" cy="419.6" r="2.1"/>
<circle cx="574.4" cy="396.9" r="2.1"/>
<circle cx="575.3" cy="430.6" r="2.1"/>
<circle cx="553" cy="403.2" r="2.1"/>
<circle cx="570.1" cy="423.8" r="2.1"/>
<circle cx="556.3" cy="432.8" r="2.1"/>
<circle cx="582.1" cy="426.2" r="2.1"/>
<circle cx="577.4" cy="408.9" r="2.1"/>
<circle cx="571" cy="447.8" r="2.1"/>
<circle cx="563.6" cy="419.2" r="2.1"/>
<circle cx="553.5" cy="420.7" r="2.1"/>
<circle cx="559.8" cy="399.1" r="2.1"/>
</g>
<g fill="#668DC6" fill-opacity=".7" stroke="#668DC6" stroke-opacity=".7" stroke-width="1.3">
<circle cx="162.7" cy="811.8" r="2.4"/>
<circle cx="162.4" cy="865.2" r="2.4"/>
<circle cx="162.7" cy="829.5" r="2.4"/>
<circle cx="163.3" cy="916.7" r="2.4"/>
<circle cx="162.5" cy="962.2" r="2.4"/>
<circle cx="162.1" cy="921.6" r="2.4"/>
<circle cx="162.7" cy="947.1" r="2.4"/>
<circle cx="163.2" cy="875.6" r="2.4"/>
<circle cx="162.4" cy="844" r="2.4"/>
<circle cx="163.4" cy="919.5" r="2.4"/>
<circle cx="162.4" cy="869.8" r="2.4"/>
<circle cx="162.4" cy="950.4" r="2.4"/>
<circle cx="161.9" cy="962" r="2.4"/>
<circle cx="162.5" cy="887.8" r="2.4"/>
<circle cx="162.1" cy="955.3" r="2.4"/>
<circle cx="163.3" cy="939.8" r="2.4"/>
<circle cx="163.2" cy="965.6" r="2.4"/>
<circle cx="162.7" cy="846.9" r="2.4"/>
<circle cx="162.2" cy="884.6" r="2.4"/>
<circle cx="163" cy="888.6" r="2.4"/>
<circle cx="162.1" cy="930" r="2.4"/>
<circle cx="162.1" cy="895.1" r="2.4"/>
<circle cx="163.1" cy="961.8" r="2.4"/>
<circle cx="163.4" cy="918.9" r="2.4"/>
<circle cx="162.2" cy="965.9" r="2.4"/>
<circle cx="162.3" cy="890.4" r="2.4"/>
<circle cx="162.8" cy="935.3" r="2.4"/>
<circle cx="163.1" cy="924" r="2.4"/>
<circle cx="162.4" cy="925.2" r="2.4"/>
<circle cx="163.4" cy="939.2" r="2.4"/>
<circle cx="162.7" cy="846.6" r="2.4"/>
<circle cx="163" cy="870" r="2.4"/>
<circle cx="163.2" cy="914.2" r="2.4"/>
<circle cx="163.4" cy="939.3" r="2.4"/>
<circle cx="162.8" cy="930.5" r="2.4"/>
<circle cx="163.2" cy="965.7" r="2.4"/>
<circle cx="162.2" cy="902.4" r="2.4"/>
<circle cx="162" cy="961.4" r="2.4"/>
<circle cx="163.4" cy="961.6" r="2.4"/>
<circle cx="163.4" cy="938.6" r="2.4"/>
<circle cx="163.1" cy="933.3" r="2.4"/>
<circle cx="162.3" cy="932.1" r="2.4"/>
<circle cx="163" cy="855.6" r="2.4"/>
<circle cx="162.2" cy="916.5" r="2.4"/>
<circle cx="162.4" cy="928.3" r="2.4"/>
<circle cx="163.2" cy="891.6" r="2.4"/>
<circle cx="163.1" cy="934.4" r="2.4"/>
<circle cx="162.6" cy="952.7" r="2.4"/>
<circle cx="162.6" cy="916.5" r="2.4"/>
<circle cx="163.1" cy="905" r="2.4"/>
<circle cx="162.4" cy="958.4" r="2.4"/>
<circle cx="162.3" cy="943.3" r="2.4"/>
<circle cx="162.9" cy="825.6" r="2.4"/>
<circle cx="162.4" cy="949.1" r="2.4"/>
<circle cx="163.1" cy="967.3" r="2.4"/>
<circle cx="163" cy="900.1" r="2.4"/>
<circle cx="162.1" cy="955" r="2.4"/>
<circle cx="162.6" cy="960.6" r="2.4"/>
<circle cx="162.5" cy="893.4" r="2.4"/>
<circle cx="162.7" cy="925.1" r="2.4"/>
<circle cx="162.1" cy="896.4" r="2.4"/>
<circle cx="163" cy="935.6" r="2.4"/>
<circle cx="162.5" cy="941.8" r="2.4"/>
<circle cx="161.9" cy="956.2" r="2.4"/>
<circle cx="162.1" cy="867.8" r="2.4"/>
<circle cx="162.7" cy="927.9" r="2.4"/>
<circle cx="162.7" cy="886.2" r="2.4"/>
<circle cx="162.3" cy="821.1" r="2.4"/>
<circle cx="163.3" cy="964.7" r="2.4"/>
<circle cx="162.9" cy="852.9" r="2.4"/>
<circle cx="162.8" cy="922.9" r="2.4"/>
<circle cx="162.9" cy="954.7" r="2.4"/>
<circle cx="207.6" cy="736.6" r="2.4"/>
<circle cx="207.9" cy="980.3" r="2.4"/>
<circle cx="206.8" cy="976.9" r="2.4"/>
<circle cx="207.2" cy="964.4" r="2.4"/>
<circle cx="208.1" cy="977.7" r="2.4"/>
<circle cx="208.1" cy="983.6" r="2.4"/>
<circle cx="207.6" cy="893.7" r="2.4"/>
<circle cx="206.7" cy="958.8" r="2.4"/>
<circle cx="207.7" cy="921.1" r="2.4"/>
<circle cx="207.3" cy="949.5" r="2.4"/>
<circle cx="208" cy="932.2" r="2.4"/>
<circle cx="207.9" cy="891.8" r="2.4"/>
<circle cx="207.3" cy="975.4" r="2.4"/>
<circle cx="207.5" cy="918.8" r="2.4"/>
<circle cx="207.1" cy="966.7" r="2.4"/>
<circle cx="207.4" cy="871" r="2.4"/>
<circle cx="206.9" cy="939.5" r="2.4"/>
<circle cx="207.6" cy="985.1" r="2.4"/>
<circle cx="207.4" cy="951.3" r="2.4"/>
<circle cx="207.4" cy="778.1" r="2.4"/>
<circle cx="206.8" cy="926.5" r="2.4"/>
<circle cx="207.7" cy="985.3" r="2.4"/>
<circle cx="206.8" cy="906.8" r="2.4"/>
<circle cx="207.3" cy="861.3" r="2.4"/>
<circle cx="207" cy="939.1" r="2.4"/>
<circle cx="207.2" cy="911.6" r="2.4"/>
<circle cx="207.9" cy="925.4" r="2.4"/>
<circle cx="208" cy="917.4" r="2.4"/>
<circle cx="206.8" cy="934.9" r="2.4"/>
<circle cx="207.5" cy="940.2" r="2.4"/>
<circle cx="208.4" cy="955.5" r="2.4"/>
<circle cx="208.1" cy="885.6" r="2.4"/>
<circle cx="207.8" cy="857.1" r="2.4"/>
<circle cx="207.9" cy="755.2" r="2.4"/>
<circle cx="207.5" cy="904.4" r="2.4"/>
<circle cx="207.3" cy="913.8" r="2.4"/>
<circle cx="207.8" cy="857.1" r="2.4"/>
<circle cx="206.8" cy="935.5" r="2.4"/>
<circle cx="208.2" cy="867.3" r="2.4"/>
<circle cx="207.2" cy="870.2" r="2.4"/>
<circle cx="207.3" cy="927.6" r="2.4"/>
<circle cx="208.5" cy="981.2" r="2.4"/>
<circle cx="207.2" cy="826.9" r="2.4"/>
<circle cx="207.5" cy="840.5" r="2.4"/>
<circle cx="207.8" cy="870.5" r="2.4"/>
<circle cx="206.7" cy="973" r="2.4"/>
<circle cx="207.1" cy="777.2" r="2.4"/>
<circle cx="207" cy="876.5" r="2.4"/>
<circle cx="207.3" cy="901.7" r="2.4"/>
<circle cx="208.4" cy="950.9" r="2.4"/>
<circle cx="207.4" cy="985" r="2.4"/>
<circle cx="206.9" cy="938.1" r="2.4"/>
<circle cx="208.2" cy="932.9" r="2.4"/>
<circle cx="206.8" cy="972.9" r="2.4"/>
<circle cx="208.1" cy="839" r="2.4"/>
<circle cx="208" cy="946.4" r="2.4"/>
<circle cx="207.7" cy="801.8" r="2.4"/>
<circle cx="207.8" cy="774.6" r="2.4"/>
<circle cx="207.2" cy="960.5" r="2.4"/>
<circle cx="207.8" cy="750" r="2.4"/>
<circle cx="207.8" cy="987.6" r="2.4"/>
<circle cx="207.3" cy="888.6" r="2.4"/>
<circle cx="208.5" cy="963" r="2.4"/>
<circle cx="207.1" cy="888.4" r="2.4"/>
<circle cx="207.4" cy="987.4" r="2.4"/>
<circle cx="207.2" cy="903.7" r="2.4"/>
<circle cx="208.5" cy="950.5" r="2.4"/>
<circle cx="208.2" cy="908.7" r="2.4"/>
<circle cx="207.4" cy="895.6" r="2.4"/>
<circle cx="208.5" cy="961.6" r="2.4"/>
<circle cx="207.9" cy="954.9" r="2.4"/>
<circle cx="208.4" cy="965.1" r="2.4"/>
<circle cx="207.6" cy="981.9" r="2.4"/>
<circle cx="206.8" cy="893" r="2.4"/>
<circle cx="207.3" cy="919" r="2.4"/>
<circle cx="208" cy="741.3" r="2.4"/>
<circle cx="208.2" cy="875.9" r="2.4"/>
<circle cx="207.4" cy="768.1" r="2.4"/>
<circle cx="207.9" cy="959" r="2.4"/>
<circle cx="207.5" cy="942.7" r="2.4"/>
<circle cx="208" cy="812.5" r="2.4"/>
<circle cx="207.5" cy="955.8" r="2.4"/>
<circle cx="208.1" cy="924.9" r="2.4"/>
<circle cx="207.5" cy="913.2" r="2.4"/>
<circle cx="208" cy="911.5" r="2.4"/>
<circle cx="207.2" cy="952.1" r="2.4"/>
<circle cx="207.3" cy="958" r="2.4"/>
<circle cx="207.3" cy="942.8" r="2.4"/>
<circle cx="208.4" cy="974.8" r="2.4"/>
<circle cx="207.3" cy="958.1" r="2.4"/>
<circle cx="207.5" cy="885.5" r="2.4"/>
<circle cx="206.7" cy="932" r="2.4"/>
<circle cx="208.3" cy="922.1" r="2.4"/>
<circle cx="208" cy="800.2" r="2.4"/>
<circle cx="208.4" cy="926.6" r="2.4"/>
<circle cx="208" cy="950.2" r="2.4"/>
<circle cx="207.4" cy="954.6" r="2.4"/>
<circle cx="208" cy="822.9" r="2.4"/>
<circle cx="208" cy="971.9" r="2.4"/>
<circle cx="207.6" cy="853.8" r="2.4"/>
<circle cx="207.3" cy="916.8" r="2.4"/>
<circle cx="207.5" cy="912.4" r="2.4"/>
<circle cx="207.8" cy="985.4" r="2.4"/>
<circle cx="208.4" cy="984.8" r="2.4"/>
<circle cx="207.9" cy="842.4" r="2.4"/>
<circle cx="207.7" cy="891.7" r="2.4"/>
<circle cx="208" cy="925.1" r="2.4"/>
<circle cx="207.8" cy="874.4" r="2.4"/>
<circle cx="208" cy="889.3" r="2.4"/>
<circle cx="207.8" cy="913.1" r="2.4"/>
<circle cx="207.1" cy="987.4" r="2.4"/>
<circle cx="207.9" cy="754" r="2.4"/>
<circle cx="207.8" cy="918.6" r="2.4"/>
<circle cx="208.3" cy="965.5" r="2.4"/>
<circle cx="208.3" cy="892.7" r="2.4"/>
<circle cx="207.9" cy="893.6" r="2.4"/>
<circle cx="207.3" cy="965.7" r="2.4"/>
<circle cx="207.3" cy="899.4" r="2.4"/>
<circle cx="207.4" cy="883.5" r="2.4"/>
<circle cx="206.7" cy="967.9" r="2.4"/>
<circle cx="252.4" cy="755.5" r="2.4"/>
<circle cx="253" cy="1004.7" r="2.4"/>
<circle cx="252.7" cy="942.9" r="2.4"/>
<circle cx="252.8" cy="892.6" r="2.4"/>
<circle cx="252.2" cy="989.7" r="2.4"/>
<circle cx="251.9" cy="932.5" r="2.4"/>
<circle cx="252.9" cy="880.9" r="2.4"/>
<circle cx="252.3" cy="956.3" r="2.4"/>
<circle cx="251.8" cy="956" r="2.4"/>
<circle cx="252.3" cy="770.8" r="2.4"/>
<circle cx="251.9" cy="945.5" r="2.4"/>
<circle cx="252.1" cy="939.9" r="2.4"/>
<circle cx="252.8" cy="883.9" r="2.4"/>
<circle cx="252.8" cy="906" r="2.4"/>
<circle cx="252.2" cy="972.4" r="2.4"/>
<circle cx="252.8" cy="800.1" r="2.4"/>
<circle cx="252.6" cy="941.6" r="2.4"/>
<circle cx="252.5" cy="962.9" r="2.4"/>
<circle cx="251.4" cy="994.1" r="2.4"/>
<circle cx="252.7" cy="1002.1" r="2.4"/>
<circle cx="253.1" cy="915.4" r="2.4"/>
<circle cx="252.6" cy="992.6" r="2.4"/>
<circle cx="252.5" cy="780.1" r="2.4"/>
<circle cx="252.5" cy="916.3" r="2.4"/>
<circle cx="251.7" cy="983.8" r="2.4"/>
<circle cx="252.1" cy="985.7" r="2.4"/>
<circle cx="251.7" cy="881.1" r="2.4"/>
<circle cx="252.1" cy="837.3" r="2.4"/>
<circle cx="253.2" cy="937.7" r="2.4"/>
<circle cx="252.1" cy="859.4" r="2.4"/>
<circle cx="252.6" cy="908.5" r="2.4"/>
<circle cx="252.7" cy="904.5" r="2.4"/>
<circle cx="251.8" cy="852.6" r="2.4"/>
<circle cx="252.8" cy="946.3" r="2.4"/>
<circle cx="251.8" cy="847.2" r="2.4"/>
<circle cx="251.6" cy="960.4" r="2.4"/>
<circle cx="252.8" cy="996.6" r="2.4"/>
<circle cx="252.3" cy="855.9" r="2.4"/>
<circle cx="251.9" cy="814.6" r="2.4"/>
<circle cx="253" cy="904.1" r="2.4"/>
<circle cx="252.9" cy="994.5" r="2.4"/>
<circle cx="252.6" cy="955.5" r="2.4"/>
<circle cx="252.7" cy="934.6" r="2.4"/>
<circle cx="252.2" cy="932.1" r="2.4"/>
<circle cx="252" cy="984.7" r="2.4"/>
<circle cx="252.7" cy="915.1" r="2.4"/>
<circle cx="252.1" cy="1001.5" r="2.4"/>
<circle cx="252.3" cy="920.4" r="2.4"/>
<circle cx="252.2" cy="870.3" r="2.4"/>
<circle cx="251.8" cy="978.1" r="2.4"/>
<circle cx="252.1" cy="928.6" r="2.4"/>
<circle cx="252.9" cy="946" r="2.4"/>
<circle cx="252.4" cy="840.7" r="2.4"/>
<circle cx="252.6" cy="864" r="2.4"/>
<circle cx="251.9" cy="961.8" r="2.4"/>
<circle cx="252.1" cy="875.8" r="2.4"/>
<circle cx="253" cy="899.1" r="2.4"/>
<circle cx="253" cy="989.7" r="2.4"/>
<circle cx="252.4" cy="912.7" r="2.4"/>
<circle cx="252.4" cy="867.9" r="2.4"/>
<circle cx="251.6" cy="999.8" r="2.4"/>
<circle cx="251.9" cy="912.8" r="2.4"/>
<circle cx="252" cy="985.8" r="2.4"/>
<circle cx="251.7" cy="930.4" r="2.4"/>
<circle cx="252.4" cy="963.7" r="2.4"/>
<circle cx="252.8" cy="979.7" r="2.4"/>
<circle cx="252" cy="971.6" r="2.4"/>
<circle cx="252.6" cy="881" r="2.4"/>
<circle cx="252.9" cy="811.1" r="2.4"/>
<circle cx="252.4" cy="968.2" r="2.4"/>
<circle cx="251.7" cy="906.1" r="2.4"/>
<circle cx="252.9" cy="942.1" r="2.4"/>
<circle cx="251.9" cy="841.4" r="2.4"/>
<circle cx="252.4" cy="963" r="2.4"/>
<circle cx="252.3" cy="978.4" r="2.4"/>
<circle cx="253.2" cy="1003.8" r="2.4"/>
<circle cx="252.5" cy="897.5" r="2.4"/>
<circle cx="252.3" cy="947.4" r="2.4"/>
<circle cx="252.8" cy="982.1" r="2.4"/>
<circle cx="251.9" cy="982.2" r="2.4"/>
<circle cx="252.5" cy="933.5" r="2.4"/>
<circle cx="251.6" cy="946.9" r="2.4"/>
<circle cx="252.3" cy="981.3" r="2.4"/>
<circle cx="252.9" cy="855.4" r="2.4"/>
<circle cx="252.8" cy="942.4" r="2.4"/>
<circle cx="252.7" cy="971" r="2.4"/>
<circle cx="251.5" cy="995" r="2.4"/>
<circle cx="251.9" cy="900.1" r="2.4"/>
<circle cx="251.9" cy="955.3" r="2.4"/>
<circle cx="252" cy="797.7" r="2.4"/>
<circle cx="252.5" cy="860.1" r="2.4"/>
<circle cx="252.4" cy="924.6" r="2.4"/>
<circle cx="252.4" cy="783.2" r="2.4"/>
<circle cx="251.8" cy="881.6" r="2.4"/>
<circle cx="252" cy="815.2" r="2.4"/>
<circle cx="251.9" cy="914.1" r="2.4"/>
<circle cx="251.9" cy="926.1" r="2.4"/>
<circle cx="253.1" cy="970.3" r="2.4"/>
<circle cx="251.8" cy="898" r="2.4"/>
<circle cx="251.6" cy="1001.6" r="2.4"/>
<circle cx="252.9" cy="957.5" r="2.4"/>
<circle cx="253.1" cy="929.6" r="2.4"/>
<circle cx="252.7" cy="851.7" r="2.4"/>
<circle cx="253.2" cy="994.1" r="2.4"/>
<circle cx="252.3" cy="986.4" r="2.4"/>
<circle cx="253" cy="934.7" r="2.4"/>
<circle cx="252" cy="909.9" r="2.4"/>
<circle cx="252.1" cy="799.9" r="2.4"/>
<circle cx="253" cy="849.4" r="2.4"/>
<circle cx="252.2" cy="894.8" r="2.4"/>
<circle cx="252.8" cy="1002.8" r="2.4"/>
<circle cx="251.8" cy="920.5" r="2.4"/>
<circle cx="252.1" cy="906.9" r="2.4"/>
<circle cx="252.3" cy="999.5" r="2.4"/>
<circle cx="252" cy="1002.6" r="2.4"/>
<circle cx="252.9" cy="810.1" r="2.4"/>
<circle cx="252.8" cy="824.1" r="2.4"/>
<circle cx="252" cy="948.8" r="2.4"/>
<circle cx="252.3" cy="984.3" r="2.4"/>
<circle cx="252.5" cy="1004" r="2.4"/>
<circle cx="297.3" cy="785.4" r="2.4"/>
<circle cx="298.1" cy="1004.6" r="2.4"/>
<circle cx="297.6" cy="923.8" r="2.4"/>
<circle cx="297.6" cy="977.9" r="2.4"/>
<circle cx="297.5" cy="819.8" r="2.4"/>
<circle cx="296.7" cy="982.3" r="2.4"/>
<circle cx="296.7" cy="855" r="2.4"/>
<circle cx="296.6" cy="951.9" r="2.4"/>
<circle cx="297.1" cy="993.2" r="2.4"/>
<circle cx="297.8" cy="1010.5" r="2.4"/>
<circle cx="296.8" cy="933.1" r="2.4"/>
<circle cx="297.5" cy="932.8" r="2.4"/>
<circle cx="298.1" cy="994.8" r="2.4"/>
<circle cx="296.5" cy="914" r="2.4"/>
<circle cx="297.6" cy="969.4" r="2.4"/>
<circle cx="297.8" cy="967" r="2.4"/>
<circle cx="297.5" cy="988.8" r="2.4"/>
<circle cx="296.6" cy="989.9" r="2.4"/>
<circle cx="297.6" cy="1004.9" r="2.4"/>
<circle cx="296.9" cy="854.8" r="2.4"/>
<circle cx="296.9" cy="966.1" r="2.4"/>
<circle cx="296.8" cy="1003.8" r="2.4"/>
<circle cx="297.3" cy="942.7" r="2.4"/>
<circle cx="296.9" cy="1004.2" r="2.4"/>
<circle cx="297.7" cy="998.5" r="2.4"/>
<circle cx="298.1" cy="955.6" r="2.4"/>
<circle cx="297.8" cy="997.5" r="2.4"/>
<circle cx="296.5" cy="952.1" r="2.4"/>
<circle cx="297.5" cy="891.4" r="2.4"/>
<circle cx="297.5" cy="862.6" r="2.4"/>
<circle cx="297.1" cy="918.3" r="2.4"/>
<circle cx="297.9" cy="990.1" r="2.4"/>
<circle cx="297.2" cy="980.5" r="2.4"/>
<circle cx="298.1" cy="950.6" r="2.4"/>
<circle cx="297.5" cy="1002.5" r="2.4"/>
<circle cx="297.8" cy="848.8" r="2.4"/>
<circle cx="296.8" cy="833.6" r="2.4"/>
<circle cx="296.7" cy="968.6" r="2.4"/>
<circle cx="297.6" cy="981.3" r="2.4"/>
<circle cx="297.8" cy="877.1" r="2.4"/>
<circle cx="297.6" cy="1010.9" r="2.4"/>
<circle cx="297.9" cy="1009" r="2.4"/>
<circle cx="297.8" cy="940.6" r="2.4"/>
<circle cx="297.7" cy="1004" r="2.4"/>
<circle cx="297.1" cy="850.7" r="2.4"/>
<circle cx="297" cy="974.7" r="2.4"/>
<circle cx="297.2" cy="877.5" r="2.4"/>
<circle cx="297.2" cy="870.1" r="2.4"/>
<circle cx="297.6" cy="856.4" r="2.4"/>
<circle cx="297.9" cy="889.6" r="2.4"/>
<circle cx="297.4" cy="859.3" r="2.4"/>
<circle cx="296.7" cy="966.4" r="2.4"/>
<circle cx="297.4" cy="964.1" r="2.4"/>
<circle cx="296.7" cy="962.5" r="2.4"/>
<circle cx="297.8" cy="941.2" r="2.4"/>
<circle cx="296.8" cy="962.8" r="2.4"/>
<circle cx="297.9" cy="915.8" r="2.4"/>
<circle cx="297.3" cy="837.4" r="2.4"/>
<circle cx="297.2" cy="947.1" r="2.4"/>
<circle cx="296.9" cy="797" r="2.4"/>
<circle cx="297.2" cy="992.5" r="2.4"/>
<circle cx="297.2" cy="907.3" r="2.4"/>
<circle cx="296.8" cy="837" r="2.4"/>
<circle cx="297.8" cy="990.8" r="2.4"/>
<circle cx="297" cy="885.6" r="2.4"/>
<circle cx="297.1" cy="847.9" r="2.4"/>
<circle cx="297.7" cy="948.3" r="2.4"/>
<circle cx="297.9" cy="945.9" r="2.4"/>
<circle cx="297.4" cy="1010.9" r="2.4"/>
<circle cx="296.9" cy="832.4" r="2.4"/>
<circle cx="296.6" cy="970.5" r="2.4"/>
<circle cx="296.4" cy="999.4" r="2.4"/>
<circle cx="297.9" cy="838.5" r="2.4"/>
<circle cx="297.4" cy="929.3" r="2.4"/>
<circle cx="296.6" cy="959.6" r="2.4"/>
<circle cx="297.1" cy="916.1" r="2.4"/>
<circle cx="297.8" cy="979.2" r="2.4"/>
<circle cx="296.7" cy="973.5" r="2.4"/>
<circle cx="298" cy="938.7" r="2.4"/>
<circle cx="297.1" cy="879.7" r="2.4"/>
<circle cx="298.2" cy="962.5" r="2.4"/>
<circle cx="297.5" cy="821.3" r="2.4"/>
<circle cx="297.3" cy="938.7" r="2.4"/>
<circle cx="296.5" cy="992.3" r="2.4"/>
<circle cx="297" cy="959.9" r="2.4"/>
<circle cx="297.7" cy="981.5" r="2.4"/>
<circle cx="296.7" cy="930.9" r="2.4"/>
<circle cx="297.7" cy="982.7" r="2.4"/>
<circle cx="297.7" cy="954.8" r="2.4"/>
<circle cx="296.8" cy="1005.2" r="2.4"/>
<circle cx="342.1" cy="794" r="2.4"/>
<circle cx="342.7" cy="975.3" r="2.4"/>
<circle cx="342.7" cy="906.6" r="2.4"/>
<circle cx="342.8" cy="916.3" r="2.4"/>
<circle cx="343" cy="960.6" r="2.4"/>
<circle cx="342.7" cy="999.3" r="2.4"/>
<circle cx="342.1" cy="926.9" r="2.4"/>
<circle cx="342.7" cy="961.3" r="2.4"/>
<circle cx="342.8" cy="934.9" r="2.4"/>
<circle cx="342.2" cy="895.6" r="2.4"/>
<circle cx="341.7" cy="877.1" r="2.4"/>
<circle cx="341.5" cy="911.7" r="2.4"/>
<circle cx="342.4" cy="958.8" r="2.4"/>
<circle cx="342.6" cy="931.3" r="2.4"/>
<circle cx="342.5" cy="955.3" r="2.4"/>
<circle cx="341.9" cy="857.8" r="2.4"/>
<circle cx="341.8" cy="825.8" r="2.4"/>
<circle cx="341.4" cy="995.3" r="2.4"/>
<circle cx="341.9" cy="962.5" r="2.4"/>
<circle cx="342.8" cy="973" r="2.4"/>
<circle cx="343" cy="992.8" r="2.4"/>
<circle cx="341.9" cy="1008.5" r="2.4"/>
<circle cx="342.7" cy="1011" r="2.4"/>
<circle cx="341.9" cy="909.1" r="2.4"/>
<circle cx="342.7" cy="952" r="2.4"/>
<circle cx="342.6" cy="862.7" r="2.4"/>
<circle cx="342.3" cy="972.8" r="2.4"/>
<circle cx="341.9" cy="933.3" r="2.4"/>
<circle cx="342.5" cy="933.1" r="2.4"/>
<circle cx="342.5" cy="939.3" r="2.4"/>
<circle cx="341.3" cy="998.4" r="2.4"/>
<circle cx="342.6" cy="823.9" r="2.4"/>
<circle cx="342.6" cy="890" r="2.4"/>
<circle cx="341.7" cy="932.9" r="2.4"/>
<circle cx="342.1" cy="818.2" r="2.4"/>
<circle cx="341.3" cy="963.1" r="2.4"/>
<circle cx="341.9" cy="817.4" r="2.4"/>
<circle cx="342.6" cy="998.9" r="2.4"/>
<circle cx="342" cy="904.6" r="2.4"/>
<circle cx="342.5" cy="934.9" r="2.4"/>
<circle cx="341.9" cy="910.5" r="2.4"/>
<circle cx="341.7" cy="948.9" r="2.4"/>
<circle cx="342.6" cy="937" r="2.4"/>
<circle cx="341.4" cy="949.1" r="2.4"/>
<circle cx="342.3" cy="923" r="2.4"/>
<circle cx="342" cy="899.1" r="2.4"/>
<circle cx="341.9" cy="957.3" r="2.4"/>
<circle cx="342.7" cy="887.3" r="2.4"/>
<circle cx="342.6" cy="849.9" r="2.4"/>
<circle cx="342.2" cy="861.3" r="2.4"/>
<circle cx="342" cy="955.2" r="2.4"/>
<circle cx="342.8" cy="966.7" r="2.4"/>
<circle cx="341.5" cy="917.3" r="2.4"/>
<circle cx="342.7" cy="891.6" r="2.4"/>
<circle cx="342.6" cy="962.9" r="2.4"/>
<circle cx="341.9" cy="930.2" r="2.4"/>
<circle cx="342.3" cy="975.4" r="2.4"/>
<circle cx="341.5" cy="1002.6" r="2.4"/>
<circle cx="342.4" cy="921.9" r="2.4"/>
<circle cx="342.1" cy="1001.9" r="2.4"/>
<circle cx="341.4" cy="987.7" r="2.4"/>
<circle cx="341.8" cy="968.6" r="2.4"/>
<circle cx="341.8" cy="975.8" r="2.4"/>
<circle cx="341.8" cy="888.4" r="2.4"/>
<circle cx="342.5" cy="979.7" r="2.4"/>
<circle cx="342" cy="1002.6" r="2.4"/>
<circle cx="342.5" cy="849.8" r="2.4"/>
<circle cx="342.5" cy="904.5" r="2.4"/>
<circle cx="342" cy="946.7" r="2.4"/>
<circle cx="341.8" cy="832.3" r="2.4"/>
<circle cx="342.1" cy="982.8" r="2.4"/>
<circle cx="342.7" cy="999" r="2.4"/>
<circle cx="343" cy="953.5" r="2.4"/>
<circle cx="342" cy="804.9" r="2.4"/>
<circle cx="341.4" cy="953.5" r="2.4"/>
<circle cx="341.4" cy="997.8" r="2.4"/>
<circle cx="341.7" cy="960.3" r="2.4"/>
<circle cx="342.1" cy="928.9" r="2.4"/>
<circle cx="341.6" cy="911.5" r="2.4"/>
<circle cx="342.4" cy="972.3" r="2.4"/>
<circle cx="342.7" cy="856" r="2.4"/>
<circle cx="341.8" cy="865.2" r="2.4"/>
<circle cx="341.9" cy="909.8" r="2.4"/>
<circle cx="342.8" cy="946.9" r="2.4"/>
<circle cx="342.2" cy="863.4" r="2.4"/>
<circle cx="341.7" cy="966.5" r="2.4"/>
<circle cx="342.1" cy="924.1" r="2.4"/>
<circle cx="342.7" cy="999.6" r="2.4"/>
<circle cx="341.4" cy="945.2" r="2.4"/>
<circle cx="342.6" cy="924.6" r="2.4"/>
<circle cx="342" cy="937.9" r="2.4"/>
<circle cx="341.3" cy="968.5" r="2.4"/>
<circle cx="342.5" cy="969.7" r="2.4"/>
<circle cx="342" cy="867.3" r="2.4"/>
<circle cx="341.7" cy="996" r="2.4"/>
<circle cx="341.9" cy="952.9" r="2.4"/>
<circle cx="341.9" cy="956.3" r="2.4"/>
<circle cx="342.8" cy="922.1" r="2.4"/>
<circle cx="343.1" cy="975.7" r="2.4"/>
<circle cx="342.1" cy="920.3" r="2.4"/>
<circle cx="342.7" cy="926" r="2.4"/>
<circle cx="342.4" cy="926.3" r="2.4"/>
<circle cx="342.2" cy="885.8" r="2.4"/>
<circle cx="342.8" cy="907.4" r="2.4"/>
<circle cx="387" cy="725.2" r="2.4"/>
<circle cx="387.7" cy="881.5" r="2.4"/>
<circle cx="386.7" cy="919.6" r="2.4"/>
<circle cx="387.8" cy="916.9" r="2.4"/>
<circle cx="387.6" cy="940.2" r="2.4"/>
<circle cx="387.2" cy="919.6" r="2.4"/>
<circle cx="387.4" cy="821.8" r="2.4"/>
<circle cx="387.3" cy="931.8" r="2.4"/>
<circle cx="387.4" cy="867.6" r="2.4"/>
<circle cx="386.7" cy="912.7" r="2.4"/>
<circle cx="387.6" cy="982.4" r="2.4"/>
<circle cx="387.6" cy="938" r="2.4"/>
<circle cx="386.8" cy="940.7" r="2.4"/>
<circle cx="387.8" cy="977.6" r="2.4"/>
<circle cx="386.9" cy="936.8" r="2.4"/>
<circle cx="386.2" cy="907.9" r="2.4"/>
<circle cx="387.7" cy="968.7" r="2.4"/>
<circle cx="386.9" cy="924.3" r="2.4"/>
<circle cx="386.1" cy="956.7" r="2.4"/>
<circle cx="386.6" cy="888.6" r="2.4"/>
<circle cx="386.7" cy="926.5" r="2.4"/>
<circle cx="387.7" cy="926.4" r="2.4"/>
<circle cx="386.4" cy="890.7" r="2.4"/>
<circle cx="387.3" cy="754.7" r="2.4"/>
<circle cx="386.9" cy="901.9" r="2.4"/>
<circle cx="386.6" cy="769.9" r="2.4"/>
<circle cx="387.4" cy="731.5" r="2.4"/>
<circle cx="386.8" cy="781.4" r="2.4"/>
<circle cx="387.1" cy="902.8" r="2.4"/>
<circle cx="387.2" cy="847" r="2.4"/>
<circle cx="387.9" cy="931.7" r="2.4"/>
<circle cx="386.7" cy="804.2" r="2.4"/>
<circle cx="386.7" cy="808" r="2.4"/>
<circle cx="386.3" cy="844.4" r="2.4"/>
<circle cx="386.6" cy="957.2" r="2.4"/>
<circle cx="387.6" cy="948.1" r="2.4"/>
<circle cx="386.1" cy="955.6" r="2.4"/>
<circle cx="387.6" cy="923" r="2.4"/>
<circle cx="387.2" cy="930.5" r="2.4"/>
<circle cx="387.5" cy="893.6" r="2.4"/>
<circle cx="386.7" cy="913.8" r="2.4"/>
<circle cx="387" cy="907" r="2.4"/>
<circle cx="387.2" cy="836.9" r="2.4"/>
<circle cx="387.3" cy="961.1" r="2.4"/>
<circle cx="386.9" cy="751.5" r="2.4"/>
<circle cx="386.3" cy="951.2" r="2.4"/>
<circle cx="387.3" cy="908.8" r="2.4"/>
<circle cx="386.7" cy="913.9" r="2.4"/>
<circle cx="387.2" cy="758.9" r="2.4"/>
<circle cx="387.1" cy="830.5" r="2.4"/>
<circle cx="387.4" cy="912.2" r="2.4"/>
<circle cx="387.6" cy="811.6" r="2.4"/>
<circle cx="387.7" cy="948.5" r="2.4"/>
<circle cx="387.3" cy="836.1" r="2.4"/>
<circle cx="387.3" cy="884.1" r="2.4"/>
<circle cx="386.8" cy="941" r="2.4"/>
<circle cx="386.9" cy="976.6" r="2.4"/>
<circle cx="387.4" cy="901.7" r="2.4"/>
<circle cx="387.5" cy="825.7" r="2.4"/>
<circle cx="387.6" cy="874" r="2.4"/>
<circle cx="386.5" cy="823.5" r="2.4"/>
<circle cx="386.5" cy="923.6" r="2.4"/>
<circle cx="386.5" cy="896.5" r="2.4"/>
<circle cx="387.4" cy="945" r="2.4"/>
<circle cx="386.3" cy="939.1" r="2.4"/>
<circle cx="387.1" cy="781.3" r="2.4"/>
<circle cx="387.3" cy="798.9" r="2.4"/>
<circle cx="387.8" cy="916.2" r="2.4"/>
<circle cx="387.3" cy="958.8" r="2.4"/>
<circle cx="387" cy="960.1" r="2.4"/>
<circle cx="386.3" cy="864.4" r="2.4"/>
<circle cx="387.3" cy="941.8" r="2.4"/>
<circle cx="387" cy="930.6" r="2.4"/>
<circle cx="387.7" cy="899.4" r="2.4"/>
<circle cx="386.4" cy="883.6" r="2.4"/>
<circle cx="387.5" cy="977.1" r="2.4"/>
<circle cx="388" cy="969.7" r="2.4"/>
<circle cx="386.4" cy="895.8" r="2.4"/>
<circle cx="387" cy="906.5" r="2.4"/>
<circle cx="387.5" cy="885.9" r="2.4"/>
<circle cx="387.7" cy="854.3" r="2.4"/>
<circle cx="386.7" cy="844.1" r="2.4"/>
<circle cx="386.5" cy="960.4" r="2.4"/>
<circle cx="386.6" cy="945.1" r="2.4"/>
<circle cx="387" cy="890.4" r="2.4"/>
<circle cx="387.5" cy="853.4" r="2.4"/>
<circle cx="387.9" cy="975.7" r="2.4"/>
<circle cx="386.4" cy="828.2" r="2.4"/>
<circle cx="387.4" cy="896.5" r="2.4"/>
<circle cx="387.8" cy="916.2" r="2.4"/>
<circle cx="387.4" cy="981.8" r="2.4"/>
<circle cx="386.9" cy="857.2" r="2.4"/>
<circle cx="386.9" cy="791.1" r="2.4"/>
<circle cx="386.7" cy="949" r="2.4"/>
<circle cx="387.1" cy="836.3" r="2.4"/>
<circle cx="387.3" cy="969.6" r="2.4"/>
<circle cx="386.9" cy="810.8" r="2.4"/>
<circle cx="387.5" cy="848.8" r="2.4"/>
<circle cx="386.9" cy="892.2" r="2.4"/>
<circle cx="386.6" cy="967.1" r="2.4"/>
<circle cx="387.8" cy="898.2" r="2.4"/>
<circle cx="387.1" cy="868.2" r="2.4"/>
<circle cx="386.7" cy="933.1" r="2.4"/>
<circle cx="386.9" cy="930" r="2.4"/>
<circle cx="387.1" cy="960.6" r="2.4"/>
<circle cx="387.1" cy="945.3" r="2.4"/>
<circle cx="386.8" cy="940.8" r="2.4"/>
<circle cx="386.8" cy="824.5" r="2.4"/>
<circle cx="386.2" cy="872.5" r="2.4"/>
<circle cx="387" cy="951.7" r="2.4"/>
<circle cx="387.3" cy="904.1" r="2.4"/>
<circle cx="386.6" cy="791.8" r="2.4"/>
<circle cx="386.1" cy="943.9" r="2.4"/>
<circle cx="387" cy="965.9" r="2.4"/>
<circle cx="387.7" cy="979.1" r="2.4"/>
<circle cx="386.7" cy="890.2" r="2.4"/>
<circle cx="387.4" cy="895.3" r="2.4"/>
<circle cx="387.4" cy="900.7" r="2.4"/>
<circle cx="387.5" cy="982.3" r="2.4"/>
<circle cx="387.4" cy="910.3" r="2.4"/>
<circle cx="387.1" cy="906.7" r="2.4"/>
<circle cx="387.7" cy="892.6" r="2.4"/>
<circle cx="387.1" cy="981.8" r="2.4"/>
<circle cx="386.3" cy="918.2" r="2.4"/>
<circle cx="431.9" cy="767" r="2.4"/>
<circle cx="432.6" cy="949.5" r="2.4"/>
<circle cx="432.3" cy="886.5" r="2.4"/>
<circle cx="432.2" cy="889.5" r="2.4"/>
<circle cx="432" cy="895.9" r="2.4"/>
<circle cx="431" cy="980.7" r="2.4"/>
<circle cx="431.9" cy="989.5" r="2.4"/>
<circle cx="431.6" cy="886.9" r="2.4"/>
<circle cx="432.3" cy="947.7" r="2.4"/>
<circle cx="431.3" cy="869.4" r="2.4"/>
<circle cx="432.1" cy="883.7" r="2.4"/>
<circle cx="432.3" cy="921.1" r="2.4"/>
<circle cx="431.6" cy="974" r="2.4"/>
<circle cx="431.2" cy="953.4" r="2.4"/>
<circle cx="432.1" cy="956.5" r="2.4"/>
<circle cx="432.1" cy="885" r="2.4"/>
<circle cx="432.5" cy="857.4" r="2.4"/>
<circle cx="432.6" cy="946.7" r="2.4"/>
<circle cx="431.3" cy="965.5" r="2.4"/>
<circle cx="432.1" cy="974.7" r="2.4"/>
<circle cx="432.2" cy="916.3" r="2.4"/>
<circle cx="432.2" cy="978.6" r="2.4"/>
<circle cx="432.5" cy="880.4" r="2.4"/>
<circle cx="431.7" cy="998.5" r="2.4"/>
<circle cx="432.8" cy="1000.7" r="2.4"/>
<circle cx="431.4" cy="909.5" r="2.4"/>
<circle cx="431.8" cy="886.9" r="2.4"/>
<circle cx="431.5" cy="859.3" r="2.4"/>
<circle cx="431" cy="974.7" r="2.4"/>
<circle cx="431.7" cy="956.9" r="2.4"/>
<circle cx="431.4" cy="971.5" r="2.4"/>
<circle cx="431.4" cy="934.9" r="2.4"/>
<circle cx="432.2" cy="797.5" r="2.4"/>
<circle cx="431.5" cy="913.9" r="2.4"/>
<circle cx="431.6" cy="1001.6" r="2.4"/>
<circle cx="431.2" cy="945.5" r="2.4"/>
<circle cx="432.5" cy="922.7" r="2.4"/>
<circle cx="432.5" cy="987.4" r="2.4"/>
<circle cx="431.3" cy="999.1" r="2.4"/>
<circle cx="431.4" cy="822.6" r="2.4"/>
<circle cx="431.9" cy="962.8" r="2.4"/>
<circle cx="432.2" cy="914.5" r="2.4"/>
<circle cx="432" cy="880.8" r="2.4"/>
<circle cx="431.3" cy="923.8" r="2.4"/>
<circle cx="431.3" cy="980.8" r="2.4"/>
<circle cx="432.4" cy="984.1" r="2.4"/>
<circle cx="431.8" cy="927.4" r="2.4"/>
<circle cx="431.3" cy="876.9" r="2.4"/>
<circle cx="431.6" cy="969.5" r="2.4"/>
<circle cx="431.6" cy="949.1" r="2.4"/>
<circle cx="431.4" cy="892.2" r="2.4"/>
<circle cx="431.7" cy="978.9" r="2.4"/>
<circle cx="432.4" cy="861.8" r="2.4"/>
<circle cx="431.5" cy="862.3" r="2.4"/>
<circle cx="431.9" cy="863.2" r="2.4"/>
<circle cx="431" cy="981" r="2.4"/>
<circle cx="432.3" cy="1000.4" r="2.4"/>
<circle cx="431.7" cy="988.3" r="2.4"/>
<circle cx="431.2" cy="927.4" r="2.4"/>
<circle cx="432.4" cy="891.3" r="2.4"/>
<circle cx="432.5" cy="896.6" r="2.4"/>
<circle cx="432.7" cy="988.6" r="2.4"/>
<circle cx="431.8" cy="858" r="2.4"/>
<circle cx="431.5" cy="988.6" r="2.4"/>
<circle cx="431.2" cy="887.1" r="2.4"/>
<circle cx="431.9" cy="944.3" r="2.4"/>
<circle cx="431.5" cy="878.7" r="2.4"/>
<circle cx="431.3" cy="960.1" r="2.4"/>
<circle cx="432.6" cy="982.2" r="2.4"/>
<circle cx="431.3" cy="924.3" r="2.4"/>
<circle cx="431.5" cy="950.4" r="2.4"/>
<circle cx="432.1" cy="845.7" r="2.4"/>
<circle cx="431.5" cy="948.5" r="2.4"/>
<circle cx="432.2" cy="887.7" r="2.4"/>
<circle cx="431.6" cy="999.4" r="2.4"/>
<circle cx="431.4" cy="952.7" r="2.4"/>
<circle cx="432" cy="932.5" r="2.4"/>
<circle cx="432" cy="901.1" r="2.4"/>
<circle cx="431.1" cy="945.7" r="2.4"/>
<circle cx="431.7" cy="850.6" r="2.4"/>
<circle cx="431.9" cy="860.3" r="2.4"/>
<circle cx="432.1" cy="953.9" r="2.4"/>
<circle cx="432.1" cy="995.4" r="2.4"/>
<circle cx="431.1" cy="980.2" r="2.4"/>
<circle cx="432.7" cy="993.8" r="2.4"/>
<circle cx="432.4" cy="953.7" r="2.4"/>
<circle cx="431.7" cy="947" r="2.4"/>
<circle cx="431.8" cy="864.2" r="2.4"/>
<circle cx="432.4" cy="972" r="2.4"/>
<circle cx="431.9" cy="996.5" r="2.4"/>
<circle cx="431.6" cy="1003" r="2.4"/>
<circle cx="431.8" cy="800.2" r="2.4"/>
<circle cx="432.3" cy="945.5" r="2.4"/>
<circle cx="431.2" cy="884.3" r="2.4"/>
<circle cx="431.3" cy="973.3" r="2.4"/>
<circle cx="432" cy="991" r="2.4"/>
<circle cx="431.9" cy="856.5" r="2.4"/>
<circle cx="431.3" cy="980.3" r="2.4"/>
<circle cx="431" cy="1004.3" r="2.4"/>
<circle cx="432" cy="860.5" r="2.4"/>
<circle cx="432" cy="966.6" r="2.4"/>
<circle cx="431.3" cy="1000.2" r="2.4"/>
<circle cx="431.9" cy="819.1" r="2.4"/>
<circle cx="431.7" cy="910.9" r="2.4"/>
<circle cx="432.5" cy="919.7" r="2.4"/>
<circle cx="432.2" cy="896.6" r="2.4"/>
<circle cx="431.5" cy="949.8" r="2.4"/>
<circle cx="431.4" cy="998.8" r="2.4"/>
<circle cx="431.4" cy="900.1" r="2.4"/>
<circle cx="432.2" cy="970.2" r="2.4"/>
<circle cx="431.3" cy="913.7" r="2.4"/>
<circle cx="431.6" cy="954.3" r="2.4"/>
<circle cx="432.1" cy="947.1" r="2.4"/>
<circle cx="431.4" cy="776" r="2.4"/>
<circle cx="432.6" cy="986.7" r="2.4"/>
<circle cx="431.5" cy="838.8" r="2.4"/>
<circle cx="476.7" cy="780.5" r="2.4"/>
<circle cx="477.3" cy="928" r="2.4"/>
<circle cx="477.4" cy="906" r="2.4"/>
<circle cx="477.2" cy="848.6" r="2.4"/>
<circle cx="476.8" cy="834.4" r="2.4"/>
<circle cx="477.2" cy="1003.1" r="2.4"/>
<circle cx="476.4" cy="996.4" r="2.4"/>
<circle cx="477.5" cy="1001.2" r="2.4"/>
<circle cx="477.1" cy="898.8" r="2.4"/>
<circle cx="476.1" cy="996.9" r="2.4"/>
<circle cx="477.2" cy="921.8" r="2.4"/>
<circle cx="477.5" cy="951.6" r="2.4"/>
<circle cx="476.6" cy="929.2" r="2.4"/>
<circle cx="476.4" cy="872.9" r="2.4"/>
<circle cx="476.2" cy="991.7" r="2.4"/>
<circle cx="477.3" cy="994.3" r="2.4"/>
<circle cx="476.4" cy="951.1" r="2.4"/>
<circle cx="476.4" cy="789.1" r="2.4"/>
<circle cx="477.6" cy="986" r="2.4"/>
<circle cx="476.3" cy="1002.1" r="2.4"/>
<circle cx="476.6" cy="999.1" r="2.4"/>
<circle cx="477.4" cy="917.5" r="2.4"/>
<circle cx="477.1" cy="985" r="2.4"/>
<circle cx="476.1" cy="901.3" r="2.4"/>
<circle cx="476.4" cy="877.1" r="2.4"/>
<circle cx="476.8" cy="879.5" r="2.4"/>
<circle cx="476.3" cy="907.2" r="2.4"/>
<circle cx="476.5" cy="992" r="2.4"/>
<circle cx="476.2" cy="793.1" r="2.4"/>
<circle cx="475.9" cy="948.3" r="2.4"/>
<circle cx="475.9" cy="949.1" r="2.4"/>
<circle cx="476.9" cy="935.2" r="2.4"/>
<circle cx="476.2" cy="946.5" r="2.4"/>
<circle cx="477.6" cy="987.3" r="2.4"/>
<circle cx="477.6" cy="984.2" r="2.4"/>
<circle cx="476.5" cy="1003.1" r="2.4"/>
<circle cx="476.6" cy="947" r="2.4"/>
<circle cx="476.1" cy="980.8" r="2.4"/>
<circle cx="476.6" cy="888" r="2.4"/>
<circle cx="477.6" cy="947.1" r="2.4"/>
<circle cx="475.9" cy="911.4" r="2.4"/>
<circle cx="477.3" cy="921.2" r="2.4"/>
<circle cx="476.7" cy="850.4" r="2.4"/>
<circle cx="477.3" cy="955.4" r="2.4"/>
<circle cx="476.9" cy="909.7" r="2.4"/>
<circle cx="477.7" cy="1000.9" r="2.4"/>
<circle cx="476.4" cy="950.3" r="2.4"/>
<circle cx="477.1" cy="962.6" r="2.4"/>
<circle cx="477" cy="966.8" r="2.4"/>
<circle cx="477.1" cy="920.6" r="2.4"/>
<circle cx="476.3" cy="914.4" r="2.4"/>
<circle cx="476.8" cy="851.9" r="2.4"/>
<circle cx="476.4" cy="873.7" r="2.4"/>
<circle cx="476.5" cy="903.7" r="2.4"/>
<circle cx="477.5" cy="926.3" r="2.4"/>
<circle cx="476.8" cy="944.4" r="2.4"/>
<circle cx="476.8" cy="923.4" r="2.4"/>
<circle cx="476.8" cy="984.3" r="2.4"/>
<circle cx="476.5" cy="942.2" r="2.4"/>
<circle cx="476.3" cy="877.7" r="2.4"/>
<circle cx="476.5" cy="848" r="2.4"/>
<circle cx="476.6" cy="826" r="2.4"/>
<circle cx="476" cy="951.5" r="2.4"/>
<circle cx="476.6" cy="976.9" r="2.4"/>
<circle cx="476.6" cy="958.9" r="2.4"/>
<circle cx="477.1" cy="981.8" r="2.4"/>
<circle cx="476.8" cy="859" r="2.4"/>
<circle cx="477.1" cy="896.7" r="2.4"/>
<circle cx="476.3" cy="918" r="2.4"/>
<circle cx="477.3" cy="822" r="2.4"/>
<circle cx="476.4" cy="858.5" r="2.4"/>
<circle cx="475.8" cy="998.4" r="2.4"/>
<circle cx="476.6" cy="925.2" r="2.4"/>
<circle cx="477.2" cy="966.8" r="2.4"/>
<circle cx="476.4" cy="1003.5" r="2.4"/>
<circle cx="476.4" cy="846.2" r="2.4"/>
<circle cx="476.5" cy="796.4" r="2.4"/>
<circle cx="477.4" cy="958.4" r="2.4"/>
<circle cx="476.4" cy="851.7" r="2.4"/>
<circle cx="476.9" cy="993.5" r="2.4"/>
<circle cx="476" cy="923.3" r="2.4"/>
<circle cx="476.4" cy="834.1" r="2.4"/>
<circle cx="475.9" cy="957.8" r="2.4"/>
<circle cx="477.3" cy="940.6" r="2.4"/>
<circle cx="476.5" cy="791.4" r="2.4"/>
<circle cx="476.9" cy="925.7" r="2.4"/>
<circle cx="477.1" cy="974.2" r="2.4"/>
<circle cx="476.5" cy="929.3" r="2.4"/>
<circle cx="476.6" cy="959.2" r="2.4"/>
<circle cx="476.8" cy="998.2" r="2.4"/>
<circle cx="477" cy="953.3" r="2.4"/>
<circle cx="476.7" cy="937.4" r="2.4"/>
<circle cx="476.9" cy="964.5" r="2.4"/>
<circle cx="476.3" cy="1006.2" r="2.4"/>
<circle cx="477.5" cy="939.3" r="2.4"/>
<circle cx="476.8" cy="984.3" r="2.4"/>
<circle cx="476.2" cy="905.1" r="2.4"/>
<circle cx="521.6" cy="798.4" r="2.4"/>
<circle cx="521.5" cy="957.9" r="2.4"/>
<circle cx="521.2" cy="961" r="2.4"/>
<circle cx="521.7" cy="969.8" r="2.4"/>
<circle cx="521.8" cy="877.4" r="2.4"/>
<circle cx="521" cy="1006.8" r="2.4"/>
<circle cx="520.9" cy="921.8" r="2.4"/>
<circle cx="521.9" cy="968.2" r="2.4"/>
<circle cx="521.7" cy="957.1" r="2.4"/>
<circle cx="520.8" cy="990.8" r="2.4"/>
<circle cx="521.6" cy="855.7" r="2.4"/>
<circle cx="522" cy="1036.2" r="2.4"/>
<circle cx="521.2" cy="963.5" r="2.4"/>
<circle cx="521.8" cy="888.2" r="2.4"/>
<circle cx="521.4" cy="1014.7" r="2.4"/>
<circle cx="521.3" cy="870.6" r="2.4"/>
<circle cx="522.1" cy="1006.4" r="2.4"/>
<circle cx="522.2" cy="954.9" r="2.4"/>
<circle cx="520.8" cy="952.8" r="2.4"/>
<circle cx="522.1" cy="910.3" r="2.4"/>
<circle cx="520.8" cy="1006.1" r="2.4"/>
<circle cx="521.4" cy="930.7" r="2.4"/>
<circle cx="520.8" cy="970" r="2.4"/>
<circle cx="521.6" cy="1035.8" r="2.4"/>
<circle cx="520.9" cy="925.5" r="2.4"/>
<circle cx="522.3" cy="985.3" r="2.4"/>
<circle cx="522.2" cy="1008.1" r="2.4"/>
<circle cx="521.9" cy="1029.6" r="2.4"/>
<circle cx="521.4" cy="857.5" r="2.4"/>
<circle cx="521.4" cy="987" r="2.4"/>
<circle cx="521" cy="913.6" r="2.4"/>
<circle cx="521.9" cy="1028.5" r="2.4"/>
<circle cx="521.5" cy="933.6" r="2.4"/>
<circle cx="520.9" cy="1029.4" r="2.4"/>
<circle cx="521.1" cy="994.6" r="2.4"/>
<circle cx="522.2" cy="1033.6" r="2.4"/>
<circle cx="521.3" cy="1039.2" r="2.4"/>
<circle cx="521.3" cy="974.6" r="2.4"/>
<circle cx="522.3" cy="945" r="2.4"/>
<circle cx="522.6" cy="1041.9" r="2.4"/>
<circle cx="521.6" cy="1034.1" r="2.4"/>
<circle cx="522.3" cy="999.4" r="2.4"/>
<circle cx="522.3" cy="960.7" r="2.4"/>
<circle cx="521.2" cy="1019.2" r="2.4"/>
<circle cx="521.9" cy="946.7" r="2.4"/>
<circle cx="521.2" cy="898.6" r="2.4"/>
<circle cx="521" cy="907.2" r="2.4"/>
<circle cx="522.6" cy="1034.1" r="2.4"/>
<circle cx="521.6" cy="1022.4" r="2.4"/>
<circle cx="521.9" cy="1012" r="2.4"/>
<circle cx="521.6" cy="962.7" r="2.4"/>
<circle cx="521.2" cy="886.8" r="2.4"/>
<circle cx="521.4" cy="943.4" r="2.4"/>
<circle cx="521.1" cy="999.2" r="2.4"/>
<circle cx="522.1" cy="919" r="2.4"/>
<circle cx="522.4" cy="1017.1" r="2.4"/>
<circle cx="521" cy="1016.7" r="2.4"/>
<circle cx="522.1" cy="971.1" r="2.4"/>
<circle cx="521.1" cy="1020.5" r="2.4"/>
<circle cx="521.7" cy="970.2" r="2.4"/>
<circle cx="521.3" cy="824.4" r="2.4"/>
<circle cx="521.9" cy="1011.4" r="2.4"/>
<circle cx="521.7" cy="963.8" r="2.4"/>
<circle cx="521.3" cy="978.1" r="2.4"/>
<circle cx="521.9" cy="870.6" r="2.4"/>
<circle cx="521.5" cy="1015.8" r="2.4"/>
<circle cx="522.2" cy="1015.3" r="2.4"/>
<circle cx="522.1" cy="1004.1" r="2.4"/>
<circle cx="520.7" cy="1041.5" r="2.4"/>
<circle cx="521.5" cy="1038.4" r="2.4"/>
<circle cx="522" cy="1016.5" r="2.4"/>
<circle cx="566.4" cy="707.5" r="2.4"/>
<circle cx="566.5" cy="786.3" r="2.4"/>
<circle cx="566.7" cy="782.5" r="2.4"/>
<circle cx="566.3" cy="853.7" r="2.4"/>
<circle cx="566.7" cy="838.7" r="2.4"/>
<circle cx="566.2" cy="908.5" r="2.4"/>
<circle cx="566.1" cy="923.7" r="2.4"/>
<circle cx="566.6" cy="932.4" r="2.4"/>
<circle cx="566.6" cy="927.3" r="2.4"/>
<circle cx="566.7" cy="956.8" r="2.4"/>
<circle cx="566.5" cy="878.5" r="2.4"/>
<circle cx="566.2" cy="896.6" r="2.4"/>
<circle cx="566.7" cy="846.5" r="2.4"/>
<circle cx="567" cy="934.6" r="2.4"/>
<circle cx="566.4" cy="915.5" r="2.4"/>
<circle cx="566.7" cy="865.3" r="2.4"/>
<circle cx="566.9" cy="909.8" r="2.4"/>
<circle cx="566.3" cy="924.6" r="2.4"/>
<circle cx="566" cy="840" r="2.4"/>
<circle cx="566.4" cy="929.3" r="2.4"/>
<circle cx="566" cy="865.2" r="2.4"/>
<circle cx="566.9" cy="884.2" r="2.4"/>
<circle cx="566.7" cy="839.7" r="2.4"/>
<circle cx="566.6" cy="926.3" r="2.4"/>
<circle cx="566.2" cy="901.3" r="2.4"/>
<circle cx="566.5" cy="913.7" r="2.4"/>
<circle cx="566.5" cy="954.4" r="2.4"/>
<circle cx="566.9" cy="857" r="2.4"/>
<circle cx="566.3" cy="905.9" r="2.4"/>
<circle cx="566" cy="909.9" r="2.4"/>
<circle cx="566.8" cy="816.6" r="2.4"/>
<circle cx="566.8" cy="878.4" r="2.4"/>
<circle cx="566.4" cy="823.9" r="2.4"/>
<circle cx="566.7" cy="829.8" r="2.4"/>
<circle cx="566.3" cy="901.5" r="2.4"/>
<circle cx="566.1" cy="863.2" r="2.4"/>
<circle cx="566.6" cy="822.7" r="2.4"/>
<circle cx="566" cy="847.8" r="2.4"/>
<circle cx="566.4" cy="863.5" r="2.4"/>
<circle cx="566.3" cy="957.1" r="2.4"/>
<circle cx="566.9" cy="867" r="2.4"/>
<circle cx="566.4" cy="920.7" r="2.4"/>
<circle cx="566.2" cy="865.9" r="2.4"/>
<circle cx="566.4" cy="805.6" r="2.4"/>
<circle cx="566" cy="908.4" r="2.4"/>
<circle cx="566.1" cy="880.8" r="2.4"/>
<circle cx="566.3" cy="902.3" r="2.4"/>
<circle cx="566.8" cy="912.4" r="2.4"/>
<circle cx="566.3" cy="867.2" r="2.4"/>
<circle cx="566.2" cy="778" r="2.4"/>
<circle cx="566.8" cy="905.5" r="2.4"/>
<circle cx="566.9" cy="801" r="2.4"/>
<circle cx="566.3" cy="947.6" r="2.4"/>
<circle cx="566.6" cy="891.9" r="2.4"/>
<circle cx="566.3" cy="851.6" r="2.4"/>
<circle cx="566.4" cy="920.8" r="2.4"/>
<circle cx="566.5" cy="873.5" r="2.4"/>
<circle cx="566.4" cy="793.1" r="2.4"/>
<circle cx="566.1" cy="843.8" r="2.4"/>
<circle cx="566.7" cy="889.3" r="2.4"/>
<circle cx="566.4" cy="889.6" r="2.4"/>
<circle cx="566.4" cy="913" r="2.4"/>
<circle cx="566" cy="956.3" r="2.4"/>
<circle cx="566.5" cy="730.3" r="2.4"/>
<circle cx="566.3" cy="916.9" r="2.4"/>
<circle cx="566.3" cy="866.1" r="2.4"/>
<circle cx="566.7" cy="831.3" r="2.4"/>
<circle cx="566.2" cy="940.8" r="2.4"/>
<circle cx="566.4" cy="896.2" r="2.4"/>
<circle cx="566.7" cy="798.6" r="2.4"/>
<circle cx="567" cy="890.6" r="2.4"/>
<circle cx="567" cy="947" r="2.4"/>
<circle cx="566.1" cy="836" r="2.4"/>
<circle cx="565.9" cy="933.5" r="2.4"/>
<circle cx="566.1" cy="915.7" r="2.4"/>
<circle cx="565.9" cy="918.4" r="2.4"/>
<circle cx="566.8" cy="781.8" r="2.4"/>
<circle cx="566.4" cy="887.8" r="2.4"/>
<circle cx="566.8" cy="955.1" r="2.4"/>
<circle cx="566.6" cy="826.8" r="2.4"/>
<circle cx="566.4" cy="863.4" r="2.4"/>
<circle cx="566.2" cy="848" r="2.4"/>
<circle cx="566.2" cy="845.7" r="2.4"/>
<circle cx="566.8" cy="816.6" r="2.4"/>
<circle cx="566.5" cy="862.1" r="2.4"/>
<circle cx="566.7" cy="933.7" r="2.4"/>
<circle cx="566.9" cy="806.9" r="2.4"/>
<circle cx="566.9" cy="949.9" r="2.4"/>
<circle cx="566.8" cy="851.6" r="2.4"/>
<circle cx="565.9" cy="908.7" r="2.4"/>
<circle cx="566.6" cy="861.8" r="2.4"/>
<circle cx="566.9" cy="892.8" r="2.4"/>
<circle cx="566.9" cy="930.8" r="2.4"/>
<circle cx="566.2" cy="956.1" r="2.4"/>
<circle cx="565.8" cy="946.8" r="2.4"/>
<circle cx="565.9" cy="931.9" r="2.4"/>
<circle cx="566.4" cy="885" r="2.4"/>
<circle cx="566.6" cy="774.8" r="2.4"/>
<circle cx="566.1" cy="930.3" r="2.4"/>
<circle cx="566.7" cy="831.8" r="2.4"/>
<circle cx="565.9" cy="890.1" r="2.4"/>
<circle cx="566.9" cy="846.6" r="2.4"/>
<circle cx="566.2" cy="839.4" r="2.4"/>
<circle cx="566.8" cy="876.1" r="2.4"/>
<circle cx="566.3" cy="933.4" r="2.4"/>
<circle cx="565.9" cy="912.4" r="2.4"/>
<circle cx="566.3" cy="771.5" r="2.4"/>
<circle cx="566" cy="907.4" r="2.4"/>
<circle cx="566.8" cy="759.5" r="2.4"/>
<circle cx="566" cy="815.8" r="2.4"/>
<circle cx="566" cy="781" r="2.4"/>
<circle cx="566.5" cy="841.8" r="2.4"/>
<circle cx="566.2" cy="910.9" r="2.4"/>
<circle cx="566.3" cy="887.8" r="2.4"/>
<circle cx="566" cy="898.7" r="2.4"/>
<circle cx="565.9" cy="905.9" r="2.4"/>
<circle cx="566" cy="948.7" r="2.4"/>
<circle cx="566.1" cy="894.5" r="2.4"/>
<circle cx="566.2" cy="874.9" r="2.4"/>
<circle cx="566.8" cy="908.5" r="2.4"/>
</g>
<g fill="#FD8D3C" fill-opacity=".75" stroke="#FD8D3C" stroke-opacity=".9" stroke-width="1.3">
<circle cx="162.6" cy="64" r="2.5"/>
<circle cx="162.8" cy="66.4" r="2.5"/>
<circle cx="162.7" cy="67.9" r="2.5"/>
<circle cx="162.3" cy="71.2" r="2.5"/>
<circle cx="162.3" cy="74.5" r="2.5"/>
<circle cx="162.4" cy="76.6" r="2.5"/>
<circle cx="162.6" cy="77.7" r="2.5"/>
<circle cx="162.4" cy="80.1" r="2.5"/>
<circle cx="162.8" cy="81.3" r="2.5"/>
<circle cx="162.7" cy="63.9" r="2.5"/>
<circle cx="207.8" cy="100" r="2.5"/>
<circle cx="207.7" cy="110.6" r="2.5"/>
<circle cx="207.6" cy="99.3" r="2.5"/>
<circle cx="252.7" cy="81" r="2.5"/>
<circle cx="252.8" cy="83.9" r="2.5"/>
<circle cx="252" cy="91.4" r="2.5"/>
<circle cx="252.7" cy="93.4" r="2.5"/>
<circle cx="252.4" cy="95.8" r="2.5"/>
<circle cx="252.2" cy="97" r="2.5"/>
<circle cx="252.2" cy="80.5" r="2.5"/>
<circle cx="297" cy="51" r="2.5"/>
<circle cx="342.5" cy="139" r="2.5"/>
<circle cx="342.2" cy="140.3" r="2.5"/>
<circle cx="341.9" cy="144.3" r="2.5"/>
<circle cx="342.4" cy="145.4" r="2.5"/>
<circle cx="342.2" cy="146.3" r="2.5"/>
<circle cx="341.9" cy="109" r="2.5"/>
<circle cx="342" cy="122.9" r="2.5"/>
<circle cx="342.2" cy="126" r="2.5"/>
<circle cx="342.1" cy="129.5" r="2.5"/>
<circle cx="342.2" cy="133" r="2.5"/>
<circle cx="386.9" cy="94" r="2.5"/>
<circle cx="387.3" cy="96.4" r="2.5"/>
<circle cx="386.7" cy="103.3" r="2.5"/>
<circle cx="387.1" cy="106.6" r="2.5"/>
<circle cx="387.1" cy="108.7" r="2.5"/>
<circle cx="387.2" cy="93.4" r="2.5"/>
<circle cx="431.9" cy="72" r="2.5"/>
<circle cx="432.2" cy="79.2" r="2.5"/>
<circle cx="431.8" cy="84.2" r="2.5"/>
<circle cx="431.6" cy="86.9" r="2.5"/>
<circle cx="432.3" cy="90.9" r="2.5"/>
<circle cx="431.5" cy="92.3" r="2.5"/>
<circle cx="431.7" cy="93.6" r="2.5"/>
<circle cx="432.2" cy="96" r="2.5"/>
<circle cx="431.5" cy="97.9" r="2.5"/>
<circle cx="432" cy="99.7" r="2.5"/>
<circle cx="432.2" cy="71.4" r="2.5"/>
<circle cx="476.5" cy="89" r="2.5"/>
<circle cx="476.8" cy="94.1" r="2.5"/>
<circle cx="476.7" cy="96.1" r="2.5"/>
<circle cx="476.7" cy="97.1" r="2.5"/>
<circle cx="476.4" cy="64" r="2.5"/>
<circle cx="521.3" cy="56.8" r="2.5"/>
<circle cx="566.7" cy="98.2" r="2.5"/>
<circle cx="566.2" cy="111.2" r="2.5"/>
<circle cx="566.3" cy="117" r="2.5"/>
<circle cx="566.2" cy="138.6" r="2.5"/>
<circle cx="566.5" cy="143.4" r="2.5"/>
<circle cx="566.5" cy="169.3" r="2.5"/>
<circle cx="566.4" cy="176.4" r="2.5"/>
<circle cx="566.4" cy="194.3" r="2.5"/>
<circle cx="566.5" cy="207.7" r="2.5"/>
<circle cx="566.6" cy="216.6" r="2.5"/>
<circle cx="566.3" cy="222" r="2.5"/>
<circle cx="741.3" cy="107" r="2.5"/>
<circle cx="741.2" cy="108.1" r="2.5"/>
<circle cx="741" cy="114.2" r="2.5"/>
<circle cx="741.6" cy="116.1" r="2.5"/>
<circle cx="741.3" cy="118.4" r="2.5"/>
<circle cx="741.7" cy="120.2" r="2.5"/>
<circle cx="741.5" cy="121.4" r="2.5"/>
<circle cx="741.2" cy="124.8" r="2.5"/>
<circle cx="741.6" cy="126.5" r="2.5"/>
<circle cx="741.3" cy="128.4" r="2.5"/>
<circle cx="741.4" cy="129.3" r="2.5"/>
<circle cx="741.6" cy="130.7" r="2.5"/>
<circle cx="741.3" cy="131.9" r="2.5"/>
<circle cx="741.6" cy="106.7" r="2.5"/>
<circle cx="785.8" cy="177" r="2.5"/>
<circle cx="786.5" cy="179" r="2.5"/>
<circle cx="786.3" cy="183.5" r="2.5"/>
<circle cx="786.1" cy="187.3" r="2.5"/>
<circle cx="786.1" cy="189.2" r="2.5"/>
<circle cx="786.3" cy="193.4" r="2.5"/>
<circle cx="785.9" cy="195.1" r="2.5"/>
<circle cx="786.4" cy="196.6" r="2.5"/>
<circle cx="786.4" cy="198.3" r="2.5"/>
<circle cx="785.9" cy="200.4" r="2.5"/>
<circle cx="785.9" cy="202.2" r="2.5"/>
<circle cx="786" cy="203.9" r="2.5"/>
<circle cx="786.5" cy="90" r="2.5"/>
<circle cx="786.1" cy="109" r="2.5"/>
<circle cx="786.1" cy="139" r="2.5"/>
<circle cx="786.5" cy="148" r="2.5"/>
<circle cx="786.3" cy="149.5" r="2.5"/>
<circle cx="786.5" cy="164.5" r="2.5"/>
<circle cx="786.2" cy="166" r="2.5"/>
<circle cx="831.4" cy="177" r="2.5"/>
<circle cx="831.4" cy="184.7" r="2.5"/>
<circle cx="830.8" cy="185.8" r="2.5"/>
<circle cx="831.4" cy="187.3" r="2.5"/>
<circle cx="830.9" cy="188.2" r="2.5"/>
<circle cx="831.4" cy="126.7" r="2.5"/>
<circle cx="830.9" cy="128" r="2.5"/>
<circle cx="831" cy="132" r="2.5"/>
<circle cx="831.2" cy="135" r="2.5"/>
<circle cx="831.2" cy="138" r="2.5"/>
<circle cx="831.2" cy="142" r="2.5"/>
<circle cx="831.2" cy="145" r="2.5"/>
<circle cx="830.9" cy="158" r="2.5"/>
<circle cx="830.9" cy="162" r="2.5"/>
<circle cx="830.8" cy="166" r="2.5"/>
<circle cx="831.2" cy="170" r="2.5"/>
<circle cx="830.9" cy="174" r="2.5"/>
<circle cx="875.7" cy="108.5" r="2.5"/>
<circle cx="875.9" cy="113.5" r="2.5"/>
<circle cx="875.5" cy="116.4" r="2.5"/>
<circle cx="875.6" cy="117.9" r="2.5"/>
<circle cx="876" cy="119.3" r="2.5"/>
<circle cx="875.7" cy="124.1" r="2.5"/>
<circle cx="876.1" cy="128.1" r="2.5"/>
<circle cx="875.9" cy="130.1" r="2.5"/>
<circle cx="876.2" cy="131.5" r="2.5"/>
<circle cx="875.5" cy="133.7" r="2.5"/>
<circle cx="876" cy="134.9" r="2.5"/>
<circle cx="876.1" cy="136.4" r="2.5"/>
<circle cx="876.1" cy="137.7" r="2.5"/>
<circle cx="875.6" cy="139.7" r="2.5"/>
<circle cx="875.6" cy="141.3" r="2.5"/>
<circle cx="876.1" cy="142.9" r="2.5"/>
<circle cx="875.7" cy="144.6" r="2.5"/>
<circle cx="876" cy="108" r="2.5"/>
<circle cx="920.9" cy="245" r="2.5"/>
<circle cx="920.6" cy="254.5" r="2.5"/>
<circle cx="920.5" cy="258.1" r="2.5"/>
<circle cx="920.7" cy="259" r="2.5"/>
<circle cx="921" cy="261.1" r="2.5"/>
<circle cx="920.7" cy="163.6" r="2.5"/>
<circle cx="921" cy="189" r="2.5"/>
<circle cx="920.8" cy="206" r="2.5"/>
<circle cx="920.5" cy="210" r="2.5"/>
<circle cx="920.8" cy="214" r="2.5"/>
<circle cx="920.9" cy="218" r="2.5"/>
<circle cx="920.7" cy="222" r="2.5"/>
<circle cx="920.8" cy="226" r="2.5"/>
<circle cx="920.6" cy="231" r="2.5"/>
<circle cx="920.6" cy="236" r="2.5"/>
<circle cx="920.7" cy="240" r="2.5"/>
<circle cx="920.7" cy="243" r="2.5"/>
<circle cx="965.5" cy="185" r="2.5"/>
<circle cx="965.4" cy="193.7" r="2.5"/>
<circle cx="965.3" cy="197.8" r="2.5"/>
<circle cx="965.6" cy="200.4" r="2.5"/>
<circle cx="965.8" cy="202.5" r="2.5"/>
<circle cx="965.6" cy="165.8" r="2.5"/>
<circle cx="965.8" cy="182" r="2.5"/>
<circle cx="965.5" cy="184" r="2.5"/>
<circle cx="1010.1" cy="135" r="2.5"/>
<circle cx="1010.3" cy="144.8" r="2.5"/>
<circle cx="1010.5" cy="148.2" r="2.5"/>
<circle cx="1010" cy="150.5" r="2.5"/>
<circle cx="1010.3" cy="153.1" r="2.5"/>
<circle cx="1010.3" cy="154.1" r="2.5"/>
<circle cx="1010.2" cy="157.8" r="2.5"/>
<circle cx="1010.5" cy="160.7" r="2.5"/>
<circle cx="1010" cy="162" r="2.5"/>
<circle cx="1010.5" cy="164.3" r="2.5"/>
<circle cx="1010.1" cy="165.8" r="2.5"/>
<circle cx="1010.7" cy="168.1" r="2.5"/>
<circle cx="1010.4" cy="169.3" r="2.5"/>
<circle cx="1010.2" cy="170.9" r="2.5"/>
<circle cx="1010.2" cy="171.9" r="2.5"/>
<circle cx="1010.5" cy="173.5" r="2.5"/>
<circle cx="1010.1" cy="174.9" r="2.5"/>
<circle cx="1010.2" cy="176" r="2.5"/>
<circle cx="1010.3" cy="112" r="2.5"/>
<circle cx="1010.6" cy="133" r="2.5"/>
<circle cx="1055.1" cy="137" r="2.5"/>
<circle cx="1054.9" cy="142.9" r="2.5"/>
<circle cx="1055.5" cy="145.6" r="2.5"/>
<circle cx="1054.9" cy="149.1" r="2.5"/>
<circle cx="1055.3" cy="151.1" r="2.5"/>
<circle cx="1055.2" cy="153" r="2.5"/>
<circle cx="1055.2" cy="156.5" r="2.5"/>
<circle cx="1055.5" cy="159.4" r="2.5"/>
<circle cx="1055.6" cy="160.4" r="2.5"/>
<circle cx="1054.8" cy="161.9" r="2.5"/>
<circle cx="1055.3" cy="165" r="2.5"/>
<circle cx="1055" cy="167.2" r="2.5"/>
<circle cx="1055.1" cy="169.7" r="2.5"/>
<circle cx="1055" cy="171.9" r="2.5"/>
<circle cx="1055.3" cy="173.6" r="2.5"/>
<circle cx="1055.2" cy="175" r="2.5"/>
<circle cx="1055.3" cy="176" r="2.5"/>
<circle cx="1054.9" cy="177.7" r="2.5"/>
<circle cx="1055.4" cy="179.2" r="2.5"/>
<circle cx="1055.5" cy="180.2" r="2.5"/>
<circle cx="1054.9" cy="181.9" r="2.5"/>
<circle cx="1055" cy="87.7" r="2.5"/>
<circle cx="1055.1" cy="113.5" r="2.5"/>
<circle cx="1055" cy="121" r="2.5"/>
<circle cx="1099.9" cy="74.7" r="2.5"/>
<circle cx="1100.3" cy="75.7" r="2.5"/>
<circle cx="1099.6" cy="80" r="2.5"/>
<circle cx="1099.8" cy="86.4" r="2.5"/>
<circle cx="1099.7" cy="88" r="2.5"/>
<circle cx="1100.2" cy="89" r="2.5"/>
<circle cx="1100" cy="90.9" r="2.5"/>
<circle cx="1099.9" cy="92.1" r="2.5"/>
<circle cx="1100" cy="51.3" r="2.5"/>
<circle cx="1100.3" cy="53" r="2.5"/>
<circle cx="1144.7" cy="414" r="2.5"/>
<circle cx="1144.6" cy="417.5" r="2.5"/>
<circle cx="1145.1" cy="422.3" r="2.5"/>
<circle cx="1144.8" cy="424" r="2.5"/>
<circle cx="1144.9" cy="429.5" r="2.5"/>
<circle cx="1145.1" cy="431.4" r="2.5"/>
<circle cx="1144.8" cy="434.3" r="2.5"/>
<circle cx="1145" cy="435.4" r="2.5"/>
<circle cx="1145.2" cy="437.3" r="2.5"/>
<circle cx="1144.7" cy="439" r="2.5"/>
<circle cx="1144.7" cy="440.4" r="2.5"/>
<circle cx="1144.9" cy="189" r="2.5"/>
<circle cx="1145.1" cy="224" r="2.5"/>
<circle cx="1145.1" cy="233" r="2.5"/>
<circle cx="1145.1" cy="236" r="2.5"/>
<circle cx="1144.9" cy="253" r="2.5"/>
<circle cx="1145.1" cy="281" r="2.5"/>
<circle cx="1144.7" cy="291" r="2.5"/>
<circle cx="1145.1" cy="296" r="2.5"/>
<circle cx="1145" cy="306" r="2.5"/>
<circle cx="1145.1" cy="316" r="2.5"/>
<circle cx="1144.8" cy="324" r="2.5"/>
<circle cx="1145.2" cy="343" r="2.5"/>
<circle cx="1144.6" cy="352" r="2.5"/>
<circle cx="1145.1" cy="371" r="2.5"/>
<circle cx="1145.1" cy="377" r="2.5"/>
<circle cx="1144.8" cy="383" r="2.5"/>
<circle cx="1145.1" cy="392" r="2.5"/>
<circle cx="1144.7" cy="397" r="2.5"/>
<circle cx="1145" cy="402" r="2.5"/>
<circle cx="1144.9" cy="408" r="2.5"/>
<circle cx="741.2" cy="838" r="2.5"/>
<circle cx="741.4" cy="839.3" r="2.5"/>
<circle cx="741.6" cy="840.5" r="2.5"/>
<circle cx="741.2" cy="846.2" r="2.5"/>
<circle cx="741.2" cy="848.7" r="2.5"/>
<circle cx="741.1" cy="850" r="2.5"/>
<circle cx="741.4" cy="852.4" r="2.5"/>
<circle cx="741.3" cy="854.2" r="2.5"/>
<circle cx="741.5" cy="787.2" r="2.5"/>
<circle cx="741.5" cy="789.5" r="2.5"/>
<circle cx="741.3" cy="792" r="2.5"/>
<circle cx="741.4" cy="795" r="2.5"/>
<circle cx="741.2" cy="807" r="2.5"/>
<circle cx="741.7" cy="831" r="2.5"/>
<circle cx="741.5" cy="835" r="2.5"/>
<circle cx="786.3" cy="773" r="2.5"/>
<circle cx="786.1" cy="778.6" r="2.5"/>
<circle cx="786.5" cy="780" r="2.5"/>
<circle cx="785.9" cy="782.6" r="2.5"/>
<circle cx="786.5" cy="784.9" r="2.5"/>
<circle cx="786.4" cy="732" r="2.5"/>
<circle cx="786.1" cy="739" r="2.5"/>
<circle cx="786.3" cy="767" r="2.5"/>
<circle cx="786.4" cy="771" r="2.5"/>
<circle cx="830.7" cy="813" r="2.5"/>
<circle cx="831.2" cy="814.1" r="2.5"/>
<circle cx="831" cy="818.6" r="2.5"/>
<circle cx="831" cy="823.7" r="2.5"/>
<circle cx="830.7" cy="825.8" r="2.5"/>
<circle cx="831.4" cy="830.3" r="2.5"/>
<circle cx="831" cy="832" r="2.5"/>
<circle cx="830.7" cy="833.7" r="2.5"/>
<circle cx="831.3" cy="836.4" r="2.5"/>
<circle cx="830.9" cy="837.7" r="2.5"/>
<circle cx="831.3" cy="839.5" r="2.5"/>
<circle cx="831" cy="841" r="2.5"/>
<circle cx="831.3" cy="842.1" r="2.5"/>
<circle cx="831.3" cy="843.8" r="2.5"/>
<circle cx="831.1" cy="708.4" r="2.5"/>
<circle cx="831.4" cy="774" r="2.5"/>
<circle cx="831.2" cy="781" r="2.5"/>
<circle cx="831" cy="785" r="2.5"/>
<circle cx="830.8" cy="797" r="2.5"/>
<circle cx="830.8" cy="803" r="2.5"/>
<circle cx="831.2" cy="807" r="2.5"/>
<circle cx="875.7" cy="755" r="2.5"/>
<circle cx="875.9" cy="764" r="2.5"/>
<circle cx="875.7" cy="767.1" r="2.5"/>
<circle cx="875.7" cy="769.6" r="2.5"/>
<circle cx="876.1" cy="772.2" r="2.5"/>
<circle cx="876" cy="776.5" r="2.5"/>
<circle cx="876" cy="780.3" r="2.5"/>
<circle cx="875.5" cy="781.4" r="2.5"/>
<circle cx="875.7" cy="782.7" r="2.5"/>
<circle cx="876.1" cy="784.8" r="2.5"/>
<circle cx="875.8" cy="786.7" r="2.5"/>
<circle cx="876.3" cy="788" r="2.5"/>
<circle cx="875.8" cy="790" r="2.5"/>
<circle cx="876.3" cy="791" r="2.5"/>
<circle cx="876.2" cy="792.2" r="2.5"/>
<circle cx="876" cy="793.2" r="2.5"/>
<circle cx="876.2" cy="794.5" r="2.5"/>
<circle cx="875.6" cy="795.7" r="2.5"/>
<circle cx="876.1" cy="796.8" r="2.5"/>
<circle cx="876" cy="712.9" r="2.5"/>
<circle cx="876" cy="719" r="2.5"/>
<circle cx="875.8" cy="724" r="2.5"/>
<circle cx="920.6" cy="748" r="2.5"/>
<circle cx="920.6" cy="754.9" r="2.5"/>
<circle cx="921.1" cy="762.3" r="2.5"/>
<circle cx="921" cy="766.2" r="2.5"/>
<circle cx="920.4" cy="767.3" r="2.5"/>
<circle cx="920.4" cy="769.1" r="2.5"/>
<circle cx="921.1" cy="771" r="2.5"/>
<circle cx="921.1" cy="773.5" r="2.5"/>
<circle cx="920.5" cy="774.8" r="2.5"/>
<circle cx="920.5" cy="775.7" r="2.5"/>
<circle cx="920.7" cy="776.7" r="2.5"/>
<circle cx="920.9" cy="777.9" r="2.5"/>
<circle cx="920.8" cy="779.5" r="2.5"/>
<circle cx="920.9" cy="780.6" r="2.5"/>
<circle cx="920.8" cy="714.2" r="2.5"/>
<circle cx="920.7" cy="716" r="2.5"/>
<circle cx="920.7" cy="720" r="2.5"/>
<circle cx="965.9" cy="800" r="2.5"/>
<circle cx="965.8" cy="805" r="2.5"/>
<circle cx="965.6" cy="812.7" r="2.5"/>
<circle cx="965.8" cy="819.9" r="2.5"/>
<circle cx="965.9" cy="825.2" r="2.5"/>
<circle cx="965.8" cy="826.4" r="2.5"/>
<circle cx="965.4" cy="828.1" r="2.5"/>
<circle cx="965.9" cy="830.2" r="2.5"/>
<circle cx="965.5" cy="831.2" r="2.5"/>
<circle cx="965.9" cy="832.5" r="2.5"/>
<circle cx="965.7" cy="834.7" r="2.5"/>
<circle cx="965.8" cy="836.8" r="2.5"/>
<circle cx="965.5" cy="838.4" r="2.5"/>
<circle cx="965.7" cy="840.8" r="2.5"/>
<circle cx="965.4" cy="843.2" r="2.5"/>
<circle cx="965.7" cy="845.3" r="2.5"/>
<circle cx="965.5" cy="847" r="2.5"/>
<circle cx="965.2" cy="848.6" r="2.5"/>
<circle cx="965.4" cy="849.6" r="2.5"/>
<circle cx="965.2" cy="850.6" r="2.5"/>
<circle cx="965.7" cy="852.3" r="2.5"/>
<circle cx="965.3" cy="853.8" r="2.5"/>
<circle cx="965.8" cy="855.4" r="2.5"/>
<circle cx="965.3" cy="856.8" r="2.5"/>
<circle cx="965.5" cy="767" r="2.5"/>
<circle cx="965.4" cy="779.5" r="2.5"/>
<circle cx="965.3" cy="787" r="2.5"/>
<circle cx="965.8" cy="792" r="2.5"/>
<circle cx="965.6" cy="796" r="2.5"/>
<circle cx="1010.3" cy="868" r="2.5"/>
<circle cx="1010.6" cy="869.9" r="2.5"/>
<circle cx="1010.1" cy="872.5" r="2.5"/>
<circle cx="1010.5" cy="875.8" r="2.5"/>
<circle cx="1010.4" cy="881.8" r="2.5"/>
<circle cx="1010.6" cy="888.3" r="2.5"/>
<circle cx="1010.4" cy="890.3" r="2.5"/>
<circle cx="1010.2" cy="892" r="2.5"/>
<circle cx="1010" cy="893.6" r="2.5"/>
<circle cx="1010.7" cy="896" r="2.5"/>
<circle cx="1010.1" cy="899.5" r="2.5"/>
<circle cx="1010.5" cy="901.2" r="2.5"/>
<circle cx="1010" cy="903.8" r="2.5"/>
<circle cx="1010.4" cy="904.9" r="2.5"/>
<circle cx="1010" cy="907.5" r="2.5"/>
<circle cx="1010.2" cy="910.2" r="2.5"/>
<circle cx="1010.4" cy="912.4" r="2.5"/>
<circle cx="1010.7" cy="913.9" r="2.5"/>
<circle cx="1010.3" cy="915.6" r="2.5"/>
<circle cx="1010.7" cy="917.3" r="2.5"/>
<circle cx="1010.6" cy="919.8" r="2.5"/>
<circle cx="1010.6" cy="921.4" r="2.5"/>
<circle cx="1010.7" cy="923.1" r="2.5"/>
<circle cx="1010.6" cy="925.1" r="2.5"/>
<circle cx="1010.4" cy="926.3" r="2.5"/>
<circle cx="1010.2" cy="927.6" r="2.5"/>
<circle cx="1010.2" cy="929.3" r="2.5"/>
<circle cx="1010.4" cy="930.9" r="2.5"/>
<circle cx="1010.5" cy="932.2" r="2.5"/>
<circle cx="1010.8" cy="933.8" r="2.5"/>
<circle cx="1010.6" cy="811" r="2.5"/>
<circle cx="1010.2" cy="842" r="2.5"/>
<circle cx="1010.5" cy="845" r="2.5"/>
<circle cx="1010.4" cy="849" r="2.5"/>
<circle cx="1010.6" cy="860" r="2.5"/>
<circle cx="1010.3" cy="864" r="2.5"/>
<circle cx="1055.4" cy="840" r="2.5"/>
<circle cx="1054.9" cy="848.8" r="2.5"/>
<circle cx="1055.1" cy="857.2" r="2.5"/>
<circle cx="1055.2" cy="864.1" r="2.5"/>
<circle cx="1055.2" cy="870.6" r="2.5"/>
<circle cx="1054.9" cy="873" r="2.5"/>
<circle cx="1054.8" cy="876.5" r="2.5"/>
<circle cx="1055.5" cy="878.2" r="2.5"/>
<circle cx="1055.5" cy="881.8" r="2.5"/>
<circle cx="1055.2" cy="883.3" r="2.5"/>
<circle cx="1054.9" cy="886.2" r="2.5"/>
<circle cx="1055.5" cy="888.1" r="2.5"/>
<circle cx="1055.2" cy="891.7" r="2.5"/>
<circle cx="1055.5" cy="894.7" r="2.5"/>
<circle cx="1055.3" cy="898.5" r="2.5"/>
<circle cx="1055.5" cy="899.6" r="2.5"/>
<circle cx="1055" cy="900.9" r="2.5"/>
<circle cx="1055.2" cy="902.2" r="2.5"/>
<circle cx="1055.2" cy="904.6" r="2.5"/>
<circle cx="1054.9" cy="906.6" r="2.5"/>
<circle cx="1055.2" cy="909.1" r="2.5"/>
<circle cx="1055.5" cy="910.7" r="2.5"/>
<circle cx="1055.5" cy="913.5" r="2.5"/>
<circle cx="1054.9" cy="916.2" r="2.5"/>
<circle cx="1055.2" cy="917.8" r="2.5"/>
<circle cx="1055.4" cy="919.1" r="2.5"/>
<circle cx="1054.9" cy="921.4" r="2.5"/>
<circle cx="1055.6" cy="923.1" r="2.5"/>
<circle cx="1055.2" cy="925.2" r="2.5"/>
<circle cx="1055.2" cy="926.3" r="2.5"/>
<circle cx="1055.4" cy="927.8" r="2.5"/>
<circle cx="1055" cy="929" r="2.5"/>
<circle cx="1054.8" cy="931" r="2.5"/>
<circle cx="1054.9" cy="932.6" r="2.5"/>
<circle cx="1055.1" cy="934.4" r="2.5"/>
<circle cx="1055" cy="936.3" r="2.5"/>
<circle cx="1055" cy="938.1" r="2.5"/>
<circle cx="1054.9" cy="939" r="2.5"/>
<circle cx="1055.1" cy="940" r="2.5"/>
<circle cx="1055.1" cy="941.8" r="2.5"/>
<circle cx="1054.8" cy="943.4" r="2.5"/>
<circle cx="1055.2" cy="944.8" r="2.5"/>
<circle cx="1055.3" cy="945.8" r="2.5"/>
<circle cx="1055.1" cy="947.1" r="2.5"/>
<circle cx="1055.3" cy="776.5" r="2.5"/>
<circle cx="1055" cy="799.5" r="2.5"/>
<circle cx="1055" cy="806" r="2.5"/>
<circle cx="1054.9" cy="821" r="2.5"/>
<circle cx="1055.1" cy="822.5" r="2.5"/>
<circle cx="1055.3" cy="832" r="2.5"/>
<circle cx="1055.5" cy="836" r="2.5"/>
<circle cx="1099.8" cy="823" r="2.5"/>
<circle cx="1100" cy="828.8" r="2.5"/>
<circle cx="1100.2" cy="834.3" r="2.5"/>
<circle cx="1100.1" cy="842.6" r="2.5"/>
<circle cx="1100.1" cy="851.3" r="2.5"/>
<circle cx="1099.8" cy="856.3" r="2.5"/>
<circle cx="1099.9" cy="867.6" r="2.5"/>
<circle cx="1099.9" cy="875.9" r="2.5"/>
<circle cx="1099.8" cy="882.5" r="2.5"/>
<circle cx="1100.1" cy="887.9" r="2.5"/>
<circle cx="1100.1" cy="900" r="2.5"/>
<circle cx="1100.3" cy="912.9" r="2.5"/>
<circle cx="1100.1" cy="926.2" r="2.5"/>
<circle cx="1100.3" cy="931.5" r="2.5"/>
<circle cx="1100" cy="934.8" r="2.5"/>
<circle cx="1100.1" cy="944.6" r="2.5"/>
<circle cx="1099.9" cy="947.4" r="2.5"/>
<circle cx="1100" cy="959.7" r="2.5"/>
<circle cx="1100.3" cy="970" r="2.5"/>
<circle cx="1100" cy="976.4" r="2.5"/>
<circle cx="1099.7" cy="984" r="2.5"/>
<circle cx="1100" cy="994.3" r="2.5"/>
<circle cx="1145.2" cy="940" r="2.5"/>
<circle cx="1144.8" cy="941.6" r="2.5"/>
<circle cx="1144.9" cy="948.6" r="2.5"/>
<circle cx="1144.7" cy="952.1" r="2.5"/>
<circle cx="1145" cy="953.8" r="2.5"/>
<circle cx="1145.2" cy="955.8" r="2.5"/>
<circle cx="1145.2" cy="959.1" r="2.5"/>
<circle cx="1144.9" cy="960.5" r="2.5"/>
<circle cx="1144.8" cy="961.5" r="2.5"/>
<circle cx="1144.9" cy="962.5" r="2.5"/>
<circle cx="1145.1" cy="964.6" r="2.5"/>
<circle cx="1144.7" cy="965.9" r="2.5"/>
<circle cx="1144.6" cy="787" r="2.5"/>
<circle cx="1145.1" cy="790.1" r="2.5"/>
<circle cx="1144.8" cy="802.3" r="2.5"/>
<circle cx="1144.9" cy="814.7" r="2.5"/>
<circle cx="1145.2" cy="818" r="2.5"/>
<circle cx="1144.7" cy="831.4" r="2.5"/>
<circle cx="1145" cy="841.3" r="2.5"/>
<circle cx="1144.6" cy="848.3" r="2.5"/>
<circle cx="1144.9" cy="855.7" r="2.5"/>
<circle cx="1145" cy="865.2" r="2.5"/>
<circle cx="1144.7" cy="873.7" r="2.5"/>
<circle cx="1145" cy="886.2" r="2.5"/>
<circle cx="1145.2" cy="899" r="2.5"/>
<circle cx="1145.1" cy="905.3" r="2.5"/>
<circle cx="1145" cy="907.9" r="2.5"/>
<circle cx="1145.1" cy="919.3" r="2.5"/>
<circle cx="1145" cy="929.3" r="2.5"/>
<circle cx="1144.9" cy="939.3" r="2.5"/>
<circle cx="1145.1" cy="942.7" r="2.5"/>
</g>
<g stroke="#000"><line x1="135.9" y1="26.5" x2="135.9" y2="533.9" stroke-width="2.9" stroke-linecap="butt"/><line x1="134.5" y1="532.4" x2="594.9" y2="532.4" stroke-width="2.9" stroke-linecap="butt"/><line x1="162.7" y1="532.4" x2="162.7" y2="539.4" stroke-width="2.9" stroke-linecap="butt"/><line x1="207.6" y1="532.4" x2="207.6" y2="539.4" stroke-width="2.9" stroke-linecap="butt"/><line x1="252.4" y1="532.4" x2="252.4" y2="539.4" stroke-width="2.9" stroke-linecap="butt"/><line x1="297.3" y1="532.4" x2="297.3" y2="539.4" stroke-width="2.9" stroke-linecap="butt"/><line x1="342.1" y1="532.4" x2="342.1" y2="539.4" stroke-width="2.9" stroke-linecap="butt"/><line x1="387" y1="532.4" x2="387" y2="539.4" stroke-width="2.9" stroke-linecap="butt"/><line x1="431.9" y1="532.4" x2="431.9" y2="539.4" stroke-width="2.9" stroke-linecap="butt"/><line x1="476.7" y1="532.4" x2="476.7" y2="539.4" stroke-width="2.9" stroke-linecap="butt"/><line x1="521.6" y1="532.4" x2="521.6" y2="539.4" stroke-width="2.9" stroke-linecap="butt"/><line x1="566.4" y1="532.4" x2="566.4" y2="539.4" stroke-width="2.9" stroke-linecap="butt"/><line x1="129.1" y1="49.4" x2="143.8" y2="49.4" stroke-width="2.9" stroke-linecap="butt"/><line x1="129.1" y1="202.9" x2="143.8" y2="202.9" stroke-width="2.9" stroke-linecap="butt"/><line x1="129.1" y1="356.6" x2="143.8" y2="356.6" stroke-width="2.9" stroke-linecap="butt"/><line x1="129.1" y1="510.1" x2="143.8" y2="510.1" stroke-width="2.9" stroke-linecap="butt"/><line x1="714.5" y1="26.5" x2="714.5" y2="533.9" stroke-width="2.9" stroke-linecap="butt"/><line x1="713.1" y1="532.4" x2="1173.4" y2="532.4" stroke-width="2.9" stroke-linecap="butt"/><line x1="741.4" y1="532.4" x2="741.4" y2="539.4" stroke-width="2.9" stroke-linecap="butt"/><line x1="786.2" y1="532.4" x2="786.2" y2="539.4" stroke-width="2.9" stroke-linecap="butt"/><line x1="831.1" y1="532.4" x2="831.1" y2="539.4" stroke-width="2.9" stroke-linecap="butt"/><line x1="875.9" y1="532.4" x2="875.9" y2="539.4" stroke-width="2.9" stroke-linecap="butt"/><line x1="920.7" y1="532.4" x2="920.7" y2="539.4" stroke-width="2.9" stroke-linecap="butt"/><line x1="965.5" y1="532.4" x2="965.5" y2="539.4" stroke-width="2.9" stroke-linecap="butt"/><line x1="1010.4" y1="532.4" x2="1010.4" y2="539.4" stroke-width="2.9" stroke-linecap="butt"/><line x1="1055.2" y1="532.4" x2="1055.2" y2="539.4" stroke-width="2.9" stroke-linecap="butt"/><line x1="1100" y1="532.4" x2="1100" y2="539.4" stroke-width="2.9" stroke-linecap="butt"/><line x1="1144.9" y1="532.4" x2="1144.9" y2="539.4" stroke-width="2.9" stroke-linecap="butt"/><line x1="707.5" y1="76.3" x2="714.5" y2="76.3" stroke-width="2.9" stroke-linecap="butt"/><line x1="707.5" y1="185.8" x2="714.5" y2="185.8" stroke-width="2.9" stroke-linecap="butt"/><line x1="707.5" y1="295.3" x2="714.5" y2="295.3" stroke-width="2.9" stroke-linecap="butt"/><line x1="707.5" y1="404.8" x2="714.5" y2="404.8" stroke-width="2.9" stroke-linecap="butt"/><line x1="707.5" y1="514.3" x2="714.5" y2="514.3" stroke-width="2.9" stroke-linecap="butt"/><line x1="135.9" y1="683.5" x2="135.9" y2="1191" stroke-width="2.9" stroke-linecap="butt"/><line x1="134.5" y1="1189.6" x2="594.9" y2="1189.6" stroke-width="2.9" stroke-linecap="butt"/><line x1="162.7" y1="1189.6" x2="162.7" y2="1196.6" stroke-width="2.9" stroke-linecap="butt"/><line x1="207.6" y1="1189.6" x2="207.6" y2="1196.6" stroke-width="2.9" stroke-linecap="butt"/><line x1="252.4" y1="1189.6" x2="252.4" y2="1196.6" stroke-width="2.9" stroke-linecap="butt"/><line x1="297.3" y1="1189.6" x2="297.3" y2="1196.6" stroke-width="2.9" stroke-linecap="butt"/><line x1="342.1" y1="1189.6" x2="342.1" y2="1196.6" stroke-width="2.9" stroke-linecap="butt"/><line x1="387" y1="1189.6" x2="387" y2="1196.6" stroke-width="2.9" stroke-linecap="butt"/><line x1="431.9" y1="1189.6" x2="431.9" y2="1196.6" stroke-width="2.9" stroke-linecap="butt"/><line x1="476.7" y1="1189.6" x2="476.7" y2="1196.6" stroke-width="2.9" stroke-linecap="butt"/><line x1="521.6" y1="1189.6" x2="521.6" y2="1196.6" stroke-width="2.9" stroke-linecap="butt"/><line x1="566.4" y1="1189.6" x2="566.4" y2="1196.6" stroke-width="2.9" stroke-linecap="butt"/><line x1="128.9" y1="735.9" x2="135.9" y2="735.9" stroke-width="2.9" stroke-linecap="butt"/><line x1="128.9" y1="843.7" x2="135.9" y2="843.7" stroke-width="2.9" stroke-linecap="butt"/><line x1="128.9" y1="951.4" x2="135.9" y2="951.4" stroke-width="2.9" stroke-linecap="butt"/><line x1="128.9" y1="1059.1" x2="135.9" y2="1059.1" stroke-width="2.9" stroke-linecap="butt"/><line x1="128.9" y1="1166.9" x2="135.9" y2="1166.9" stroke-width="2.9" stroke-linecap="butt"/><line x1="714.5" y1="683.5" x2="714.5" y2="1191" stroke-width="2.9" stroke-linecap="butt"/><line x1="713.1" y1="1189.6" x2="1173.4" y2="1189.6" stroke-width="2.9" stroke-linecap="butt"/><line x1="741.4" y1="1189.6" x2="741.4" y2="1196.6" stroke-width="2.9" stroke-linecap="butt"/><line x1="786.2" y1="1189.6" x2="786.2" y2="1196.6" stroke-width="2.9" stroke-linecap="butt"/><line x1="831.1" y1="1189.6" x2="831.1" y2="1196.6" stroke-width="2.9" stroke-linecap="butt"/><line x1="875.9" y1="1189.6" x2="875.9" y2="1196.6" stroke-width="2.9" stroke-linecap="butt"/><line x1="920.7" y1="1189.6" x2="920.7" y2="1196.6" stroke-width="2.9" stroke-linecap="butt"/><line x1="965.5" y1="1189.6" x2="965.5" y2="1196.6" stroke-width="2.9" stroke-linecap="butt"/><line x1="1010.4" y1="1189.6" x2="1010.4" y2="1196.6" stroke-width="2.9" stroke-linecap="butt"/><line x1="1055.2" y1="1189.6" x2="1055.2" y2="1196.6" stroke-width="2.9" stroke-linecap="butt"/><line x1="1100" y1="1189.6" x2="1100" y2="1196.6" stroke-width="2.9" stroke-linecap="butt"/><line x1="1144.9" y1="1189.6" x2="1144.9" y2="1196.6" stroke-width="2.9" stroke-linecap="butt"/><line x1="707.5" y1="686" x2="714.5" y2="686" stroke-width="2.9" stroke-linecap="butt"/><line x1="707.5" y1="846.3" x2="714.5" y2="846.3" stroke-width="2.9" stroke-linecap="butt"/><line x1="707.5" y1="1006.6" x2="714.5" y2="1006.6" stroke-width="2.9" stroke-linecap="butt"/><line x1="707.5" y1="1166.9" x2="714.5" y2="1166.9" stroke-width="2.9" stroke-linecap="butt"/><line x1="135.9" y1="463.9" x2="139.2" y2="463.9" stroke-width="2.2" stroke-linecap="round"/><line x1="135.9" y1="436.9" x2="139.2" y2="436.9" stroke-width="2.2" stroke-linecap="round"/><line x1="135.9" y1="417.7" x2="139.2" y2="417.7" stroke-width="2.2" stroke-linecap="round"/><line x1="135.9" y1="402.8" x2="140.8" y2="402.8" stroke-width="2.2" stroke-linecap="round"/><line x1="135.9" y1="390.6" x2="139.2" y2="390.6" stroke-width="2.2" stroke-linecap="round"/><line x1="135.9" y1="380.3" x2="139.2" y2="380.3" stroke-width="2.2" stroke-linecap="round"/><line x1="135.9" y1="371.4" x2="139.2" y2="371.4" stroke-width="2.2" stroke-linecap="round"/><line x1="135.9" y1="363.6" x2="139.2" y2="363.6" stroke-width="2.2" stroke-linecap="round"/><line x1="135.9" y1="310.3" x2="139.2" y2="310.3" stroke-width="2.2" stroke-linecap="round"/><line x1="135.9" y1="283.3" x2="139.2" y2="283.3" stroke-width="2.2" stroke-linecap="round"/><line x1="135.9" y1="264.1" x2="139.2" y2="264.1" stroke-width="2.2" stroke-linecap="round"/><line x1="135.9" y1="249.2" x2="140.8" y2="249.2" stroke-width="2.2" stroke-linecap="round"/><line x1="135.9" y1="237" x2="139.2" y2="237" stroke-width="2.2" stroke-linecap="round"/><line x1="135.9" y1="226.7" x2="139.2" y2="226.7" stroke-width="2.2" stroke-linecap="round"/><line x1="135.9" y1="217.8" x2="139.2" y2="217.8" stroke-width="2.2" stroke-linecap="round"/><line x1="135.9" y1="210" x2="139.2" y2="210" stroke-width="2.2" stroke-linecap="round"/><line x1="135.9" y1="156.7" x2="139.2" y2="156.7" stroke-width="2.2" stroke-linecap="round"/><line x1="135.9" y1="129.7" x2="139.2" y2="129.7" stroke-width="2.2" stroke-linecap="round"/><line x1="135.9" y1="110.5" x2="139.2" y2="110.5" stroke-width="2.2" stroke-linecap="round"/><line x1="135.9" y1="95.6" x2="140.8" y2="95.6" stroke-width="2.2" stroke-linecap="round"/><line x1="135.9" y1="83.4" x2="139.2" y2="83.4" stroke-width="2.2" stroke-linecap="round"/><line x1="135.9" y1="73.1" x2="139.2" y2="73.1" stroke-width="2.2" stroke-linecap="round"/><line x1="135.9" y1="64.2" x2="139.2" y2="64.2" stroke-width="2.2" stroke-linecap="round"/><line x1="135.9" y1="56.4" x2="139.2" y2="56.4" stroke-width="2.2" stroke-linecap="round"/><line x1="135.9" y1="517.2" x2="139.2" y2="517.2" stroke-width="2.2" stroke-linecap="round"/><line x1="135.9" y1="525" x2="139.2" y2="525" stroke-width="2.2" stroke-linecap="round"/></g>
<g font-family="'Liberation Sans', sans-serif" fill="#000"><text transform="translate(174.1 557) rotate(-45)" text-anchor="end" font-size="22.6">A</text><text transform="translate(219 557) rotate(-45)" text-anchor="end" font-size="22.6">B</text><text transform="translate(263.9 557) rotate(-45)" text-anchor="end" font-size="22.6">C</text><text transform="translate(308.7 557) rotate(-45)" text-anchor="end" font-size="22.6">D</text><text transform="translate(353.6 557) rotate(-45)" text-anchor="end" font-size="22.6">E</text><text transform="translate(398.4 557) rotate(-45)" text-anchor="end" font-size="22.6">F</text><text transform="translate(443.3 557) rotate(-45)" text-anchor="end" font-size="22.6">G</text><text transform="translate(488.2 557) rotate(-45)" text-anchor="end" font-size="22.6">H</text><text transform="translate(533 557) rotate(-45)" text-anchor="end" font-size="22.6">Doublet</text><text transform="translate(577.9 557) rotate(-45)" text-anchor="end" font-size="22.6">Unknown</text><text x="122.5" y="56.9" text-anchor="end" font-size="22.6">1e+05</text><text x="122.5" y="210.5" text-anchor="end" font-size="22.6">1e+04</text><text x="122.5" y="364.1" text-anchor="end" font-size="22.6">1e+03</text><text x="122.5" y="517.7" text-anchor="end" font-size="22.6">1e+02</text><text x="364.8" y="653.6" text-anchor="middle" font-size="26.6">GeneticDonor</text><text transform="translate(46.2 280.9) rotate(-90)" text-anchor="middle" font-size="26.6">sum</text><text transform="translate(752.8 557) rotate(-45)" text-anchor="end" font-size="22.6">A</text><text transform="translate(797.7 557) rotate(-45)" text-anchor="end" font-size="22.6">B</text><text transform="translate(842.5 557) rotate(-45)" text-anchor="end" font-size="22.6">C</text><text transform="translate(887.3 557) rotate(-45)" text-anchor="end" font-size="22.6">D</text><text transform="translate(932.2 557) rotate(-45)" text-anchor="end" font-size="22.6">E</text><text transform="translate(977 557) rotate(-45)" text-anchor="end" font-size="22.6">F</text><text transform="translate(1021.8 557) rotate(-45)" text-anchor="end" font-size="22.6">G</text><text transform="translate(1066.7 557) rotate(-45)" text-anchor="end" font-size="22.6">H</text><text transform="translate(1111.5 557) rotate(-45)" text-anchor="end" font-size="22.6">Doublet</text><text transform="translate(1156.3 557) rotate(-45)" text-anchor="end" font-size="22.6">Unknown</text><text x="701.8" y="84.6" text-anchor="end" font-size="22.6">8000</text><text x="701.8" y="194.1" text-anchor="end" font-size="22.6">6000</text><text x="701.8" y="303.6" text-anchor="end" font-size="22.6">4000</text><text x="701.8" y="413.1" text-anchor="end" font-size="22.6">2000</text><text x="701.8" y="522.6" text-anchor="end" font-size="22.6">0</text><text x="943.4" y="653.6" text-anchor="middle" font-size="26.6">GeneticDonor</text><text transform="translate(638.6 280.9) rotate(-90)" text-anchor="middle" font-size="26.6">detected</text><text transform="translate(174.1 1214.2) rotate(-45)" text-anchor="end" font-size="22.6">A</text><text transform="translate(219 1214.2) rotate(-45)" text-anchor="end" font-size="22.6">B</text><text transform="translate(263.9 1214.2) rotate(-45)" text-anchor="end" font-size="22.6">C</text><text transform="translate(308.7 1214.2) rotate(-45)" text-anchor="end" font-size="22.6">D</text><text transform="translate(353.6 1214.2) rotate(-45)" text-anchor="end" font-size="22.6">E</text><text transform="translate(398.4 1214.2) rotate(-45)" text-anchor="end" font-size="22.6">F</text><text transform="translate(443.3 1214.2) rotate(-45)" text-anchor="end" font-size="22.6">G</text><text transform="translate(488.2 1214.2) rotate(-45)" text-anchor="end" font-size="22.6">H</text><text transform="translate(533 1214.2) rotate(-45)" text-anchor="end" font-size="22.6">Doublet</text><text transform="translate(577.9 1214.2) rotate(-45)" text-anchor="end" font-size="22.6">Unknown</text><text x="123.2" y="744.2" text-anchor="end" font-size="22.6">80</text><text x="123.2" y="852" text-anchor="end" font-size="22.6">60</text><text x="123.2" y="959.7" text-anchor="end" font-size="22.6">40</text><text x="123.2" y="1067.4" text-anchor="end" font-size="22.6">20</text><text x="123.2" y="1175.2" text-anchor="end" font-size="22.6">0</text><text x="364.8" y="1310.8" text-anchor="middle" font-size="26.6">GeneticDonor</text><text transform="translate(46.2 938) rotate(-90)" text-anchor="middle" font-size="26.6">subsets_Mito_percent</text><text transform="translate(752.8 1214.2) rotate(-45)" text-anchor="end" font-size="22.6">A</text><text transform="translate(797.7 1214.2) rotate(-45)" text-anchor="end" font-size="22.6">B</text><text transform="translate(842.5 1214.2) rotate(-45)" text-anchor="end" font-size="22.6">C</text><text transform="translate(887.3 1214.2) rotate(-45)" text-anchor="end" font-size="22.6">D</text><text transform="translate(932.2 1214.2) rotate(-45)" text-anchor="end" font-size="22.6">E</text><text transform="translate(977 1214.2) rotate(-45)" text-anchor="end" font-size="22.6">F</text><text transform="translate(1021.8 1214.2) rotate(-45)" text-anchor="end" font-size="22.6">G</text><text transform="translate(1066.7 1214.2) rotate(-45)" text-anchor="end" font-size="22.6">H</text><text transform="translate(1111.5 1214.2) rotate(-45)" text-anchor="end" font-size="22.6">Doublet</text><text transform="translate(1156.3 1214.2) rotate(-45)" text-anchor="end" font-size="22.6">Unknown</text><text x="701.8" y="694.3" text-anchor="end" font-size="22.6">60</text><text x="701.8" y="854.6" text-anchor="end" font-size="22.6">40</text><text x="701.8" y="1014.9" text-anchor="end" font-size="22.6">20</text><text x="701.8" y="1175.2" text-anchor="end" font-size="22.6">0</text><text x="943.4" y="1310.8" text-anchor="middle" font-size="26.6">GeneticDonor</text><text transform="translate(638.6 938) rotate(-90)" text-anchor="middle" font-size="26.6">subsets_Ribo_percent</text><text x="1200.9" y="582.9" text-anchor="start" font-size="26.6">keep</text><text x="1243.5" y="621.7" text-anchor="start" font-size="23.2">FALSE</text><text x="1243.5" y="650.2" text-anchor="start" font-size="23.2">TRUE</text></g>
<circle cx="1215.8" cy="613.4" r="2.6" fill="#668DC6" fill-opacity=".6" stroke="#668DC6" stroke-opacity=".6" stroke-width="1.3"/>
<circle cx="1215.8" cy="642.4" r="2.6" fill="#FD8D3C" fill-opacity=".6" stroke="#FD8D3C" stroke-opacity=".6" stroke-width="1.3"/>
</svg>
</body></html>
